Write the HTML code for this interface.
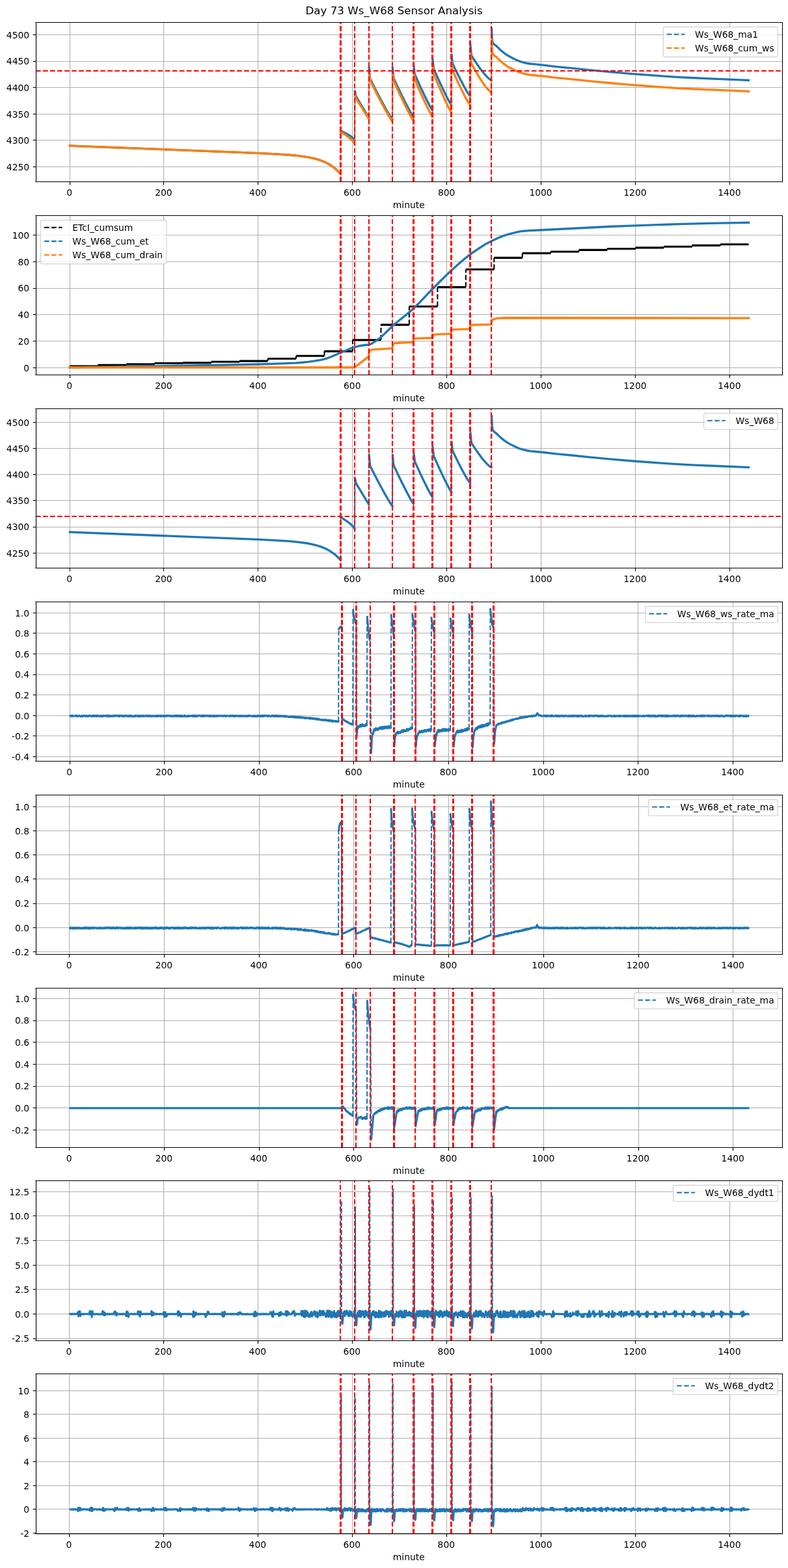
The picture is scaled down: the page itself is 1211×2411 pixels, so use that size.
<!DOCTYPE html><html><head><meta charset="utf-8"><title>Day 73 Ws_W68 Sensor Analysis</title><style>html,body{margin:0;padding:0;background:#fff;width:1211px;height:2411px;overflow:hidden}svg{display:block}</style></head><body><svg width="1211" height="2411" viewBox="0 0 871.92 1735.92" version="1.1"><defs><style type="text/css">*{stroke-linejoin: round; stroke-linecap: butt}</style></defs><g id="figure_1"><g id="patch_1"><path d="M 0 1735.92 L 871.92 1735.92 L 871.92 0 L 0 0 z" style="fill: #ffffff"/></g><g id="axes_1"><g id="patch_2"><path d="M 39.492 201.24 L 865.202 201.24 L 865.202 24.84 L 39.492 24.84 z" style="fill: #ffffff"/></g><g id="matplotlib.axis_1"><g id="xtick_1"><g id="line2d_1"><path d="M 77.4 201.24 L 77.4 24.84" clip-path="url(#p0566f9b55a)" style="fill: none; stroke: #b0b0b0; stroke-width: 0.8; stroke-linecap: square"/></g><g id="line2d_2"><defs><path id="m1504cfccaf" d="M 0 0 L 0 3.5" style="stroke: #000000; stroke-width: 0.8"/></defs><g><use href="#m1504cfccaf" x="77.4" y="201.24" style="stroke: #000000; stroke-width: 0.8"/></g></g><g id="text_1"><text style="font-size: 10px; font-family: 'DejaVu Sans', 'Liberation Sans', sans-serif; text-anchor: middle" x="76.711" y="216.558" transform="rotate(-0 76.711 216.558)">0</text></g></g><g id="xtick_2"><g id="line2d_3"><path d="M 181.08 201.24 L 181.08 24.84" clip-path="url(#p0566f9b55a)" style="fill: none; stroke: #b0b0b0; stroke-width: 0.8; stroke-linecap: square"/></g><g id="line2d_4"><g><use href="#m1504cfccaf" x="181.08" y="201.24" style="stroke: #000000; stroke-width: 0.8"/></g></g><g id="text_2"><text style="font-size: 10px; font-family: 'DejaVu Sans', 'Liberation Sans', sans-serif; text-anchor: middle" x="181.04" y="216.558" transform="rotate(-0 181.04 216.558)">200</text></g></g><g id="xtick_3"><g id="line2d_5"><path d="M 285.48 201.24 L 285.48 24.84" clip-path="url(#p0566f9b55a)" style="fill: none; stroke: #b0b0b0; stroke-width: 0.8; stroke-linecap: square"/></g><g id="line2d_6"><g><use href="#m1504cfccaf" x="285.48" y="201.24" style="stroke: #000000; stroke-width: 0.8"/></g></g><g id="text_3"><text style="font-size: 10px; font-family: 'DejaVu Sans', 'Liberation Sans', sans-serif; text-anchor: middle" x="285.369" y="216.558" transform="rotate(-0 285.369 216.558)">400</text></g></g><g id="xtick_4"><g id="line2d_7"><path d="M 389.88 201.24 L 389.88 24.84" clip-path="url(#p0566f9b55a)" style="fill: none; stroke: #b0b0b0; stroke-width: 0.8; stroke-linecap: square"/></g><g id="line2d_8"><g><use href="#m1504cfccaf" x="389.88" y="201.24" style="stroke: #000000; stroke-width: 0.8"/></g></g><g id="text_4"><text style="font-size: 10px; font-family: 'DejaVu Sans', 'Liberation Sans', sans-serif; text-anchor: middle" x="389.698" y="216.558" transform="rotate(-0 389.698 216.558)">600</text></g></g><g id="xtick_5"><g id="line2d_9"><path d="M 494.28 201.24 L 494.28 24.84" clip-path="url(#p0566f9b55a)" style="fill: none; stroke: #b0b0b0; stroke-width: 0.8; stroke-linecap: square"/></g><g id="line2d_10"><g><use href="#m1504cfccaf" x="494.28" y="201.24" style="stroke: #000000; stroke-width: 0.8"/></g></g><g id="text_5"><text style="font-size: 10px; font-family: 'DejaVu Sans', 'Liberation Sans', sans-serif; text-anchor: middle" x="494.027" y="216.558" transform="rotate(-0 494.027 216.558)">800</text></g></g><g id="xtick_6"><g id="line2d_11"><path d="M 598.68 201.24 L 598.68 24.84" clip-path="url(#p0566f9b55a)" style="fill: none; stroke: #b0b0b0; stroke-width: 0.8; stroke-linecap: square"/></g><g id="line2d_12"><g><use href="#m1504cfccaf" x="598.68" y="201.24" style="stroke: #000000; stroke-width: 0.8"/></g></g><g id="text_6"><text style="font-size: 10px; font-family: 'DejaVu Sans', 'Liberation Sans', sans-serif; text-anchor: middle" x="598.355" y="216.558" transform="rotate(-0 598.355 216.558)">1000</text></g></g><g id="xtick_7"><g id="line2d_13"><path d="M 703.08 201.24 L 703.08 24.84" clip-path="url(#p0566f9b55a)" style="fill: none; stroke: #b0b0b0; stroke-width: 0.8; stroke-linecap: square"/></g><g id="line2d_14"><g><use href="#m1504cfccaf" x="703.08" y="201.24" style="stroke: #000000; stroke-width: 0.8"/></g></g><g id="text_7"><text style="font-size: 10px; font-family: 'DejaVu Sans', 'Liberation Sans', sans-serif; text-anchor: middle" x="702.684" y="216.558" transform="rotate(-0 702.684 216.558)">1200</text></g></g><g id="xtick_8"><g id="line2d_15"><path d="M 807.48 201.24 L 807.48 24.84" clip-path="url(#p0566f9b55a)" style="fill: none; stroke: #b0b0b0; stroke-width: 0.8; stroke-linecap: square"/></g><g id="line2d_16"><g><use href="#m1504cfccaf" x="807.48" y="201.24" style="stroke: #000000; stroke-width: 0.8"/></g></g><g id="text_8"><text style="font-size: 10px; font-family: 'DejaVu Sans', 'Liberation Sans', sans-serif; text-anchor: middle" x="807.013" y="216.558" transform="rotate(-0 807.013 216.558)">1400</text></g></g><g id="text_9"><text style="font-size: 10px; font-family: 'DejaVu Sans', 'Liberation Sans', sans-serif; text-anchor: middle" x="452.347" y="230.237" transform="rotate(-0 452.347 230.237)">minute</text></g></g><g id="matplotlib.axis_2"><g id="ytick_1"><g id="line2d_17"><path d="M 39.492 184.68 L 865.202 184.68" clip-path="url(#p0566f9b55a)" style="fill: none; stroke: #b0b0b0; stroke-width: 0.8; stroke-linecap: square"/></g><g id="line2d_18"><defs><path id="m5d545ce8f8" d="M 0 0 L -3.5 0" style="stroke: #000000; stroke-width: 0.8"/></defs><g><use href="#m5d545ce8f8" x="39.96" y="184.68" style="stroke: #000000; stroke-width: 0.8"/></g></g><g id="text_10"><text style="font-size: 10px; font-family: 'DejaVu Sans', 'Liberation Sans', sans-serif; text-anchor: end" x="32.492" y="188.493" transform="rotate(-0 32.492 188.493)">4250</text></g></g><g id="ytick_2"><g id="line2d_19"><path d="M 39.492 155.16 L 865.202 155.16" clip-path="url(#p0566f9b55a)" style="fill: none; stroke: #b0b0b0; stroke-width: 0.8; stroke-linecap: square"/></g><g id="line2d_20"><g><use href="#m5d545ce8f8" x="39.96" y="155.16" style="stroke: #000000; stroke-width: 0.8"/></g></g><g id="text_11"><text style="font-size: 10px; font-family: 'DejaVu Sans', 'Liberation Sans', sans-serif; text-anchor: end" x="32.492" y="159.258" transform="rotate(-0 32.492 159.258)">4300</text></g></g><g id="ytick_3"><g id="line2d_21"><path d="M 39.492 126.36 L 865.202 126.36" clip-path="url(#p0566f9b55a)" style="fill: none; stroke: #b0b0b0; stroke-width: 0.8; stroke-linecap: square"/></g><g id="line2d_22"><g><use href="#m5d545ce8f8" x="39.96" y="126.36" style="stroke: #000000; stroke-width: 0.8"/></g></g><g id="text_12"><text style="font-size: 10px; font-family: 'DejaVu Sans', 'Liberation Sans', sans-serif; text-anchor: end" x="32.492" y="130.024" transform="rotate(-0 32.492 130.024)">4350</text></g></g><g id="ytick_4"><g id="line2d_23"><path d="M 39.492 96.84 L 865.202 96.84" clip-path="url(#p0566f9b55a)" style="fill: none; stroke: #b0b0b0; stroke-width: 0.8; stroke-linecap: square"/></g><g id="line2d_24"><g><use href="#m5d545ce8f8" x="39.96" y="96.84" style="stroke: #000000; stroke-width: 0.8"/></g></g><g id="text_13"><text style="font-size: 10px; font-family: 'DejaVu Sans', 'Liberation Sans', sans-serif; text-anchor: end" x="32.492" y="100.79" transform="rotate(-0 32.492 100.79)">4400</text></g></g><g id="ytick_5"><g id="line2d_25"><path d="M 39.492 68.04 L 865.202 68.04" clip-path="url(#p0566f9b55a)" style="fill: none; stroke: #b0b0b0; stroke-width: 0.8; stroke-linecap: square"/></g><g id="line2d_26"><g><use href="#m5d545ce8f8" x="39.96" y="68.04" style="stroke: #000000; stroke-width: 0.8"/></g></g><g id="text_14"><text style="font-size: 10px; font-family: 'DejaVu Sans', 'Liberation Sans', sans-serif; text-anchor: end" x="32.492" y="71.555" transform="rotate(-0 32.492 71.555)">4450</text></g></g><g id="ytick_6"><g id="line2d_27"><path d="M 39.492 38.52 L 865.202 38.52" clip-path="url(#p0566f9b55a)" style="fill: none; stroke: #b0b0b0; stroke-width: 0.8; stroke-linecap: square"/></g><g id="line2d_28"><g><use href="#m5d545ce8f8" x="39.96" y="38.52" style="stroke: #000000; stroke-width: 0.8"/></g></g><g id="text_15"><text style="font-size: 10px; font-family: 'DejaVu Sans', 'Liberation Sans', sans-serif; text-anchor: end" x="32.492" y="42.321" transform="rotate(-0 32.492 42.321)">4500</text></g></g></g><g id="line2d_29"><path d="M 77.34 161.31 L 288.08 169.68 L 307.9 170.7 L 319.9 171.53 L 328.77 172.35 L 335.55 173.19 L 341.29 174.12 L 345.98 175.08 L 350.16 176.13 L 353.81 177.26 L 357.46 178.62 L 360.59 180.01 L 363.72 181.65 L 366.33 183.26 L 368.94 185.11 L 371.54 187.24 L 374.15 189.72 L 376.24 191.97 L 376.76 192.58 L 376.76 192.58" clip-path="url(#p0566f9b55a)" style="fill: none; stroke: #1f77b4; stroke-width: 2.4; stroke-linecap: square"/></g><g id="line2d_30"><path d="M 377.07 145.17 L 377.6 145.26 L 378.13 145.35 L 378.66 145.61 L 379.19 145.87 L 379.72 146.13 L 380.25 146.39 L 380.78 146.66 L 381.3 146.93 L 381.83 147.21 L 382.36 147.49 L 382.89 147.78 L 383.42 148.07 L 383.95 148.36 L 384.48 148.66 L 385.01 148.97 L 385.54 149.28 L 386.06 149.6 L 386.59 149.93 L 387.12 150.27 L 387.65 150.62 L 388.18 150.98 L 388.71 151.35 L 389.24 151.74 L 389.77 152.15 L 390.29 152.59 L 390.82 153.06 L 391.35 153.58 L 391.88 154.19 L 392.41 155.17" clip-path="url(#p0566f9b55a)" style="fill: none; stroke: #1f77b4; stroke-width: 2.4; stroke-linecap: square"/></g><g id="line2d_31"><path d="M 392.72 101.08 L 393.25 103.75 L 393.78 106.37 L 394.31 107.26 L 394.84 108.14 L 395.37 109.03 L 395.9 109.92 L 396.43 110.8 L 396.95 111.69 L 397.48 112.58 L 398.01 113.47 L 398.54 114.35 L 399.07 115.24 L 399.6 116.13 L 400.13 117.01 L 400.66 117.9 L 401.18 118.79 L 401.71 119.67 L 402.24 120.56 L 402.77 121.45 L 403.3 122.33 L 403.83 123.22 L 404.36 124.11 L 404.89 125 L 405.42 125.88 L 405.94 126.77 L 406.47 127.66 L 407 128.54 L 407.53 129.43 L 408.06 130.32" clip-path="url(#p0566f9b55a)" style="fill: none; stroke: #1f77b4; stroke-width: 2.4; stroke-linecap: square"/></g><g id="line2d_32"><path d="M 408.37 74.77 L 408.9 80.96 L 409.42 87.07 L 409.95 88.12 L 410.48 89.17 L 411 90.22 L 411.53 91.26 L 412.05 92.31 L 412.58 93.35 L 413.11 94.38 L 413.63 95.42 L 414.16 96.45 L 414.68 97.48 L 415.21 98.51 L 415.74 99.53 L 416.26 100.55 L 416.79 101.57 L 417.31 102.59 L 417.84 103.6 L 418.36 104.61 L 418.89 105.61 L 419.42 106.61 L 419.94 107.61 L 420.47 108.61 L 420.99 109.6 L 421.52 110.58 L 422.05 111.57 L 422.57 112.55 L 423.1 113.52 L 423.62 114.49 L 424.15 115.45 L 424.68 116.41 L 425.2 117.37 L 425.73 118.32 L 426.25 119.26 L 426.78 120.2 L 427.31 121.12 L 427.83 122.05 L 428.36 122.96 L 428.88 123.87 L 429.41 124.77 L 429.93 125.65 L 430.46 126.53 L 430.99 127.4 L 431.51 128.24 L 432.04 129.08 L 432.56 129.89 L 433.09 130.67 L 433.62 131.42 L 434.14 132.07" clip-path="url(#p0566f9b55a)" style="fill: none; stroke: #1f77b4; stroke-width: 2.4; stroke-linecap: square"/></g><g id="line2d_33"><path d="M 434.45 75.06 L 434.98 80.82 L 435.51 86.49 L 436.03 87.62 L 436.56 88.75 L 437.09 89.87 L 437.61 90.99 L 438.14 92.11 L 438.67 93.23 L 439.19 94.35 L 439.72 95.46 L 440.25 96.56 L 440.77 97.67 L 441.3 98.77 L 441.82 99.86 L 442.35 100.96 L 442.88 102.05 L 443.4 103.13 L 443.93 104.21 L 444.46 105.29 L 444.98 106.37 L 445.51 107.43 L 446.04 108.5 L 446.56 109.56 L 447.09 110.61 L 447.61 111.66 L 448.14 112.7 L 448.67 113.74 L 449.19 114.77 L 449.72 115.8 L 450.25 116.82 L 450.77 117.83 L 451.3 118.83 L 451.83 119.83 L 452.35 120.81 L 452.88 121.79 L 453.4 122.75 L 453.93 123.71 L 454.46 124.65 L 454.98 125.57 L 455.51 126.48 L 456.04 127.36 L 456.56 128.21 L 457.09 129.02 L 457.62 129.73" clip-path="url(#p0566f9b55a)" style="fill: none; stroke: #1f77b4; stroke-width: 2.4; stroke-linecap: square"/></g><g id="line2d_34"><path d="M 457.93 73.6 L 458.46 78.03 L 458.98 82.4 L 459.51 83.58 L 460.04 84.75 L 460.56 85.93 L 461.09 87.1 L 461.62 88.26 L 462.14 89.42 L 462.67 90.58 L 463.2 91.74 L 463.73 92.89 L 464.25 94.04 L 464.78 95.18 L 465.31 96.32 L 465.83 97.45 L 466.36 98.58 L 466.89 99.7 L 467.41 100.82 L 467.94 101.94 L 468.47 103.04 L 469 104.15 L 469.52 105.24 L 470.05 106.33 L 470.58 107.41 L 471.1 108.49 L 471.63 109.56 L 472.16 110.62 L 472.68 111.67 L 473.21 112.71 L 473.74 113.74 L 474.27 114.76 L 474.79 115.77 L 475.32 116.76 L 475.85 117.74 L 476.37 118.69 L 476.9 119.63 L 477.43 120.53 L 477.95 121.38 L 478.48 122.13" clip-path="url(#p0566f9b55a)" style="fill: none; stroke: #1f77b4; stroke-width: 2.4; stroke-linecap: square"/></g><g id="line2d_35"><path d="M 478.79 66.24 L 479.32 71.14 L 479.85 75.97 L 480.38 77.16 L 480.9 78.36 L 481.43 79.55 L 481.96 80.73 L 482.48 81.92 L 483.01 83.1 L 483.54 84.27 L 484.06 85.44 L 484.59 86.61 L 485.12 87.78 L 485.65 88.93 L 486.17 90.09 L 486.7 91.24 L 487.23 92.39 L 487.75 93.53 L 488.28 94.66 L 488.81 95.79 L 489.33 96.92 L 489.86 98.03 L 490.39 99.15 L 490.92 100.25 L 491.44 101.35 L 491.97 102.44 L 492.5 103.53 L 493.02 104.6 L 493.55 105.67 L 494.08 106.72 L 494.6 107.77 L 495.13 108.81 L 495.66 109.83 L 496.19 110.83 L 496.71 111.82 L 497.24 112.8 L 497.77 113.74 L 498.29 114.66 L 498.82 115.53 L 499.35 116.29" clip-path="url(#p0566f9b55a)" style="fill: none; stroke: #1f77b4; stroke-width: 2.4; stroke-linecap: square"/></g><g id="line2d_36"><path d="M 499.66 60.45 L 500.19 65.32 L 500.71 70.12 L 501.24 71.24 L 501.77 72.36 L 502.3 73.47 L 502.82 74.58 L 503.35 75.69 L 503.88 76.79 L 504.4 77.88 L 504.93 78.97 L 505.46 80.05 L 505.98 81.13 L 506.51 82.2 L 507.04 83.27 L 507.57 84.32 L 508.09 85.38 L 508.62 86.42 L 509.15 87.46 L 509.67 88.49 L 510.2 89.51 L 510.73 90.53 L 511.25 91.53 L 511.78 92.53 L 512.31 93.52 L 512.84 94.5 L 513.36 95.46 L 513.89 96.42 L 514.42 97.37 L 514.94 98.3 L 515.47 99.22 L 516 100.12 L 516.52 101.01 L 517.05 101.87 L 517.58 102.72 L 518.11 103.54 L 518.63 104.33 L 519.16 105.08 L 519.69 105.78 L 520.21 106.35" clip-path="url(#p0566f9b55a)" style="fill: none; stroke: #1f77b4; stroke-width: 2.4; stroke-linecap: square"/></g><g id="line2d_37"><path d="M 520.53 50.51 L 521.05 55.97 L 521.58 61.34 L 522.11 62.19 L 522.63 63.03 L 523.16 63.86 L 523.68 64.69 L 524.21 65.51 L 524.74 66.33 L 525.26 67.14 L 525.79 67.94 L 526.32 68.73 L 526.84 69.52 L 527.37 70.3 L 527.9 71.07 L 528.42 71.84 L 528.95 72.59 L 529.47 73.34 L 530 74.08 L 530.53 74.81 L 531.05 75.54 L 531.58 76.25 L 532.11 76.96 L 532.63 77.65 L 533.16 78.34 L 533.69 79.01 L 534.21 79.68 L 534.74 80.33 L 535.26 80.97 L 535.79 81.6 L 536.32 82.22 L 536.84 82.83 L 537.37 83.42 L 537.9 83.99 L 538.42 84.55 L 538.95 85.1 L 539.48 85.62 L 540 86.13 L 540.53 86.62 L 541.06 87.08 L 541.58 87.51 L 542.11 87.92 L 542.63 88.28 L 543.16 88.59 L 543.69 88.8" clip-path="url(#p0566f9b55a)" style="fill: none; stroke: #1f77b4; stroke-width: 2.4; stroke-linecap: square"/></g><g id="line2d_38"><path d="M 544 31.51 L 544.52 43.38 L 545.04 46.36 L 545.56 47.48 L 546.09 48.31 L 547.13 49.4 L 549.22 50.88 L 552.87 54.49 L 556 57.21 L 558.61 59.27 L 561.21 61.03 L 564.34 62.85 L 569.56 65.54 L 572.69 67 L 575.3 67.98 L 579.47 69.19 L 583.12 70.03 L 586.25 70.55 L 590.95 71.06 L 601.38 72.08 L 614.42 73.66 L 638.42 76 L 651.98 77.45 L 677.54 79.86 L 699.97 81.76 L 729.71 84.01 L 750.05 85.35 L 766.74 86.23 L 789.17 87.16 L 819.43 88.44 L 828.3 88.85 L 828.3 88.85" clip-path="url(#p0566f9b55a)" style="fill: none; stroke: #1f77b4; stroke-width: 2.4; stroke-linecap: square"/></g><g id="line2d_39"><path d="M 376.761 192.581 L 377.074 145.169" clip-path="url(#p0566f9b55a)" style="fill: none; stroke-dasharray: 5.55,2.4; stroke-dashoffset: 0; stroke: #1f77b4; stroke-width: 1.5"/></g><g id="line2d_40"><path d="M 392.41 155.167 L 392.723 101.083" clip-path="url(#p0566f9b55a)" style="fill: none; stroke-dasharray: 5.55,2.4; stroke-dashoffset: 0; stroke: #1f77b4; stroke-width: 1.5"/></g><g id="line2d_41"><path d="M 408.06 130.317 L 408.373 74.772" clip-path="url(#p0566f9b55a)" style="fill: none; stroke-dasharray: 5.55,2.4; stroke-dashoffset: 0; stroke: #1f77b4; stroke-width: 1.5"/></g><g id="line2d_42"><path d="M 434.142 132.072 L 434.455 75.065" clip-path="url(#p0566f9b55a)" style="fill: none; stroke-dasharray: 5.55,2.4; stroke-dashoffset: 0; stroke: #1f77b4; stroke-width: 1.5"/></g><g id="line2d_43"><path d="M 457.616 129.733 L 457.929 73.603" clip-path="url(#p0566f9b55a)" style="fill: none; stroke-dasharray: 5.55,2.4; stroke-dashoffset: 0; stroke: #1f77b4; stroke-width: 1.5"/></g><g id="line2d_44"><path d="M 478.482 122.132 L 478.795 66.236" clip-path="url(#p0566f9b55a)" style="fill: none; stroke-dasharray: 5.55,2.4; stroke-dashoffset: 0; stroke: #1f77b4; stroke-width: 1.5"/></g><g id="line2d_45"><path d="M 499.347 116.285 L 499.66 60.447" clip-path="url(#p0566f9b55a)" style="fill: none; stroke-dasharray: 5.55,2.4; stroke-dashoffset: 0; stroke: #1f77b4; stroke-width: 1.5"/></g><g id="line2d_46"><path d="M 520.213 106.345 L 520.526 50.508" clip-path="url(#p0566f9b55a)" style="fill: none; stroke-dasharray: 5.55,2.4; stroke-dashoffset: 0; stroke: #1f77b4; stroke-width: 1.5"/></g><g id="line2d_47"><path d="M 543.687 88.805 L 544 31.505" clip-path="url(#p0566f9b55a)" style="fill: none; stroke-dasharray: 5.55,2.4; stroke-dashoffset: 0; stroke: #1f77b4; stroke-width: 1.5"/></g><g id="line2d_48"><path d="M 77.34 161.31 L 288.08 169.68 L 307.9 170.7 L 319.9 171.53 L 328.77 172.35 L 335.55 173.19 L 341.29 174.12 L 345.98 175.08 L 350.16 176.13 L 353.81 177.26 L 357.46 178.62 L 360.59 180.01 L 363.72 181.65 L 366.33 183.26 L 368.94 185.11 L 371.54 187.24 L 374.15 189.72 L 376.24 191.97 L 376.76 192.58 L 376.76 192.58" clip-path="url(#p0566f9b55a)" style="fill: none; stroke: #ff7f0e; stroke-width: 2.4; stroke-linecap: square"/></g><g id="line2d_49"><path d="M 377.07 146.4 L 377.6 146.54 L 378.13 146.7 L 378.66 147.03 L 379.19 147.37 L 379.72 147.72 L 380.25 148.06 L 380.78 148.41 L 381.3 148.77 L 381.83 149.13 L 382.36 149.5 L 382.89 149.87 L 383.42 150.25 L 383.95 150.64 L 384.48 151.03 L 385.01 151.44 L 385.54 151.85 L 386.06 152.27 L 386.59 152.7 L 387.12 153.14 L 387.65 153.59 L 388.18 154.07 L 388.71 154.56 L 389.24 155.07 L 389.77 155.6 L 390.29 156.17 L 390.82 156.79 L 391.35 157.47 L 391.88 158.27 L 392.41 159.55" clip-path="url(#p0566f9b55a)" style="fill: none; stroke: #ff7f0e; stroke-width: 2.4; stroke-linecap: square"/></g><g id="line2d_50"><path d="M 392.72 105.18 L 393.25 106.95 L 393.78 108.71 L 394.31 109.55 L 394.84 110.39 L 395.37 111.24 L 395.9 112.08 L 396.43 112.93 L 396.95 113.77 L 397.48 114.61 L 398.01 115.46 L 398.54 116.3 L 399.07 117.14 L 399.6 117.99 L 400.13 118.83 L 400.66 119.68 L 401.18 120.52 L 401.71 121.36 L 402.24 122.21 L 402.77 123.05 L 403.3 123.89 L 403.83 124.74 L 404.36 125.58 L 404.89 126.42 L 405.42 127.27 L 405.94 128.11 L 406.47 128.96 L 407 129.8 L 407.53 130.64 L 408.06 131.49" clip-path="url(#p0566f9b55a)" style="fill: none; stroke: #ff7f0e; stroke-width: 2.4; stroke-linecap: square"/></g><g id="line2d_51"><path d="M 408.37 80.62 L 408.9 84.75 L 409.42 88.82 L 409.95 89.89 L 410.48 90.95 L 411 92.01 L 411.53 93.07 L 412.05 94.13 L 412.58 95.18 L 413.11 96.23 L 413.63 97.28 L 414.16 98.33 L 414.68 99.37 L 415.21 100.41 L 415.74 101.45 L 416.26 102.48 L 416.79 103.51 L 417.31 104.54 L 417.84 105.57 L 418.36 106.59 L 418.89 107.61 L 419.42 108.62 L 419.94 109.63 L 420.47 110.64 L 420.99 111.64 L 421.52 112.64 L 422.05 113.64 L 422.57 114.63 L 423.1 115.62 L 423.62 116.6 L 424.15 117.58 L 424.68 118.55 L 425.2 119.52 L 425.73 120.48 L 426.25 121.43 L 426.78 122.38 L 427.31 123.32 L 427.83 124.26 L 428.36 125.18 L 428.88 126.1 L 429.41 127.01 L 429.93 127.91 L 430.46 128.8 L 430.99 129.67 L 431.51 130.53 L 432.04 131.38 L 432.56 132.2 L 433.09 133 L 433.62 133.75 L 434.14 134.41" clip-path="url(#p0566f9b55a)" style="fill: none; stroke: #ff7f0e; stroke-width: 2.4; stroke-linecap: square"/></g><g id="line2d_52"><path d="M 434.45 82.02 L 434.98 85.74 L 435.51 89.41 L 436.03 90.57 L 436.56 91.73 L 437.09 92.89 L 437.61 94.04 L 438.14 95.19 L 438.67 96.34 L 439.19 97.48 L 439.72 98.62 L 440.25 99.76 L 440.77 100.89 L 441.3 102.02 L 441.82 103.15 L 442.35 104.27 L 442.88 105.39 L 443.4 106.51 L 443.93 107.62 L 444.46 108.72 L 444.98 109.83 L 445.51 110.92 L 446.04 112.02 L 446.56 113.11 L 447.09 114.19 L 447.61 115.27 L 448.14 116.34 L 448.67 117.4 L 449.19 118.46 L 449.72 119.52 L 450.25 120.56 L 450.77 121.6 L 451.3 122.63 L 451.83 123.65 L 452.35 124.66 L 452.88 125.67 L 453.4 126.66 L 453.93 127.64 L 454.46 128.6 L 454.98 129.55 L 455.51 130.48 L 456.04 131.39 L 456.56 132.27 L 457.09 133.1 L 457.62 133.83" clip-path="url(#p0566f9b55a)" style="fill: none; stroke: #ff7f0e; stroke-width: 2.4; stroke-linecap: square"/></g><g id="line2d_53"><path d="M 457.93 80.62 L 458.46 84.46 L 458.98 88.24 L 459.51 89.46 L 460.04 90.67 L 460.56 91.88 L 461.09 93.08 L 461.62 94.28 L 462.14 95.48 L 462.67 96.67 L 463.2 97.86 L 463.73 99.05 L 464.25 100.23 L 464.78 101.4 L 465.31 102.57 L 465.83 103.74 L 466.36 104.9 L 466.89 106.06 L 467.41 107.21 L 467.94 108.36 L 468.47 109.5 L 469 110.63 L 469.52 111.76 L 470.05 112.88 L 470.58 114 L 471.1 115.1 L 471.63 116.2 L 472.16 117.29 L 472.68 118.38 L 473.21 119.45 L 473.74 120.51 L 474.27 121.56 L 474.79 122.6 L 475.32 123.62 L 475.85 124.62 L 476.37 125.61 L 476.9 126.57 L 477.43 127.5 L 477.95 128.38 L 478.48 129.15" clip-path="url(#p0566f9b55a)" style="fill: none; stroke: #ff7f0e; stroke-width: 2.4; stroke-linecap: square"/></g><g id="line2d_54"><path d="M 478.79 73.6 L 479.32 77.74 L 479.85 81.81 L 480.38 83.08 L 480.9 84.34 L 481.43 85.6 L 481.96 86.86 L 482.48 88.11 L 483.01 89.36 L 483.54 90.6 L 484.06 91.84 L 484.59 93.08 L 485.12 94.31 L 485.65 95.54 L 486.17 96.76 L 486.7 97.97 L 487.23 99.19 L 487.75 100.39 L 488.28 101.59 L 488.81 102.79 L 489.33 103.98 L 489.86 105.16 L 490.39 106.34 L 490.92 107.51 L 491.44 108.67 L 491.97 109.83 L 492.5 110.97 L 493.02 112.11 L 493.55 113.24 L 494.08 114.36 L 494.6 115.46 L 495.13 116.56 L 495.66 117.64 L 496.19 118.7 L 496.71 119.75 L 497.24 120.78 L 497.77 121.78 L 498.29 122.75 L 498.82 123.67 L 499.35 124.47" clip-path="url(#p0566f9b55a)" style="fill: none; stroke: #ff7f0e; stroke-width: 2.4; stroke-linecap: square"/></g><g id="line2d_55"><path d="M 499.66 68.93 L 500.19 73.36 L 500.71 77.72 L 501.24 78.92 L 501.77 80.11 L 502.3 81.29 L 502.82 82.47 L 503.35 83.65 L 503.88 84.82 L 504.4 85.98 L 504.93 87.14 L 505.46 88.3 L 505.98 89.44 L 506.51 90.58 L 507.04 91.72 L 507.57 92.84 L 508.09 93.96 L 508.62 95.07 L 509.15 96.18 L 509.67 97.28 L 510.2 98.37 L 510.73 99.45 L 511.25 100.52 L 511.78 101.58 L 512.31 102.63 L 512.84 103.67 L 513.36 104.7 L 513.89 105.72 L 514.42 106.73 L 514.94 107.72 L 515.47 108.7 L 516 109.66 L 516.52 110.6 L 517.05 111.52 L 517.58 112.43 L 518.11 113.3 L 518.63 114.14 L 519.16 114.94 L 519.69 115.68 L 520.21 116.29" clip-path="url(#p0566f9b55a)" style="fill: none; stroke: #ff7f0e; stroke-width: 2.4; stroke-linecap: square"/></g><g id="line2d_56"><path d="M 520.53 58.99 L 521.05 64.59 L 521.58 70.11 L 522.11 71.1 L 522.63 72.09 L 523.16 73.06 L 523.68 74.03 L 524.21 75 L 524.74 75.95 L 525.26 76.89 L 525.79 77.83 L 526.32 78.76 L 526.84 79.68 L 527.37 80.6 L 527.9 81.5 L 528.42 82.39 L 528.95 83.28 L 529.47 84.16 L 530 85.02 L 530.53 85.88 L 531.05 86.73 L 531.58 87.56 L 532.11 88.39 L 532.63 89.2 L 533.16 90 L 533.69 90.79 L 534.21 91.57 L 534.74 92.34 L 535.26 93.09 L 535.79 93.82 L 536.32 94.55 L 536.84 95.25 L 537.37 95.95 L 537.9 96.62 L 538.42 97.28 L 538.95 97.91 L 539.48 98.53 L 540 99.12 L 540.53 99.69 L 541.06 100.23 L 541.58 100.74 L 542.11 101.21 L 542.63 101.64 L 543.16 102 L 543.69 102.25" clip-path="url(#p0566f9b55a)" style="fill: none; stroke: #ff7f0e; stroke-width: 2.4; stroke-linecap: square"/></g><g id="line2d_57"><path d="M 544 43.43 L 544.52 55.61 L 545.04 58.64 L 545.56 59.76 L 546.09 60.6 L 547.13 61.68 L 549.22 63.16 L 552.87 66.76 L 556 69.49 L 558.61 71.55 L 561.21 73.31 L 564.34 75.12 L 569.56 77.82 L 572.69 79.28 L 575.3 80.26 L 579.47 81.47 L 583.12 82.3 L 586.25 82.83 L 590.95 83.34 L 601.38 84.36 L 614.42 85.94 L 638.42 88.28 L 651.98 89.73 L 677.54 92.14 L 699.97 94.04 L 729.71 96.29 L 750.05 97.62 L 766.74 98.51 L 789.17 99.43 L 819.43 100.72 L 828.3 101.13 L 828.3 101.13" clip-path="url(#p0566f9b55a)" style="fill: none; stroke: #ff7f0e; stroke-width: 2.4; stroke-linecap: square"/></g><g id="line2d_58"><path d="M 376.761 192.581 L 377.074 146.396" clip-path="url(#p0566f9b55a)" style="fill: none; stroke-dasharray: 5.55,2.4; stroke-dashoffset: 0; stroke: #ff7f0e; stroke-width: 1.5"/></g><g id="line2d_59"><path d="M 392.41 159.552 L 392.723 105.176" clip-path="url(#p0566f9b55a)" style="fill: none; stroke-dasharray: 5.55,2.4; stroke-dashoffset: 0; stroke: #ff7f0e; stroke-width: 1.5"/></g><g id="line2d_60"><path d="M 408.06 131.487 L 408.373 80.619" clip-path="url(#p0566f9b55a)" style="fill: none; stroke-dasharray: 5.55,2.4; stroke-dashoffset: 0; stroke: #ff7f0e; stroke-width: 1.5"/></g><g id="line2d_61"><path d="M 434.142 134.41 L 434.455 82.022" clip-path="url(#p0566f9b55a)" style="fill: none; stroke-dasharray: 5.55,2.4; stroke-dashoffset: 0; stroke: #ff7f0e; stroke-width: 1.5"/></g><g id="line2d_62"><path d="M 457.616 133.826 L 457.929 80.619" clip-path="url(#p0566f9b55a)" style="fill: none; stroke-dasharray: 5.55,2.4; stroke-dashoffset: 0; stroke: #ff7f0e; stroke-width: 1.5"/></g><g id="line2d_63"><path d="M 478.482 129.148 L 478.795 73.603" clip-path="url(#p0566f9b55a)" style="fill: none; stroke-dasharray: 5.55,2.4; stroke-dashoffset: 0; stroke: #ff7f0e; stroke-width: 1.5"/></g><g id="line2d_64"><path d="M 499.347 124.471 L 499.66 68.925" clip-path="url(#p0566f9b55a)" style="fill: none; stroke-dasharray: 5.55,2.4; stroke-dashoffset: 0; stroke: #ff7f0e; stroke-width: 1.5"/></g><g id="line2d_65"><path d="M 520.213 116.285 L 520.526 58.986" clip-path="url(#p0566f9b55a)" style="fill: none; stroke-dasharray: 5.55,2.4; stroke-dashoffset: 0; stroke: #ff7f0e; stroke-width: 1.5"/></g><g id="line2d_66"><path d="M 543.687 102.253 L 544 43.433" clip-path="url(#p0566f9b55a)" style="fill: none; stroke-dasharray: 5.55,2.4; stroke-dashoffset: 0; stroke: #ff7f0e; stroke-width: 1.5"/></g><g id="line2d_67"><path d="M 39.492 78.48 L 865.202 78.48" clip-path="url(#p0566f9b55a)" style="fill: none; stroke-dasharray: 5.55,2.4; stroke-dashoffset: 0; stroke: #ff0000; stroke-width: 1.5"/></g><g id="line2d_68"><path d="M 376.56 201.24 L 376.56 24.84" clip-path="url(#p0566f9b55a)" style="fill: none; stroke-dasharray: 5.55,2.4; stroke-dashoffset: 0; stroke: #ff0000; stroke-width: 1.5"/></g><g id="line2d_69"><path d="M 377.28 201.24 L 377.28 24.84" clip-path="url(#p0566f9b55a)" style="fill: none; stroke-dasharray: 5.55,2.4; stroke-dashoffset: 0; stroke: #ff0000; stroke-width: 1.5"/></g><g id="line2d_70"><path d="M 392.4 201.24 L 392.4 24.84" clip-path="url(#p0566f9b55a)" style="fill: none; stroke-dasharray: 5.55,2.4; stroke-dashoffset: 0; stroke: #ff0000; stroke-width: 1.5"/></g><g id="line2d_71"><path d="M 408.24 201.24 L 408.24 24.84" clip-path="url(#p0566f9b55a)" style="fill: none; stroke-dasharray: 5.55,2.4; stroke-dashoffset: 0; stroke: #ff0000; stroke-width: 1.5"/></g><g id="line2d_72"><path d="M 434.16 201.24 L 434.16 24.84" clip-path="url(#p0566f9b55a)" style="fill: none; stroke-dasharray: 5.55,2.4; stroke-dashoffset: 0; stroke: #ff0000; stroke-width: 1.5"/></g><g id="line2d_73"><path d="M 457.2 201.24 L 457.2 24.84" clip-path="url(#p0566f9b55a)" style="fill: none; stroke-dasharray: 5.55,2.4; stroke-dashoffset: 0; stroke: #ff0000; stroke-width: 1.5"/></g><g id="line2d_74"><path d="M 457.92 201.24 L 457.92 24.84" clip-path="url(#p0566f9b55a)" style="fill: none; stroke-dasharray: 5.55,2.4; stroke-dashoffset: 0; stroke: #ff0000; stroke-width: 1.5"/></g><g id="line2d_75"><path d="M 478.08 201.24 L 478.08 24.84" clip-path="url(#p0566f9b55a)" style="fill: none; stroke-dasharray: 5.55,2.4; stroke-dashoffset: 0; stroke: #ff0000; stroke-width: 1.5"/></g><g id="line2d_76"><path d="M 478.8 201.24 L 478.8 24.84" clip-path="url(#p0566f9b55a)" style="fill: none; stroke-dasharray: 5.55,2.4; stroke-dashoffset: 0; stroke: #ff0000; stroke-width: 1.5"/></g><g id="line2d_77"><path d="M 498.96 201.24 L 498.96 24.84" clip-path="url(#p0566f9b55a)" style="fill: none; stroke-dasharray: 5.55,2.4; stroke-dashoffset: 0; stroke: #ff0000; stroke-width: 1.5"/></g><g id="line2d_78"><path d="M 499.68 201.24 L 499.68 24.84" clip-path="url(#p0566f9b55a)" style="fill: none; stroke-dasharray: 5.55,2.4; stroke-dashoffset: 0; stroke: #ff0000; stroke-width: 1.5"/></g><g id="line2d_79"><path d="M 519.84 201.24 L 519.84 24.84" clip-path="url(#p0566f9b55a)" style="fill: none; stroke-dasharray: 5.55,2.4; stroke-dashoffset: 0; stroke: #ff0000; stroke-width: 1.5"/></g><g id="line2d_80"><path d="M 520.56 201.24 L 520.56 24.84" clip-path="url(#p0566f9b55a)" style="fill: none; stroke-dasharray: 5.55,2.4; stroke-dashoffset: 0; stroke: #ff0000; stroke-width: 1.5"/></g><g id="line2d_81"><path d="M 543.6 201.24 L 543.6 24.84" clip-path="url(#p0566f9b55a)" style="fill: none; stroke-dasharray: 5.55,2.4; stroke-dashoffset: 0; stroke: #ff0000; stroke-width: 1.5"/></g><g id="patch_3"><path d="M 39.96 201.24 L 39.96 24.84" style="fill: none; stroke: #000000; stroke-width: 0.8; stroke-linejoin: miter; stroke-linecap: square"/></g><g id="patch_4"><path d="M 865.8 201.24 L 865.8 24.84" style="fill: none; stroke: #000000; stroke-width: 0.8; stroke-linejoin: miter; stroke-linecap: square"/></g><g id="patch_5"><path d="M 39.492 201.24 L 865.202 201.24" style="fill: none; stroke: #000000; stroke-width: 0.8; stroke-linejoin: miter; stroke-linecap: square"/></g><g id="patch_6"><path d="M 39.492 24.84 L 865.202 24.84" style="fill: none; stroke: #000000; stroke-width: 0.8; stroke-linejoin: miter; stroke-linecap: square"/></g><g id="legend_1"><g id="patch_7"><path d="M 735.8 63.05 L 858.67 63.05 Q 860.67 63.05 860.67 61.05 L 860.67 31.84 Q 860.67 29.84 858.67 29.84 L 735.8 29.84 Q 733.8 29.84 733.8 31.84 L 733.8 61.05 Q 733.8 63.05 735.8 63.05 z" style="fill: #ffffff; opacity: 0.8; stroke: #cccccc; stroke-linejoin: miter"/></g><g id="line2d_82"><path d="M 737.797 37.938 L 747.797 37.938 L 757.797 37.938" style="fill: none; stroke-dasharray: 5.55,2.4; stroke-dashoffset: 0; stroke: #1f77b4; stroke-width: 1.5"/><defs><path id="meb56f628bb" d="M -0.5 0.5 L 0.5 0.5 L 0.5 -0.5 L -0.5 -0.5 z"/></defs><g><use href="#meb56f628bb" x="747.797" y="38.738" style="fill: #1f77b4"/></g></g><g id="text_16"><text style="font-size: 10px; font-family: 'DejaVu Sans', 'Liberation Sans', sans-serif; text-anchor: start" x="768.997" y="41.438" transform="rotate(-0 768.997 41.438)">Ws_W68_ma1</text></g><g id="line2d_83"><path d="M 737.797 53.195 L 747.797 53.195 L 757.797 53.195" style="fill: none; stroke-dasharray: 5.55,2.4; stroke-dashoffset: 0; stroke: #ff7f0e; stroke-width: 1.5"/><defs><path id="m45059900d2" d="M -0.5 0.5 L 0.5 0.5 L 0.5 -0.5 L -0.5 -0.5 z"/></defs><g><use href="#m45059900d2" x="747.797" y="53.995" style="fill: #ff7f0e"/></g></g><g id="text_17"><text style="font-size: 10px; font-family: 'DejaVu Sans', 'Liberation Sans', sans-serif; text-anchor: start" x="768.997" y="56.695" transform="rotate(-0 768.997 56.695)">Ws_W68_cum_ws</text></g></g></g><g id="axes_2"><g id="patch_8"><path d="M 39.492 415.08 L 865.202 415.08 L 865.202 238.68 L 39.492 238.68 z" style="fill: #ffffff"/></g><g id="matplotlib.axis_3"><g id="xtick_9"><g id="line2d_84"><path d="M 77.4 415.08 L 77.4 238.68" clip-path="url(#p34ffaf416b)" style="fill: none; stroke: #b0b0b0; stroke-width: 0.8; stroke-linecap: square"/></g><g id="line2d_85"><g><use href="#m1504cfccaf" x="77.4" y="415.08" style="stroke: #000000; stroke-width: 0.8"/></g></g><g id="text_18"><text style="font-size: 10px; font-family: 'DejaVu Sans', 'Liberation Sans', sans-serif; text-anchor: middle" x="76.711" y="430.398" transform="rotate(-0 76.711 430.398)">0</text></g></g><g id="xtick_10"><g id="line2d_86"><path d="M 181.08 415.08 L 181.08 238.68" clip-path="url(#p34ffaf416b)" style="fill: none; stroke: #b0b0b0; stroke-width: 0.8; stroke-linecap: square"/></g><g id="line2d_87"><g><use href="#m1504cfccaf" x="181.08" y="415.08" style="stroke: #000000; stroke-width: 0.8"/></g></g><g id="text_19"><text style="font-size: 10px; font-family: 'DejaVu Sans', 'Liberation Sans', sans-serif; text-anchor: middle" x="181.04" y="430.398" transform="rotate(-0 181.04 430.398)">200</text></g></g><g id="xtick_11"><g id="line2d_88"><path d="M 285.48 415.08 L 285.48 238.68" clip-path="url(#p34ffaf416b)" style="fill: none; stroke: #b0b0b0; stroke-width: 0.8; stroke-linecap: square"/></g><g id="line2d_89"><g><use href="#m1504cfccaf" x="285.48" y="415.08" style="stroke: #000000; stroke-width: 0.8"/></g></g><g id="text_20"><text style="font-size: 10px; font-family: 'DejaVu Sans', 'Liberation Sans', sans-serif; text-anchor: middle" x="285.369" y="430.398" transform="rotate(-0 285.369 430.398)">400</text></g></g><g id="xtick_12"><g id="line2d_90"><path d="M 389.88 415.08 L 389.88 238.68" clip-path="url(#p34ffaf416b)" style="fill: none; stroke: #b0b0b0; stroke-width: 0.8; stroke-linecap: square"/></g><g id="line2d_91"><g><use href="#m1504cfccaf" x="389.88" y="415.08" style="stroke: #000000; stroke-width: 0.8"/></g></g><g id="text_21"><text style="font-size: 10px; font-family: 'DejaVu Sans', 'Liberation Sans', sans-serif; text-anchor: middle" x="389.698" y="430.398" transform="rotate(-0 389.698 430.398)">600</text></g></g><g id="xtick_13"><g id="line2d_92"><path d="M 494.28 415.08 L 494.28 238.68" clip-path="url(#p34ffaf416b)" style="fill: none; stroke: #b0b0b0; stroke-width: 0.8; stroke-linecap: square"/></g><g id="line2d_93"><g><use href="#m1504cfccaf" x="494.28" y="415.08" style="stroke: #000000; stroke-width: 0.8"/></g></g><g id="text_22"><text style="font-size: 10px; font-family: 'DejaVu Sans', 'Liberation Sans', sans-serif; text-anchor: middle" x="494.027" y="430.398" transform="rotate(-0 494.027 430.398)">800</text></g></g><g id="xtick_14"><g id="line2d_94"><path d="M 598.68 415.08 L 598.68 238.68" clip-path="url(#p34ffaf416b)" style="fill: none; stroke: #b0b0b0; stroke-width: 0.8; stroke-linecap: square"/></g><g id="line2d_95"><g><use href="#m1504cfccaf" x="598.68" y="415.08" style="stroke: #000000; stroke-width: 0.8"/></g></g><g id="text_23"><text style="font-size: 10px; font-family: 'DejaVu Sans', 'Liberation Sans', sans-serif; text-anchor: middle" x="598.355" y="430.398" transform="rotate(-0 598.355 430.398)">1000</text></g></g><g id="xtick_15"><g id="line2d_96"><path d="M 703.08 415.08 L 703.08 238.68" clip-path="url(#p34ffaf416b)" style="fill: none; stroke: #b0b0b0; stroke-width: 0.8; stroke-linecap: square"/></g><g id="line2d_97"><g><use href="#m1504cfccaf" x="703.08" y="415.08" style="stroke: #000000; stroke-width: 0.8"/></g></g><g id="text_24"><text style="font-size: 10px; font-family: 'DejaVu Sans', 'Liberation Sans', sans-serif; text-anchor: middle" x="702.684" y="430.398" transform="rotate(-0 702.684 430.398)">1200</text></g></g><g id="xtick_16"><g id="line2d_98"><path d="M 807.48 415.08 L 807.48 238.68" clip-path="url(#p34ffaf416b)" style="fill: none; stroke: #b0b0b0; stroke-width: 0.8; stroke-linecap: square"/></g><g id="line2d_99"><g><use href="#m1504cfccaf" x="807.48" y="415.08" style="stroke: #000000; stroke-width: 0.8"/></g></g><g id="text_25"><text style="font-size: 10px; font-family: 'DejaVu Sans', 'Liberation Sans', sans-serif; text-anchor: middle" x="807.013" y="430.398" transform="rotate(-0 807.013 430.398)">1400</text></g></g><g id="text_26"><text style="font-size: 10px; font-family: 'DejaVu Sans', 'Liberation Sans', sans-serif; text-anchor: middle" x="452.347" y="444.077" transform="rotate(-0 452.347 444.077)">minute</text></g></g><g id="matplotlib.axis_4"><g id="ytick_7"><g id="line2d_100"><path d="M 39.492 407.16 L 865.202 407.16" clip-path="url(#p34ffaf416b)" style="fill: none; stroke: #b0b0b0; stroke-width: 0.8; stroke-linecap: square"/></g><g id="line2d_101"><g><use href="#m5d545ce8f8" x="39.96" y="407.16" style="stroke: #000000; stroke-width: 0.8"/></g></g><g id="text_27"><text style="font-size: 10px; font-family: 'DejaVu Sans', 'Liberation Sans', sans-serif; text-anchor: end" x="32.492" y="410.892" transform="rotate(-0 32.492 410.892)">0</text></g></g><g id="ytick_8"><g id="line2d_102"><path d="M 39.492 377.64 L 865.202 377.64" clip-path="url(#p34ffaf416b)" style="fill: none; stroke: #b0b0b0; stroke-width: 0.8; stroke-linecap: square"/></g><g id="line2d_103"><g><use href="#m5d545ce8f8" x="39.96" y="377.64" style="stroke: #000000; stroke-width: 0.8"/></g></g><g id="text_28"><text style="font-size: 10px; font-family: 'DejaVu Sans', 'Liberation Sans', sans-serif; text-anchor: end" x="32.492" y="381.526" transform="rotate(-0 32.492 381.526)">20</text></g></g><g id="ytick_9"><g id="line2d_104"><path d="M 39.492 348.12 L 865.202 348.12" clip-path="url(#p34ffaf416b)" style="fill: none; stroke: #b0b0b0; stroke-width: 0.8; stroke-linecap: square"/></g><g id="line2d_105"><g><use href="#m5d545ce8f8" x="39.96" y="348.12" style="stroke: #000000; stroke-width: 0.8"/></g></g><g id="text_29"><text style="font-size: 10px; font-family: 'DejaVu Sans', 'Liberation Sans', sans-serif; text-anchor: end" x="32.492" y="352.16" transform="rotate(-0 32.492 352.16)">40</text></g></g><g id="ytick_10"><g id="line2d_106"><path d="M 39.492 319.32 L 865.202 319.32" clip-path="url(#p34ffaf416b)" style="fill: none; stroke: #b0b0b0; stroke-width: 0.8; stroke-linecap: square"/></g><g id="line2d_107"><g><use href="#m5d545ce8f8" x="39.96" y="319.32" style="stroke: #000000; stroke-width: 0.8"/></g></g><g id="text_30"><text style="font-size: 10px; font-family: 'DejaVu Sans', 'Liberation Sans', sans-serif; text-anchor: end" x="32.492" y="322.795" transform="rotate(-0 32.492 322.795)">60</text></g></g><g id="ytick_11"><g id="line2d_108"><path d="M 39.492 289.8 L 865.202 289.8" clip-path="url(#p34ffaf416b)" style="fill: none; stroke: #b0b0b0; stroke-width: 0.8; stroke-linecap: square"/></g><g id="line2d_109"><g><use href="#m5d545ce8f8" x="39.96" y="289.8" style="stroke: #000000; stroke-width: 0.8"/></g></g><g id="text_31"><text style="font-size: 10px; font-family: 'DejaVu Sans', 'Liberation Sans', sans-serif; text-anchor: end" x="32.492" y="293.429" transform="rotate(-0 32.492 293.429)">80</text></g></g><g id="ytick_12"><g id="line2d_110"><path d="M 39.492 260.28 L 865.202 260.28" clip-path="url(#p34ffaf416b)" style="fill: none; stroke: #b0b0b0; stroke-width: 0.8; stroke-linecap: square"/></g><g id="line2d_111"><g><use href="#m5d545ce8f8" x="39.96" y="260.28" style="stroke: #000000; stroke-width: 0.8"/></g></g><g id="text_32"><text style="font-size: 10px; font-family: 'DejaVu Sans', 'Liberation Sans', sans-serif; text-anchor: end" x="32.492" y="264.063" transform="rotate(-0 32.492 264.063)">100</text></g></g></g><g id="line2d_112"><path d="M 77.233 405.477 L 108.532 405.477" clip-path="url(#p34ffaf416b)" style="fill: none; stroke: #000000; stroke-width: 2.25"/></g><g id="line2d_113"><path d="M 108.532 404.156 L 139.83 404.156" clip-path="url(#p34ffaf416b)" style="fill: none; stroke: #000000; stroke-width: 2.25"/></g><g id="line2d_114"><path d="M 108.532 405.477 L 108.532 404.156" clip-path="url(#p34ffaf416b)" style="fill: none; stroke-dasharray: 5.55,2.4; stroke-dashoffset: 0; stroke: #000000; stroke-width: 1.5"/></g><g id="line2d_115"><path d="M 139.83 403.202 L 171.129 403.202" clip-path="url(#p34ffaf416b)" style="fill: none; stroke: #000000; stroke-width: 2.25"/></g><g id="line2d_116"><path d="M 139.83 404.156 L 139.83 403.202" clip-path="url(#p34ffaf416b)" style="fill: none; stroke-dasharray: 5.55,2.4; stroke-dashoffset: 0; stroke: #000000; stroke-width: 1.5"/></g><g id="line2d_117"><path d="M 171.129 402.1 L 202.428 402.1" clip-path="url(#p34ffaf416b)" style="fill: none; stroke: #000000; stroke-width: 2.25"/></g><g id="line2d_118"><path d="M 171.129 403.202 L 171.129 402.1" clip-path="url(#p34ffaf416b)" style="fill: none; stroke-dasharray: 5.55,2.4; stroke-dashoffset: 0; stroke: #000000; stroke-width: 1.5"/></g><g id="line2d_119"><path d="M 202.428 401.66 L 233.726 401.66" clip-path="url(#p34ffaf416b)" style="fill: none; stroke: #000000; stroke-width: 2.25"/></g><g id="line2d_120"><path d="M 202.428 402.1 L 202.428 401.66" clip-path="url(#p34ffaf416b)" style="fill: none; stroke-dasharray: 5.55,2.4; stroke-dashoffset: 0; stroke: #000000; stroke-width: 1.5"/></g><g id="line2d_121"><path d="M 233.726 400.485 L 265.025 400.485" clip-path="url(#p34ffaf416b)" style="fill: none; stroke: #000000; stroke-width: 2.25"/></g><g id="line2d_122"><path d="M 233.726 401.66 L 233.726 400.485" clip-path="url(#p34ffaf416b)" style="fill: none; stroke-dasharray: 5.55,2.4; stroke-dashoffset: 0; stroke: #000000; stroke-width: 1.5"/></g><g id="line2d_123"><path d="M 265.025 399.678 L 296.323 399.678" clip-path="url(#p34ffaf416b)" style="fill: none; stroke: #000000; stroke-width: 2.25"/></g><g id="line2d_124"><path d="M 265.025 400.485 L 265.025 399.678" clip-path="url(#p34ffaf416b)" style="fill: none; stroke-dasharray: 5.55,2.4; stroke-dashoffset: 0; stroke: #000000; stroke-width: 1.5"/></g><g id="line2d_125"><path d="M 296.323 397.108 L 327.622 397.108" clip-path="url(#p34ffaf416b)" style="fill: none; stroke: #000000; stroke-width: 2.25"/></g><g id="line2d_126"><path d="M 296.323 399.678 L 296.323 397.108" clip-path="url(#p34ffaf416b)" style="fill: none; stroke-dasharray: 5.55,2.4; stroke-dashoffset: 0; stroke: #000000; stroke-width: 1.5"/></g><g id="line2d_127"><path d="M 327.622 394.025 L 358.921 394.025" clip-path="url(#p34ffaf416b)" style="fill: none; stroke: #000000; stroke-width: 2.25"/></g><g id="line2d_128"><path d="M 327.622 397.108 L 327.622 394.025" clip-path="url(#p34ffaf416b)" style="fill: none; stroke-dasharray: 5.55,2.4; stroke-dashoffset: 0; stroke: #000000; stroke-width: 1.5"/></g><g id="line2d_129"><path d="M 358.921 388.886 L 390.219 388.886" clip-path="url(#p34ffaf416b)" style="fill: none; stroke: #000000; stroke-width: 2.25"/></g><g id="line2d_130"><path d="M 358.921 394.025 L 358.921 388.886" clip-path="url(#p34ffaf416b)" style="fill: none; stroke-dasharray: 5.55,2.4; stroke-dashoffset: 0; stroke: #000000; stroke-width: 1.5"/></g><g id="line2d_131"><path d="M 390.219 376.405 L 421.518 376.405" clip-path="url(#p34ffaf416b)" style="fill: none; stroke: #000000; stroke-width: 2.25"/></g><g id="line2d_132"><path d="M 390.219 388.886 L 390.219 376.405" clip-path="url(#p34ffaf416b)" style="fill: none; stroke-dasharray: 5.55,2.4; stroke-dashoffset: 0; stroke: #000000; stroke-width: 1.5"/></g><g id="line2d_133"><path d="M 421.518 359.52 L 452.817 359.52" clip-path="url(#p34ffaf416b)" style="fill: none; stroke: #000000; stroke-width: 2.25"/></g><g id="line2d_134"><path d="M 421.518 376.405 L 421.518 359.52" clip-path="url(#p34ffaf416b)" style="fill: none; stroke-dasharray: 5.55,2.4; stroke-dashoffset: 0; stroke: #000000; stroke-width: 1.5"/></g><g id="line2d_135"><path d="M 452.817 339.258 L 484.115 339.258" clip-path="url(#p34ffaf416b)" style="fill: none; stroke: #000000; stroke-width: 2.25"/></g><g id="line2d_136"><path d="M 452.817 359.52 L 452.817 339.258" clip-path="url(#p34ffaf416b)" style="fill: none; stroke-dasharray: 5.55,2.4; stroke-dashoffset: 0; stroke: #000000; stroke-width: 1.5"/></g><g id="line2d_137"><path d="M 484.115 317.894 L 515.414 317.894" clip-path="url(#p34ffaf416b)" style="fill: none; stroke: #000000; stroke-width: 2.25"/></g><g id="line2d_138"><path d="M 484.115 339.258 L 484.115 317.894" clip-path="url(#p34ffaf416b)" style="fill: none; stroke-dasharray: 5.55,2.4; stroke-dashoffset: 0; stroke: #000000; stroke-width: 1.5"/></g><g id="line2d_139"><path d="M 515.414 298.292 L 546.713 298.292" clip-path="url(#p34ffaf416b)" style="fill: none; stroke: #000000; stroke-width: 2.25"/></g><g id="line2d_140"><path d="M 515.414 317.894 L 515.414 298.292" clip-path="url(#p34ffaf416b)" style="fill: none; stroke-dasharray: 5.55,2.4; stroke-dashoffset: 0; stroke: #000000; stroke-width: 1.5"/></g><g id="line2d_141"><path d="M 546.713 285.372 L 578.011 285.372" clip-path="url(#p34ffaf416b)" style="fill: none; stroke: #000000; stroke-width: 2.25"/></g><g id="line2d_142"><path d="M 546.713 298.292 L 546.713 285.372" clip-path="url(#p34ffaf416b)" style="fill: none; stroke-dasharray: 5.55,2.4; stroke-dashoffset: 0; stroke: #000000; stroke-width: 1.5"/></g><g id="line2d_143"><path d="M 578.011 280.379 L 609.31 280.379" clip-path="url(#p34ffaf416b)" style="fill: none; stroke: #000000; stroke-width: 2.25"/></g><g id="line2d_144"><path d="M 578.011 285.372 L 578.011 280.379" clip-path="url(#p34ffaf416b)" style="fill: none; stroke-dasharray: 5.55,2.4; stroke-dashoffset: 0; stroke: #000000; stroke-width: 1.5"/></g><g id="line2d_145"><path d="M 609.31 278.617 L 640.609 278.617" clip-path="url(#p34ffaf416b)" style="fill: none; stroke: #000000; stroke-width: 2.25"/></g><g id="line2d_146"><path d="M 609.31 280.379 L 609.31 278.617" clip-path="url(#p34ffaf416b)" style="fill: none; stroke-dasharray: 5.55,2.4; stroke-dashoffset: 0; stroke: #000000; stroke-width: 1.5"/></g><g id="line2d_147"><path d="M 640.609 276.709 L 671.907 276.709" clip-path="url(#p34ffaf416b)" style="fill: none; stroke: #000000; stroke-width: 2.25"/></g><g id="line2d_148"><path d="M 640.609 278.617 L 640.609 276.709" clip-path="url(#p34ffaf416b)" style="fill: none; stroke-dasharray: 5.55,2.4; stroke-dashoffset: 0; stroke: #000000; stroke-width: 1.5"/></g><g id="line2d_149"><path d="M 671.907 275.387 L 703.206 275.387" clip-path="url(#p34ffaf416b)" style="fill: none; stroke: #000000; stroke-width: 2.25"/></g><g id="line2d_150"><path d="M 671.907 276.709 L 671.907 275.387" clip-path="url(#p34ffaf416b)" style="fill: none; stroke-dasharray: 5.55,2.4; stroke-dashoffset: 0; stroke: #000000; stroke-width: 1.5"/></g><g id="line2d_151"><path d="M 703.206 274.213 L 734.504 274.213" clip-path="url(#p34ffaf416b)" style="fill: none; stroke: #000000; stroke-width: 2.25"/></g><g id="line2d_152"><path d="M 703.206 275.387 L 703.206 274.213" clip-path="url(#p34ffaf416b)" style="fill: none; stroke-dasharray: 5.55,2.4; stroke-dashoffset: 0; stroke: #000000; stroke-width: 1.5"/></g><g id="line2d_153"><path d="M 734.504 273.038 L 765.803 273.038" clip-path="url(#p34ffaf416b)" style="fill: none; stroke: #000000; stroke-width: 2.25"/></g><g id="line2d_154"><path d="M 734.504 274.213 L 734.504 273.038" clip-path="url(#p34ffaf416b)" style="fill: none; stroke-dasharray: 5.55,2.4; stroke-dashoffset: 0; stroke: #000000; stroke-width: 1.5"/></g><g id="line2d_155"><path d="M 765.803 271.716 L 797.102 271.716" clip-path="url(#p34ffaf416b)" style="fill: none; stroke: #000000; stroke-width: 2.25"/></g><g id="line2d_156"><path d="M 765.803 273.038 L 765.803 271.716" clip-path="url(#p34ffaf416b)" style="fill: none; stroke-dasharray: 5.55,2.4; stroke-dashoffset: 0; stroke: #000000; stroke-width: 1.5"/></g><g id="line2d_157"><path d="M 797.102 270.542 L 828.4 270.542" clip-path="url(#p34ffaf416b)" style="fill: none; stroke: #000000; stroke-width: 2.25"/></g><g id="line2d_158"><path d="M 797.102 271.716 L 797.102 270.542" clip-path="url(#p34ffaf416b)" style="fill: none; stroke-dasharray: 5.55,2.4; stroke-dashoffset: 0; stroke: #000000; stroke-width: 1.5"/></g><g id="line2d_159"><path d="M 77.23 406.8 L 148.7 405.63 L 235.81 404.26 L 288.5 403.19 L 314.06 402.43 L 327.1 401.84 L 333.36 401.39 L 341.18 400.58 L 347.44 399.76 L 354.23 398.58 L 358.4 397.68 L 361.53 396.78 L 365.18 395.46 L 370.4 393.3 L 387.61 385.97 L 390.74 384.91 L 395.96 383.39 L 399.09 382.68 L 401.7 382.3 L 408.48 381.58 L 410.04 380.99 L 412.13 379.83 L 416.3 377.23 L 419.43 374.89 L 422.56 372.28 L 425.69 369.34 L 435.08 360.23 L 439.78 356.26 L 449.17 348.74 L 454.38 344.38 L 458.55 340.58 L 462.73 336.45 L 468.99 329.87 L 477.86 320.55 L 492.46 305.97 L 498.72 300.05 L 508.11 291.6 L 513.85 286.7 L 519.07 282.54 L 523.76 279.1 L 529.5 275.23 L 537.32 270.25 L 540.45 268.51 L 545.67 266.02 L 552.45 262.87 L 556.1 261.44 L 560.8 259.85 L 565.49 258.53 L 572.79 256.77 L 576.45 256.05 L 579.05 255.76 L 585.31 255.32 L 598.36 254.71 L 676.6 250.76 L 703.21 249.69 L 749.63 248.16 L 784.58 247.22 L 814.32 246.65 L 828.4 246.46 L 828.4 246.46" clip-path="url(#p34ffaf416b)" style="fill: none; stroke: #1f77b4; stroke-width: 2.4; stroke-linecap: square"/></g><g id="line2d_160"><path d="M 77.23 406.8 L 392.31 406.8 L 407.96 394.61 L 408.48 389.03 L 411.09 387.12 L 434.04 385.66 L 434.56 382.33 L 435.08 380.57 L 437.17 379.78 L 456.99 379.05 L 457.51 376.6 L 458.03 375.31 L 460.64 374.64 L 478.38 374.06 L 478.9 371.9 L 479.42 370.77 L 482.55 370.22 L 498.72 369.65 L 499.24 366.81 L 499.76 365.34 L 502.89 364.79 L 519.59 364.22 L 520.11 361.48 L 520.63 360.07 L 523.76 359.66 L 543.58 359.23 L 544.1 355.9 L 544.63 354.14 L 549.32 352.47 L 558.19 351.89 L 828.4 352.18 L 828.4 352.18" clip-path="url(#p34ffaf416b)" style="fill: none; stroke: #ff7f0e; stroke-width: 2.4; stroke-linecap: square"/></g><g id="line2d_161"><path d="M 376.56 415.08 L 376.56 238.68" clip-path="url(#p34ffaf416b)" style="fill: none; stroke-dasharray: 5.55,2.4; stroke-dashoffset: 0; stroke: #ff0000; stroke-width: 1.5"/></g><g id="line2d_162"><path d="M 377.28 415.08 L 377.28 238.68" clip-path="url(#p34ffaf416b)" style="fill: none; stroke-dasharray: 5.55,2.4; stroke-dashoffset: 0; stroke: #ff0000; stroke-width: 1.5"/></g><g id="line2d_163"><path d="M 392.4 415.08 L 392.4 238.68" clip-path="url(#p34ffaf416b)" style="fill: none; stroke-dasharray: 5.55,2.4; stroke-dashoffset: 0; stroke: #ff0000; stroke-width: 1.5"/></g><g id="line2d_164"><path d="M 408.24 415.08 L 408.24 238.68" clip-path="url(#p34ffaf416b)" style="fill: none; stroke-dasharray: 5.55,2.4; stroke-dashoffset: 0; stroke: #ff0000; stroke-width: 1.5"/></g><g id="line2d_165"><path d="M 434.16 415.08 L 434.16 238.68" clip-path="url(#p34ffaf416b)" style="fill: none; stroke-dasharray: 5.55,2.4; stroke-dashoffset: 0; stroke: #ff0000; stroke-width: 1.5"/></g><g id="line2d_166"><path d="M 457.2 415.08 L 457.2 238.68" clip-path="url(#p34ffaf416b)" style="fill: none; stroke-dasharray: 5.55,2.4; stroke-dashoffset: 0; stroke: #ff0000; stroke-width: 1.5"/></g><g id="line2d_167"><path d="M 457.92 415.08 L 457.92 238.68" clip-path="url(#p34ffaf416b)" style="fill: none; stroke-dasharray: 5.55,2.4; stroke-dashoffset: 0; stroke: #ff0000; stroke-width: 1.5"/></g><g id="line2d_168"><path d="M 478.08 415.08 L 478.08 238.68" clip-path="url(#p34ffaf416b)" style="fill: none; stroke-dasharray: 5.55,2.4; stroke-dashoffset: 0; stroke: #ff0000; stroke-width: 1.5"/></g><g id="line2d_169"><path d="M 478.8 415.08 L 478.8 238.68" clip-path="url(#p34ffaf416b)" style="fill: none; stroke-dasharray: 5.55,2.4; stroke-dashoffset: 0; stroke: #ff0000; stroke-width: 1.5"/></g><g id="line2d_170"><path d="M 498.96 415.08 L 498.96 238.68" clip-path="url(#p34ffaf416b)" style="fill: none; stroke-dasharray: 5.55,2.4; stroke-dashoffset: 0; stroke: #ff0000; stroke-width: 1.5"/></g><g id="line2d_171"><path d="M 499.68 415.08 L 499.68 238.68" clip-path="url(#p34ffaf416b)" style="fill: none; stroke-dasharray: 5.55,2.4; stroke-dashoffset: 0; stroke: #ff0000; stroke-width: 1.5"/></g><g id="line2d_172"><path d="M 519.84 415.08 L 519.84 238.68" clip-path="url(#p34ffaf416b)" style="fill: none; stroke-dasharray: 5.55,2.4; stroke-dashoffset: 0; stroke: #ff0000; stroke-width: 1.5"/></g><g id="line2d_173"><path d="M 520.56 415.08 L 520.56 238.68" clip-path="url(#p34ffaf416b)" style="fill: none; stroke-dasharray: 5.55,2.4; stroke-dashoffset: 0; stroke: #ff0000; stroke-width: 1.5"/></g><g id="line2d_174"><path d="M 543.6 415.08 L 543.6 238.68" clip-path="url(#p34ffaf416b)" style="fill: none; stroke-dasharray: 5.55,2.4; stroke-dashoffset: 0; stroke: #ff0000; stroke-width: 1.5"/></g><g id="patch_9"><path d="M 39.96 415.08 L 39.96 238.68" style="fill: none; stroke: #000000; stroke-width: 0.8; stroke-linejoin: miter; stroke-linecap: square"/></g><g id="patch_10"><path d="M 865.8 415.08 L 865.8 238.68" style="fill: none; stroke: #000000; stroke-width: 0.8; stroke-linejoin: miter; stroke-linecap: square"/></g><g id="patch_11"><path d="M 39.492 415.08 L 865.202 415.08" style="fill: none; stroke: #000000; stroke-width: 0.8; stroke-linejoin: miter; stroke-linecap: square"/></g><g id="patch_12"><path d="M 39.492 238.68 L 865.202 238.68" style="fill: none; stroke: #000000; stroke-width: 0.8; stroke-linejoin: miter; stroke-linecap: square"/></g><g id="legend_2"><g id="patch_13"><path d="M 46.96 292.15 L 182.15 292.15 Q 184.15 292.15 184.15 290.15 L 184.15 245.68 Q 184.15 243.68 182.15 243.68 L 46.96 243.68 Q 44.96 243.68 44.96 245.68 L 44.96 290.15 Q 44.96 292.15 46.96 292.15 z" style="fill: #ffffff; opacity: 0.8; stroke: #cccccc; stroke-linejoin: miter"/></g><g id="line2d_175"><path d="M 48.96 251.778 L 58.96 251.778 L 68.96 251.778" style="fill: none; stroke-dasharray: 5.55,2.4; stroke-dashoffset: 0; stroke: #000000; stroke-width: 1.5"/><defs><path id="mce52c45697" d="M -0.5 0.5 L 0.5 0.5 L 0.5 -0.5 L -0.5 -0.5 z"/></defs><g><use href="#mce52c45697" x="58.96" y="252.578"/></g></g><g id="text_33"><text style="font-size: 10px; font-family: 'DejaVu Sans', 'Liberation Sans', sans-serif; text-anchor: start" x="80.16" y="255.278" transform="rotate(-0 80.16 255.278)">ETcI_cumsum</text></g><g id="line2d_176"><path d="M 48.96 267.035 L 58.96 267.035 L 68.96 267.035" style="fill: none; stroke-dasharray: 5.55,2.4; stroke-dashoffset: 0; stroke: #1f77b4; stroke-width: 1.5"/><g><use href="#meb56f628bb" x="58.96" y="267.835" style="fill: #1f77b4"/></g></g><g id="text_34"><text style="font-size: 10px; font-family: 'DejaVu Sans', 'Liberation Sans', sans-serif; text-anchor: start" x="80.16" y="270.535" transform="rotate(-0 80.16 270.535)">Ws_W68_cum_et</text></g><g id="line2d_177"><path d="M 48.96 282.291 L 58.96 282.291 L 68.96 282.291" style="fill: none; stroke-dasharray: 5.55,2.4; stroke-dashoffset: 0; stroke: #ff7f0e; stroke-width: 1.5"/><g><use href="#m45059900d2" x="58.96" y="283.091" style="fill: #ff7f0e"/></g></g><g id="text_35"><text style="font-size: 10px; font-family: 'DejaVu Sans', 'Liberation Sans', sans-serif; text-anchor: start" x="80.16" y="285.791" transform="rotate(-0 80.16 285.791)">Ws_W68_cum_drain</text></g></g></g><g id="axes_3"><g id="patch_14"><path d="M 39.492 628.92 L 865.202 628.92 L 865.202 452.52 L 39.492 452.52 z" style="fill: #ffffff"/></g><g id="matplotlib.axis_5"><g id="xtick_17"><g id="line2d_178"><path d="M 77.4 628.92 L 77.4 452.52" clip-path="url(#p0531d0f12c)" style="fill: none; stroke: #b0b0b0; stroke-width: 0.8; stroke-linecap: square"/></g><g id="line2d_179"><g><use href="#m1504cfccaf" x="77.4" y="628.92" style="stroke: #000000; stroke-width: 0.8"/></g></g><g id="text_36"><text style="font-size: 10px; font-family: 'DejaVu Sans', 'Liberation Sans', sans-serif; text-anchor: middle" x="76.711" y="644.238" transform="rotate(-0 76.711 644.238)">0</text></g></g><g id="xtick_18"><g id="line2d_180"><path d="M 181.08 628.92 L 181.08 452.52" clip-path="url(#p0531d0f12c)" style="fill: none; stroke: #b0b0b0; stroke-width: 0.8; stroke-linecap: square"/></g><g id="line2d_181"><g><use href="#m1504cfccaf" x="181.08" y="628.92" style="stroke: #000000; stroke-width: 0.8"/></g></g><g id="text_37"><text style="font-size: 10px; font-family: 'DejaVu Sans', 'Liberation Sans', sans-serif; text-anchor: middle" x="181.04" y="644.238" transform="rotate(-0 181.04 644.238)">200</text></g></g><g id="xtick_19"><g id="line2d_182"><path d="M 285.48 628.92 L 285.48 452.52" clip-path="url(#p0531d0f12c)" style="fill: none; stroke: #b0b0b0; stroke-width: 0.8; stroke-linecap: square"/></g><g id="line2d_183"><g><use href="#m1504cfccaf" x="285.48" y="628.92" style="stroke: #000000; stroke-width: 0.8"/></g></g><g id="text_38"><text style="font-size: 10px; font-family: 'DejaVu Sans', 'Liberation Sans', sans-serif; text-anchor: middle" x="285.369" y="644.238" transform="rotate(-0 285.369 644.238)">400</text></g></g><g id="xtick_20"><g id="line2d_184"><path d="M 389.88 628.92 L 389.88 452.52" clip-path="url(#p0531d0f12c)" style="fill: none; stroke: #b0b0b0; stroke-width: 0.8; stroke-linecap: square"/></g><g id="line2d_185"><g><use href="#m1504cfccaf" x="389.88" y="628.92" style="stroke: #000000; stroke-width: 0.8"/></g></g><g id="text_39"><text style="font-size: 10px; font-family: 'DejaVu Sans', 'Liberation Sans', sans-serif; text-anchor: middle" x="389.698" y="644.238" transform="rotate(-0 389.698 644.238)">600</text></g></g><g id="xtick_21"><g id="line2d_186"><path d="M 494.28 628.92 L 494.28 452.52" clip-path="url(#p0531d0f12c)" style="fill: none; stroke: #b0b0b0; stroke-width: 0.8; stroke-linecap: square"/></g><g id="line2d_187"><g><use href="#m1504cfccaf" x="494.28" y="628.92" style="stroke: #000000; stroke-width: 0.8"/></g></g><g id="text_40"><text style="font-size: 10px; font-family: 'DejaVu Sans', 'Liberation Sans', sans-serif; text-anchor: middle" x="494.027" y="644.238" transform="rotate(-0 494.027 644.238)">800</text></g></g><g id="xtick_22"><g id="line2d_188"><path d="M 598.68 628.92 L 598.68 452.52" clip-path="url(#p0531d0f12c)" style="fill: none; stroke: #b0b0b0; stroke-width: 0.8; stroke-linecap: square"/></g><g id="line2d_189"><g><use href="#m1504cfccaf" x="598.68" y="628.92" style="stroke: #000000; stroke-width: 0.8"/></g></g><g id="text_41"><text style="font-size: 10px; font-family: 'DejaVu Sans', 'Liberation Sans', sans-serif; text-anchor: middle" x="598.355" y="644.238" transform="rotate(-0 598.355 644.238)">1000</text></g></g><g id="xtick_23"><g id="line2d_190"><path d="M 703.08 628.92 L 703.08 452.52" clip-path="url(#p0531d0f12c)" style="fill: none; stroke: #b0b0b0; stroke-width: 0.8; stroke-linecap: square"/></g><g id="line2d_191"><g><use href="#m1504cfccaf" x="703.08" y="628.92" style="stroke: #000000; stroke-width: 0.8"/></g></g><g id="text_42"><text style="font-size: 10px; font-family: 'DejaVu Sans', 'Liberation Sans', sans-serif; text-anchor: middle" x="702.684" y="644.238" transform="rotate(-0 702.684 644.238)">1200</text></g></g><g id="xtick_24"><g id="line2d_192"><path d="M 807.48 628.92 L 807.48 452.52" clip-path="url(#p0531d0f12c)" style="fill: none; stroke: #b0b0b0; stroke-width: 0.8; stroke-linecap: square"/></g><g id="line2d_193"><g><use href="#m1504cfccaf" x="807.48" y="628.92" style="stroke: #000000; stroke-width: 0.8"/></g></g><g id="text_43"><text style="font-size: 10px; font-family: 'DejaVu Sans', 'Liberation Sans', sans-serif; text-anchor: middle" x="807.013" y="644.238" transform="rotate(-0 807.013 644.238)">1400</text></g></g><g id="text_44"><text style="font-size: 10px; font-family: 'DejaVu Sans', 'Liberation Sans', sans-serif; text-anchor: middle" x="452.347" y="657.917" transform="rotate(-0 452.347 657.917)">minute</text></g></g><g id="matplotlib.axis_6"><g id="ytick_13"><g id="line2d_194"><path d="M 39.492 612.36 L 865.202 612.36" clip-path="url(#p0531d0f12c)" style="fill: none; stroke: #b0b0b0; stroke-width: 0.8; stroke-linecap: square"/></g><g id="line2d_195"><g><use href="#m5d545ce8f8" x="39.96" y="612.36" style="stroke: #000000; stroke-width: 0.8"/></g></g><g id="text_45"><text style="font-size: 10px; font-family: 'DejaVu Sans', 'Liberation Sans', sans-serif; text-anchor: end" x="32.492" y="616.005" transform="rotate(-0 32.492 616.005)">4250</text></g></g><g id="ytick_14"><g id="line2d_196"><path d="M 39.492 583.56 L 865.202 583.56" clip-path="url(#p0531d0f12c)" style="fill: none; stroke: #b0b0b0; stroke-width: 0.8; stroke-linecap: square"/></g><g id="line2d_197"><g><use href="#m5d545ce8f8" x="39.96" y="583.56" style="stroke: #000000; stroke-width: 0.8"/></g></g><g id="text_46"><text style="font-size: 10px; font-family: 'DejaVu Sans', 'Liberation Sans', sans-serif; text-anchor: end" x="32.492" y="587.087" transform="rotate(-0 32.492 587.087)">4300</text></g></g><g id="ytick_15"><g id="line2d_198"><path d="M 39.492 554.04 L 865.202 554.04" clip-path="url(#p0531d0f12c)" style="fill: none; stroke: #b0b0b0; stroke-width: 0.8; stroke-linecap: square"/></g><g id="line2d_199"><g><use href="#m5d545ce8f8" x="39.96" y="554.04" style="stroke: #000000; stroke-width: 0.8"/></g></g><g id="text_47"><text style="font-size: 10px; font-family: 'DejaVu Sans', 'Liberation Sans', sans-serif; text-anchor: end" x="32.492" y="558.169" transform="rotate(-0 32.492 558.169)">4350</text></g></g><g id="ytick_16"><g id="line2d_200"><path d="M 39.492 525.24 L 865.202 525.24" clip-path="url(#p0531d0f12c)" style="fill: none; stroke: #b0b0b0; stroke-width: 0.8; stroke-linecap: square"/></g><g id="line2d_201"><g><use href="#m5d545ce8f8" x="39.96" y="525.24" style="stroke: #000000; stroke-width: 0.8"/></g></g><g id="text_48"><text style="font-size: 10px; font-family: 'DejaVu Sans', 'Liberation Sans', sans-serif; text-anchor: end" x="32.492" y="529.25" transform="rotate(-0 32.492 529.25)">4400</text></g></g><g id="ytick_17"><g id="line2d_202"><path d="M 39.492 496.44 L 865.202 496.44" clip-path="url(#p0531d0f12c)" style="fill: none; stroke: #b0b0b0; stroke-width: 0.8; stroke-linecap: square"/></g><g id="line2d_203"><g><use href="#m5d545ce8f8" x="39.96" y="496.44" style="stroke: #000000; stroke-width: 0.8"/></g></g><g id="text_49"><text style="font-size: 10px; font-family: 'DejaVu Sans', 'Liberation Sans', sans-serif; text-anchor: end" x="32.492" y="500.332" transform="rotate(-0 32.492 500.332)">4450</text></g></g><g id="ytick_18"><g id="line2d_204"><path d="M 39.492 467.64 L 865.202 467.64" clip-path="url(#p0531d0f12c)" style="fill: none; stroke: #b0b0b0; stroke-width: 0.8; stroke-linecap: square"/></g><g id="line2d_205"><g><use href="#m5d545ce8f8" x="39.96" y="467.64" style="stroke: #000000; stroke-width: 0.8"/></g></g><g id="text_50"><text style="font-size: 10px; font-family: 'DejaVu Sans', 'Liberation Sans', sans-serif; text-anchor: end" x="32.492" y="471.414" transform="rotate(-0 32.492 471.414)">4500</text></g></g></g><g id="line2d_206"><path d="M 77.34 589.07 L 288.08 597.36 L 307.9 598.36 L 319.9 599.18 L 328.77 600 L 335.55 600.83 L 341.29 601.74 L 345.98 602.69 L 350.16 603.74 L 353.81 604.85 L 357.46 606.19 L 360.59 607.57 L 363.72 609.2 L 366.33 610.78 L 368.94 612.61 L 371.54 614.73 L 374.15 617.18 L 376.24 619.41 L 376.76 620.01 L 376.76 620.01" clip-path="url(#p0531d0f12c)" style="fill: none; stroke: #1f77b4; stroke-width: 2.4; stroke-linecap: square"/></g><g id="line2d_207"><path d="M 377.07 573.11 L 377.6 573.2 L 378.13 573.29 L 378.66 573.62 L 379.19 573.95 L 379.72 574.28 L 380.25 574.62 L 380.78 574.97 L 381.3 575.31 L 381.83 575.67 L 382.36 576.03 L 382.89 576.39 L 383.42 576.76 L 383.95 577.14 L 384.48 577.52 L 385.01 577.91 L 385.54 578.31 L 386.06 578.72 L 386.59 579.14 L 387.12 579.57 L 387.65 580.02 L 388.18 580.48 L 388.71 580.96 L 389.24 581.46 L 389.77 581.98 L 390.29 582.54 L 390.82 583.14 L 391.35 583.8 L 391.88 584.58 L 392.41 585.83" clip-path="url(#p0531d0f12c)" style="fill: none; stroke: #1f77b4; stroke-width: 2.4; stroke-linecap: square"/></g><g id="line2d_208"><path d="M 392.72 529.5 L 393.25 532.14 L 393.78 534.73 L 394.31 535.61 L 394.84 536.48 L 395.37 537.36 L 395.9 538.24 L 396.43 539.12 L 396.95 539.99 L 397.48 540.87 L 398.01 541.75 L 398.54 542.63 L 399.07 543.5 L 399.6 544.38 L 400.13 545.26 L 400.66 546.13 L 401.18 547.01 L 401.71 547.89 L 402.24 548.77 L 402.77 549.64 L 403.3 550.52 L 403.83 551.4 L 404.36 552.28 L 404.89 553.15 L 405.42 554.03 L 405.94 554.91 L 406.47 555.79 L 407 556.66 L 407.53 557.54 L 408.06 558.42" clip-path="url(#p0531d0f12c)" style="fill: none; stroke: #1f77b4; stroke-width: 2.4; stroke-linecap: square"/></g><g id="line2d_209"><path d="M 408.37 503.47 L 408.9 509.6 L 409.42 515.64 L 409.95 516.68 L 410.48 517.72 L 411 518.75 L 411.53 519.79 L 412.05 520.82 L 412.58 521.85 L 413.11 522.87 L 413.63 523.9 L 414.16 524.92 L 414.68 525.94 L 415.21 526.95 L 415.74 527.97 L 416.26 528.98 L 416.79 529.98 L 417.31 530.99 L 417.84 531.99 L 418.36 532.99 L 418.89 533.98 L 419.42 534.97 L 419.94 535.96 L 420.47 536.94 L 420.99 537.92 L 421.52 538.9 L 422.05 539.87 L 422.57 540.84 L 423.1 541.8 L 423.62 542.76 L 424.15 543.72 L 424.68 544.66 L 425.2 545.61 L 425.73 546.55 L 426.25 547.48 L 426.78 548.41 L 427.31 549.32 L 427.83 550.24 L 428.36 551.14 L 428.88 552.04 L 429.41 552.93 L 429.93 553.81 L 430.46 554.67 L 430.99 555.53 L 431.51 556.37 L 432.04 557.19 L 432.56 557.99 L 433.09 558.77 L 433.62 559.51 L 434.14 560.15" clip-path="url(#p0531d0f12c)" style="fill: none; stroke: #1f77b4; stroke-width: 2.4; stroke-linecap: square"/></g><g id="line2d_210"><path d="M 434.45 503.76 L 434.98 509.45 L 435.51 515.06 L 436.03 516.18 L 436.56 517.3 L 437.09 518.41 L 437.61 519.52 L 438.14 520.63 L 438.67 521.73 L 439.19 522.83 L 439.72 523.93 L 440.25 525.03 L 440.77 526.12 L 441.3 527.21 L 441.82 528.29 L 442.35 529.38 L 442.88 530.45 L 443.4 531.53 L 443.93 532.6 L 444.46 533.66 L 444.98 534.73 L 445.51 535.78 L 446.04 536.83 L 446.56 537.88 L 447.09 538.93 L 447.61 539.96 L 448.14 541 L 448.67 542.02 L 449.19 543.04 L 449.72 544.06 L 450.25 545.06 L 450.77 546.06 L 451.3 547.06 L 451.83 548.04 L 452.35 549.02 L 452.88 549.98 L 453.4 550.94 L 453.93 551.88 L 454.46 552.81 L 454.98 553.72 L 455.51 554.62 L 456.04 555.49 L 456.56 556.34 L 457.09 557.14 L 457.62 557.84" clip-path="url(#p0531d0f12c)" style="fill: none; stroke: #1f77b4; stroke-width: 2.4; stroke-linecap: square"/></g><g id="line2d_211"><path d="M 457.93 502.32 L 458.46 506.7 L 458.98 511.02 L 459.51 512.18 L 460.04 513.35 L 460.56 514.51 L 461.09 515.66 L 461.62 516.82 L 462.14 517.97 L 462.67 519.11 L 463.2 520.26 L 463.73 521.39 L 464.25 522.53 L 464.78 523.66 L 465.31 524.78 L 465.83 525.91 L 466.36 527.02 L 466.89 528.13 L 467.41 529.24 L 467.94 530.34 L 468.47 531.44 L 469 532.53 L 469.52 533.61 L 470.05 534.69 L 470.58 535.76 L 471.1 536.83 L 471.63 537.88 L 472.16 538.93 L 472.68 539.97 L 473.21 541 L 473.74 542.02 L 474.27 543.03 L 474.79 544.03 L 475.32 545.01 L 475.85 545.97 L 476.37 546.92 L 476.9 547.84 L 477.43 548.73 L 477.95 549.58 L 478.48 550.32" clip-path="url(#p0531d0f12c)" style="fill: none; stroke: #1f77b4; stroke-width: 2.4; stroke-linecap: square"/></g><g id="line2d_212"><path d="M 478.79 495.03 L 479.32 499.88 L 479.85 504.65 L 480.38 505.84 L 480.9 507.02 L 481.43 508.2 L 481.96 509.37 L 482.48 510.54 L 483.01 511.71 L 483.54 512.87 L 484.06 514.03 L 484.59 515.19 L 485.12 516.34 L 485.65 517.48 L 486.17 518.63 L 486.7 519.76 L 487.23 520.9 L 487.75 522.02 L 488.28 523.15 L 488.81 524.27 L 489.33 525.38 L 489.86 526.48 L 490.39 527.58 L 490.92 528.68 L 491.44 529.76 L 491.97 530.84 L 492.5 531.92 L 493.02 532.98 L 493.55 534.03 L 494.08 535.08 L 494.6 536.11 L 495.13 537.14 L 495.66 538.15 L 496.19 539.15 L 496.71 540.13 L 497.24 541.09 L 497.77 542.02 L 498.29 542.93 L 498.82 543.79 L 499.35 544.54" clip-path="url(#p0531d0f12c)" style="fill: none; stroke: #1f77b4; stroke-width: 2.4; stroke-linecap: square"/></g><g id="line2d_213"><path d="M 499.66 489.3 L 500.19 494.12 L 500.71 498.87 L 501.24 499.98 L 501.77 501.09 L 502.3 502.19 L 502.82 503.29 L 503.35 504.38 L 503.88 505.47 L 504.4 506.55 L 504.93 507.63 L 505.46 508.7 L 505.98 509.76 L 506.51 510.82 L 507.04 511.87 L 507.57 512.92 L 508.09 513.96 L 508.62 515 L 509.15 516.02 L 509.67 517.04 L 510.2 518.05 L 510.73 519.06 L 511.25 520.05 L 511.78 521.04 L 512.31 522.02 L 512.84 522.98 L 513.36 523.94 L 513.89 524.89 L 514.42 525.82 L 514.94 526.75 L 515.47 527.65 L 516 528.55 L 516.52 529.42 L 517.05 530.28 L 517.58 531.12 L 518.11 531.93 L 518.63 532.71 L 519.16 533.45 L 519.69 534.14 L 520.21 534.71" clip-path="url(#p0531d0f12c)" style="fill: none; stroke: #1f77b4; stroke-width: 2.4; stroke-linecap: square"/></g><g id="line2d_214"><path d="M 520.53 479.47 L 521.05 484.87 L 521.58 490.19 L 522.11 491.02 L 522.63 491.86 L 523.16 492.68 L 523.68 493.5 L 524.21 494.31 L 524.74 495.12 L 525.26 495.92 L 525.79 496.71 L 526.32 497.5 L 526.84 498.28 L 527.37 499.05 L 527.9 499.81 L 528.42 500.57 L 528.95 501.32 L 529.47 502.06 L 530 502.79 L 530.53 503.51 L 531.05 504.23 L 531.58 504.94 L 532.11 505.63 L 532.63 506.32 L 533.16 507 L 533.69 507.67 L 534.21 508.32 L 534.74 508.97 L 535.26 509.61 L 535.79 510.23 L 536.32 510.84 L 536.84 511.44 L 537.37 512.02 L 537.9 512.59 L 538.42 513.15 L 538.95 513.69 L 539.48 514.21 L 540 514.71 L 540.53 515.19 L 541.06 515.65 L 541.58 516.08 L 542.11 516.48 L 542.63 516.84 L 543.16 517.14 L 543.69 517.35" clip-path="url(#p0531d0f12c)" style="fill: none; stroke: #1f77b4; stroke-width: 2.4; stroke-linecap: square"/></g><g id="line2d_215"><path d="M 544 460.67 L 544.52 472.42 L 545.04 475.37 L 545.56 476.47 L 546.09 477.3 L 547.13 478.38 L 549.22 479.84 L 552.87 483.41 L 556 486.1 L 558.61 488.14 L 561.21 489.88 L 564.34 491.68 L 569.56 494.34 L 572.69 495.79 L 575.3 496.76 L 579.47 497.95 L 583.12 498.78 L 586.77 499.36 L 591.47 499.84 L 600.86 500.75 L 615.47 502.47 L 635.29 504.34 L 653.55 506.27 L 678.58 508.6 L 701.01 510.47 L 731.79 512.76 L 751.61 514.02 L 768.31 514.88 L 792.82 515.86 L 820.47 517.04 L 828.3 517.4 L 828.3 517.4" clip-path="url(#p0531d0f12c)" style="fill: none; stroke: #1f77b4; stroke-width: 2.4; stroke-linecap: square"/></g><g id="line2d_216"><path d="M 376.761 620.007 L 377.074 573.108" clip-path="url(#p0531d0f12c)" style="fill: none; stroke-dasharray: 5.55,2.4; stroke-dashoffset: 0; stroke: #1f77b4; stroke-width: 1.5"/></g><g id="line2d_217"><path d="M 392.41 585.832 L 392.723 529.5" clip-path="url(#p0531d0f12c)" style="fill: none; stroke-dasharray: 5.55,2.4; stroke-dashoffset: 0; stroke: #1f77b4; stroke-width: 1.5"/></g><g id="line2d_218"><path d="M 408.06 558.418 L 408.373 503.474" clip-path="url(#p0531d0f12c)" style="fill: none; stroke-dasharray: 5.55,2.4; stroke-dashoffset: 0; stroke: #1f77b4; stroke-width: 1.5"/></g><g id="line2d_219"><path d="M 434.142 560.153 L 434.455 503.763" clip-path="url(#p0531d0f12c)" style="fill: none; stroke-dasharray: 5.55,2.4; stroke-dashoffset: 0; stroke: #1f77b4; stroke-width: 1.5"/></g><g id="line2d_220"><path d="M 457.616 557.839 L 457.929 502.317" clip-path="url(#p0531d0f12c)" style="fill: none; stroke-dasharray: 5.55,2.4; stroke-dashoffset: 0; stroke: #1f77b4; stroke-width: 1.5"/></g><g id="line2d_221"><path d="M 478.482 550.321 L 478.795 495.03" clip-path="url(#p0531d0f12c)" style="fill: none; stroke-dasharray: 5.55,2.4; stroke-dashoffset: 0; stroke: #1f77b4; stroke-width: 1.5"/></g><g id="line2d_222"><path d="M 499.347 544.537 L 499.66 489.304" clip-path="url(#p0531d0f12c)" style="fill: none; stroke-dasharray: 5.55,2.4; stroke-dashoffset: 0; stroke: #1f77b4; stroke-width: 1.5"/></g><g id="line2d_223"><path d="M 520.213 534.705 L 520.526 479.472" clip-path="url(#p0531d0f12c)" style="fill: none; stroke-dasharray: 5.55,2.4; stroke-dashoffset: 0; stroke: #1f77b4; stroke-width: 1.5"/></g><g id="line2d_224"><path d="M 543.687 517.354 L 544 460.675" clip-path="url(#p0531d0f12c)" style="fill: none; stroke-dasharray: 5.55,2.4; stroke-dashoffset: 0; stroke: #1f77b4; stroke-width: 1.5"/></g><g id="line2d_225"><path d="M 39.492 571.68 L 865.202 571.68" clip-path="url(#p0531d0f12c)" style="fill: none; stroke-dasharray: 5.55,2.4; stroke-dashoffset: 0; stroke: #ff0000; stroke-width: 1.5"/></g><g id="line2d_226"><path d="M 376.56 628.92 L 376.56 452.52" clip-path="url(#p0531d0f12c)" style="fill: none; stroke-dasharray: 5.55,2.4; stroke-dashoffset: 0; stroke: #ff0000; stroke-width: 1.5"/></g><g id="line2d_227"><path d="M 377.28 628.92 L 377.28 452.52" clip-path="url(#p0531d0f12c)" style="fill: none; stroke-dasharray: 5.55,2.4; stroke-dashoffset: 0; stroke: #ff0000; stroke-width: 1.5"/></g><g id="line2d_228"><path d="M 392.4 628.92 L 392.4 452.52" clip-path="url(#p0531d0f12c)" style="fill: none; stroke-dasharray: 5.55,2.4; stroke-dashoffset: 0; stroke: #ff0000; stroke-width: 1.5"/></g><g id="line2d_229"><path d="M 408.24 628.92 L 408.24 452.52" clip-path="url(#p0531d0f12c)" style="fill: none; stroke-dasharray: 5.55,2.4; stroke-dashoffset: 0; stroke: #ff0000; stroke-width: 1.5"/></g><g id="line2d_230"><path d="M 434.16 628.92 L 434.16 452.52" clip-path="url(#p0531d0f12c)" style="fill: none; stroke-dasharray: 5.55,2.4; stroke-dashoffset: 0; stroke: #ff0000; stroke-width: 1.5"/></g><g id="line2d_231"><path d="M 457.2 628.92 L 457.2 452.52" clip-path="url(#p0531d0f12c)" style="fill: none; stroke-dasharray: 5.55,2.4; stroke-dashoffset: 0; stroke: #ff0000; stroke-width: 1.5"/></g><g id="line2d_232"><path d="M 457.92 628.92 L 457.92 452.52" clip-path="url(#p0531d0f12c)" style="fill: none; stroke-dasharray: 5.55,2.4; stroke-dashoffset: 0; stroke: #ff0000; stroke-width: 1.5"/></g><g id="line2d_233"><path d="M 478.08 628.92 L 478.08 452.52" clip-path="url(#p0531d0f12c)" style="fill: none; stroke-dasharray: 5.55,2.4; stroke-dashoffset: 0; stroke: #ff0000; stroke-width: 1.5"/></g><g id="line2d_234"><path d="M 478.8 628.92 L 478.8 452.52" clip-path="url(#p0531d0f12c)" style="fill: none; stroke-dasharray: 5.55,2.4; stroke-dashoffset: 0; stroke: #ff0000; stroke-width: 1.5"/></g><g id="line2d_235"><path d="M 498.96 628.92 L 498.96 452.52" clip-path="url(#p0531d0f12c)" style="fill: none; stroke-dasharray: 5.55,2.4; stroke-dashoffset: 0; stroke: #ff0000; stroke-width: 1.5"/></g><g id="line2d_236"><path d="M 499.68 628.92 L 499.68 452.52" clip-path="url(#p0531d0f12c)" style="fill: none; stroke-dasharray: 5.55,2.4; stroke-dashoffset: 0; stroke: #ff0000; stroke-width: 1.5"/></g><g id="line2d_237"><path d="M 519.84 628.92 L 519.84 452.52" clip-path="url(#p0531d0f12c)" style="fill: none; stroke-dasharray: 5.55,2.4; stroke-dashoffset: 0; stroke: #ff0000; stroke-width: 1.5"/></g><g id="line2d_238"><path d="M 520.56 628.92 L 520.56 452.52" clip-path="url(#p0531d0f12c)" style="fill: none; stroke-dasharray: 5.55,2.4; stroke-dashoffset: 0; stroke: #ff0000; stroke-width: 1.5"/></g><g id="line2d_239"><path d="M 543.6 628.92 L 543.6 452.52" clip-path="url(#p0531d0f12c)" style="fill: none; stroke-dasharray: 5.55,2.4; stroke-dashoffset: 0; stroke: #ff0000; stroke-width: 1.5"/></g><g id="patch_15"><path d="M 39.96 628.92 L 39.96 452.52" style="fill: none; stroke: #000000; stroke-width: 0.8; stroke-linejoin: miter; stroke-linecap: square"/></g><g id="patch_16"><path d="M 865.8 628.92 L 865.8 452.52" style="fill: none; stroke: #000000; stroke-width: 0.8; stroke-linejoin: miter; stroke-linecap: square"/></g><g id="patch_17"><path d="M 39.492 628.92 L 865.202 628.92" style="fill: none; stroke: #000000; stroke-width: 0.8; stroke-linejoin: miter; stroke-linecap: square"/></g><g id="patch_18"><path d="M 39.492 452.52 L 865.202 452.52" style="fill: none; stroke: #000000; stroke-width: 0.8; stroke-linejoin: miter; stroke-linecap: square"/></g><g id="legend_3"><g id="patch_19"><path d="M 780.76 475.48 L 858.67 475.48 Q 860.67 475.48 860.67 473.48 L 860.67 459.52 Q 860.67 457.52 858.67 457.52 L 780.76 457.52 Q 778.76 457.52 778.76 459.52 L 778.76 473.48 Q 778.76 475.48 780.76 475.48 z" style="fill: #ffffff; opacity: 0.8; stroke: #cccccc; stroke-linejoin: miter"/></g><g id="line2d_240"><path d="M 782.761 465.618 L 792.761 465.618 L 802.761 465.618" style="fill: none; stroke-dasharray: 5.55,2.4; stroke-dashoffset: 0; stroke: #1f77b4; stroke-width: 1.5"/><g><use href="#meb56f628bb" x="792.761" y="466.418" style="fill: #1f77b4"/></g></g><g id="text_51"><text style="font-size: 10px; font-family: 'DejaVu Sans', 'Liberation Sans', sans-serif; text-anchor: start" x="813.961" y="469.118" transform="rotate(-0 813.961 469.118)">Ws_W68</text></g></g></g><g id="axes_4"><g id="patch_20"><path d="M 39.492 842.76 L 865.202 842.76 L 865.202 666.36 L 39.492 666.36 z" style="fill: #ffffff"/></g><g id="matplotlib.axis_7"><g id="xtick_25"><g id="line2d_241"><path d="M 77.4 842.76 L 77.4 666.36" clip-path="url(#pa009b8046e)" style="fill: none; stroke: #b0b0b0; stroke-width: 0.8; stroke-linecap: square"/></g><g id="line2d_242"><g><use href="#m1504cfccaf" x="77.4" y="842.76" style="stroke: #000000; stroke-width: 0.8"/></g></g><g id="text_52"><text style="font-size: 10px; font-family: 'DejaVu Sans', 'Liberation Sans', sans-serif; text-anchor: middle" x="76.71" y="858.078" transform="rotate(-0 76.71 858.078)">0</text></g></g><g id="xtick_26"><g id="line2d_243"><path d="M 181.8 842.76 L 181.8 666.36" clip-path="url(#pa009b8046e)" style="fill: none; stroke: #b0b0b0; stroke-width: 0.8; stroke-linecap: square"/></g><g id="line2d_244"><g><use href="#m1504cfccaf" x="181.8" y="842.76" style="stroke: #000000; stroke-width: 0.8"/></g></g><g id="text_53"><text style="font-size: 10px; font-family: 'DejaVu Sans', 'Liberation Sans', sans-serif; text-anchor: middle" x="181.549" y="858.078" transform="rotate(-0 181.549 858.078)">200</text></g></g><g id="xtick_27"><g id="line2d_245"><path d="M 286.92 842.76 L 286.92 666.36" clip-path="url(#pa009b8046e)" style="fill: none; stroke: #b0b0b0; stroke-width: 0.8; stroke-linecap: square"/></g><g id="line2d_246"><g><use href="#m1504cfccaf" x="286.92" y="842.76" style="stroke: #000000; stroke-width: 0.8"/></g></g><g id="text_54"><text style="font-size: 10px; font-family: 'DejaVu Sans', 'Liberation Sans', sans-serif; text-anchor: middle" x="286.387" y="858.078" transform="rotate(-0 286.387 858.078)">400</text></g></g><g id="xtick_28"><g id="line2d_247"><path d="M 391.32 842.76 L 391.32 666.36" clip-path="url(#pa009b8046e)" style="fill: none; stroke: #b0b0b0; stroke-width: 0.8; stroke-linecap: square"/></g><g id="line2d_248"><g><use href="#m1504cfccaf" x="391.32" y="842.76" style="stroke: #000000; stroke-width: 0.8"/></g></g><g id="text_55"><text style="font-size: 10px; font-family: 'DejaVu Sans', 'Liberation Sans', sans-serif; text-anchor: middle" x="391.226" y="858.078" transform="rotate(-0 391.226 858.078)">600</text></g></g><g id="xtick_29"><g id="line2d_249"><path d="M 496.44 842.76 L 496.44 666.36" clip-path="url(#pa009b8046e)" style="fill: none; stroke: #b0b0b0; stroke-width: 0.8; stroke-linecap: square"/></g><g id="line2d_250"><g><use href="#m1504cfccaf" x="496.44" y="842.76" style="stroke: #000000; stroke-width: 0.8"/></g></g><g id="text_56"><text style="font-size: 10px; font-family: 'DejaVu Sans', 'Liberation Sans', sans-serif; text-anchor: middle" x="496.065" y="858.078" transform="rotate(-0 496.065 858.078)">800</text></g></g><g id="xtick_30"><g id="line2d_251"><path d="M 601.56 842.76 L 601.56 666.36" clip-path="url(#pa009b8046e)" style="fill: none; stroke: #b0b0b0; stroke-width: 0.8; stroke-linecap: square"/></g><g id="line2d_252"><g><use href="#m1504cfccaf" x="601.56" y="842.76" style="stroke: #000000; stroke-width: 0.8"/></g></g><g id="text_57"><text style="font-size: 10px; font-family: 'DejaVu Sans', 'Liberation Sans', sans-serif; text-anchor: middle" x="600.904" y="858.078" transform="rotate(-0 600.904 858.078)">1000</text></g></g><g id="xtick_31"><g id="line2d_253"><path d="M 705.96 842.76 L 705.96 666.36" clip-path="url(#pa009b8046e)" style="fill: none; stroke: #b0b0b0; stroke-width: 0.8; stroke-linecap: square"/></g><g id="line2d_254"><g><use href="#m1504cfccaf" x="705.96" y="842.76" style="stroke: #000000; stroke-width: 0.8"/></g></g><g id="text_58"><text style="font-size: 10px; font-family: 'DejaVu Sans', 'Liberation Sans', sans-serif; text-anchor: middle" x="705.743" y="858.078" transform="rotate(-0 705.743 858.078)">1200</text></g></g><g id="xtick_32"><g id="line2d_255"><path d="M 811.08 842.76 L 811.08 666.36" clip-path="url(#pa009b8046e)" style="fill: none; stroke: #b0b0b0; stroke-width: 0.8; stroke-linecap: square"/></g><g id="line2d_256"><g><use href="#m1504cfccaf" x="811.08" y="842.76" style="stroke: #000000; stroke-width: 0.8"/></g></g><g id="text_59"><text style="font-size: 10px; font-family: 'DejaVu Sans', 'Liberation Sans', sans-serif; text-anchor: middle" x="810.581" y="858.078" transform="rotate(-0 810.581 858.078)">1400</text></g></g><g id="text_60"><text style="font-size: 10px; font-family: 'DejaVu Sans', 'Liberation Sans', sans-serif; text-anchor: middle" x="452.347" y="871.757" transform="rotate(-0 452.347 871.757)">minute</text></g></g><g id="matplotlib.axis_8"><g id="ytick_19"><g id="line2d_257"><path d="M 39.492 837.72 L 865.202 837.72" clip-path="url(#pa009b8046e)" style="fill: none; stroke: #b0b0b0; stroke-width: 0.8; stroke-linecap: square"/></g><g id="line2d_258"><g><use href="#m5d545ce8f8" x="39.96" y="837.72" style="stroke: #000000; stroke-width: 0.8"/></g></g><g id="text_61"><text style="font-size: 10px; font-family: 'DejaVu Sans', 'Liberation Sans', sans-serif; text-anchor: end" x="32.492" y="841.445" transform="rotate(-0 32.492 841.445)">-0.4</text></g></g><g id="ytick_20"><g id="line2d_259"><path d="M 39.492 814.68 L 865.202 814.68" clip-path="url(#pa009b8046e)" style="fill: none; stroke: #b0b0b0; stroke-width: 0.8; stroke-linecap: square"/></g><g id="line2d_260"><g><use href="#m5d545ce8f8" x="39.96" y="814.68" style="stroke: #000000; stroke-width: 0.8"/></g></g><g id="text_62"><text style="font-size: 10px; font-family: 'DejaVu Sans', 'Liberation Sans', sans-serif; text-anchor: end" x="32.492" y="818.713" transform="rotate(-0 32.492 818.713)">-0.2</text></g></g><g id="ytick_21"><g id="line2d_261"><path d="M 39.492 792.36 L 865.202 792.36" clip-path="url(#pa009b8046e)" style="fill: none; stroke: #b0b0b0; stroke-width: 0.8; stroke-linecap: square"/></g><g id="line2d_262"><g><use href="#m5d545ce8f8" x="39.96" y="792.36" style="stroke: #000000; stroke-width: 0.8"/></g></g><g id="text_63"><text style="font-size: 10px; font-family: 'DejaVu Sans', 'Liberation Sans', sans-serif; text-anchor: end" x="32.492" y="795.981" transform="rotate(-0 32.492 795.981)">0.0</text></g></g><g id="ytick_22"><g id="line2d_263"><path d="M 39.492 769.32 L 865.202 769.32" clip-path="url(#pa009b8046e)" style="fill: none; stroke: #b0b0b0; stroke-width: 0.8; stroke-linecap: square"/></g><g id="line2d_264"><g><use href="#m5d545ce8f8" x="39.96" y="769.32" style="stroke: #000000; stroke-width: 0.8"/></g></g><g id="text_64"><text style="font-size: 10px; font-family: 'DejaVu Sans', 'Liberation Sans', sans-serif; text-anchor: end" x="32.492" y="773.249" transform="rotate(-0 32.492 773.249)">0.2</text></g></g><g id="ytick_23"><g id="line2d_265"><path d="M 39.492 747 L 865.202 747" clip-path="url(#pa009b8046e)" style="fill: none; stroke: #b0b0b0; stroke-width: 0.8; stroke-linecap: square"/></g><g id="line2d_266"><g><use href="#m5d545ce8f8" x="39.96" y="747" style="stroke: #000000; stroke-width: 0.8"/></g></g><g id="text_65"><text style="font-size: 10px; font-family: 'DejaVu Sans', 'Liberation Sans', sans-serif; text-anchor: end" x="32.492" y="750.517" transform="rotate(-0 32.492 750.517)">0.4</text></g></g><g id="ytick_24"><g id="line2d_267"><path d="M 39.492 723.96 L 865.202 723.96" clip-path="url(#pa009b8046e)" style="fill: none; stroke: #b0b0b0; stroke-width: 0.8; stroke-linecap: square"/></g><g id="line2d_268"><g><use href="#m5d545ce8f8" x="39.96" y="723.96" style="stroke: #000000; stroke-width: 0.8"/></g></g><g id="text_66"><text style="font-size: 10px; font-family: 'DejaVu Sans', 'Liberation Sans', sans-serif; text-anchor: end" x="32.492" y="727.785" transform="rotate(-0 32.492 727.785)">0.6</text></g></g><g id="ytick_25"><g id="line2d_269"><path d="M 39.492 700.92 L 865.202 700.92" clip-path="url(#pa009b8046e)" style="fill: none; stroke: #b0b0b0; stroke-width: 0.8; stroke-linecap: square"/></g><g id="line2d_270"><g><use href="#m5d545ce8f8" x="39.96" y="700.92" style="stroke: #000000; stroke-width: 0.8"/></g></g><g id="text_67"><text style="font-size: 10px; font-family: 'DejaVu Sans', 'Liberation Sans', sans-serif; text-anchor: end" x="32.492" y="705.053" transform="rotate(-0 32.492 705.053)">0.8</text></g></g><g id="ytick_26"><g id="line2d_271"><path d="M 39.492 678.6 L 865.202 678.6" clip-path="url(#pa009b8046e)" style="fill: none; stroke: #b0b0b0; stroke-width: 0.8; stroke-linecap: square"/></g><g id="line2d_272"><g><use href="#m5d545ce8f8" x="39.96" y="678.6" style="stroke: #000000; stroke-width: 0.8"/></g></g><g id="text_68"><text style="font-size: 10px; font-family: 'DejaVu Sans', 'Liberation Sans', sans-serif; text-anchor: end" x="32.492" y="682.321" transform="rotate(-0 32.492 682.321)">1.0</text></g></g></g><g id="line2d_273"><path d="M 77.6 792.49 L 77.97 792.18 L 78.33 792.32 L 78.7 792.95 L 79.07 792.86 L 79.44 792.21 L 79.8 793.2 L 80.17 792.27 L 80.54 792.3 L 80.9 792.67 L 81.27 792.86 L 82 792.91 L 82.37 792.7 L 83.1 792.58 L 83.47 792.07 L 84.21 792.5 L 84.57 792.08 L 84.94 792.96 L 85.31 793.02 L 85.67 792.51 L 86.04 793.15 L 86.41 793.16 L 86.77 792.62 L 87.14 792.67 L 87.51 792.16 L 87.88 792.49 L 88.98 792.92 L 89.34 793.19 L 89.71 792.99 L 90.08 792.42 L 90.44 792.98 L 90.81 792.78 L 91.18 793.2 L 91.54 792.26 L 91.91 793.03 L 92.28 792.9 L 92.65 792.2 L 93.01 792.62 L 93.38 792.24 L 93.75 792.48 L 94.11 792.36 L 94.48 793.1 L 94.85 792.59 L 95.21 792.63 L 95.58 792.21 L 95.95 792.79 L 96.31 792.52 L 96.68 793.14 L 97.05 792.76 L 97.42 792.84 L 97.78 793.03 L 98.15 792.28 L 98.52 792.77 L 98.88 792.09 L 99.25 792.53 L 100.35 792.44 L 100.72 793.03 L 101.08 792.7 L 101.45 792.93 L 101.82 792.75 L 102.19 793.09 L 102.55 792.1 L 102.92 792.96 L 103.29 792.44 L 103.65 792.86 L 104.02 792.21 L 104.39 792.45 L 104.75 793.05 L 105.12 792.24 L 105.49 792.13 L 105.85 792.18 L 106.59 793.04 L 106.96 792.99 L 107.32 792.15 L 108.06 793 L 108.42 792.2 L 108.79 792.48 L 109.16 792.56 L 109.52 792.78 L 109.89 792.74 L 110.63 793.16 L 110.99 792.21 L 111.36 792.67 L 111.73 792.58 L 112.09 792.84 L 112.46 792.35 L 112.83 793.18 L 113.19 792.78 L 113.56 793.17 L 113.93 793.06 L 114.29 792.11 L 115.03 792.72 L 115.4 792.61 L 115.76 792.21 L 116.13 792.81 L 116.5 792.53 L 116.86 792.43 L 117.23 792.8 L 118.33 792.17 L 118.7 793.03 L 119.06 792.14 L 119.43 793.2 L 119.8 792.35 L 120.17 792.28 L 120.53 793.05 L 121.27 792.28 L 121.63 793.19 L 122 792.49 L 122.37 792.3 L 122.73 792.62 L 123.1 792.38 L 123.47 792.95 L 123.83 792.98 L 124.2 792.79 L 124.57 793 L 124.94 792.81 L 125.3 792.13 L 126.04 792.82 L 126.4 792.9 L 126.77 792.12 L 127.14 792.7 L 127.5 792.09 L 127.87 792.62 L 128.24 792.61 L 128.6 792.19 L 129.71 792.72 L 130.07 792.21 L 130.44 792.74 L 130.81 792.16 L 131.17 793.13 L 131.54 792.72 L 131.91 792.61 L 132.27 792.12 L 132.64 792.92 L 133.01 792.29 L 133.38 792.44 L 133.74 792.39 L 134.11 792.49 L 134.48 792.1 L 134.84 792.83 L 135.21 792.75 L 135.94 793.15 L 136.31 792.96 L 136.68 792.16 L 137.04 792.25 L 137.41 793.08 L 137.78 792.52 L 138.15 792.66 L 138.88 792.45 L 139.25 792.86 L 139.61 792.11 L 139.98 792.67 L 140.35 792.49 L 140.71 792.48 L 141.08 793 L 141.45 793.13 L 142.18 792.34 L 142.55 792.28 L 142.92 792.37 L 143.28 793.08 L 143.65 792.17 L 144.02 792.29 L 144.38 792.21 L 144.75 792.61 L 145.12 792.16 L 145.48 793.15 L 146.22 793.18 L 146.58 792.92 L 147.32 792.99 L 147.69 792.56 L 148.05 793.16 L 148.42 792.53 L 148.79 793.02 L 149.15 792.43 L 149.52 793.18 L 149.89 792.85 L 150.25 792.14 L 150.62 792.59 L 150.99 792.28 L 151.72 792.51 L 152.09 792.99 L 152.46 792.55 L 152.82 793.16 L 153.19 792.29 L 153.56 792.11 L 153.92 792.23 L 154.29 793.15 L 154.66 792.82 L 155.02 792.84 L 155.39 793.08 L 155.76 792.49 L 156.13 792.3 L 156.49 792.85 L 156.86 792.22 L 157.23 792.3 L 157.59 793.06 L 157.96 792.33 L 158.33 792.2 L 158.69 792.98 L 159.06 792.55 L 159.79 792.51 L 160.16 793.09 L 160.53 792.45 L 160.9 792.49 L 161.26 792.27 L 161.63 792.29 L 162 792.83 L 162.36 792.38 L 162.73 792.22 L 163.1 792.19 L 163.46 793.02 L 163.83 793.17 L 164.2 792.46 L 164.56 792.96 L 165.3 792.13 L 165.67 792.77 L 166.03 792.92 L 166.77 792.46 L 167.13 793.09 L 167.5 792.77 L 167.87 793.05 L 168.23 792.45 L 168.6 792.26 L 168.97 792.78 L 169.33 792.78 L 169.7 792.59 L 170.07 792.96 L 170.8 792.83 L 171.17 792.68 L 171.54 793.11 L 171.9 792.35 L 172.64 792.86 L 173 793.12 L 173.37 792.34 L 173.74 793.06 L 174.84 793.11 L 175.21 792.17 L 175.57 792.9 L 175.94 792.86 L 176.31 792.26 L 176.67 792.5 L 177.04 792.99 L 177.41 792.71 L 177.77 792.2 L 178.14 792.78 L 178.51 792.4 L 178.88 793.09 L 179.24 792.38 L 179.98 792.27 L 180.34 792.44 L 181.08 793.13 L 181.44 792.61 L 181.81 792.34 L 182.18 792.99 L 182.54 792.9 L 183.28 792.35 L 183.65 792.19 L 184.01 793.06 L 184.38 792.99 L 184.75 792.3 L 185.11 792.47 L 185.48 792.38 L 185.85 792.07 L 186.95 792.32 L 187.31 792.76 L 187.68 792.48 L 188.05 792.99 L 188.42 792.34 L 189.15 792.38 L 189.52 792.7 L 189.88 792.77 L 190.25 792.73 L 190.62 793.17 L 190.98 792.24 L 191.35 792.59 L 191.72 792.76 L 192.45 792.38 L 192.82 792.77 L 193.19 792.26 L 193.55 792.16 L 193.92 792.76 L 194.29 793.05 L 194.65 792.34 L 195.02 792.08 L 195.39 793.04 L 195.75 792.39 L 196.49 792.16 L 196.86 793.06 L 197.22 793.1 L 197.59 792.08 L 197.96 793.07 L 198.32 793 L 198.69 792.55 L 199.06 792.7 L 199.42 792.35 L 199.79 792.99 L 200.16 792.16 L 200.52 792.96 L 200.89 792.33 L 201.26 793.13 L 201.63 792.67 L 201.99 793.17 L 202.36 792.85 L 202.73 792.85 L 203.09 792.39 L 203.46 792.69 L 203.83 793.14 L 204.19 792.07 L 204.56 792.19 L 204.93 792.16 L 205.29 792.92 L 205.66 792.76 L 206.4 793.06 L 206.76 793.17 L 207.13 792.63 L 207.5 793.06 L 207.86 793 L 208.23 792.23 L 208.96 793 L 209.33 792.44 L 209.7 792.9 L 210.06 792.61 L 210.43 792.88 L 210.8 792.62 L 211.17 792.49 L 211.9 792.75 L 212.27 792.31 L 212.63 792.21 L 213 793 L 213.73 793.08 L 214.1 792.09 L 214.47 792.13 L 214.83 792.94 L 215.2 792.1 L 215.57 792.97 L 215.94 792.63 L 216.3 792.64 L 216.67 792.16 L 217.04 793.16 L 217.77 792.52 L 218.14 793.13 L 218.87 792.68 L 219.24 792.2 L 219.61 792.34 L 219.97 792.26 L 220.71 792.4 L 221.07 792.24 L 221.44 792.43 L 221.81 792.37 L 222.17 792.86 L 222.54 793.01 L 222.91 792.34 L 223.27 793.02 L 223.64 792.16 L 224.38 792.83 L 224.74 792.14 L 225.11 793.03 L 225.48 792.62 L 225.84 793.1 L 226.21 792.11 L 226.58 792.55 L 226.94 792.29 L 227.31 792.88 L 227.68 792.29 L 228.41 792.47 L 228.78 792.12 L 229.15 792.71 L 229.51 792.73 L 229.88 792.42 L 230.25 792.26 L 230.61 792.82 L 230.98 792.44 L 231.35 792.97 L 232.08 792.33 L 232.45 793.13 L 232.81 792.38 L 233.18 793.19 L 233.55 792.12 L 233.92 792.67 L 234.28 792.74 L 234.65 792.39 L 235.02 792.61 L 235.38 792.37 L 235.75 793.11 L 236.12 792.56 L 236.48 792.57 L 236.85 792.14 L 237.22 793.16 L 237.58 792.69 L 237.95 792.49 L 238.32 792.58 L 238.69 793.12 L 239.05 792.53 L 239.42 792.95 L 239.79 792.98 L 240.15 792.21 L 240.52 792.98 L 241.25 792.35 L 241.62 792.4 L 241.99 792.58 L 242.36 792.29 L 242.72 792.67 L 243.46 792.27 L 244.56 792.74 L 244.92 792.57 L 245.29 792.75 L 245.66 792.36 L 246.02 792.77 L 246.39 792.67 L 246.76 792.35 L 247.49 792.82 L 247.86 792.26 L 248.23 792.77 L 248.59 792.24 L 248.96 792.31 L 249.33 792.7 L 249.69 792.39 L 250.06 793.17 L 250.79 792.23 L 251.16 792.55 L 251.53 792.57 L 252.26 792.43 L 253 792.73 L 253.36 793 L 253.73 792.87 L 254.1 792.87 L 254.46 792.71 L 254.83 792.07 L 255.2 792.8 L 255.56 792.7 L 255.93 792.78 L 256.3 792.54 L 256.67 792.13 L 257.03 792.19 L 257.4 792.78 L 257.77 792.9 L 258.13 792.2 L 258.5 792.64 L 258.87 792.43 L 259.23 793.12 L 259.6 792.22 L 259.97 792.85 L 260.33 792.64 L 260.7 792.98 L 261.07 792.73 L 261.44 792.26 L 261.8 792.26 L 262.17 792.67 L 262.54 792.33 L 262.9 792.68 L 263.27 792.78 L 263.64 792.58 L 264 792.98 L 264.37 792.84 L 264.74 792.4 L 265.11 792.33 L 265.47 793.14 L 265.84 792.37 L 266.21 792.28 L 266.94 793.13 L 267.31 792.43 L 267.67 792.92 L 268.04 792.47 L 268.41 792.78 L 268.77 792.48 L 269.14 792.91 L 269.51 792.66 L 270.24 792.49 L 270.61 792.97 L 270.98 792.11 L 271.34 792.88 L 272.08 792.91 L 272.44 793.13 L 273.18 792.33 L 273.54 792.4 L 273.91 792.98 L 274.28 793.05 L 274.65 792.84 L 275.01 792.33 L 275.38 792.65 L 275.75 792.16 L 276.11 792.46 L 276.48 792.5 L 276.85 792.33 L 277.21 792.35 L 277.58 792.81 L 277.95 792.91 L 278.31 792.71 L 278.68 792.65 L 279.05 793.04 L 279.78 792.48 L 280.15 793.05 L 280.88 793.01 L 281.25 792.88 L 281.62 792.11 L 281.98 793.18 L 282.35 793 L 282.72 793.02 L 283.08 792.67 L 283.45 793.19 L 283.82 792.68 L 284.19 793.02 L 284.55 792.9 L 284.92 792.3 L 285.29 793 L 285.65 792.5 L 286.02 792.74 L 286.39 792.73 L 286.75 792.28 L 287.12 793.02 L 287.49 792.15 L 287.86 792.19 L 288.22 792.44 L 288.59 793.15 L 288.96 792.45 L 289.32 792.52 L 289.69 792.33 L 290.06 792.96 L 290.42 792.12 L 290.79 792.2 L 291.16 793.07 L 291.52 792.85 L 291.89 793.17 L 292.26 792.26 L 292.99 792.08 L 293.36 792.51 L 294.09 792.43 L 294.46 792.56 L 294.83 792.12 L 295.56 792.82 L 295.93 792.62 L 296.29 793.18 L 296.66 792.38 L 297.03 792.42 L 297.4 792.73 L 297.76 792.24 L 298.13 792.35 L 298.86 793.12 L 299.96 792.86 L 300.33 792.7 L 300.7 792.15 L 301.06 792.89 L 301.43 792.18 L 301.8 792.43 L 302.17 792.23 L 302.9 793.2 L 303.27 792.31 L 303.63 792.93 L 304 793.04 L 304.37 792.3 L 304.73 792.42 L 305.1 792.96 L 305.47 792.9 L 305.83 792.14 L 306.2 792.9 L 306.57 792.41 L 306.94 793.06 L 307.3 792.28 L 307.67 793.07 L 308.04 792.62 L 308.4 793.17 L 308.77 792.61 L 309.14 792.29 L 309.5 793.18 L 309.87 792.99 L 310.24 792.45 L 310.61 792.65 L 310.97 793.01 L 311.34 792.67 L 311.71 792.89 L 312.07 792.45 L 312.44 793.11 L 312.81 792.61 L 313.17 792.77 L 313.54 792.67 L 313.91 793.1 L 314.27 792.73 L 314.64 792.78 L 315.38 793.59 L 315.74 792.54 L 316.11 792.85 L 316.48 793.45 L 316.84 792.87 L 317.21 793.41 L 317.58 793.21 L 317.94 792.79 L 318.31 793.28 L 318.68 793.48 L 319.04 793.48 L 319.41 793.76 L 320.15 793.58 L 320.88 793.86 L 321.25 793.43 L 321.61 793.73 L 321.98 793.16 L 322.35 792.97 L 322.71 793.73 L 323.08 793.41 L 323.45 793.51 L 323.81 794.02 L 324.18 793.99 L 324.55 793.16 L 324.92 793.65 L 325.28 793.31 L 325.65 794.18 L 326.02 793.61 L 326.38 793.33 L 326.75 793.36 L 327.12 794.37 L 327.48 793.82 L 327.85 794.02 L 328.22 793.61 L 328.58 794.42 L 328.95 794.23 L 329.32 793.64 L 329.69 794.06 L 330.05 794.11 L 330.42 793.56 L 330.79 794.33 L 331.15 794.67 L 331.52 794.31 L 331.89 794.61 L 332.25 794.72 L 332.99 793.79 L 333.36 794.25 L 333.72 794.2 L 334.09 794.6 L 334.82 794.18 L 335.19 794.39 L 335.56 794.18 L 336.29 794.93 L 336.66 794.52 L 337.02 794.66 L 337.39 795.06 L 337.76 794.58 L 338.13 794.38 L 338.49 795.19 L 338.86 794.75 L 339.23 794.57 L 339.59 794.98 L 339.96 795.16 L 340.69 794.91 L 341.06 794.78 L 341.43 794.96 L 341.79 795.5 L 342.16 794.72 L 342.53 794.63 L 342.9 795.6 L 343.26 795.46 L 343.63 795.58 L 344 794.84 L 344.36 794.8 L 344.73 795.82 L 345.1 795.52 L 345.46 795.71 L 345.83 795.45 L 346.2 794.98 L 346.56 795.99 L 346.93 795.92 L 347.3 795.61 L 347.67 795.62 L 348.03 795.41 L 348.77 796.19 L 349.13 796 L 349.5 795.33 L 349.87 795.64 L 350.23 796.41 L 350.6 795.67 L 350.97 796.28 L 351.34 795.79 L 351.7 796.71 L 352.07 795.78 L 352.44 796.63 L 353.17 796.16 L 353.54 796.38 L 353.9 796.82 L 354.27 796.89 L 354.64 796.77 L 355 797.09 L 355.37 796.95 L 355.74 797.09 L 356.11 796.76 L 356.47 796.93 L 356.84 796.71 L 357.57 797.43 L 357.94 797.14 L 358.31 796.71 L 358.67 797.32 L 359.04 797.2 L 359.41 796.85 L 359.77 797.29 L 360.14 796.79 L 360.51 796.8 L 360.88 797.54 L 361.24 797.1 L 361.61 797.69 L 361.98 797.87 L 362.34 797.57 L 362.71 797.43 L 363.08 797.1 L 363.44 798.04 L 363.81 797.44 L 364.54 798.19 L 364.91 797.28 L 365.28 797.64 L 365.65 798.33 L 366.01 797.49 L 366.38 798.45 L 366.75 798.51 L 367.11 798.28 L 367.48 797.63 L 367.85 798.71 L 368.21 797.75 L 368.58 798.14 L 368.95 798.8 L 369.31 798.28 L 369.68 798.45 L 370.78 798.33 L 371.15 798.02 L 371.52 799.02 L 371.88 798.32 L 372.25 798.82 L 372.62 798.44 L 373.35 798.29 L 373.72 799.16 L 374.09 799 L 374.45 798.48 L 374.45 798.48" clip-path="url(#pa009b8046e)" style="fill: none; stroke: #1f77b4; stroke-width: 2.25; stroke-linecap: round"/></g><g id="line2d_274"><path d="M 374.557 799.001 L 374.819 696.707" clip-path="url(#pa009b8046e)" style="fill: none; stroke-dasharray: 5.55,2.4; stroke-dashoffset: 0; stroke: #1f77b4; stroke-width: 1.5"/></g><g id="line2d_275"><path d="M 374.82 696.3 L 375.19 696.29 L 375.55 695.25 L 375.92 695.2 L 376.29 694.7 L 376.65 694.01 L 377.02 694.01 L 377.39 693.76 L 377.75 693.55" clip-path="url(#pa009b8046e)" style="fill: none; stroke: #1f77b4; stroke-width: 2.25; stroke-linecap: round"/></g><g id="line2d_276"><path d="M 377.964 693.297 L 378.383 795.591" clip-path="url(#pa009b8046e)" style="fill: none; stroke-dasharray: 5.55,2.4; stroke-dashoffset: 0; stroke: #1f77b4; stroke-width: 1.5"/></g><g id="line2d_277"><path d="M 378.38 795.65 L 378.75 796.18 L 379.12 796.5 L 379.48 796.13 L 379.85 796.56 L 380.22 796.72 L 380.59 796.86 L 380.95 797.63 L 381.32 797.89 L 381.69 798.09 L 382.05 798.27 L 382.42 798.05 L 382.79 798.6 L 383.15 798.85 L 383.52 798.76 L 383.89 799.37 L 384.25 799.64 L 384.62 799.3 L 384.99 799.45 L 385.36 800.07 L 385.72 799.96 L 386.09 800.7 L 386.46 800.57 L 386.82 800.61 L 387.19 801.05 L 387.56 801.11 L 387.92 801.02 L 388.29 801.18 L 388.66 801.72 L 389.02 801.37 L 389.39 802.08 L 389.76 801.42 L 390.13 802.26" clip-path="url(#pa009b8046e)" style="fill: none; stroke: #1f77b4; stroke-width: 2.25; stroke-linecap: round"/></g><g id="line2d_278"><path d="M 390.335 802.07 L 390.702 674.544" clip-path="url(#pa009b8046e)" style="fill: none; stroke-dasharray: 5.55,2.4; stroke-dashoffset: 0; stroke: #1f77b4; stroke-width: 1.5"/></g><g id="line2d_279"><path d="M 390.7 675.16 L 391.07 679.27 L 391.44 681.27 L 391.8 685.19 L 392.17 685.19 L 392.54 685.02 L 392.9 686.11 L 393.27 689.44 L 393.64 689.3 L 394 690.16" clip-path="url(#pa009b8046e)" style="fill: none; stroke: #1f77b4; stroke-width: 2.25; stroke-linecap: round"/></g><g id="line2d_280"><path d="M 394.214 691.024 L 394.529 816.05" clip-path="url(#pa009b8046e)" style="fill: none; stroke-dasharray: 5.55,2.4; stroke-dashoffset: 0; stroke: #1f77b4; stroke-width: 1.5"/></g><g id="line2d_281"><path d="M 394.53 815.54 L 394.9 811.91 L 395.26 807.39 L 395.63 807.2 L 396 806.13 L 396.36 803.97 L 396.73 805.05 L 397.1 804.62 L 397.46 804.18 L 397.83 804.72 L 398.2 804.7 L 398.56 802.35 L 398.93 803.47 L 399.3 803.93 L 399.67 802.56 L 400.03 804.2 L 400.4 803.58 L 400.77 801.75 L 401.13 801.88 L 401.5 802.5 L 401.87 803.82 L 402.23 803.22 L 402.6 803.91 L 402.97 803.4 L 403.34 803.85 L 403.7 803.56 L 404.07 802.26 L 404.44 803.56 L 404.8 803.39 L 405.17 801.48 L 405.54 802.87 L 405.9 802.84" clip-path="url(#pa009b8046e)" style="fill: none; stroke: #1f77b4; stroke-width: 2.25; stroke-linecap: round"/></g><g id="line2d_282"><path d="M 406.008 802.411 L 406.218 681.931" clip-path="url(#pa009b8046e)" style="fill: none; stroke-dasharray: 5.55,2.4; stroke-dashoffset: 0; stroke: #1f77b4; stroke-width: 1.5"/></g><g id="line2d_283"><path d="M 406.22 682.97 L 406.59 685.74 L 406.95 690.58 L 407.32 695.45 L 407.69 698.06 L 408.05 702.14 L 408.42 704.54 L 408.79 706.67 L 409.15 708.68" clip-path="url(#pa009b8046e)" style="fill: none; stroke: #1f77b4; stroke-width: 2.25; stroke-linecap: round"/></g><g id="line2d_284"><path d="M 409.363 711.483 L 410.726 834.236" clip-path="url(#pa009b8046e)" style="fill: none; stroke-dasharray: 5.55,2.4; stroke-dashoffset: 0; stroke: #1f77b4; stroke-width: 1.5"/></g><g id="line2d_285"><path d="M 410.73 833.44 L 411.09 824.87 L 411.46 816.15 L 411.83 815.27 L 412.19 812.07 L 412.56 813.13 L 412.93 811.97 L 413.29 809.56 L 413.66 808.26 L 414.03 807.32 L 414.4 807.82 L 414.76 808.43 L 415.13 808.71 L 415.5 806.6 L 415.86 806.2 L 416.23 807.96 L 416.6 806.33 L 416.96 807.42 L 417.33 807.57 L 417.7 807.01 L 418.06 808.18 L 418.43 807.02 L 418.8 807.55 L 419.17 806.19 L 419.53 806.64 L 419.9 805.65 L 420.27 805.51 L 420.63 806.88 L 421 806.9 L 421.37 805.17 L 421.73 806.19 L 422.1 807.13 L 422.47 807.18 L 422.84 804.74 L 423.2 805.7 L 423.57 806.93 L 423.94 805.75 L 424.3 805.72 L 424.67 805.84 L 425.04 804.51 L 425.4 804.47 L 425.77 806.48 L 426.14 806.37 L 426.5 805.68 L 426.87 804.57 L 427.24 805.05 L 427.61 804.74 L 427.97 805.08 L 428.34 805.94 L 428.71 804.38 L 429.07 806.34 L 429.44 804.58 L 429.81 805.8 L 430.17 805.06 L 430.54 803.75 L 430.91 804.8 L 431.27 805.96 L 431.64 804.98 L 432.01 804.36 L 432.38 805.82" clip-path="url(#pa009b8046e)" style="fill: none; stroke: #1f77b4; stroke-width: 2.25; stroke-linecap: round"/></g><g id="line2d_286"><path d="M 432.585 804.684 L 432.795 680.226" clip-path="url(#pa009b8046e)" style="fill: none; stroke-dasharray: 5.55,2.4; stroke-dashoffset: 0; stroke: #1f77b4; stroke-width: 1.5"/></g><g id="line2d_287"><path d="M 432.79 680.84 L 433.16 684.91 L 433.53 687.09 L 433.9 690.97 L 434.26 693.55 L 434.63 696.52 L 435 698.06 L 435.36 701.72" clip-path="url(#pa009b8046e)" style="fill: none; stroke: #1f77b4; stroke-width: 2.25; stroke-linecap: round"/></g><g id="line2d_288"><path d="M 435.416 701.254 L 436.202 827.416" clip-path="url(#pa009b8046e)" style="fill: none; stroke-dasharray: 5.55,2.4; stroke-dashoffset: 0; stroke: #1f77b4; stroke-width: 1.5"/></g><g id="line2d_289"><path d="M 436.2 826.4 L 436.57 821.66 L 436.94 818.22 L 437.3 814.79 L 437.67 813.06 L 438.04 813.73 L 438.4 811.7 L 438.77 812.25 L 439.14 810.88 L 439.5 811.75 L 439.87 810.97 L 440.24 810.06 L 440.61 812.14 L 440.97 810.16 L 441.34 810.72 L 441.71 811.03 L 442.07 811 L 442.44 811.6 L 442.81 811.03 L 443.17 810.02 L 443.54 811.23 L 443.91 809.7 L 444.27 808.87 L 444.64 808.72 L 445.01 808.85 L 445.38 808.95 L 445.74 810.42 L 446.11 808.34 L 446.48 810.16 L 446.84 808.39 L 447.21 808.27 L 447.58 808.77 L 447.94 808.88 L 448.31 809.54 L 448.68 808.6 L 449.04 809.03 L 449.41 809.3 L 449.78 809.16 L 450.15 807.33 L 450.51 806.89 L 450.88 808.7 L 451.25 808.88 L 451.61 808.12 L 451.98 808.3 L 452.35 808.02 L 452.71 806.9 L 453.08 807.16 L 453.45 807 L 453.81 807.42 L 454.18 806.13 L 454.55 806.93 L 454.92 806.51 L 455.28 806.21 L 455.65 804.97 L 456.02 806.47" clip-path="url(#pa009b8046e)" style="fill: none; stroke: #1f77b4; stroke-width: 2.25; stroke-linecap: round"/></g><g id="line2d_290"><path d="M 456.069 805.821 L 456.331 680.226" clip-path="url(#pa009b8046e)" style="fill: none; stroke-dasharray: 5.55,2.4; stroke-dashoffset: 0; stroke: #1f77b4; stroke-width: 1.5"/></g><g id="line2d_291"><path d="M 456.33 679.68 L 456.7 683.09 L 457.06 684.01 L 457.43 687.65 L 457.8 689.76 L 458.17 691.22 L 458.53 693.32 L 458.9 696.36 L 459.27 697.84 L 459.63 697.3" clip-path="url(#pa009b8046e)" style="fill: none; stroke: #1f77b4; stroke-width: 2.25; stroke-linecap: round"/></g><g id="line2d_292"><path d="M 459.738 698.98 L 460 826.279" clip-path="url(#pa009b8046e)" style="fill: none; stroke-dasharray: 5.55,2.4; stroke-dashoffset: 0; stroke: #1f77b4; stroke-width: 1.5"/></g><g id="line2d_293"><path d="M 460 827.46 L 460.37 823.59 L 460.73 818.77 L 461.1 817.94 L 461.47 815.45 L 461.84 814.6 L 462.2 814.19 L 462.57 812.5 L 462.94 811.48 L 463.3 811.44 L 463.67 811.34 L 464.04 809.52 L 464.4 809.48 L 464.77 810.03 L 465.14 811.03 L 465.5 809.96 L 465.87 809.68 L 466.24 810.13 L 466.61 808.98 L 466.97 810.11 L 467.34 809.75 L 467.71 810.68 L 468.07 809.5 L 468.44 808.93 L 468.81 808.96 L 469.17 810.09 L 469.54 808.19 L 469.91 808.81 L 470.27 809.5 L 470.64 809.46 L 471.01 808.49 L 471.38 809.93 L 471.74 808.7 L 472.11 808.44 L 472.48 808.88 L 472.84 807.92 L 473.21 808.87 L 473.58 808.82 L 473.94 809.2 L 474.31 807.55 L 474.68 808.99 L 475.04 807.98 L 475.41 808.63 L 475.78 807.25 L 476.15 807.15 L 476.51 809.38 L 476.88 806.9" clip-path="url(#pa009b8046e)" style="fill: none; stroke: #1f77b4; stroke-width: 2.25; stroke-linecap: round"/></g><g id="line2d_294"><path d="M 477.142 808.094 L 477.351 684.205" clip-path="url(#pa009b8046e)" style="fill: none; stroke-dasharray: 5.55,2.4; stroke-dashoffset: 0; stroke: #1f77b4; stroke-width: 1.5"/></g><g id="line2d_295"><path d="M 477.35 683.94 L 477.72 687.38 L 478.09 688.42 L 478.45 691.65 L 478.82 692.51 L 479.19 695.44 L 479.55 696.52 L 479.92 698.22 L 480.29 699.02 L 480.65 700.01" clip-path="url(#pa009b8046e)" style="fill: none; stroke: #1f77b4; stroke-width: 2.25; stroke-linecap: round"/></g><g id="line2d_296"><path d="M 480.759 701.254 L 480.968 827.416" clip-path="url(#pa009b8046e)" style="fill: none; stroke-dasharray: 5.55,2.4; stroke-dashoffset: 0; stroke: #1f77b4; stroke-width: 1.5"/></g><g id="line2d_297"><path d="M 480.97 826.32 L 481.34 824.34 L 481.7 820.24 L 482.07 818.15 L 482.44 814.84 L 482.8 812.44 L 483.17 813.62 L 483.54 810.82 L 483.9 810.43 L 484.27 810.41 L 484.64 808.52 L 485 809.68 L 485.37 808.11 L 485.74 810.08 L 486.11 809.93 L 486.47 808.3 L 486.84 808.99 L 487.21 809.69 L 487.57 808.72 L 487.94 809.2 L 488.31 808.51 L 488.67 807.97 L 489.04 807.62 L 489.41 809.56 L 489.77 808.17 L 490.14 807.13 L 490.51 808.39 L 490.88 807.55 L 491.24 809.18 L 491.61 807.18 L 491.98 807.89 L 492.34 807.12 L 492.71 807.38 L 493.08 807.17 L 493.44 809.2 L 493.81 807.55 L 494.18 808.85 L 494.54 808.68 L 494.91 808.53 L 495.28 807.87 L 495.65 807.77 L 496.01 807.01 L 496.38 809.31 L 496.75 808.86 L 497.11 808.44 L 497.48 807.3 L 497.85 807.97 L 498.21 808.06" clip-path="url(#pa009b8046e)" style="fill: none; stroke: #1f77b4; stroke-width: 2.25; stroke-linecap: round"/></g><g id="line2d_298"><path d="M 498.214 808.094 L 498.424 685.341" clip-path="url(#pa009b8046e)" style="fill: none; stroke-dasharray: 5.55,2.4; stroke-dashoffset: 0; stroke: #1f77b4; stroke-width: 1.5"/></g><g id="line2d_299"><path d="M 498.42 684.69 L 498.79 686.94 L 499.16 689.84 L 499.52 692.34 L 499.89 693.39 L 500.26 694.17 L 500.63 696.46 L 500.99 699.42 L 501.36 700.04" clip-path="url(#pa009b8046e)" style="fill: none; stroke: #1f77b4; stroke-width: 2.25; stroke-linecap: round"/></g><g id="line2d_300"><path d="M 501.674 701.254 L 501.936 826.279" clip-path="url(#pa009b8046e)" style="fill: none; stroke-dasharray: 5.55,2.4; stroke-dashoffset: 0; stroke: #1f77b4; stroke-width: 1.5"/></g><g id="line2d_301"><path d="M 501.94 826.57 L 502.3 822.89 L 502.67 819.7 L 503.04 815.6 L 503.4 814.99 L 503.77 814.06 L 504.14 812.79 L 504.5 811.35 L 504.87 811.04 L 505.24 810.87 L 505.61 809.54 L 505.97 810.28 L 506.34 809 L 506.71 810.61 L 507.07 810.92 L 507.44 809.07 L 507.81 810.32 L 508.17 808.86 L 508.54 809.36 L 508.91 809.53 L 509.27 810.5 L 509.64 808.66 L 510.01 810.38 L 510.38 808.04 L 510.74 808.18 L 511.11 809.53 L 511.48 809.88 L 511.84 807.9 L 512.21 808.82 L 512.58 809.62 L 512.94 808.59 L 513.31 809.12 L 513.68 808.62 L 514.04 807.94 L 514.41 807.15 L 514.78 807.34 L 515.15 808.84 L 515.51 807.95 L 515.88 807.82 L 516.25 806.47 L 516.61 808.63 L 516.98 807.47 L 517.35 806.36 L 517.71 807.55 L 518.08 807.79 L 518.45 806.96 L 518.82 807.45" clip-path="url(#pa009b8046e)" style="fill: none; stroke: #1f77b4; stroke-width: 2.25; stroke-linecap: round"/></g><g id="line2d_302"><path d="M 518.972 806.957 L 519.182 681.363" clip-path="url(#pa009b8046e)" style="fill: none; stroke-dasharray: 5.55,2.4; stroke-dashoffset: 0; stroke: #1f77b4; stroke-width: 1.5"/></g><g id="line2d_303"><path d="M 519.18 680.3 L 519.55 684.94 L 519.92 687.18 L 520.28 690.03 L 520.65 691 L 521.02 694.59 L 521.38 694.84 L 521.75 696.51 L 522.12 698.05 L 522.48 701.39" clip-path="url(#pa009b8046e)" style="fill: none; stroke: #1f77b4; stroke-width: 2.25; stroke-linecap: round"/></g><g id="line2d_304"><path d="M 522.589 701.254 L 522.904 826.279" clip-path="url(#pa009b8046e)" style="fill: none; stroke-dasharray: 5.55,2.4; stroke-dashoffset: 0; stroke: #1f77b4; stroke-width: 1.5"/></g><g id="line2d_305"><path d="M 522.9 827.53 L 523.27 822.74 L 523.64 817.48 L 524 814.16 L 524.37 813.34 L 524.74 810.78 L 525.11 809.3 L 525.47 808.22 L 525.84 807.91 L 526.21 806.59 L 526.57 806.03 L 526.94 807.06 L 527.31 807.54 L 527.67 805.8 L 528.04 807.1 L 528.41 806.31 L 528.77 804.61 L 529.14 805.52 L 529.51 805.44 L 529.88 804.21 L 530.24 805.69 L 530.61 803.73 L 530.98 803.78 L 531.34 804.97 L 531.71 804.89 L 532.08 805.22 L 532.44 803.08 L 532.81 804.73 L 533.18 805 L 533.54 802.62 L 533.91 803.23 L 534.28 802.95 L 534.65 802.7 L 535.01 804.33 L 535.38 804.12 L 535.75 803 L 536.11 804.03 L 536.48 802.8 L 536.85 802.12 L 537.21 802.22 L 537.58 802.23 L 537.95 803.56 L 538.32 802.99 L 538.68 801.24 L 539.05 803.08 L 539.42 801.96 L 539.78 803.07 L 540.15 800.75 L 540.52 802.57 L 540.88 801.88 L 541.25 801.44 L 541.62 800.92 L 541.98 800.28 L 542.35 800.68" clip-path="url(#pa009b8046e)" style="fill: none; stroke: #1f77b4; stroke-width: 2.25; stroke-linecap: round"/></g><g id="line2d_306"><path d="M 542.351 801.274 L 542.561 673.975" clip-path="url(#pa009b8046e)" style="fill: none; stroke-dasharray: 5.55,2.4; stroke-dashoffset: 0; stroke: #1f77b4; stroke-width: 1.5"/></g><g id="line2d_307"><path d="M 542.56 674.15 L 542.93 678.17 L 543.29 681.17 L 543.66 684.58 L 544.03 689.38 L 544.4 690.24 L 544.76 691.84 L 545.13 692.44 L 545.5 693.3 L 545.86 694.12 L 546.23 694.62" clip-path="url(#pa009b8046e)" style="fill: none; stroke: #1f77b4; stroke-width: 2.25; stroke-linecap: round"/></g><g id="line2d_308"><path d="M 546.388 695.571 L 546.755 824.006" clip-path="url(#pa009b8046e)" style="fill: none; stroke-dasharray: 5.55,2.4; stroke-dashoffset: 0; stroke: #1f77b4; stroke-width: 1.5"/></g><g id="line2d_309"><path d="M 546.75 823.79 L 547.86 809.02 L 549.32 802.63 L 550.06 802.54 L 550.42 802.09 L 550.79 802.14 L 551.16 801.41 L 551.52 801.28 L 551.89 801.73 L 552.63 800.86 L 552.99 801.36 L 553.36 801.02 L 553.73 801.03 L 554.46 800.21 L 554.83 801.02 L 555.19 799.97 L 555.56 800.19 L 555.93 799.92 L 556.29 799.99 L 556.66 799.6 L 557.03 800.11 L 557.4 799.55 L 557.76 799.94 L 558.5 799.23 L 558.86 799.66 L 559.23 799.7 L 559.6 798.75 L 559.96 798.62 L 560.33 798.68 L 560.7 798.97 L 561.07 798.48 L 561.43 799.03 L 561.8 798.27 L 562.17 798.26 L 562.53 798.11 L 563.27 798.35 L 563.63 797.68 L 564 797.88 L 564.37 797.45 L 565.1 797.99 L 565.47 797.37 L 565.84 797.18 L 566.2 796.74 L 566.57 796.67 L 566.94 797.51 L 567.3 796.6 L 567.67 797.07 L 568.04 796.47 L 568.4 796.73 L 568.77 796.69 L 569.5 796.25 L 569.87 795.96 L 570.61 795.77 L 570.97 796 L 571.34 795.57 L 571.71 795.84 L 572.07 795.44 L 572.44 795.5 L 572.81 795.28 L 573.17 795.8 L 573.54 795.15 L 573.91 795.36 L 574.27 795.07 L 574.64 795.32 L 575.01 794.56 L 575.38 794.18 L 575.74 794.69 L 576.11 794.89 L 576.48 794.25 L 576.84 794.77 L 577.21 793.85 L 577.58 794.67 L 578.31 794.15 L 578.68 794.53 L 579.04 794.25 L 579.41 794.25 L 580.15 793.35 L 580.51 794 L 580.88 793.47 L 581.25 794.16 L 581.61 793.61 L 582.35 793.84 L 582.71 793.19 L 583.08 793.22 L 583.45 793.87 L 583.82 793.64 L 584.18 792.99 L 584.55 792.75 L 584.92 793.13 L 585.28 792.79 L 585.65 792.61 L 586.02 792.84 L 586.38 792.9 L 586.75 793.33 L 587.48 792.77 L 587.85 792.38 L 588.22 793.04 L 588.59 792.88 L 588.95 793.26 L 589.32 792.44 L 589.69 792.68 L 590.05 792.23 L 590.42 792.82 L 590.79 792.28 L 591.15 792.22 L 591.89 792.67 L 592.25 792.38 L 592.62 791.94 L 592.99 792.38 L 593.36 791.97 L 593.72 791.01 L 594.09 790.74 L 594.46 789.57 L 595.56 790.72 L 595.92 791.33 L 596.29 792.25 L 596.66 791.82 L 597.02 791.96 L 598.13 791.94 L 598.49 792.58 L 598.86 792.19 L 599.59 792.63 L 599.96 792.67 L 600.33 792.9 L 600.69 792.55 L 601.06 792.72 L 601.43 792.69 L 601.79 792.24 L 602.16 792.43 L 602.53 792.43 L 602.9 792.09 L 603.26 792.96 L 603.63 792.63 L 604 793.1 L 604.36 792.76 L 604.73 792.12 L 605.1 793.11 L 605.46 792.34 L 605.83 792.22 L 606.2 792.63 L 606.57 792.3 L 606.93 792.7 L 607.3 792.8 L 607.67 792.63 L 608.03 792.98 L 608.4 792.85 L 608.77 792.86 L 609.13 792.08 L 609.5 792.82 L 609.87 792.94 L 610.23 792.14 L 610.6 793.05 L 610.97 792.11 L 611.7 792.47 L 612.8 793.08 L 613.17 793.09 L 613.54 792.81 L 613.9 792.74 L 614.27 792.15 L 614.64 792.59 L 615 792.08 L 615.37 792.38 L 615.74 793.04 L 616.11 792.58 L 616.47 793.02 L 616.84 793.16 L 617.21 792.13 L 617.57 792.82 L 618.31 793.09 L 618.67 792.46 L 619.04 792.68 L 619.41 793.19 L 619.77 792.39 L 620.14 792.91 L 620.51 792.32 L 620.88 792.65 L 621.24 792.6 L 621.61 792.68 L 622.34 792.08 L 622.71 792.3 L 623.08 793.13 L 623.44 792.64 L 623.81 792.94 L 624.18 793.09 L 624.91 792.92 L 625.28 792.11 L 625.65 792.36 L 626.01 792.23 L 626.38 792.41 L 626.75 792.85 L 627.48 792.7 L 627.85 792.87 L 628.21 792.73 L 628.58 792.33 L 628.95 793.12 L 630.05 792.44 L 630.42 792.47 L 630.78 792.38 L 631.15 793.08 L 632.25 792.88 L 632.62 792.35 L 632.98 792.08 L 633.35 792.43 L 633.72 793.17 L 634.09 792.87 L 634.45 792.29 L 634.82 792.15 L 635.55 792.81 L 635.92 792.8 L 636.65 792.22 L 637.02 792.82 L 637.75 793.2 L 638.12 793.05 L 638.49 792.24 L 638.86 792.49 L 639.22 792.08 L 639.59 793.13 L 639.96 792.79 L 640.32 792.3 L 640.69 792.45 L 641.06 793.13 L 641.79 792.48 L 642.16 792.42 L 642.89 792.99 L 643.26 792.11 L 643.63 792.67 L 643.99 792.39 L 644.36 792.6 L 644.73 793.11 L 645.09 792.94 L 645.46 793.13 L 645.83 792.99 L 646.19 792.98 L 646.56 792.73 L 646.93 792.84 L 647.29 792.79 L 647.66 792.28 L 648.03 793.18 L 648.4 793.09 L 648.76 792.29 L 649.13 792.6 L 649.86 792.9 L 650.23 792.59 L 650.6 792.95 L 650.96 792.23 L 651.33 792.27 L 651.7 792.84 L 652.07 793.18 L 652.43 792.2 L 652.8 792.86 L 653.17 792.46 L 653.53 792.23 L 653.9 792.3 L 654.27 792.22 L 654.63 792.65 L 655 792.25 L 655.37 792.68 L 655.73 792.9 L 656.1 792.66 L 656.47 792.82 L 656.84 792.33 L 657.2 792.26 L 657.57 793.04 L 657.94 793.02 L 658.3 792.77 L 658.67 792.68 L 659.04 792.12 L 659.77 792.11 L 660.14 792.37 L 660.5 792.43 L 660.87 792.9 L 661.24 792.78 L 661.61 793.2 L 661.97 792.26 L 662.34 792.89 L 662.71 793.11 L 663.07 792.85 L 663.44 792.84 L 663.81 792.38 L 664.17 793.2 L 664.54 792.94 L 664.91 792.19 L 665.27 792.23 L 665.64 792.49 L 666.01 792.57 L 666.38 792.95 L 666.74 792.21 L 667.11 792.34 L 667.84 793.02 L 668.21 792.96 L 668.58 792.77 L 668.94 792.83 L 669.31 793.13 L 669.68 792.74 L 670.04 792.69 L 670.41 792.88 L 670.78 792.77 L 671.51 792.78 L 671.88 792.5 L 672.25 792.64 L 672.61 792.98 L 672.98 792.3 L 673.35 792.62 L 673.71 792.68 L 674.08 792.39 L 675.18 792.28 L 675.55 792.44 L 675.92 792.38 L 676.28 793.03 L 676.65 792.41 L 677.02 792.92 L 677.38 792.91 L 677.75 793.07 L 678.12 792.75 L 678.48 793.18 L 678.85 792.46 L 679.59 792.32 L 679.95 793.06 L 680.32 792.48 L 680.69 792.25 L 681.05 793.16 L 682.15 792.68 L 682.52 793.01 L 682.89 792.59 L 683.25 792.81 L 683.62 792.46 L 683.99 792.6 L 684.36 792.42 L 684.72 792.92 L 685.09 792.4 L 685.82 792.38 L 686.19 793.13 L 686.56 792.13 L 687.29 792.89 L 688.02 792.62 L 688.39 792.62 L 688.76 792.92 L 689.49 792.79 L 689.86 792.32 L 690.59 793.16 L 690.96 792.69 L 691.69 793.19 L 692.06 792.09 L 692.43 792.87 L 692.79 792.59 L 693.16 792.8 L 693.53 793.14 L 693.9 792.18 L 694.26 792.14 L 694.63 792.99 L 695 792.73 L 695.36 792.78 L 695.73 793.01 L 696.1 792.45 L 696.46 792.32 L 697.2 792.44 L 697.57 793.18 L 698.67 792.41 L 699.03 792.77 L 699.4 792.69 L 699.77 792.25 L 700.13 793.18 L 700.5 792.9 L 700.87 792.87 L 701.23 792.08 L 701.6 792.95 L 701.97 793.15 L 702.7 792.47 L 703.07 793.03 L 703.44 792.25 L 703.8 792.98 L 704.17 792.4 L 704.54 793.02 L 704.9 792.2 L 705.27 792.98 L 705.64 792.37 L 706 792.25 L 706.37 792.91 L 706.74 793.1 L 707.11 792.54 L 707.84 792.66 L 708.21 792.32 L 708.57 792.68 L 709.31 792.65 L 710.04 792.74 L 710.41 793.02 L 710.77 792.87 L 711.51 792.92 L 711.88 792.31 L 712.24 793.07 L 712.61 792.97 L 712.98 792.61 L 713.34 792.85 L 713.71 792.93 L 714.81 792.44 L 715.18 792.1 L 715.55 792.24 L 715.91 792.72 L 716.65 792.73 L 717.01 792.93 L 717.38 792.12 L 717.75 793.13 L 718.11 792.97 L 718.48 792.45 L 718.85 792.53 L 719.21 792.89 L 719.58 792.14 L 719.95 792.74 L 720.32 792.53 L 720.68 793.1 L 721.05 792.19 L 721.42 793.09 L 721.78 792.76 L 722.15 792.2 L 722.52 792.13 L 723.25 792.26 L 723.62 792.94 L 723.98 793.17 L 724.35 792.69 L 724.72 793.13 L 725.09 792.11 L 725.45 793.2 L 725.82 792.83 L 726.55 793.19 L 726.92 792.64 L 727.29 793.12 L 727.65 792.18 L 728.39 792.78 L 728.75 792.25 L 729.12 792.3 L 729.49 792.83 L 729.86 792.24 L 730.22 792.15 L 730.96 792.8 L 731.32 792.18 L 731.69 792.13 L 732.06 792.81 L 732.42 793.11 L 732.79 792.22 L 733.16 792.45 L 733.52 792.94 L 733.89 792.56 L 734.26 792.85 L 734.63 792.16 L 734.99 792.82 L 735.73 793.16 L 736.09 792.82 L 736.46 792.08 L 736.83 792.96 L 737.19 792.68 L 737.56 792.1 L 737.93 793.2 L 738.3 792.87 L 738.66 792.27 L 739.03 793.1 L 739.4 792.15 L 739.76 792.26 L 740.13 793.04 L 740.5 792.53 L 740.86 792.57 L 741.23 792.42 L 741.6 792.86 L 741.96 792.77 L 742.33 792.93 L 742.7 792.87 L 743.07 793 L 743.43 792.18 L 743.8 792.2 L 744.17 792.8 L 744.53 792.42 L 745.27 792.89 L 745.63 792.81 L 746 792.11 L 746.37 792.82 L 746.73 792.55 L 747.1 792.13 L 747.47 792.87 L 747.84 792.28 L 748.2 793.07 L 748.57 792.37 L 749.67 792.1 L 750.04 792.4 L 750.4 792.09 L 750.77 792.89 L 751.14 792.61 L 751.5 792.96 L 751.87 793.11 L 752.61 792.39 L 752.97 792.32 L 753.34 793.19 L 753.71 792.13 L 754.07 792.92 L 754.44 792.87 L 754.81 792.26 L 755.17 792.19 L 755.54 792.37 L 755.91 792.83 L 756.27 792.68 L 756.64 792.26 L 757.01 792.8 L 757.38 792.29 L 757.74 792.32 L 758.11 792.67 L 758.48 792.19 L 758.84 792.77 L 759.21 792.35 L 759.58 792.48 L 759.94 792.83 L 760.31 792.6 L 760.68 792.52 L 761.05 792.59 L 761.41 793.08 L 761.78 792.08 L 762.15 792.11 L 762.51 793.16 L 762.88 792.13 L 763.61 793.06 L 763.98 792.27 L 764.35 792.71 L 764.71 792.39 L 765.08 792.26 L 765.45 792.59 L 765.82 793.15 L 766.18 792.27 L 766.55 792.42 L 766.92 792.17 L 767.28 792.9 L 767.65 792.31 L 768.02 792.21 L 768.38 792.8 L 768.75 792.74 L 769.12 792.82 L 769.48 793.2 L 769.85 792.94 L 770.22 792.83 L 770.59 793.08 L 770.95 792.33 L 771.32 792.72 L 771.69 792.56 L 772.05 792.88 L 772.42 792.79 L 772.79 792.35 L 773.15 792.67 L 773.52 792.53 L 773.89 792.72 L 774.25 792.57 L 774.62 792.18 L 774.99 792.9 L 775.72 792.42 L 776.09 793.11 L 776.46 792.11 L 776.82 792.64 L 777.19 792.93 L 777.56 792.34 L 777.92 792.28 L 778.29 792.49 L 778.66 792.16 L 779.02 793.1 L 779.39 792.6 L 780.13 792.16 L 780.49 792.48 L 780.86 792.52 L 781.23 792.76 L 781.59 792.55 L 781.96 792.57 L 782.33 792.18 L 783.06 792.37 L 783.43 792.15 L 783.8 793.13 L 784.16 792.33 L 784.53 792.68 L 784.9 792.35 L 785.26 792.87 L 785.63 792.67 L 786 792.27 L 786.36 793.16 L 787.46 792.24 L 787.83 792.9 L 788.2 792.27 L 788.57 792.93 L 788.93 792.86 L 789.3 792.57 L 789.67 792.46 L 790.03 792.2 L 790.4 792.2 L 790.77 792.92 L 791.13 792.36 L 791.5 792.48 L 791.87 792.77 L 792.23 792.32 L 792.6 792.18 L 792.97 792.66 L 793.34 792.16 L 793.7 793.06 L 794.07 793.02 L 794.44 792.34 L 794.8 792.86 L 795.17 792.54 L 795.54 792.64 L 795.9 793.04 L 796.27 792.35 L 796.64 792.36 L 797 793.04 L 797.37 792.91 L 797.74 792.29 L 798.11 792.17 L 798.47 792.22 L 798.84 792.63 L 799.21 792.79 L 799.57 792.7 L 799.94 793 L 800.31 792.64 L 800.67 792.94 L 801.04 793.02 L 801.41 792.77 L 801.77 793.13 L 802.14 792.67 L 802.51 792.41 L 802.88 792.46 L 803.24 792.1 L 803.61 792.2 L 803.98 792.48 L 804.34 792.18 L 804.71 792.7 L 805.08 792.3 L 805.44 792.88 L 805.81 792.61 L 806.18 792.09 L 806.55 792.52 L 806.91 792.63 L 807.28 792.31 L 807.65 792.85 L 808.01 792.26 L 808.38 793.18 L 808.75 792.93 L 809.11 793 L 809.48 792.91 L 809.85 792.13 L 810.21 793.18 L 810.95 792.55 L 811.68 792.32 L 812.05 792.77 L 812.42 792.95 L 812.78 792.24 L 813.15 793.07 L 813.52 793.13 L 814.25 792.64 L 814.62 792.13 L 815.35 792.56 L 815.72 792.61 L 816.09 792.42 L 816.45 792.49 L 817.19 793.1 L 817.55 792.98 L 817.92 792.31 L 818.29 792.48 L 818.65 792.3 L 819.02 793.15 L 819.39 792.18 L 819.75 792.77 L 820.12 792.15 L 820.49 792.53 L 820.86 792.58 L 821.22 792.27 L 821.59 792.49 L 821.96 792.44 L 822.32 793.03 L 822.69 792.52 L 823.42 793.12 L 823.79 793.05 L 824.16 792.66 L 824.52 792.91 L 824.89 792.33 L 825.26 793.07 L 825.63 793.19 L 825.99 792.07 L 826.36 792.85 L 826.73 792.62 L 827.09 792.97 L 827.46 792.97 L 827.83 792.75 L 828.19 792.31 L 828.19 792.31" clip-path="url(#pa009b8046e)" style="fill: none; stroke: #1f77b4; stroke-width: 2.25; stroke-linecap: round"/></g><g id="line2d_310"><path d="M 378 842.76 L 378 666.36" clip-path="url(#pa009b8046e)" style="fill: none; stroke-dasharray: 5.55,2.4; stroke-dashoffset: 0; stroke: #ff0000; stroke-width: 1.5"/></g><g id="line2d_311"><path d="M 378.72 842.76 L 378.72 666.36" clip-path="url(#pa009b8046e)" style="fill: none; stroke-dasharray: 5.55,2.4; stroke-dashoffset: 0; stroke: #ff0000; stroke-width: 1.5"/></g><g id="line2d_312"><path d="M 393.84 842.76 L 393.84 666.36" clip-path="url(#pa009b8046e)" style="fill: none; stroke-dasharray: 5.55,2.4; stroke-dashoffset: 0; stroke: #ff0000; stroke-width: 1.5"/></g><g id="line2d_313"><path d="M 394.56 842.76 L 394.56 666.36" clip-path="url(#pa009b8046e)" style="fill: none; stroke-dasharray: 5.55,2.4; stroke-dashoffset: 0; stroke: #ff0000; stroke-width: 1.5"/></g><g id="line2d_314"><path d="M 409.68 842.76 L 409.68 666.36" clip-path="url(#pa009b8046e)" style="fill: none; stroke-dasharray: 5.55,2.4; stroke-dashoffset: 0; stroke: #ff0000; stroke-width: 1.5"/></g><g id="line2d_315"><path d="M 435.6 842.76 L 435.6 666.36" clip-path="url(#pa009b8046e)" style="fill: none; stroke-dasharray: 5.55,2.4; stroke-dashoffset: 0; stroke: #ff0000; stroke-width: 1.5"/></g><g id="line2d_316"><path d="M 436.32 842.76 L 436.32 666.36" clip-path="url(#pa009b8046e)" style="fill: none; stroke-dasharray: 5.55,2.4; stroke-dashoffset: 0; stroke: #ff0000; stroke-width: 1.5"/></g><g id="line2d_317"><path d="M 459.36 842.76 L 459.36 666.36" clip-path="url(#pa009b8046e)" style="fill: none; stroke-dasharray: 5.55,2.4; stroke-dashoffset: 0; stroke: #ff0000; stroke-width: 1.5"/></g><g id="line2d_318"><path d="M 460.08 842.76 L 460.08 666.36" clip-path="url(#pa009b8046e)" style="fill: none; stroke-dasharray: 5.55,2.4; stroke-dashoffset: 0; stroke: #ff0000; stroke-width: 1.5"/></g><g id="line2d_319"><path d="M 480.24 842.76 L 480.24 666.36" clip-path="url(#pa009b8046e)" style="fill: none; stroke-dasharray: 5.55,2.4; stroke-dashoffset: 0; stroke: #ff0000; stroke-width: 1.5"/></g><g id="line2d_320"><path d="M 480.96 842.76 L 480.96 666.36" clip-path="url(#pa009b8046e)" style="fill: none; stroke-dasharray: 5.55,2.4; stroke-dashoffset: 0; stroke: #ff0000; stroke-width: 1.5"/></g><g id="line2d_321"><path d="M 501.12 842.76 L 501.12 666.36" clip-path="url(#pa009b8046e)" style="fill: none; stroke-dasharray: 5.55,2.4; stroke-dashoffset: 0; stroke: #ff0000; stroke-width: 1.5"/></g><g id="line2d_322"><path d="M 501.84 842.76 L 501.84 666.36" clip-path="url(#pa009b8046e)" style="fill: none; stroke-dasharray: 5.55,2.4; stroke-dashoffset: 0; stroke: #ff0000; stroke-width: 1.5"/></g><g id="line2d_323"><path d="M 522 842.76 L 522 666.36" clip-path="url(#pa009b8046e)" style="fill: none; stroke-dasharray: 5.55,2.4; stroke-dashoffset: 0; stroke: #ff0000; stroke-width: 1.5"/></g><g id="line2d_324"><path d="M 522.72 842.76 L 522.72 666.36" clip-path="url(#pa009b8046e)" style="fill: none; stroke-dasharray: 5.55,2.4; stroke-dashoffset: 0; stroke: #ff0000; stroke-width: 1.5"/></g><g id="line2d_325"><path d="M 545.76 842.76 L 545.76 666.36" clip-path="url(#pa009b8046e)" style="fill: none; stroke-dasharray: 5.55,2.4; stroke-dashoffset: 0; stroke: #ff0000; stroke-width: 1.5"/></g><g id="line2d_326"><path d="M 546.48 842.76 L 546.48 666.36" clip-path="url(#pa009b8046e)" style="fill: none; stroke-dasharray: 5.55,2.4; stroke-dashoffset: 0; stroke: #ff0000; stroke-width: 1.5"/></g><g id="patch_21"><path d="M 39.96 842.76 L 39.96 666.36" style="fill: none; stroke: #000000; stroke-width: 0.8; stroke-linejoin: miter; stroke-linecap: square"/></g><g id="patch_22"><path d="M 865.8 842.76 L 865.8 666.36" style="fill: none; stroke: #000000; stroke-width: 0.8; stroke-linejoin: miter; stroke-linecap: square"/></g><g id="patch_23"><path d="M 39.492 842.76 L 865.202 842.76" style="fill: none; stroke: #000000; stroke-width: 0.8; stroke-linejoin: miter; stroke-linecap: square"/></g><g id="patch_24"><path d="M 39.492 666.36 L 865.202 666.36" style="fill: none; stroke: #000000; stroke-width: 0.8; stroke-linejoin: miter; stroke-linecap: square"/></g><g id="legend_4"><g id="patch_25"><path d="M 716.19 689.32 L 858.67 689.32 Q 860.67 689.32 860.67 687.32 L 860.67 673.36 Q 860.67 671.36 858.67 671.36 L 716.19 671.36 Q 714.19 671.36 714.19 673.36 L 714.19 687.32 Q 714.19 689.32 716.19 689.32 z" style="fill: #ffffff; opacity: 0.8; stroke: #cccccc; stroke-linejoin: miter"/></g><g id="line2d_327"><path d="M 718.192 679.458 L 728.192 679.458 L 738.192 679.458" style="fill: none; stroke-dasharray: 5.55,2.4; stroke-dashoffset: 0; stroke: #1f77b4; stroke-width: 1.5"/><g><use href="#meb56f628bb" x="728.192" y="680.258" style="fill: #1f77b4"/></g></g><g id="text_69"><text style="font-size: 10px; font-family: 'DejaVu Sans', 'Liberation Sans', sans-serif; text-anchor: start" x="749.392" y="682.958" transform="rotate(-0 749.392 682.958)">Ws_W68_ws_rate_ma</text></g></g></g><g id="axes_5"><g id="patch_26"><path d="M 39.492 1056.6 L 865.202 1056.6 L 865.202 880.2 L 39.492 880.2 z" style="fill: #ffffff"/></g><g id="matplotlib.axis_9"><g id="xtick_33"><g id="line2d_328"><path d="M 76.68 1056.6 L 76.68 880.2" clip-path="url(#p33d261107c)" style="fill: none; stroke: #b0b0b0; stroke-width: 0.8; stroke-linecap: square"/></g><g id="line2d_329"><g><use href="#m1504cfccaf" x="76.68" y="1056.6" style="stroke: #000000; stroke-width: 0.8"/></g></g><g id="text_70"><text style="font-size: 10px; font-family: 'DejaVu Sans', 'Liberation Sans', sans-serif; text-anchor: middle" x="76.5" y="1071.918" transform="rotate(-0 76.5 1071.918)">0</text></g></g><g id="xtick_34"><g id="line2d_330"><path d="M 181.8 1056.6 L 181.8 880.2" clip-path="url(#p33d261107c)" style="fill: none; stroke: #b0b0b0; stroke-width: 0.8; stroke-linecap: square"/></g><g id="line2d_331"><g><use href="#m1504cfccaf" x="181.8" y="1056.6" style="stroke: #000000; stroke-width: 0.8"/></g></g><g id="text_71"><text style="font-size: 10px; font-family: 'DejaVu Sans', 'Liberation Sans', sans-serif; text-anchor: middle" x="181.412" y="1071.918" transform="rotate(-0 181.412 1071.918)">200</text></g></g><g id="xtick_35"><g id="line2d_332"><path d="M 286.92 1056.6 L 286.92 880.2" clip-path="url(#p33d261107c)" style="fill: none; stroke: #b0b0b0; stroke-width: 0.8; stroke-linecap: square"/></g><g id="line2d_333"><g><use href="#m1504cfccaf" x="286.92" y="1056.6" style="stroke: #000000; stroke-width: 0.8"/></g></g><g id="text_72"><text style="font-size: 10px; font-family: 'DejaVu Sans', 'Liberation Sans', sans-serif; text-anchor: middle" x="286.324" y="1071.918" transform="rotate(-0 286.324 1071.918)">400</text></g></g><g id="xtick_36"><g id="line2d_334"><path d="M 391.32 1056.6 L 391.32 880.2" clip-path="url(#p33d261107c)" style="fill: none; stroke: #b0b0b0; stroke-width: 0.8; stroke-linecap: square"/></g><g id="line2d_335"><g><use href="#m1504cfccaf" x="391.32" y="1056.6" style="stroke: #000000; stroke-width: 0.8"/></g></g><g id="text_73"><text style="font-size: 10px; font-family: 'DejaVu Sans', 'Liberation Sans', sans-serif; text-anchor: middle" x="391.236" y="1071.918" transform="rotate(-0 391.236 1071.918)">600</text></g></g><g id="xtick_37"><g id="line2d_336"><path d="M 496.44 1056.6 L 496.44 880.2" clip-path="url(#p33d261107c)" style="fill: none; stroke: #b0b0b0; stroke-width: 0.8; stroke-linecap: square"/></g><g id="line2d_337"><g><use href="#m1504cfccaf" x="496.44" y="1056.6" style="stroke: #000000; stroke-width: 0.8"/></g></g><g id="text_74"><text style="font-size: 10px; font-family: 'DejaVu Sans', 'Liberation Sans', sans-serif; text-anchor: middle" x="496.148" y="1071.918" transform="rotate(-0 496.148 1071.918)">800</text></g></g><g id="xtick_38"><g id="line2d_338"><path d="M 601.56 1056.6 L 601.56 880.2" clip-path="url(#p33d261107c)" style="fill: none; stroke: #b0b0b0; stroke-width: 0.8; stroke-linecap: square"/></g><g id="line2d_339"><g><use href="#m1504cfccaf" x="601.56" y="1056.6" style="stroke: #000000; stroke-width: 0.8"/></g></g><g id="text_75"><text style="font-size: 10px; font-family: 'DejaVu Sans', 'Liberation Sans', sans-serif; text-anchor: middle" x="601.06" y="1071.918" transform="rotate(-0 601.06 1071.918)">1000</text></g></g><g id="xtick_39"><g id="line2d_340"><path d="M 706.68 1056.6 L 706.68 880.2" clip-path="url(#p33d261107c)" style="fill: none; stroke: #b0b0b0; stroke-width: 0.8; stroke-linecap: square"/></g><g id="line2d_341"><g><use href="#m1504cfccaf" x="706.68" y="1056.6" style="stroke: #000000; stroke-width: 0.8"/></g></g><g id="text_76"><text style="font-size: 10px; font-family: 'DejaVu Sans', 'Liberation Sans', sans-serif; text-anchor: middle" x="705.972" y="1071.918" transform="rotate(-0 705.972 1071.918)">1200</text></g></g><g id="xtick_40"><g id="line2d_342"><path d="M 811.08 1056.6 L 811.08 880.2" clip-path="url(#p33d261107c)" style="fill: none; stroke: #b0b0b0; stroke-width: 0.8; stroke-linecap: square"/></g><g id="line2d_343"><g><use href="#m1504cfccaf" x="811.08" y="1056.6" style="stroke: #000000; stroke-width: 0.8"/></g></g><g id="text_77"><text style="font-size: 10px; font-family: 'DejaVu Sans', 'Liberation Sans', sans-serif; text-anchor: middle" x="810.884" y="1071.918" transform="rotate(-0 810.884 1071.918)">1400</text></g></g><g id="text_78"><text style="font-size: 10px; font-family: 'DejaVu Sans', 'Liberation Sans', sans-serif; text-anchor: middle" x="452.347" y="1085.597" transform="rotate(-0 452.347 1085.597)">minute</text></g></g><g id="matplotlib.axis_10"><g id="ytick_27"><g id="line2d_344"><path d="M 39.492 1053.72 L 865.202 1053.72" clip-path="url(#p33d261107c)" style="fill: none; stroke: #b0b0b0; stroke-width: 0.8; stroke-linecap: square"/></g><g id="line2d_345"><g><use href="#m5d545ce8f8" x="39.96" y="1053.72" style="stroke: #000000; stroke-width: 0.8"/></g></g><g id="text_79"><text style="font-size: 10px; font-family: 'DejaVu Sans', 'Liberation Sans', sans-serif; text-anchor: end" x="32.492" y="1057.454" transform="rotate(-0 32.492 1057.454)">-0.2</text></g></g><g id="ytick_28"><g id="line2d_346"><path d="M 39.492 1027.08 L 865.202 1027.08" clip-path="url(#p33d261107c)" style="fill: none; stroke: #b0b0b0; stroke-width: 0.8; stroke-linecap: square"/></g><g id="line2d_347"><g><use href="#m5d545ce8f8" x="39.96" y="1027.08" style="stroke: #000000; stroke-width: 0.8"/></g></g><g id="text_80"><text style="font-size: 10px; font-family: 'DejaVu Sans', 'Liberation Sans', sans-serif; text-anchor: end" x="32.492" y="1030.68" transform="rotate(-0 32.492 1030.68)">0.0</text></g></g><g id="ytick_29"><g id="line2d_348"><path d="M 39.492 1000.44 L 865.202 1000.44" clip-path="url(#p33d261107c)" style="fill: none; stroke: #b0b0b0; stroke-width: 0.8; stroke-linecap: square"/></g><g id="line2d_349"><g><use href="#m5d545ce8f8" x="39.96" y="1000.44" style="stroke: #000000; stroke-width: 0.8"/></g></g><g id="text_81"><text style="font-size: 10px; font-family: 'DejaVu Sans', 'Liberation Sans', sans-serif; text-anchor: end" x="32.492" y="1003.906" transform="rotate(-0 32.492 1003.906)">0.2</text></g></g><g id="ytick_30"><g id="line2d_350"><path d="M 39.492 973.08 L 865.202 973.08" clip-path="url(#p33d261107c)" style="fill: none; stroke: #b0b0b0; stroke-width: 0.8; stroke-linecap: square"/></g><g id="line2d_351"><g><use href="#m5d545ce8f8" x="39.96" y="973.08" style="stroke: #000000; stroke-width: 0.8"/></g></g><g id="text_82"><text style="font-size: 10px; font-family: 'DejaVu Sans', 'Liberation Sans', sans-serif; text-anchor: end" x="32.492" y="977.132" transform="rotate(-0 32.492 977.132)">0.4</text></g></g><g id="ytick_31"><g id="line2d_352"><path d="M 39.492 946.44 L 865.202 946.44" clip-path="url(#p33d261107c)" style="fill: none; stroke: #b0b0b0; stroke-width: 0.8; stroke-linecap: square"/></g><g id="line2d_353"><g><use href="#m5d545ce8f8" x="39.96" y="946.44" style="stroke: #000000; stroke-width: 0.8"/></g></g><g id="text_83"><text style="font-size: 10px; font-family: 'DejaVu Sans', 'Liberation Sans', sans-serif; text-anchor: end" x="32.492" y="950.358" transform="rotate(-0 32.492 950.358)">0.6</text></g></g><g id="ytick_32"><g id="line2d_354"><path d="M 39.492 919.8 L 865.202 919.8" clip-path="url(#p33d261107c)" style="fill: none; stroke: #b0b0b0; stroke-width: 0.8; stroke-linecap: square"/></g><g id="line2d_355"><g><use href="#m5d545ce8f8" x="39.96" y="919.8" style="stroke: #000000; stroke-width: 0.8"/></g></g><g id="text_84"><text style="font-size: 10px; font-family: 'DejaVu Sans', 'Liberation Sans', sans-serif; text-anchor: end" x="32.492" y="923.584" transform="rotate(-0 32.492 923.584)">0.8</text></g></g><g id="ytick_33"><g id="line2d_356"><path d="M 39.492 893.16 L 865.202 893.16" clip-path="url(#p33d261107c)" style="fill: none; stroke: #b0b0b0; stroke-width: 0.8; stroke-linecap: square"/></g><g id="line2d_357"><g><use href="#m5d545ce8f8" x="39.96" y="893.16" style="stroke: #000000; stroke-width: 0.8"/></g></g><g id="text_85"><text style="font-size: 10px; font-family: 'DejaVu Sans', 'Liberation Sans', sans-serif; text-anchor: end" x="32.492" y="896.811" transform="rotate(-0 32.492 896.811)">1.0</text></g></g></g><g id="line2d_358"><path d="M 77.55 1028.03 L 77.92 1026.96 L 78.28 1026.76 L 78.65 1027.34 L 79.38 1027.77 L 79.75 1027.84 L 80.12 1027.65 L 80.49 1026.95 L 80.85 1028.08 L 81.22 1027.03 L 81.59 1027.19 L 81.96 1028.06 L 82.32 1027.99 L 82.69 1027.1 L 83.06 1027.18 L 83.42 1027.67 L 83.79 1026.93 L 84.16 1027.8 L 84.53 1027.51 L 84.89 1027.93 L 85.26 1027.22 L 85.63 1027.97 L 85.99 1027.85 L 86.36 1027.06 L 86.73 1027.42 L 87.46 1027.1 L 87.83 1027.27 L 88.2 1027.82 L 88.56 1027.15 L 88.93 1027.93 L 89.67 1027.49 L 90.03 1027.93 L 90.4 1027.94 L 90.77 1027.21 L 91.13 1027.09 L 91.5 1027.59 L 91.87 1027.56 L 92.24 1027.81 L 92.6 1027.39 L 92.97 1027.31 L 93.34 1026.84 L 93.71 1028.03 L 94.07 1026.87 L 94.44 1026.76 L 94.81 1027.62 L 95.17 1027.11 L 95.54 1026.98 L 95.91 1027.21 L 96.28 1027.7 L 97.01 1026.91 L 97.38 1027.94 L 97.74 1027.44 L 98.11 1028.06 L 98.48 1026.95 L 98.85 1027.04 L 99.21 1028.02 L 99.58 1027.09 L 99.95 1027.16 L 100.31 1027.92 L 100.68 1027.38 L 101.05 1027.16 L 101.42 1027.64 L 101.78 1027.41 L 102.15 1026.78 L 102.52 1027.23 L 102.89 1027.41 L 103.25 1028 L 103.62 1027.92 L 103.99 1026.95 L 104.35 1027.09 L 104.72 1026.97 L 105.09 1027.31 L 105.82 1027.38 L 106.19 1027.1 L 106.56 1027.64 L 106.92 1027.42 L 107.29 1027.46 L 107.66 1027.2 L 108.03 1027.8 L 108.39 1028.05 L 109.13 1027.85 L 109.49 1026.94 L 109.86 1027.13 L 110.23 1027.08 L 110.96 1027.95 L 111.7 1026.93 L 112.06 1027.4 L 112.43 1027.24 L 113.17 1027.88 L 113.53 1027.25 L 114.64 1027.74 L 115 1027.15 L 115.37 1027.66 L 115.74 1027.31 L 116.1 1027.74 L 116.47 1027.08 L 116.84 1027.58 L 117.21 1027.45 L 117.57 1026.84 L 117.94 1027.12 L 118.31 1027.1 L 118.67 1027.63 L 119.04 1026.96 L 119.41 1027.57 L 119.78 1026.76 L 120.14 1026.89 L 120.51 1027.2 L 120.88 1026.97 L 121.24 1027.36 L 121.61 1027.1 L 121.98 1027.92 L 122.35 1026.76 L 122.71 1027.01 L 123.08 1027.9 L 123.45 1027.76 L 123.82 1027.32 L 124.18 1027.06 L 124.55 1027.89 L 124.92 1026.8 L 125.28 1027.62 L 125.65 1026.75 L 127.12 1027.96 L 127.49 1027.97 L 127.85 1027.24 L 128.59 1026.87 L 128.96 1027.6 L 129.32 1026.83 L 129.69 1027.69 L 130.06 1026.83 L 130.42 1026.86 L 130.79 1027.88 L 131.16 1026.93 L 131.53 1027.14 L 131.89 1027.15 L 132.26 1026.96 L 132.63 1027.37 L 132.99 1027.41 L 133.36 1027.59 L 133.73 1026.93 L 134.1 1026.88 L 134.46 1027.87 L 134.83 1027.05 L 135.2 1027.72 L 135.57 1027.84 L 135.93 1027.82 L 136.3 1027.32 L 136.67 1027.71 L 137.03 1027.76 L 137.4 1027.95 L 137.77 1027.65 L 138.14 1027.05 L 138.5 1028.06 L 138.87 1027.44 L 139.24 1027.28 L 139.6 1028.02 L 139.97 1027.69 L 140.34 1026.87 L 140.71 1026.75 L 141.07 1026.95 L 141.44 1027.86 L 141.81 1027.06 L 142.54 1027.86 L 142.91 1027.44 L 143.28 1026.85 L 143.64 1026.91 L 144.38 1028 L 144.75 1026.88 L 145.11 1026.77 L 145.48 1027.4 L 145.85 1027.78 L 146.21 1027.36 L 146.58 1027.15 L 147.32 1027.61 L 147.68 1027.75 L 148.05 1027.69 L 148.42 1028.02 L 148.78 1027.74 L 149.15 1026.81 L 149.52 1028.07 L 149.89 1027.11 L 150.25 1027.03 L 150.62 1027.54 L 150.99 1027.29 L 151.35 1027.79 L 151.72 1027.19 L 152.46 1027.1 L 152.82 1027.43 L 153.19 1026.79 L 153.56 1026.93 L 153.92 1027.32 L 154.29 1027.17 L 154.66 1027.72 L 155.03 1026.82 L 155.39 1027.22 L 155.76 1026.89 L 156.13 1027.7 L 156.5 1026.77 L 156.86 1027.94 L 157.23 1027.38 L 157.6 1027.94 L 157.96 1027.83 L 158.33 1027.06 L 158.7 1028 L 159.07 1027.57 L 159.43 1027.83 L 159.8 1026.95 L 160.17 1027.98 L 160.53 1027.64 L 160.9 1026.94 L 161.27 1027.17 L 161.64 1027.14 L 162 1026.76 L 162.37 1028.05 L 162.74 1027.2 L 163.47 1027.08 L 163.84 1027.13 L 164.21 1027.99 L 164.57 1027.97 L 164.94 1027.05 L 165.31 1027.27 L 166.04 1028.07 L 166.41 1027.37 L 166.78 1027.96 L 167.14 1027.08 L 167.51 1027.63 L 167.88 1027 L 168.25 1027.96 L 168.61 1027.42 L 168.98 1027.95 L 169.35 1027.04 L 170.08 1027.77 L 170.45 1026.8 L 171.18 1027.64 L 171.55 1026.94 L 171.92 1027.58 L 172.28 1026.82 L 172.65 1027.69 L 173.02 1026.77 L 173.39 1028 L 173.75 1027.1 L 174.12 1027.7 L 174.85 1027.23 L 175.22 1028.02 L 175.59 1027.79 L 175.96 1027.95 L 176.32 1027.1 L 176.69 1027.79 L 177.06 1027.42 L 177.79 1027.77 L 178.16 1026.83 L 178.53 1027.41 L 179.26 1027.14 L 179.63 1026.99 L 180 1027.73 L 180.36 1027.98 L 180.73 1027.46 L 181.1 1027.86 L 181.46 1028.06 L 181.83 1026.85 L 182.93 1027.9 L 183.3 1027.07 L 183.67 1027.37 L 184.03 1027.85 L 184.4 1026.77 L 185.5 1026.98 L 186.24 1027.68 L 186.6 1027.21 L 186.97 1027.88 L 187.34 1027.26 L 187.71 1028 L 188.07 1028.07 L 188.44 1027.13 L 188.81 1027.63 L 189.18 1027.15 L 189.91 1026.97 L 190.28 1027.26 L 190.64 1026.95 L 191.01 1027.2 L 191.38 1026.84 L 191.75 1026.89 L 192.11 1028.03 L 192.85 1027.57 L 193.58 1027.85 L 193.95 1026.92 L 194.32 1028.05 L 194.68 1027.84 L 195.05 1027.07 L 195.42 1027.79 L 195.78 1027.74 L 196.15 1026.79 L 196.52 1027.06 L 197.25 1027.9 L 197.62 1027.73 L 197.99 1026.77 L 198.36 1027.03 L 198.72 1027.99 L 199.09 1027.14 L 199.46 1027.58 L 199.82 1027.12 L 200.19 1027.69 L 200.93 1028.06 L 201.29 1027.69 L 201.66 1026.93 L 202.03 1026.89 L 202.39 1027.17 L 202.76 1027.08 L 203.13 1027.83 L 203.5 1027.61 L 203.86 1026.88 L 204.23 1026.77 L 204.6 1027.49 L 204.96 1027.05 L 205.7 1026.75 L 206.07 1027.69 L 206.43 1027.21 L 206.8 1027.56 L 207.53 1027.47 L 208.27 1028.06 L 208.64 1027.06 L 209 1027.15 L 209.37 1026.96 L 209.74 1027.88 L 210.11 1027.77 L 210.84 1026.83 L 211.21 1027.45 L 211.57 1027.82 L 212.31 1026.8 L 212.68 1026.92 L 213.04 1026.88 L 213.41 1027.54 L 213.78 1027.73 L 214.14 1026.92 L 214.51 1027.03 L 214.88 1026.95 L 215.25 1027.56 L 215.98 1027.76 L 216.35 1026.92 L 216.71 1026.85 L 217.08 1027.59 L 217.45 1026.92 L 217.82 1027.58 L 218.55 1027.33 L 218.92 1027.79 L 219.65 1027.73 L 220.02 1027.74 L 220.39 1027.4 L 220.75 1027.95 L 221.12 1027.04 L 221.49 1027.85 L 222.22 1027.23 L 222.59 1027.9 L 222.96 1027.54 L 223.32 1027.33 L 223.69 1027.35 L 224.06 1026.89 L 224.43 1027.03 L 224.79 1027.92 L 225.16 1026.97 L 225.53 1027.35 L 225.89 1027.18 L 226.26 1027.87 L 227 1027.15 L 227.36 1027.02 L 227.73 1027.01 L 228.1 1027.8 L 228.46 1026.97 L 228.83 1027.32 L 229.57 1026.95 L 229.93 1027.54 L 230.3 1026.85 L 231.04 1027 L 231.4 1027.58 L 231.77 1027.38 L 232.14 1027.85 L 232.5 1027.07 L 232.87 1026.89 L 233.24 1027.87 L 233.61 1027.09 L 233.97 1027.16 L 234.34 1028.04 L 234.71 1026.86 L 235.07 1027.44 L 235.81 1028.05 L 236.18 1027.04 L 236.54 1027.63 L 236.91 1027.4 L 237.28 1027.83 L 237.64 1027.27 L 238.01 1027.55 L 238.38 1027.01 L 238.75 1027.19 L 239.11 1027.12 L 239.48 1027.75 L 239.85 1028 L 240.22 1026.91 L 240.58 1026.83 L 240.95 1027.22 L 241.32 1026.85 L 241.68 1027.14 L 242.79 1027.61 L 243.15 1027.43 L 243.52 1027.79 L 243.89 1027.51 L 244.25 1027.41 L 244.62 1028.04 L 244.99 1027.56 L 245.36 1027.7 L 245.72 1027.24 L 246.09 1027 L 246.46 1027.26 L 246.82 1027.2 L 247.19 1027.26 L 247.56 1027.74 L 247.93 1027.58 L 248.29 1026.96 L 248.66 1026.82 L 249.03 1027.84 L 249.39 1028.07 L 249.76 1026.8 L 250.13 1026.94 L 250.5 1027.27 L 250.86 1026.99 L 251.23 1027.29 L 251.6 1026.87 L 251.97 1027.76 L 252.7 1027.19 L 253.07 1027.8 L 253.43 1027.13 L 253.8 1027.73 L 254.17 1027.14 L 254.54 1027.01 L 254.9 1027.52 L 255.27 1026.76 L 255.64 1027.24 L 256 1027.07 L 256.37 1028.06 L 256.74 1027.93 L 257.11 1027.13 L 257.47 1026.82 L 257.84 1027.24 L 258.21 1026.86 L 258.57 1028.01 L 258.94 1026.89 L 259.31 1026.91 L 260.04 1027.51 L 260.41 1027.14 L 260.78 1027.76 L 261.14 1027.19 L 261.51 1027.16 L 261.88 1027.36 L 262.61 1028.08 L 262.98 1027.82 L 263.35 1026.97 L 263.72 1027.8 L 264.08 1027.99 L 264.45 1027.76 L 264.82 1027.39 L 265.18 1027.3 L 265.55 1026.91 L 265.92 1026.94 L 266.29 1026.79 L 266.65 1026.9 L 267.39 1027.9 L 267.75 1026.81 L 268.12 1027.78 L 268.49 1027.25 L 268.86 1027.73 L 269.22 1026.99 L 269.59 1027.82 L 269.96 1027.52 L 270.32 1027.79 L 270.69 1026.93 L 271.06 1027.26 L 271.43 1027.24 L 271.79 1027.66 L 272.16 1027.85 L 272.53 1026.94 L 273.26 1027.1 L 273.63 1026.75 L 274.36 1027.85 L 274.73 1027.27 L 275.1 1027.7 L 275.47 1027.4 L 275.83 1027.47 L 276.2 1027.33 L 276.57 1026.85 L 276.93 1027 L 277.3 1027.53 L 277.67 1026.99 L 278.04 1026.93 L 278.4 1027.05 L 278.77 1027.35 L 279.14 1026.88 L 279.87 1027.94 L 280.24 1027.72 L 280.61 1027.21 L 280.97 1027.58 L 281.71 1027.55 L 282.07 1027.83 L 282.81 1028.02 L 283.18 1027.19 L 283.54 1027.65 L 283.91 1027.47 L 284.28 1026.83 L 284.65 1027.25 L 285.01 1027 L 285.38 1027.07 L 285.75 1026.81 L 286.11 1028 L 286.48 1027.57 L 286.85 1026.81 L 287.22 1027.46 L 287.58 1026.82 L 287.95 1027.84 L 288.32 1028.01 L 288.68 1026.89 L 289.05 1027.54 L 289.42 1027.41 L 289.79 1026.83 L 290.15 1027.79 L 290.52 1026.79 L 290.89 1027.55 L 291.25 1027.75 L 291.62 1027.77 L 291.99 1027.39 L 292.36 1027.46 L 292.72 1026.9 L 293.09 1028.02 L 293.46 1028.03 L 293.83 1027.88 L 294.19 1027.27 L 294.56 1027.04 L 294.93 1027.44 L 295.29 1027.26 L 295.66 1027.23 L 296.03 1028.06 L 296.4 1027.76 L 296.76 1026.75 L 297.13 1027.64 L 297.5 1026.82 L 297.86 1027.43 L 298.6 1028.08 L 298.97 1027.79 L 300.43 1027.35 L 300.8 1027.45 L 301.17 1028.04 L 301.54 1027.73 L 301.9 1026.8 L 302.27 1028.05 L 302.64 1027.1 L 303 1027.45 L 303.37 1027.14 L 303.74 1027.64 L 304.11 1027.59 L 304.47 1027.39 L 304.84 1026.87 L 305.21 1027.65 L 305.58 1027.97 L 305.94 1028.03 L 306.31 1026.91 L 306.68 1027.67 L 307.04 1027.93 L 307.41 1027.29 L 307.78 1026.95 L 308.15 1027.3 L 308.51 1027.93 L 308.88 1027.61 L 309.25 1027.83 L 309.61 1028.18 L 309.98 1026.94 L 310.35 1027.64 L 310.72 1028.1 L 311.08 1027.12 L 311.45 1027.01 L 311.82 1027.26 L 312.18 1028.04 L 312.55 1028.15 L 312.92 1027.73 L 313.29 1027.68 L 313.65 1027.31 L 314.02 1027.21 L 314.39 1027.31 L 314.76 1028.1 L 315.12 1027.8 L 315.49 1028.44 L 315.86 1027.94 L 316.22 1028.56 L 316.96 1028.54 L 317.33 1028.33 L 317.69 1028.34 L 318.06 1027.84 L 318.43 1028.71 L 318.79 1028.68 L 319.16 1027.98 L 320.63 1028.07 L 321 1028.24 L 321.36 1028.01 L 321.73 1028.92 L 322.1 1028.77 L 322.47 1028.09 L 322.83 1028.85 L 323.2 1028.42 L 323.57 1028.81 L 323.93 1028.61 L 324.3 1028.1 L 325.4 1028.95 L 325.77 1028.27 L 326.51 1028.82 L 326.87 1028.27 L 327.24 1028.54 L 327.61 1028.19 L 327.97 1028.64 L 328.34 1028.36 L 328.71 1028.86 L 329.44 1028.53 L 329.81 1029.57 L 330.18 1029.08 L 330.54 1028.94 L 330.91 1029.7 L 331.28 1028.76 L 331.65 1028.89 L 332.01 1028.62 L 332.38 1029.41 L 332.75 1029.31 L 333.11 1028.75 L 333.48 1029.45 L 333.85 1028.91 L 334.22 1029.5 L 335.32 1029.87 L 335.68 1029.61 L 336.05 1030 L 336.42 1029.14 L 336.79 1028.98 L 337.15 1030.18 L 337.89 1030.37 L 338.26 1029.16 L 338.62 1030.34 L 338.99 1029.56 L 339.36 1030.09 L 339.72 1030.27 L 340.09 1030.23 L 340.46 1029.67 L 340.83 1030.6 L 341.19 1029.5 L 341.93 1030.4 L 342.29 1030.47 L 342.66 1029.9 L 343.03 1029.97 L 343.4 1030.42 L 343.76 1030.43 L 344.13 1030.29 L 344.5 1029.72 L 344.86 1030.25 L 345.23 1029.88 L 345.97 1030.34 L 346.33 1030.5 L 346.7 1030.31 L 347.07 1030.63 L 347.44 1030.38 L 347.8 1031.17 L 348.17 1031.04 L 348.54 1030.37 L 348.9 1031.07 L 349.27 1030.54 L 349.64 1030.47 L 350.37 1031.72 L 350.74 1030.91 L 351.11 1031.09 L 351.47 1031.66 L 351.84 1030.96 L 352.58 1032.16 L 352.94 1032.21 L 353.31 1032.06 L 353.68 1031.61 L 354.04 1031.4 L 354.41 1032.42 L 354.78 1032.59 L 355.15 1031.85 L 355.51 1032.2 L 355.88 1032.22 L 356.25 1031.78 L 356.98 1031.71 L 357.35 1032.02 L 357.72 1033.12 L 358.08 1032.99 L 358.82 1032.04 L 359.19 1033.27 L 359.55 1032.76 L 359.92 1032.98 L 360.29 1033.03 L 360.65 1033.27 L 361.39 1033.42 L 361.76 1033.66 L 362.12 1033.11 L 362.49 1033.31 L 362.86 1033.01 L 363.22 1033.16 L 363.59 1032.8 L 363.96 1033.67 L 364.33 1033 L 364.69 1033.72 L 365.06 1033.41 L 365.43 1033.27 L 365.79 1033.87 L 366.16 1033.86 L 366.53 1033.67 L 366.9 1034.42 L 367.26 1033.91 L 367.63 1034.55 L 368 1034.44 L 368.73 1033.55 L 369.1 1033.56 L 369.47 1034.61 L 369.83 1034.82 L 370.2 1034.37 L 370.94 1034.67 L 371.3 1034.21 L 371.67 1034.34 L 372.04 1034.59 L 372.4 1034.57 L 372.77 1034.68 L 373.14 1034.6 L 373.51 1034.32 L 374.24 1034.37 L 374.24 1034.37" clip-path="url(#p33d261107c)" style="fill: none; stroke: #1f77b4; stroke-width: 2.25; stroke-linecap: round"/></g><g id="line2d_359"><path d="M 374.502 1035.047 L 374.712 919.785" clip-path="url(#p33d261107c)" style="fill: none; stroke-dasharray: 5.55,2.4; stroke-dashoffset: 0; stroke: #1f77b4; stroke-width: 1.5"/></g><g id="line2d_360"><path d="M 374.71 919.59 L 375.08 917.5 L 375.45 914.81 L 375.81 913.36 L 376.18 912.55 L 376.55 911.31 L 376.92 910.54 L 377.28 910.39 L 377.65 910.38" clip-path="url(#p33d261107c)" style="fill: none; stroke: #1f77b4; stroke-width: 2.25; stroke-linecap: round"/></g><g id="line2d_361"><path d="M 377.965 910.414 L 378.332 1034.11" clip-path="url(#p33d261107c)" style="fill: none; stroke-dasharray: 5.55,2.4; stroke-dashoffset: 0; stroke: #1f77b4; stroke-width: 1.5"/></g><g id="line2d_362"><path d="M 378.33 1034.34 L 378.7 1033.98 L 379.07 1033.91 L 379.43 1033.39 L 379.8 1033.51 L 380.17 1033.3 L 380.53 1032.9 L 380.9 1032.86 L 381.27 1032.95 L 382 1032.31 L 382.37 1032.35 L 382.74 1032.15 L 383.11 1031.78 L 383.84 1031.62 L 384.57 1031.07 L 384.94 1031.22 L 386.04 1030.24 L 386.41 1030.51 L 386.78 1030.18 L 387.14 1030.09 L 387.51 1029.64 L 387.88 1029.41 L 388.25 1029.64 L 388.61 1029.03 L 388.98 1028.94 L 389.35 1029.03 L 389.71 1028.48 L 390.08 1028.64 L 390.45 1028.2 L 390.82 1028.4 L 391.18 1028.03 L 391.55 1027.83 L 391.92 1027.44 L 392.29 1027.3 L 393.02 1027.37 L 393.39 1026.99 L 393.75 1034.18 L 394.12 1033.67 L 394.86 1033.65 L 395.22 1033.5 L 395.59 1033.11 L 395.96 1033.3 L 396.32 1032.75 L 397.06 1032.61 L 397.43 1032.29 L 398.16 1032.26 L 398.53 1031.94 L 398.89 1031.96 L 399.26 1031.78 L 400 1031.04 L 400.36 1031.2 L 401.46 1030.36 L 401.83 1030.15 L 402.57 1029.97 L 404.04 1029.41 L 404.77 1029.23 L 405.5 1028.51 L 406.24 1028.5 L 406.61 1027.98 L 406.97 1028.22 L 407.34 1027.58 L 408.07 1027.44 L 408.44 1027.34 L 408.81 1026.95 L 409.18 1027.22 L 409.91 1037.63 L 410.28 1037.84 L 411.01 1037.9 L 411.38 1038.25 L 411.75 1037.84 L 412.11 1038.09 L 412.48 1038.49 L 412.85 1038.24 L 413.21 1038.44 L 414.32 1038.47 L 414.68 1039.03 L 415.05 1038.65 L 415.79 1039.26 L 416.89 1039.16 L 417.62 1039.78 L 417.99 1039.53 L 418.36 1039.73 L 418.72 1039.65 L 419.09 1040.16 L 419.46 1039.81 L 419.82 1039.88 L 420.19 1040.45 L 420.56 1040.29 L 420.93 1040.57 L 421.29 1040.44 L 421.66 1040.77 L 422.03 1040.43 L 422.39 1040.9 L 422.76 1040.73 L 423.13 1040.83 L 423.86 1041.27 L 424.23 1041 L 424.6 1041.58 L 425.7 1041.6 L 426.43 1042.07 L 426.8 1041.93 L 427.54 1042.07 L 428.64 1042.76 L 429 1042.58 L 429.37 1042.64 L 429.74 1042.84 L 430.11 1042.67 L 430.47 1043.18 L 430.84 1042.96 L 431.21 1043.12 L 431.94 1043.22 L 432.31 1043.7 L 432.31 1043.7" clip-path="url(#p33d261107c)" style="fill: none; stroke: #1f77b4; stroke-width: 2.25; stroke-linecap: round"/></g><g id="line2d_363"><path d="M 432.519 1043.615 L 432.676 895.689" clip-path="url(#p33d261107c)" style="fill: none; stroke-dasharray: 5.55,2.4; stroke-dashoffset: 0; stroke: #1f77b4; stroke-width: 1.5"/></g><g id="line2d_364"><path d="M 432.68 895.46 L 433.04 901.36 L 433.41 906.84 L 433.78 911.75 L 434.14 913.62 L 434.51 915.31 L 434.88 917.27 L 435.25 918.67 L 435.61 920.54" clip-path="url(#p33d261107c)" style="fill: none; stroke: #1f77b4; stroke-width: 2.25; stroke-linecap: round"/></g><g id="line2d_365"><path d="M 435.771 921.124 L 436.348 1043.213" clip-path="url(#p33d261107c)" style="fill: none; stroke-dasharray: 5.55,2.4; stroke-dashoffset: 0; stroke: #1f77b4; stroke-width: 1.5"/></g><g id="line2d_366"><path d="M 436.35 1043.27 L 436.72 1043.36 L 437.08 1043.12 L 437.45 1043.38 L 437.82 1043.42 L 438.18 1043.79 L 438.55 1043.81 L 438.92 1043.58 L 439.29 1044.07 L 439.65 1043.7 L 440.02 1044.06 L 440.39 1044.17 L 440.75 1044.18 L 441.12 1044.3 L 441.49 1044.37 L 441.86 1044.47 L 442.22 1044.4 L 442.59 1044.71 L 442.96 1044.85 L 443.32 1044.79 L 443.69 1045.06 L 444.06 1044.95 L 444.43 1045.03 L 444.79 1045.01 L 445.16 1045.5 L 445.53 1045.48 L 445.9 1045.41 L 446.26 1045.78 L 446.63 1045.64 L 447 1045.84 L 447.36 1046.33 L 447.73 1046.28 L 448.1 1046.21 L 448.47 1046.47 L 448.83 1046.52 L 449.2 1046.49 L 449.57 1046.79 L 449.93 1046.99 L 450.3 1046.96 L 450.67 1047.32 L 451.04 1047.67 L 451.4 1047.67 L 451.77 1047.63 L 452.14 1047.57 L 452.5 1047.88 L 452.87 1048.19 L 453.24 1047.94 L 453.61 1048.16 L 453.97 1047.58 L 454.34 1046.72 L 454.71 1046.59 L 455.07 1046.64 L 455.44 1046.24" clip-path="url(#p33d261107c)" style="fill: none; stroke: #1f77b4; stroke-width: 2.25; stroke-linecap: round"/></g><g id="line2d_367"><path d="M 455.757 1046.292 L 455.967 895.019" clip-path="url(#p33d261107c)" style="fill: none; stroke-dasharray: 5.55,2.4; stroke-dashoffset: 0; stroke: #1f77b4; stroke-width: 1.5"/></g><g id="line2d_368"><path d="M 455.97 894.92 L 456.33 898.91 L 456.7 903.5 L 457.07 907.23 L 457.44 910.6 L 457.8 912.08 L 458.17 913.16 L 458.54 914.28 L 458.9 915.64 L 459.27 916.95 L 459.64 917.75" clip-path="url(#p33d261107c)" style="fill: none; stroke: #1f77b4; stroke-width: 2.25; stroke-linecap: round"/></g><g id="line2d_369"><path d="M 459.796 918.447 L 460.163 1045.623" clip-path="url(#p33d261107c)" style="fill: none; stroke-dasharray: 5.55,2.4; stroke-dashoffset: 0; stroke: #1f77b4; stroke-width: 1.5"/></g><g id="line2d_370"><path d="M 460.16 1045.8 L 460.53 1045.66 L 460.9 1045.72 L 461.26 1045.5 L 461.63 1045.72 L 462 1045.82 L 462.37 1045.56 L 462.73 1045.92 L 463.1 1045.75 L 463.47 1046.05 L 463.84 1045.8 L 464.2 1045.84 L 464.57 1045.83 L 464.94 1046.04 L 465.3 1046.21 L 465.67 1046.03 L 466.04 1045.91 L 466.41 1046.26 L 466.77 1046.45 L 467.14 1046.39 L 467.51 1046.02 L 467.87 1046.55 L 468.24 1046.56 L 468.61 1046.57 L 468.98 1046.17 L 469.34 1046.48 L 469.71 1046.34 L 470.08 1046.37 L 470.44 1046.54 L 470.81 1046.42 L 471.18 1046.59 L 471.55 1046.58 L 471.91 1046.74 L 472.28 1046.93 L 472.65 1046.65 L 473.01 1046.85 L 473.38 1046.88 L 473.75 1046.59 L 474.12 1046.9 L 474.48 1047.07 L 474.85 1046.82 L 475.22 1046.9 L 475.59 1047.19 L 475.95 1047.06 L 476.32 1046.95 L 476.69 1047.16 L 477.05 1046.82" clip-path="url(#p33d261107c)" style="fill: none; stroke: #1f77b4; stroke-width: 2.25; stroke-linecap: round"/></g><g id="line2d_371"><path d="M 477.264 1047.095 L 477.421 898.768" clip-path="url(#p33d261107c)" style="fill: none; stroke-dasharray: 5.55,2.4; stroke-dashoffset: 0; stroke: #1f77b4; stroke-width: 1.5"/></g><g id="line2d_372"><path d="M 477.42 898.61 L 477.79 902.13 L 478.16 905.28 L 478.52 909.12 L 478.89 912.12 L 479.26 913.32 L 479.62 915.1 L 479.99 916.84 L 480.36 918.19 L 480.73 919.66" clip-path="url(#p33d261107c)" style="fill: none; stroke: #1f77b4; stroke-width: 2.25; stroke-linecap: round"/></g><g id="line2d_373"><path d="M 480.726 919.785 L 481.146 1046.56" clip-path="url(#p33d261107c)" style="fill: none; stroke-dasharray: 5.55,2.4; stroke-dashoffset: 0; stroke: #1f77b4; stroke-width: 1.5"/></g><g id="line2d_374"><path d="M 481.15 1046.5 L 481.51 1046.8 L 481.88 1046.81 L 482.25 1046.61 L 482.61 1046.82 L 482.98 1046.78 L 483.35 1046.48 L 483.72 1046.59 L 484.08 1046.78 L 484.45 1046.36 L 484.82 1046.63 L 485.18 1046.35 L 485.55 1046.5 L 485.92 1046.5 L 486.29 1046.6 L 486.65 1046.47 L 487.02 1046.7 L 487.39 1046.69 L 487.76 1046.36 L 488.12 1046.72 L 488.49 1046.62 L 488.86 1046.43 L 489.22 1046.65 L 489.59 1046.63 L 489.96 1046.34 L 490.33 1046.72 L 490.69 1046.7 L 491.06 1046.35 L 491.43 1046.68 L 491.79 1046.65 L 492.16 1046.36 L 492.53 1046.66 L 492.9 1046.29 L 493.26 1046.39 L 493.63 1046.37 L 494 1046.71 L 494.36 1046.71 L 494.73 1046.42 L 495.1 1046.38 L 495.47 1046.71 L 495.83 1046.72 L 496.2 1046.7 L 496.57 1046.75 L 496.93 1046.6 L 497.3 1046.56 L 497.67 1046.49 L 498.04 1046.8" clip-path="url(#p33d261107c)" style="fill: none; stroke: #1f77b4; stroke-width: 2.25; stroke-linecap: round"/></g><g id="line2d_375"><path d="M 498.246 1046.56 L 498.351 901.043" clip-path="url(#p33d261107c)" style="fill: none; stroke-dasharray: 5.55,2.4; stroke-dashoffset: 0; stroke: #1f77b4; stroke-width: 1.5"/></g><g id="line2d_376"><path d="M 498.35 901.21 L 498.72 903.93 L 499.09 906.52 L 499.45 909.24 L 499.82 911.52 L 500.19 913.38 L 500.55 915.07 L 500.92 916.35 L 501.29 917.75 L 501.66 919.4" clip-path="url(#p33d261107c)" style="fill: none; stroke: #1f77b4; stroke-width: 2.25; stroke-linecap: round"/></g><g id="line2d_377"><path d="M 501.708 919.785 L 502.076 1046.56" clip-path="url(#p33d261107c)" style="fill: none; stroke-dasharray: 5.55,2.4; stroke-dashoffset: 0; stroke: #1f77b4; stroke-width: 1.5"/></g><g id="line2d_378"><path d="M 502.08 1046.48 L 502.44 1046.54 L 502.81 1046.45 L 503.18 1046.42 L 503.54 1046.06 L 503.91 1045.98 L 504.28 1046.07 L 504.65 1045.78 L 505.01 1045.81 L 505.38 1045.71 L 505.75 1045.85 L 506.11 1045.78 L 506.48 1045.71 L 506.85 1045.26 L 507.22 1045.24 L 507.58 1045.1 L 507.95 1045.06 L 508.32 1044.98 L 508.68 1045.1 L 509.05 1044.84 L 509.42 1045.08 L 509.79 1044.73 L 510.15 1044.98 L 510.52 1044.4 L 510.89 1044.36 L 511.26 1044.66 L 511.62 1044.26 L 511.99 1044.14 L 512.36 1044.48 L 512.72 1044.11 L 513.09 1044.11 L 513.46 1043.92 L 513.83 1043.69 L 514.19 1043.7 L 514.56 1043.89 L 514.93 1043.62 L 515.29 1043.53 L 515.66 1043.75 L 516.03 1043.6 L 516.4 1043.39 L 516.76 1043.41 L 517.13 1043.29 L 517.5 1042.98 L 517.86 1042.74 L 518.23 1042.93 L 518.6 1042.74 L 518.97 1042.6" clip-path="url(#p33d261107c)" style="fill: none; stroke: #1f77b4; stroke-width: 2.25; stroke-linecap: round"/></g><g id="line2d_379"><path d="M 519.229 1042.678 L 519.334 895.689" clip-path="url(#p33d261107c)" style="fill: none; stroke-dasharray: 5.55,2.4; stroke-dashoffset: 0; stroke: #1f77b4; stroke-width: 1.5"/></g><g id="line2d_380"><path d="M 519.33 895.6 L 519.7 899.62 L 520.07 903.99 L 520.44 907.54 L 520.8 911.93 L 521.17 913.49 L 521.54 914.87 L 521.9 916.39 L 522.27 917.86 L 522.64 919.67" clip-path="url(#p33d261107c)" style="fill: none; stroke: #1f77b4; stroke-width: 2.25; stroke-linecap: round"/></g><g id="line2d_381"><path d="M 522.691 919.785 L 523.058 1042.945" clip-path="url(#p33d261107c)" style="fill: none; stroke-dasharray: 5.55,2.4; stroke-dashoffset: 0; stroke: #1f77b4; stroke-width: 1.5"/></g><g id="line2d_382"><path d="M 523.06 1042.71 L 523.43 1042.73 L 523.79 1042.47 L 524.16 1042.52 L 524.53 1042.59 L 524.89 1042.48 L 525.26 1042 L 525.63 1041.97 L 526 1041.82 L 526.36 1041.73 L 526.73 1041.67 L 527.1 1041.36 L 527.46 1041.34 L 527.83 1040.85 L 528.2 1041.09 L 528.57 1040.52 L 528.93 1040.43 L 529.3 1040.54 L 529.67 1040.19 L 530.03 1040.14 L 530.4 1040.06 L 530.77 1039.73 L 531.14 1039.58 L 531.5 1039.77 L 531.87 1039.25 L 532.24 1039.57 L 532.6 1039.44 L 532.97 1039.04 L 533.34 1038.99 L 533.71 1038.78 L 534.07 1038.6 L 534.44 1038.46 L 534.81 1038.08 L 535.18 1037.93 L 535.54 1038.09 L 535.91 1037.98 L 536.28 1037.64 L 536.64 1037.74 L 537.01 1037.48 L 537.38 1037.17 L 537.75 1037.41 L 538.11 1036.85 L 538.48 1036.73 L 538.85 1036.77 L 539.21 1036.7 L 539.58 1036.39 L 539.95 1036.38 L 540.32 1035.95 L 540.68 1035.93 L 541.05 1035.94 L 541.42 1035.52 L 541.78 1035.49 L 542.15 1035.6 L 542.52 1035.3 L 542.89 1035.11" clip-path="url(#p33d261107c)" style="fill: none; stroke: #1f77b4; stroke-width: 2.25; stroke-linecap: round"/></g><g id="line2d_383"><path d="M 543.044 1035.047 L 543.149 887.657" clip-path="url(#p33d261107c)" style="fill: none; stroke-dasharray: 5.55,2.4; stroke-dashoffset: 0; stroke: #1f77b4; stroke-width: 1.5"/></g><g id="line2d_384"><path d="M 543.15 887.18 L 543.52 894.88 L 543.88 901.77 L 544.25 908.23 L 544.62 912.77 L 544.98 913.98 L 545.35 916.4 L 545.72 917.72 L 546.09 919.59 L 546.45 920.48" clip-path="url(#p33d261107c)" style="fill: none; stroke: #1f77b4; stroke-width: 2.25; stroke-linecap: round"/></g><g id="line2d_385"><path d="M 546.506 921.124 L 546.873 1036.921" clip-path="url(#p33d261107c)" style="fill: none; stroke-dasharray: 5.55,2.4; stroke-dashoffset: 0; stroke: #1f77b4; stroke-width: 1.5"/></g><g id="line2d_386"><path d="M 546.87 1036.86 L 547.24 1037.14 L 547.61 1037.2 L 547.97 1036.76 L 548.34 1037.03 L 549.08 1036.19 L 549.44 1036.56 L 549.81 1036.63 L 550.18 1036.34 L 550.54 1036.47 L 550.91 1035.66 L 551.28 1036.38 L 551.65 1035.61 L 552.01 1035.96 L 552.38 1035.46 L 552.75 1035.33 L 553.12 1035.93 L 553.48 1035.19 L 553.85 1034.9 L 554.22 1035.23 L 554.58 1035.06 L 554.95 1035.33 L 555.32 1035.4 L 555.69 1034.71 L 556.05 1034.55 L 556.42 1035.13 L 556.79 1035.14 L 557.52 1034.43 L 557.89 1034.63 L 558.26 1033.91 L 558.62 1034.01 L 558.99 1033.8 L 559.36 1034.06 L 560.09 1033.52 L 560.46 1034.42 L 560.83 1033.76 L 561.19 1034.09 L 561.56 1033.36 L 561.93 1033.88 L 562.3 1033.26 L 562.66 1033.61 L 563.03 1033.19 L 563.4 1033.08 L 563.76 1032.75 L 564.13 1032.71 L 564.5 1033.09 L 564.87 1032.74 L 565.23 1033.21 L 565.6 1033.21 L 565.97 1032.47 L 566.33 1032.19 L 567.07 1032.44 L 567.8 1032.05 L 568.54 1032.28 L 568.9 1031.68 L 569.27 1032.11 L 569.64 1031.46 L 570.37 1031.42 L 570.74 1031.29 L 571.11 1031.05 L 571.47 1030.96 L 571.84 1031.4 L 572.21 1031.45 L 572.94 1030.66 L 573.31 1030.94 L 573.68 1031.51 L 574.05 1031.41 L 574.78 1030.45 L 575.15 1030.26 L 575.51 1030.73 L 575.88 1030.49 L 576.25 1030.42 L 576.62 1030.78 L 576.98 1030.8 L 577.35 1030.15 L 577.72 1030.08 L 578.08 1029.61 L 578.45 1030.25 L 578.82 1029.45 L 579.19 1029.98 L 579.92 1029.34 L 580.29 1029.85 L 580.65 1028.91 L 581.39 1028.71 L 581.76 1029.66 L 582.12 1028.88 L 582.49 1028.77 L 582.86 1028.45 L 583.23 1029.09 L 583.59 1029.09 L 583.96 1028.27 L 584.33 1028.77 L 584.69 1028.89 L 585.06 1028.77 L 585.43 1028.09 L 585.8 1028.12 L 586.16 1027.81 L 586.53 1027.66 L 586.9 1028.43 L 587.26 1027.35 L 587.63 1027.32 L 588 1027.17 L 588.37 1027.26 L 588.73 1027.59 L 589.1 1027.64 L 589.47 1026.84 L 589.83 1027.28 L 590.2 1027.15 L 590.57 1026.89 L 591.67 1026.88 L 592.04 1026.97 L 592.4 1026.66 L 592.77 1027.03 L 593.14 1027.14 L 593.51 1025.64 L 594.24 1023.97 L 594.61 1025.18 L 594.98 1025.94 L 595.34 1025.63 L 595.71 1026.23 L 596.08 1027.15 L 596.44 1026.8 L 596.81 1027.49 L 597.55 1026.82 L 597.91 1027.22 L 598.28 1026.78 L 598.65 1026.7 L 599.01 1027.57 L 599.38 1027.01 L 600.12 1027.63 L 600.85 1027.37 L 601.22 1026.96 L 601.58 1027.13 L 601.95 1027.95 L 602.32 1027.89 L 602.69 1026.89 L 603.05 1027.36 L 603.42 1027.3 L 603.79 1027.57 L 604.15 1027.06 L 604.52 1027.36 L 604.89 1027.32 L 605.26 1027.68 L 605.62 1027.12 L 605.99 1027.72 L 606.36 1027.8 L 606.73 1027.31 L 607.09 1027.06 L 607.46 1027.64 L 607.83 1027.63 L 608.19 1027.79 L 608.56 1027.31 L 608.93 1027.13 L 609.3 1027.82 L 609.66 1027.38 L 610.03 1027.37 L 610.4 1027.84 L 610.76 1027.38 L 611.13 1027.66 L 611.5 1027.74 L 611.87 1026.9 L 612.23 1027.86 L 612.97 1027.29 L 613.33 1027.52 L 613.7 1027.93 L 614.07 1027.02 L 614.44 1027.7 L 614.8 1027.51 L 615.17 1026.98 L 615.54 1026.91 L 615.91 1026.97 L 616.27 1027.51 L 616.64 1027.15 L 617.01 1027.04 L 617.37 1027.74 L 617.74 1026.91 L 618.11 1027.84 L 618.48 1027.25 L 618.84 1027.7 L 619.58 1027.8 L 619.94 1026.94 L 620.31 1027.81 L 620.68 1026.97 L 621.05 1027.77 L 621.41 1027.6 L 621.78 1027.73 L 622.15 1026.89 L 622.51 1027.85 L 622.88 1027.03 L 623.25 1027.63 L 623.62 1026.93 L 623.98 1027.15 L 624.35 1027.67 L 624.72 1027.41 L 625.08 1027.78 L 625.45 1027.52 L 625.82 1027.92 L 626.19 1027.22 L 626.55 1027.32 L 627.29 1027.94 L 627.66 1026.95 L 628.02 1027.82 L 628.39 1027.6 L 628.76 1027.92 L 629.12 1027.54 L 629.49 1027.52 L 629.86 1027.38 L 630.23 1027.61 L 630.59 1027.68 L 630.96 1027.11 L 631.33 1027.65 L 631.69 1027.6 L 632.06 1027.43 L 632.43 1027.66 L 632.8 1027.17 L 633.16 1027.86 L 633.53 1027.61 L 633.9 1027.5 L 634.26 1027.68 L 634.63 1027.05 L 635 1027.57 L 635.73 1027.45 L 636.1 1027.06 L 636.47 1027.72 L 636.84 1027.06 L 637.2 1026.94 L 637.57 1027.67 L 637.94 1027.77 L 638.3 1027.11 L 638.67 1027.62 L 639.41 1027.87 L 639.77 1027.29 L 640.14 1026.95 L 640.51 1027.01 L 640.87 1027.32 L 641.24 1027.48 L 641.61 1026.91 L 641.98 1027.24 L 642.34 1026.93 L 642.71 1027.21 L 643.44 1027.2 L 643.81 1027.82 L 644.18 1027.68 L 644.55 1027.88 L 644.91 1026.95 L 645.28 1026.89 L 646.01 1027.78 L 646.38 1027.82 L 646.75 1027.47 L 647.12 1027.53 L 647.85 1027.86 L 648.22 1027.26 L 648.59 1027.1 L 648.95 1027.88 L 649.32 1027.62 L 649.69 1027.63 L 650.05 1027.37 L 650.42 1027.3 L 650.79 1027.51 L 651.16 1027.02 L 651.52 1027.53 L 651.89 1027.63 L 652.26 1027.13 L 652.99 1027.01 L 653.36 1027.77 L 653.73 1027.74 L 654.09 1027.46 L 654.46 1026.92 L 654.83 1027.29 L 655.19 1027.28 L 655.56 1027.6 L 655.93 1026.89 L 656.3 1027.76 L 656.66 1027.35 L 657.77 1027.08 L 658.13 1027.54 L 658.5 1027.66 L 658.87 1026.9 L 659.6 1027.65 L 659.97 1027.8 L 660.34 1027.09 L 660.7 1027.04 L 661.44 1027.54 L 662.17 1026.9 L 662.54 1027.33 L 663.27 1027.01 L 663.64 1027.14 L 664.37 1027.76 L 664.74 1027.21 L 665.48 1026.92 L 665.84 1027.79 L 666.21 1027.83 L 666.58 1027.27 L 666.94 1027.07 L 667.31 1027.87 L 667.68 1027.29 L 668.05 1027.67 L 668.41 1026.88 L 668.78 1027.56 L 669.15 1027.86 L 669.52 1027.11 L 669.88 1027.63 L 670.25 1027.5 L 670.62 1027.81 L 670.98 1027.6 L 671.35 1027.81 L 671.72 1027.68 L 672.09 1027.33 L 672.45 1027.63 L 673.19 1026.99 L 673.55 1027.33 L 673.92 1027.92 L 674.29 1026.92 L 674.66 1027.74 L 675.76 1027.29 L 676.12 1027.59 L 676.86 1027.28 L 677.59 1027.65 L 677.96 1027.51 L 678.69 1027.64 L 679.06 1027.31 L 679.8 1027.51 L 680.16 1027.19 L 680.53 1027.08 L 680.9 1027.26 L 681.27 1027.59 L 681.63 1026.95 L 682 1027.84 L 682.37 1027.09 L 682.73 1027.5 L 683.1 1027.53 L 683.47 1027.05 L 683.84 1027.25 L 684.2 1026.91 L 684.57 1027.01 L 684.94 1027.83 L 685.67 1027.13 L 686.04 1027.86 L 686.77 1026.89 L 687.14 1027.7 L 687.51 1027.83 L 687.87 1027.64 L 688.24 1027.58 L 688.61 1027.65 L 688.98 1027.49 L 689.34 1027.06 L 689.71 1027.4 L 690.08 1027.32 L 690.45 1027.84 L 690.81 1027.88 L 691.18 1026.93 L 691.55 1027.58 L 691.91 1026.94 L 692.28 1027.59 L 692.65 1027.27 L 693.02 1027.24 L 693.38 1027.86 L 693.75 1027.88 L 694.12 1027.48 L 694.48 1027.82 L 694.85 1027.64 L 695.22 1027.74 L 695.95 1027.46 L 696.32 1027.62 L 696.69 1027.59 L 697.42 1027.22 L 697.79 1027.91 L 698.16 1026.88 L 698.52 1027.49 L 698.89 1026.96 L 699.26 1027.94 L 699.99 1027.85 L 700.36 1026.97 L 700.73 1027.51 L 701.09 1027.05 L 701.46 1027.21 L 701.83 1027.86 L 702.2 1027.56 L 702.56 1027.6 L 702.93 1027.47 L 703.3 1027.14 L 703.66 1027.86 L 704.03 1026.96 L 704.4 1027.44 L 704.77 1027.56 L 705.13 1027.2 L 705.5 1027.66 L 705.87 1027.19 L 706.23 1027.51 L 706.6 1027.44 L 706.97 1027.75 L 707.34 1027.73 L 707.7 1027.03 L 708.44 1027.5 L 708.8 1027.12 L 709.17 1026.98 L 709.54 1027.78 L 709.91 1026.88 L 710.27 1027.94 L 710.64 1027.29 L 711.01 1027.67 L 711.38 1027.68 L 711.74 1027.42 L 712.11 1027.3 L 712.48 1027.48 L 713.21 1026.93 L 713.58 1027.77 L 713.95 1027.7 L 714.31 1027.3 L 715.05 1027.61 L 716.15 1026.98 L 716.52 1026.94 L 716.88 1027.07 L 717.25 1027.58 L 717.62 1027.01 L 717.98 1027.19 L 718.35 1027.77 L 718.72 1026.93 L 719.09 1027.69 L 719.45 1027.22 L 719.82 1027.21 L 720.19 1026.98 L 720.55 1027.24 L 720.92 1026.9 L 721.29 1027.89 L 721.66 1027.91 L 722.02 1027.74 L 722.39 1027.34 L 722.76 1027.5 L 723.13 1027.86 L 723.49 1027.74 L 723.86 1027.33 L 724.23 1027.52 L 724.59 1027.13 L 724.96 1027.45 L 725.33 1027.01 L 725.7 1027.14 L 726.43 1027.57 L 726.8 1027.72 L 727.9 1027.57 L 728.27 1027.76 L 728.63 1027.45 L 729 1027.83 L 729.37 1027.02 L 730.1 1027.85 L 730.47 1027.6 L 731.2 1027.78 L 731.57 1027.44 L 731.94 1027.76 L 732.31 1027.79 L 732.67 1027.2 L 733.04 1027.49 L 733.41 1027.23 L 733.77 1027.45 L 734.14 1027.41 L 734.51 1027.62 L 735.24 1027.44 L 735.61 1027.59 L 735.98 1027.07 L 736.34 1027.69 L 736.71 1027.72 L 737.08 1027.58 L 737.45 1027.11 L 737.81 1027.04 L 738.55 1027.57 L 739.28 1027.07 L 739.65 1027.69 L 740.02 1027.24 L 740.38 1027.19 L 741.12 1027.8 L 741.48 1027.3 L 741.85 1027.73 L 742.59 1027.37 L 742.95 1026.92 L 743.32 1027.79 L 743.69 1027.87 L 744.42 1026.94 L 744.79 1027.9 L 745.16 1027.26 L 745.52 1027.92 L 745.89 1027.36 L 746.26 1027.82 L 746.63 1027.25 L 746.99 1027.57 L 747.36 1027.25 L 747.73 1027.68 L 748.09 1027.87 L 748.83 1027.66 L 749.2 1027.78 L 749.56 1027.74 L 749.93 1027.37 L 750.3 1027.48 L 750.66 1027.07 L 751.03 1027.42 L 751.4 1027.37 L 752.13 1027.04 L 752.5 1027.33 L 752.87 1027.91 L 753.24 1027.46 L 753.6 1027.92 L 753.97 1027.3 L 754.34 1027.88 L 754.7 1027.37 L 755.07 1027.79 L 755.44 1027.04 L 755.81 1027.85 L 756.17 1027.25 L 756.54 1027.2 L 756.91 1027.66 L 757.27 1027.32 L 757.64 1027.6 L 758.74 1027.93 L 759.11 1027.23 L 759.48 1027.87 L 759.84 1027.74 L 760.21 1027.86 L 760.58 1027.09 L 760.95 1027.38 L 761.31 1027.45 L 762.05 1027.09 L 763.15 1027.62 L 763.52 1027.4 L 763.88 1026.89 L 764.25 1027.34 L 764.62 1027.44 L 764.99 1027 L 765.35 1027.89 L 765.72 1027.88 L 766.09 1027.11 L 766.45 1026.94 L 766.82 1027.9 L 767.56 1027.94 L 767.92 1027.33 L 768.29 1027.8 L 768.66 1027.35 L 769.02 1027.24 L 769.39 1027.94 L 769.76 1027.02 L 770.13 1027.68 L 770.49 1027.36 L 770.86 1027.57 L 771.59 1027.52 L 771.96 1027.95 L 772.33 1027.49 L 772.7 1027.67 L 773.06 1027.57 L 773.43 1027.78 L 773.8 1027.59 L 774.53 1026.9 L 774.9 1027.74 L 775.27 1027.02 L 775.63 1027.29 L 776 1027.84 L 776.37 1027.94 L 776.74 1027.01 L 777.1 1027.7 L 777.47 1027.84 L 777.84 1027.25 L 778.2 1027.2 L 778.57 1026.99 L 778.94 1027.42 L 779.31 1027.62 L 779.67 1027.61 L 780.04 1027.73 L 780.77 1026.94 L 781.14 1027.86 L 781.51 1027.54 L 781.88 1027.58 L 782.24 1027.87 L 782.98 1026.9 L 783.34 1027.66 L 783.71 1027.17 L 784.08 1026.99 L 784.45 1027.66 L 784.81 1026.97 L 785.55 1027.26 L 785.92 1027.74 L 786.28 1027.65 L 786.65 1027.84 L 787.02 1026.99 L 787.38 1027.09 L 787.75 1027.86 L 788.12 1027.38 L 788.49 1027.72 L 788.85 1027.13 L 789.22 1027.34 L 789.59 1026.94 L 789.95 1027.17 L 790.32 1027.84 L 791.42 1026.98 L 791.79 1027.55 L 792.16 1027.75 L 792.52 1027.65 L 793.26 1027.79 L 793.63 1027.58 L 793.99 1027.69 L 795.09 1026.93 L 795.46 1027.78 L 795.83 1027.34 L 796.2 1027.23 L 796.56 1027.79 L 796.93 1027.38 L 797.3 1027.74 L 797.67 1027.56 L 798.03 1027.6 L 798.4 1027.08 L 798.77 1027.7 L 799.13 1027.37 L 799.5 1027.32 L 799.87 1027.6 L 800.24 1026.96 L 800.6 1027.6 L 800.97 1027.6 L 801.34 1027.21 L 801.7 1027.43 L 802.07 1027.18 L 802.44 1027.79 L 802.81 1027.79 L 803.17 1027.16 L 803.54 1027.54 L 803.91 1027.03 L 804.27 1027.7 L 804.64 1027.69 L 805.01 1027.03 L 805.38 1027.56 L 805.74 1027.83 L 806.11 1027.72 L 806.48 1027.13 L 806.85 1027.67 L 807.58 1027.06 L 807.95 1027.3 L 808.68 1026.91 L 809.05 1027.63 L 809.42 1027.01 L 810.15 1027.74 L 810.52 1027.81 L 810.88 1027.6 L 811.25 1027.8 L 811.62 1027.13 L 811.99 1027.35 L 812.35 1027.9 L 812.72 1027.01 L 813.82 1027.8 L 814.56 1026.97 L 814.92 1027.33 L 815.29 1027.46 L 815.66 1027.3 L 816.02 1027.36 L 816.39 1027.28 L 816.76 1027.74 L 817.49 1027.94 L 817.86 1027.06 L 818.23 1027.95 L 818.96 1027.33 L 819.33 1027.42 L 819.7 1026.99 L 820.06 1027.72 L 820.43 1027.83 L 820.8 1027.78 L 821.17 1027.42 L 821.53 1027.64 L 822.27 1027.22 L 822.63 1027.61 L 823 1027.24 L 823.37 1027.93 L 824.1 1026.98 L 824.47 1026.95 L 824.84 1027.34 L 825.2 1026.9 L 825.57 1027.7 L 826.67 1027.41 L 827.04 1027.07 L 827.78 1027.9 L 828.14 1027.2 L 828.14 1027.2" clip-path="url(#p33d261107c)" style="fill: none; stroke: #1f77b4; stroke-width: 2.25; stroke-linecap: round"/></g><g id="line2d_387"><path d="M 378 1056.6 L 378 880.2" clip-path="url(#p33d261107c)" style="fill: none; stroke-dasharray: 5.55,2.4; stroke-dashoffset: 0; stroke: #ff0000; stroke-width: 1.5"/></g><g id="line2d_388"><path d="M 378.72 1056.6 L 378.72 880.2" clip-path="url(#p33d261107c)" style="fill: none; stroke-dasharray: 5.55,2.4; stroke-dashoffset: 0; stroke: #ff0000; stroke-width: 1.5"/></g><g id="line2d_389"><path d="M 393.84 1056.6 L 393.84 880.2" clip-path="url(#p33d261107c)" style="fill: none; stroke-dasharray: 5.55,2.4; stroke-dashoffset: 0; stroke: #ff0000; stroke-width: 1.5"/></g><g id="line2d_390"><path d="M 409.68 1056.6 L 409.68 880.2" clip-path="url(#p33d261107c)" style="fill: none; stroke-dasharray: 5.55,2.4; stroke-dashoffset: 0; stroke: #ff0000; stroke-width: 1.5"/></g><g id="line2d_391"><path d="M 435.6 1056.6 L 435.6 880.2" clip-path="url(#p33d261107c)" style="fill: none; stroke-dasharray: 5.55,2.4; stroke-dashoffset: 0; stroke: #ff0000; stroke-width: 1.5"/></g><g id="line2d_392"><path d="M 436.32 1056.6 L 436.32 880.2" clip-path="url(#p33d261107c)" style="fill: none; stroke-dasharray: 5.55,2.4; stroke-dashoffset: 0; stroke: #ff0000; stroke-width: 1.5"/></g><g id="line2d_393"><path d="M 459.36 1056.6 L 459.36 880.2" clip-path="url(#p33d261107c)" style="fill: none; stroke-dasharray: 5.55,2.4; stroke-dashoffset: 0; stroke: #ff0000; stroke-width: 1.5"/></g><g id="line2d_394"><path d="M 480.24 1056.6 L 480.24 880.2" clip-path="url(#p33d261107c)" style="fill: none; stroke-dasharray: 5.55,2.4; stroke-dashoffset: 0; stroke: #ff0000; stroke-width: 1.5"/></g><g id="line2d_395"><path d="M 480.96 1056.6 L 480.96 880.2" clip-path="url(#p33d261107c)" style="fill: none; stroke-dasharray: 5.55,2.4; stroke-dashoffset: 0; stroke: #ff0000; stroke-width: 1.5"/></g><g id="line2d_396"><path d="M 501.12 1056.6 L 501.12 880.2" clip-path="url(#p33d261107c)" style="fill: none; stroke-dasharray: 5.55,2.4; stroke-dashoffset: 0; stroke: #ff0000; stroke-width: 1.5"/></g><g id="line2d_397"><path d="M 501.84 1056.6 L 501.84 880.2" clip-path="url(#p33d261107c)" style="fill: none; stroke-dasharray: 5.55,2.4; stroke-dashoffset: 0; stroke: #ff0000; stroke-width: 1.5"/></g><g id="line2d_398"><path d="M 522 1056.6 L 522 880.2" clip-path="url(#p33d261107c)" style="fill: none; stroke-dasharray: 5.55,2.4; stroke-dashoffset: 0; stroke: #ff0000; stroke-width: 1.5"/></g><g id="line2d_399"><path d="M 522.72 1056.6 L 522.72 880.2" clip-path="url(#p33d261107c)" style="fill: none; stroke-dasharray: 5.55,2.4; stroke-dashoffset: 0; stroke: #ff0000; stroke-width: 1.5"/></g><g id="line2d_400"><path d="M 545.76 1056.6 L 545.76 880.2" clip-path="url(#p33d261107c)" style="fill: none; stroke-dasharray: 5.55,2.4; stroke-dashoffset: 0; stroke: #ff0000; stroke-width: 1.5"/></g><g id="line2d_401"><path d="M 546.48 1056.6 L 546.48 880.2" clip-path="url(#p33d261107c)" style="fill: none; stroke-dasharray: 5.55,2.4; stroke-dashoffset: 0; stroke: #ff0000; stroke-width: 1.5"/></g><g id="patch_27"><path d="M 39.96 1056.6 L 39.96 880.2" style="fill: none; stroke: #000000; stroke-width: 0.8; stroke-linejoin: miter; stroke-linecap: square"/></g><g id="patch_28"><path d="M 865.8 1056.6 L 865.8 880.2" style="fill: none; stroke: #000000; stroke-width: 0.8; stroke-linejoin: miter; stroke-linecap: square"/></g><g id="patch_29"><path d="M 39.492 1056.6 L 865.202 1056.6" style="fill: none; stroke: #000000; stroke-width: 0.8; stroke-linejoin: miter; stroke-linecap: square"/></g><g id="patch_30"><path d="M 39.492 880.2 L 865.202 880.2" style="fill: none; stroke: #000000; stroke-width: 0.8; stroke-linejoin: miter; stroke-linecap: square"/></g><g id="legend_5"><g id="patch_31"><path d="M 719.51 903.16 L 858.67 903.16 Q 860.67 903.16 860.67 901.16 L 860.67 887.2 Q 860.67 885.2 858.67 885.2 L 719.51 885.2 Q 717.51 885.2 717.51 887.2 L 717.51 901.16 Q 717.51 903.16 719.51 903.16 z" style="fill: #ffffff; opacity: 0.8; stroke: #cccccc; stroke-linejoin: miter"/></g><g id="line2d_402"><path d="M 721.506 893.298 L 731.506 893.298 L 741.506 893.298" style="fill: none; stroke-dasharray: 5.55,2.4; stroke-dashoffset: 0; stroke: #1f77b4; stroke-width: 1.5"/><g><use href="#meb56f628bb" x="731.506" y="894.098" style="fill: #1f77b4"/></g></g><g id="text_86"><text style="font-size: 10px; font-family: 'DejaVu Sans', 'Liberation Sans', sans-serif; text-anchor: start" x="752.706" y="896.798" transform="rotate(-0 752.706 896.798)">Ws_W68_et_rate_ma</text></g></g></g><g id="axes_6"><g id="patch_32"><path d="M 39.492 1270.44 L 865.202 1270.44 L 865.202 1094.04 L 39.492 1094.04 z" style="fill: #ffffff"/></g><g id="matplotlib.axis_11"><g id="xtick_41"><g id="line2d_403"><path d="M 76.68 1270.44 L 76.68 1094.04" clip-path="url(#pb57f27a89d)" style="fill: none; stroke: #b0b0b0; stroke-width: 0.8; stroke-linecap: square"/></g><g id="line2d_404"><g><use href="#m1504cfccaf" x="76.68" y="1270.44" style="stroke: #000000; stroke-width: 0.8"/></g></g><g id="text_87"><text style="font-size: 10px; font-family: 'DejaVu Sans', 'Liberation Sans', sans-serif; text-anchor: middle" x="76.5" y="1285.758" transform="rotate(-0 76.5 1285.758)">0</text></g></g><g id="xtick_42"><g id="line2d_405"><path d="M 181.8 1270.44 L 181.8 1094.04" clip-path="url(#pb57f27a89d)" style="fill: none; stroke: #b0b0b0; stroke-width: 0.8; stroke-linecap: square"/></g><g id="line2d_406"><g><use href="#m1504cfccaf" x="181.8" y="1270.44" style="stroke: #000000; stroke-width: 0.8"/></g></g><g id="text_88"><text style="font-size: 10px; font-family: 'DejaVu Sans', 'Liberation Sans', sans-serif; text-anchor: middle" x="181.412" y="1285.758" transform="rotate(-0 181.412 1285.758)">200</text></g></g><g id="xtick_43"><g id="line2d_407"><path d="M 286.92 1270.44 L 286.92 1094.04" clip-path="url(#pb57f27a89d)" style="fill: none; stroke: #b0b0b0; stroke-width: 0.8; stroke-linecap: square"/></g><g id="line2d_408"><g><use href="#m1504cfccaf" x="286.92" y="1270.44" style="stroke: #000000; stroke-width: 0.8"/></g></g><g id="text_89"><text style="font-size: 10px; font-family: 'DejaVu Sans', 'Liberation Sans', sans-serif; text-anchor: middle" x="286.324" y="1285.758" transform="rotate(-0 286.324 1285.758)">400</text></g></g><g id="xtick_44"><g id="line2d_409"><path d="M 391.32 1270.44 L 391.32 1094.04" clip-path="url(#pb57f27a89d)" style="fill: none; stroke: #b0b0b0; stroke-width: 0.8; stroke-linecap: square"/></g><g id="line2d_410"><g><use href="#m1504cfccaf" x="391.32" y="1270.44" style="stroke: #000000; stroke-width: 0.8"/></g></g><g id="text_90"><text style="font-size: 10px; font-family: 'DejaVu Sans', 'Liberation Sans', sans-serif; text-anchor: middle" x="391.236" y="1285.758" transform="rotate(-0 391.236 1285.758)">600</text></g></g><g id="xtick_45"><g id="line2d_411"><path d="M 496.44 1270.44 L 496.44 1094.04" clip-path="url(#pb57f27a89d)" style="fill: none; stroke: #b0b0b0; stroke-width: 0.8; stroke-linecap: square"/></g><g id="line2d_412"><g><use href="#m1504cfccaf" x="496.44" y="1270.44" style="stroke: #000000; stroke-width: 0.8"/></g></g><g id="text_91"><text style="font-size: 10px; font-family: 'DejaVu Sans', 'Liberation Sans', sans-serif; text-anchor: middle" x="496.148" y="1285.758" transform="rotate(-0 496.148 1285.758)">800</text></g></g><g id="xtick_46"><g id="line2d_413"><path d="M 601.56 1270.44 L 601.56 1094.04" clip-path="url(#pb57f27a89d)" style="fill: none; stroke: #b0b0b0; stroke-width: 0.8; stroke-linecap: square"/></g><g id="line2d_414"><g><use href="#m1504cfccaf" x="601.56" y="1270.44" style="stroke: #000000; stroke-width: 0.8"/></g></g><g id="text_92"><text style="font-size: 10px; font-family: 'DejaVu Sans', 'Liberation Sans', sans-serif; text-anchor: middle" x="601.06" y="1285.758" transform="rotate(-0 601.06 1285.758)">1000</text></g></g><g id="xtick_47"><g id="line2d_415"><path d="M 706.68 1270.44 L 706.68 1094.04" clip-path="url(#pb57f27a89d)" style="fill: none; stroke: #b0b0b0; stroke-width: 0.8; stroke-linecap: square"/></g><g id="line2d_416"><g><use href="#m1504cfccaf" x="706.68" y="1270.44" style="stroke: #000000; stroke-width: 0.8"/></g></g><g id="text_93"><text style="font-size: 10px; font-family: 'DejaVu Sans', 'Liberation Sans', sans-serif; text-anchor: middle" x="705.972" y="1285.758" transform="rotate(-0 705.972 1285.758)">1200</text></g></g><g id="xtick_48"><g id="line2d_417"><path d="M 811.08 1270.44 L 811.08 1094.04" clip-path="url(#pb57f27a89d)" style="fill: none; stroke: #b0b0b0; stroke-width: 0.8; stroke-linecap: square"/></g><g id="line2d_418"><g><use href="#m1504cfccaf" x="811.08" y="1270.44" style="stroke: #000000; stroke-width: 0.8"/></g></g><g id="text_94"><text style="font-size: 10px; font-family: 'DejaVu Sans', 'Liberation Sans', sans-serif; text-anchor: middle" x="810.884" y="1285.758" transform="rotate(-0 810.884 1285.758)">1400</text></g></g><g id="text_95"><text style="font-size: 10px; font-family: 'DejaVu Sans', 'Liberation Sans', sans-serif; text-anchor: middle" x="452.347" y="1299.437" transform="rotate(-0 452.347 1299.437)">minute</text></g></g><g id="matplotlib.axis_12"><g id="ytick_34"><g id="line2d_419"><path d="M 39.492 1251 L 865.202 1251" clip-path="url(#pb57f27a89d)" style="fill: none; stroke: #b0b0b0; stroke-width: 0.8; stroke-linecap: square"/></g><g id="line2d_420"><g><use href="#m5d545ce8f8" x="39.96" y="1251" style="stroke: #000000; stroke-width: 0.8"/></g></g><g id="text_96"><text style="font-size: 10px; font-family: 'DejaVu Sans', 'Liberation Sans', sans-serif; text-anchor: end" x="32.492" y="1254.798" transform="rotate(-0 32.492 1254.798)">-0.2</text></g></g><g id="ytick_35"><g id="line2d_421"><path d="M 39.492 1226.52 L 865.202 1226.52" clip-path="url(#pb57f27a89d)" style="fill: none; stroke: #b0b0b0; stroke-width: 0.8; stroke-linecap: square"/></g><g id="line2d_422"><g><use href="#m5d545ce8f8" x="39.96" y="1226.52" style="stroke: #000000; stroke-width: 0.8"/></g></g><g id="text_97"><text style="font-size: 10px; font-family: 'DejaVu Sans', 'Liberation Sans', sans-serif; text-anchor: end" x="32.492" y="1230.557" transform="rotate(-0 32.492 1230.557)">0.0</text></g></g><g id="ytick_36"><g id="line2d_423"><path d="M 39.492 1202.76 L 865.202 1202.76" clip-path="url(#pb57f27a89d)" style="fill: none; stroke: #b0b0b0; stroke-width: 0.8; stroke-linecap: square"/></g><g id="line2d_424"><g><use href="#m5d545ce8f8" x="39.96" y="1202.76" style="stroke: #000000; stroke-width: 0.8"/></g></g><g id="text_98"><text style="font-size: 10px; font-family: 'DejaVu Sans', 'Liberation Sans', sans-serif; text-anchor: end" x="32.492" y="1206.317" transform="rotate(-0 32.492 1206.317)">0.2</text></g></g><g id="ytick_37"><g id="line2d_425"><path d="M 39.492 1178.28 L 865.202 1178.28" clip-path="url(#pb57f27a89d)" style="fill: none; stroke: #b0b0b0; stroke-width: 0.8; stroke-linecap: square"/></g><g id="line2d_426"><g><use href="#m5d545ce8f8" x="39.96" y="1178.28" style="stroke: #000000; stroke-width: 0.8"/></g></g><g id="text_99"><text style="font-size: 10px; font-family: 'DejaVu Sans', 'Liberation Sans', sans-serif; text-anchor: end" x="32.492" y="1182.076" transform="rotate(-0 32.492 1182.076)">0.4</text></g></g><g id="ytick_38"><g id="line2d_427"><path d="M 39.492 1153.8 L 865.202 1153.8" clip-path="url(#pb57f27a89d)" style="fill: none; stroke: #b0b0b0; stroke-width: 0.8; stroke-linecap: square"/></g><g id="line2d_428"><g><use href="#m5d545ce8f8" x="39.96" y="1153.8" style="stroke: #000000; stroke-width: 0.8"/></g></g><g id="text_100"><text style="font-size: 10px; font-family: 'DejaVu Sans', 'Liberation Sans', sans-serif; text-anchor: end" x="32.492" y="1157.835" transform="rotate(-0 32.492 1157.835)">0.6</text></g></g><g id="ytick_39"><g id="line2d_429"><path d="M 39.492 1130.04 L 865.202 1130.04" clip-path="url(#pb57f27a89d)" style="fill: none; stroke: #b0b0b0; stroke-width: 0.8; stroke-linecap: square"/></g><g id="line2d_430"><g><use href="#m5d545ce8f8" x="39.96" y="1130.04" style="stroke: #000000; stroke-width: 0.8"/></g></g><g id="text_101"><text style="font-size: 10px; font-family: 'DejaVu Sans', 'Liberation Sans', sans-serif; text-anchor: end" x="32.492" y="1133.594" transform="rotate(-0 32.492 1133.594)">0.8</text></g></g><g id="ytick_40"><g id="line2d_431"><path d="M 39.492 1105.56 L 865.202 1105.56" clip-path="url(#pb57f27a89d)" style="fill: none; stroke: #b0b0b0; stroke-width: 0.8; stroke-linecap: square"/></g><g id="line2d_432"><g><use href="#m5d545ce8f8" x="39.96" y="1105.56" style="stroke: #000000; stroke-width: 0.8"/></g></g><g id="text_102"><text style="font-size: 10px; font-family: 'DejaVu Sans', 'Liberation Sans', sans-serif; text-anchor: end" x="32.492" y="1109.354" transform="rotate(-0 32.492 1109.354)">1.0</text></g></g></g><g id="line2d_433"><path d="M 77.549 1226.758 L 377.965 1226.758" clip-path="url(#pb57f27a89d)" style="fill: none; stroke: #1f77b4; stroke-width: 2.25; stroke-linecap: round"/></g><g id="line2d_434"><path d="M 377.96 1227.03 L 378.33 1225.44 L 378.7 1225.15 L 379.07 1224.72 L 379.43 1225.32 L 379.8 1225.61 L 380.17 1225.77 L 380.53 1226.54 L 380.9 1227.2 L 381.27 1227.12 L 381.64 1227.42 L 382 1228.48 L 382.37 1228.62 L 382.74 1229.41 L 383.11 1229.91 L 383.47 1230.01 L 383.84 1230.54 L 384.21 1230.27 L 384.57 1231.38 L 384.94 1231.04 L 385.31 1231.23 L 385.68 1231.81 L 386.04 1232.01 L 386.41 1232.53 L 386.78 1232.8 L 387.14 1233.27 L 387.51 1232.72 L 387.88 1233.85 L 388.25 1234.02 L 388.61 1233.72 L 388.98 1234.26 L 389.35 1234.48 L 389.71 1234.97 L 390.08 1235.37" clip-path="url(#pb57f27a89d)" style="fill: none; stroke: #1f77b4; stroke-width: 2.25; stroke-linecap: round"/></g><g id="line2d_435"><path d="M 390.344 1235.242 L 390.711 1101.918" clip-path="url(#pb57f27a89d)" style="fill: none; stroke-dasharray: 5.55,2.4; stroke-dashoffset: 0; stroke: #1f77b4; stroke-width: 1.5"/></g><g id="line2d_436"><path d="M 390.71 1101.19 L 391.08 1106.22 L 391.45 1109.2 L 391.81 1111.18 L 392.18 1113.47 L 392.55 1113.09 L 392.91 1116.17 L 393.28 1116.51 L 393.65 1117.69 L 394.02 1118.98" clip-path="url(#pb57f27a89d)" style="fill: none; stroke: #1f77b4; stroke-width: 2.25; stroke-linecap: round"/></g><g id="line2d_437"><path d="M 394.173 1119.493 L 394.75 1245.787" clip-path="url(#pb57f27a89d)" style="fill: none; stroke-dasharray: 5.55,2.4; stroke-dashoffset: 0; stroke: #1f77b4; stroke-width: 1.5"/></g><g id="line2d_438"><path d="M 394.75 1245.12 L 395.12 1244.48 L 395.48 1240.86 L 395.85 1237.86 L 396.22 1238.29 L 396.59 1237.14 L 396.95 1237.45 L 397.32 1237.58 L 397.69 1237.31 L 398.06 1237.15 L 398.42 1237.01 L 398.79 1236.59 L 399.16 1237.22 L 399.52 1236.44 L 399.89 1237.27 L 400.26 1238.23 L 400.63 1238.52 L 400.99 1238.71 L 401.36 1238.23 L 401.73 1238.59 L 402.09 1237.22 L 402.46 1237.21 L 402.83 1237.39 L 403.2 1237.95 L 403.56 1237.75 L 403.93 1238.25 L 404.3 1236.65 L 404.66 1238.84 L 405.03 1238.1 L 405.4 1237.49 L 405.77 1238.44" clip-path="url(#pb57f27a89d)" style="fill: none; stroke: #1f77b4; stroke-width: 2.25; stroke-linecap: round"/></g><g id="line2d_439"><path d="M 406.081 1237.666 L 406.291 1108.584" clip-path="url(#pb57f27a89d)" style="fill: none; stroke-dasharray: 5.55,2.4; stroke-dashoffset: 0; stroke: #1f77b4; stroke-width: 1.5"/></g><g id="line2d_440"><path d="M 406.29 1107.9 L 406.66 1113.23 L 407.03 1118.06 L 407.39 1123.27 L 407.76 1125.93 L 408.13 1127.8 L 408.49 1130.87 L 408.86 1133.8 L 409.23 1135.24 L 409.6 1138.25 L 409.96 1139.67" clip-path="url(#pb57f27a89d)" style="fill: none; stroke: #1f77b4; stroke-width: 2.25; stroke-linecap: round"/></g><g id="line2d_441"><path d="M 409.963 1140.34 L 410.75 1261.907" clip-path="url(#pb57f27a89d)" style="fill: none; stroke-dasharray: 5.55,2.4; stroke-dashoffset: 0; stroke: #1f77b4; stroke-width: 1.5"/></g><g id="line2d_442"><path d="M 410.75 1261.54 L 412.95 1236.92 L 413.32 1233.94 L 413.69 1233.7 L 414.05 1233.65 L 414.42 1233.16 L 414.79 1232.96 L 415.16 1231.86 L 415.52 1232.44 L 415.89 1232.61 L 416.26 1231.65 L 416.62 1231.84 L 416.99 1230.66 L 417.36 1231.33 L 417.73 1230.45 L 418.09 1230.97 L 418.83 1229.28 L 419.19 1230.2 L 419.56 1229.59 L 419.93 1229.59 L 420.3 1230.12 L 420.66 1230.04 L 421.03 1228.28 L 421.4 1229.07 L 421.77 1228.23 L 422.13 1228.58 L 422.5 1227.58 L 422.87 1228.65 L 423.23 1227.92 L 423.6 1227.62 L 423.97 1226.97 L 424.34 1228.27 L 424.7 1227.45 L 425.44 1226.66 L 425.8 1227.45 L 426.17 1226.67 L 426.54 1226.38 L 426.91 1226.31 L 427.27 1227.29 L 427.64 1226.87 L 428.01 1227.15 L 428.37 1226.98 L 428.74 1227.02 L 429.11 1225.89 L 429.48 1227.7 L 429.84 1225.89 L 430.21 1227.66 L 430.58 1227.58 L 431.31 1227.17 L 431.68 1226.06 L 432.05 1226.1 L 432.41 1225.92 L 433.15 1227.7 L 433.52 1226.51 L 433.88 1225.98 L 434.25 1227.52 L 434.62 1226.12 L 434.98 1227.72 L 435.35 1226.31 L 435.72 1226.77 L 436.09 1249 L 436.45 1246.55 L 436.82 1245.64 L 437.19 1242.25 L 437.55 1240.23 L 437.92 1237.34 L 438.29 1235.54 L 438.66 1232.46 L 439.02 1230.53 L 439.39 1231.16 L 440.12 1229.13 L 440.49 1230.6 L 440.86 1228.73 L 441.23 1229.46 L 441.59 1229.85 L 441.96 1228.23 L 442.33 1229.04 L 443.06 1228.93 L 443.43 1227.8 L 443.8 1229.1 L 444.53 1228.54 L 444.9 1228.87 L 445.27 1227.25 L 445.63 1227.84 L 446 1227.52 L 446.37 1226.86 L 446.73 1227.52 L 447.1 1227.84 L 447.47 1227.24 L 447.84 1227.2 L 448.2 1227.49 L 448.57 1227.51 L 448.94 1227.17 L 449.3 1226.33 L 449.67 1227.41 L 450.04 1225.8 L 450.41 1227.27 L 450.77 1227.2 L 451.14 1227.49 L 451.51 1226.97 L 451.88 1227.01 L 452.61 1225.99 L 452.98 1227.25 L 453.34 1226.16 L 453.71 1227.13 L 454.08 1226.94 L 454.45 1227.48 L 454.81 1226 L 455.18 1227 L 455.55 1226.37 L 455.91 1227.68 L 456.28 1226.38 L 456.65 1227.29 L 457.38 1226.42 L 457.75 1227.4 L 458.48 1226.11 L 458.85 1227.41 L 459.22 1226.82 L 459.59 1227.37 L 459.95 1246.85 L 460.69 1242.08 L 461.79 1235.35 L 462.16 1233.98 L 462.52 1231.61 L 462.89 1229.98 L 463.26 1229.49 L 463.99 1229.79 L 464.36 1230.33 L 464.73 1228.73 L 465.09 1229.69 L 465.46 1229.28 L 465.83 1228.17 L 466.2 1229.31 L 466.56 1227.77 L 466.93 1228.92 L 467.3 1229.02 L 467.66 1228.02 L 468.03 1227.36 L 468.4 1228.06 L 468.77 1227.15 L 469.13 1227.95 L 469.5 1227.08 L 469.87 1228.38 L 470.23 1227.99 L 470.6 1228.24 L 470.97 1226.98 L 471.34 1227.44 L 471.7 1227.02 L 472.07 1227.77 L 472.44 1226.74 L 472.81 1226.18 L 473.17 1227.89 L 473.54 1227.36 L 473.91 1226.23 L 474.64 1226.11 L 475.01 1227.3 L 475.38 1226.64 L 475.74 1227.56 L 476.11 1226.89 L 476.48 1226.61 L 476.84 1227.23 L 477.21 1226.91 L 477.58 1227.02 L 477.95 1227.56 L 478.31 1227.59 L 478.68 1226.21 L 479.05 1227.72 L 479.41 1225.82 L 479.78 1225.99 L 480.15 1225.81 L 480.52 1226.2 L 480.88 1246.13 L 481.98 1239.2 L 482.35 1237.24 L 482.72 1233.39 L 483.45 1229.29 L 483.82 1229.59 L 484.19 1228.32 L 484.56 1228.28 L 484.92 1229.14 L 485.29 1229.42 L 485.66 1229.3 L 486.02 1228.67 L 486.39 1227.74 L 486.76 1229.11 L 487.13 1228.32 L 487.49 1228.36 L 487.86 1227.22 L 488.23 1228.55 L 488.59 1227.47 L 488.96 1228.01 L 489.33 1227.28 L 489.7 1226.84 L 490.43 1226.59 L 490.8 1227.56 L 491.16 1227.49 L 491.53 1227.68 L 491.9 1227.32 L 492.27 1227.5 L 492.63 1226.21 L 493 1227.64 L 493.37 1227.36 L 493.74 1226.2 L 494.1 1226.24 L 494.47 1225.84 L 494.84 1226.98 L 495.2 1227.64 L 495.57 1226.16 L 495.94 1227.17 L 496.31 1226.23 L 496.67 1227.69 L 497.04 1227.66 L 497.41 1226.57 L 497.77 1226.4 L 498.14 1226.64 L 498.51 1226.7 L 498.88 1226.57 L 499.24 1227.47 L 499.61 1227.6 L 500.34 1226.67 L 500.71 1227.25 L 501.08 1227.38 L 501.45 1226.86 L 501.81 1245.39 L 502.18 1243.67 L 502.55 1240.4 L 502.91 1238.37 L 503.28 1238.11 L 503.65 1235.28 L 504.02 1233.75 L 504.38 1231.57 L 505.12 1230.77 L 505.49 1230.58 L 505.85 1230.12 L 506.22 1228.83 L 506.59 1229.65 L 506.95 1227.81 L 507.32 1227.69 L 507.69 1228.44 L 508.42 1226.56 L 508.79 1227.9 L 509.16 1226.76 L 509.52 1226.82 L 509.89 1227.13 L 510.26 1227.17 L 510.63 1227.56 L 510.99 1226.47 L 511.36 1227.34 L 511.73 1226.91 L 512.09 1225.93 L 512.46 1227.05 L 512.83 1227.11 L 513.2 1225.92 L 513.56 1226.6 L 513.93 1226.62 L 514.3 1227.3 L 514.66 1226.48 L 515.03 1226.99 L 515.4 1226.67 L 515.77 1226.96 L 516.13 1227.57 L 516.5 1226.03 L 516.87 1226.39 L 517.24 1225.87 L 517.6 1227.13 L 517.97 1227.18 L 518.34 1227.46 L 518.7 1227.13 L 519.07 1227.1 L 519.44 1227.37 L 520.17 1227.16 L 520.54 1226.06 L 520.91 1226.86 L 521.27 1226.14 L 521.64 1227.63 L 522.01 1227.36 L 522.38 1225.88 L 522.74 1247.62 L 523.11 1245.42 L 523.48 1242.39 L 524.21 1238.7 L 524.95 1233.58 L 525.31 1232.23 L 525.68 1230.26 L 526.05 1230.3 L 526.42 1229.41 L 526.78 1230.79 L 527.15 1230.35 L 527.52 1229.57 L 527.88 1230.48 L 528.25 1228.77 L 528.62 1228.41 L 528.99 1229.52 L 529.35 1228.53 L 529.72 1229.42 L 530.09 1227.94 L 530.45 1229.24 L 530.82 1229.51 L 531.19 1229.26 L 531.56 1228.37 L 531.92 1229.06 L 532.29 1227.11 L 532.66 1227.65 L 533.02 1227.65 L 533.39 1227.41 L 533.76 1227.68 L 534.13 1226.65 L 534.49 1226.86 L 534.86 1227.28 L 535.59 1227.58 L 535.96 1227.12 L 536.33 1227.04 L 536.7 1227.57 L 537.06 1225.93 L 537.43 1227.23 L 537.8 1226.68 L 538.17 1227.6 L 538.53 1226.66 L 538.9 1226.47 L 539.27 1227.57 L 539.63 1225.84 L 540 1227.41 L 540.37 1227.22 L 540.74 1226.3 L 541.1 1227.07 L 541.47 1226.03 L 541.84 1227.27 L 542.2 1227.12 L 542.57 1226.39 L 542.94 1226.06 L 543.31 1226.01 L 543.67 1227.17 L 544.04 1226.7 L 544.41 1226.93 L 544.77 1226.42 L 545.14 1227.29 L 545.51 1226.1 L 545.88 1226.34 L 546.24 1227.39 L 546.61 1250.98 L 546.98 1248.17 L 547.35 1244.24 L 547.71 1242.38 L 548.45 1235.91 L 548.81 1234.16 L 549.18 1230.32 L 549.92 1231.04 L 550.28 1230.69 L 550.65 1229.37 L 551.02 1229.8 L 551.38 1228.75 L 551.75 1229.16 L 552.12 1228.68 L 552.49 1229.16 L 552.85 1228.53 L 553.22 1228.14 L 553.59 1228.58 L 553.95 1228.19 L 554.32 1227.33 L 554.69 1227.05 L 555.06 1228.07 L 555.42 1228.52 L 555.79 1226.92 L 556.16 1227.58 L 556.52 1226.47 L 556.89 1226.77 L 557.26 1227.43 L 557.63 1226.4 L 557.99 1226.88 L 558.73 1226.03 L 559.1 1226.4 L 559.46 1225.45 L 559.83 1226.28 L 560.2 1226.08 L 560.56 1225.34 L 560.93 1225.88 L 561.3 1225.51 L 561.67 1226.06 L 562.03 1225.86 L 562.4 1225.91 L 562.77 1226.63 L 562.77 1226.63" clip-path="url(#pb57f27a89d)" style="fill: none; stroke: #1f77b4; stroke-width: 2.25; stroke-linecap: round"/></g><g id="line2d_443"><path d="M 562.767 1226.758 L 828.195 1226.758" clip-path="url(#pb57f27a89d)" style="fill: none; stroke: #1f77b4; stroke-width: 2.25; stroke-linecap: round"/></g><g id="line2d_444"><path d="M 378 1270.44 L 378 1094.04" clip-path="url(#pb57f27a89d)" style="fill: none; stroke-dasharray: 5.55,2.4; stroke-dashoffset: 0; stroke: #ff0000; stroke-width: 1.5"/></g><g id="line2d_445"><path d="M 378.72 1270.44 L 378.72 1094.04" clip-path="url(#pb57f27a89d)" style="fill: none; stroke-dasharray: 5.55,2.4; stroke-dashoffset: 0; stroke: #ff0000; stroke-width: 1.5"/></g><g id="line2d_446"><path d="M 393.84 1270.44 L 393.84 1094.04" clip-path="url(#pb57f27a89d)" style="fill: none; stroke-dasharray: 5.55,2.4; stroke-dashoffset: 0; stroke: #ff0000; stroke-width: 1.5"/></g><g id="line2d_447"><path d="M 409.68 1270.44 L 409.68 1094.04" clip-path="url(#pb57f27a89d)" style="fill: none; stroke-dasharray: 5.55,2.4; stroke-dashoffset: 0; stroke: #ff0000; stroke-width: 1.5"/></g><g id="line2d_448"><path d="M 435.6 1270.44 L 435.6 1094.04" clip-path="url(#pb57f27a89d)" style="fill: none; stroke-dasharray: 5.55,2.4; stroke-dashoffset: 0; stroke: #ff0000; stroke-width: 1.5"/></g><g id="line2d_449"><path d="M 436.32 1270.44 L 436.32 1094.04" clip-path="url(#pb57f27a89d)" style="fill: none; stroke-dasharray: 5.55,2.4; stroke-dashoffset: 0; stroke: #ff0000; stroke-width: 1.5"/></g><g id="line2d_450"><path d="M 459.36 1270.44 L 459.36 1094.04" clip-path="url(#pb57f27a89d)" style="fill: none; stroke-dasharray: 5.55,2.4; stroke-dashoffset: 0; stroke: #ff0000; stroke-width: 1.5"/></g><g id="line2d_451"><path d="M 480.24 1270.44 L 480.24 1094.04" clip-path="url(#pb57f27a89d)" style="fill: none; stroke-dasharray: 5.55,2.4; stroke-dashoffset: 0; stroke: #ff0000; stroke-width: 1.5"/></g><g id="line2d_452"><path d="M 480.96 1270.44 L 480.96 1094.04" clip-path="url(#pb57f27a89d)" style="fill: none; stroke-dasharray: 5.55,2.4; stroke-dashoffset: 0; stroke: #ff0000; stroke-width: 1.5"/></g><g id="line2d_453"><path d="M 501.12 1270.44 L 501.12 1094.04" clip-path="url(#pb57f27a89d)" style="fill: none; stroke-dasharray: 5.55,2.4; stroke-dashoffset: 0; stroke: #ff0000; stroke-width: 1.5"/></g><g id="line2d_454"><path d="M 501.84 1270.44 L 501.84 1094.04" clip-path="url(#pb57f27a89d)" style="fill: none; stroke-dasharray: 5.55,2.4; stroke-dashoffset: 0; stroke: #ff0000; stroke-width: 1.5"/></g><g id="line2d_455"><path d="M 522 1270.44 L 522 1094.04" clip-path="url(#pb57f27a89d)" style="fill: none; stroke-dasharray: 5.55,2.4; stroke-dashoffset: 0; stroke: #ff0000; stroke-width: 1.5"/></g><g id="line2d_456"><path d="M 522.72 1270.44 L 522.72 1094.04" clip-path="url(#pb57f27a89d)" style="fill: none; stroke-dasharray: 5.55,2.4; stroke-dashoffset: 0; stroke: #ff0000; stroke-width: 1.5"/></g><g id="line2d_457"><path d="M 545.76 1270.44 L 545.76 1094.04" clip-path="url(#pb57f27a89d)" style="fill: none; stroke-dasharray: 5.55,2.4; stroke-dashoffset: 0; stroke: #ff0000; stroke-width: 1.5"/></g><g id="line2d_458"><path d="M 546.48 1270.44 L 546.48 1094.04" clip-path="url(#pb57f27a89d)" style="fill: none; stroke-dasharray: 5.55,2.4; stroke-dashoffset: 0; stroke: #ff0000; stroke-width: 1.5"/></g><g id="patch_33"><path d="M 39.96 1270.44 L 39.96 1094.04" style="fill: none; stroke: #000000; stroke-width: 0.8; stroke-linejoin: miter; stroke-linecap: square"/></g><g id="patch_34"><path d="M 865.8 1270.44 L 865.8 1094.04" style="fill: none; stroke: #000000; stroke-width: 0.8; stroke-linejoin: miter; stroke-linecap: square"/></g><g id="patch_35"><path d="M 39.492 1270.44 L 865.202 1270.44" style="fill: none; stroke: #000000; stroke-width: 0.8; stroke-linejoin: miter; stroke-linecap: square"/></g><g id="patch_36"><path d="M 39.492 1094.04 L 865.202 1094.04" style="fill: none; stroke: #000000; stroke-width: 0.8; stroke-linejoin: miter; stroke-linecap: square"/></g><g id="legend_6"><g id="patch_37"><path d="M 703.88 1117 L 858.67 1117 Q 860.67 1117 860.67 1115 L 860.67 1101.04 Q 860.67 1099.04 858.67 1099.04 L 703.88 1099.04 Q 701.88 1099.04 701.88 1101.04 L 701.88 1115 Q 701.88 1117 703.88 1117 z" style="fill: #ffffff; opacity: 0.8; stroke: #cccccc; stroke-linejoin: miter"/></g><g id="line2d_459"><path d="M 705.877 1107.138 L 715.877 1107.138 L 725.877 1107.138" style="fill: none; stroke-dasharray: 5.55,2.4; stroke-dashoffset: 0; stroke: #1f77b4; stroke-width: 1.5"/><g><use href="#meb56f628bb" x="715.877" y="1107.938" style="fill: #1f77b4"/></g></g><g id="text_103"><text style="font-size: 10px; font-family: 'DejaVu Sans', 'Liberation Sans', sans-serif; text-anchor: start" x="737.077" y="1110.638" transform="rotate(-0 737.077 1110.638)">Ws_W68_drain_rate_ma</text></g></g></g><g id="axes_7"><g id="patch_38"><path d="M 39.492 1484.28 L 865.202 1484.28 L 865.202 1307.16 L 39.492 1307.16 z" style="fill: #ffffff"/></g><g id="matplotlib.axis_13"><g id="xtick_49"><g id="line2d_460"><path d="M 76.68 1484.28 L 76.68 1307.16" clip-path="url(#pe1ecdfb261)" style="fill: none; stroke: #b0b0b0; stroke-width: 0.8; stroke-linecap: square"/></g><g id="line2d_461"><g><use href="#m1504cfccaf" x="76.68" y="1484.28" style="stroke: #000000; stroke-width: 0.8"/></g></g><g id="text_104"><text style="font-size: 10px; font-family: 'DejaVu Sans', 'Liberation Sans', sans-serif; text-anchor: middle" x="76.189" y="1499.598" transform="rotate(-0 76.189 1499.598)">0</text></g></g><g id="xtick_50"><g id="line2d_462"><path d="M 181.08 1484.28 L 181.08 1307.16" clip-path="url(#pe1ecdfb261)" style="fill: none; stroke: #b0b0b0; stroke-width: 0.8; stroke-linecap: square"/></g><g id="line2d_463"><g><use href="#m1504cfccaf" x="181.08" y="1484.28" style="stroke: #000000; stroke-width: 0.8"/></g></g><g id="text_105"><text style="font-size: 10px; font-family: 'DejaVu Sans', 'Liberation Sans', sans-serif; text-anchor: middle" x="180.59" y="1499.598" transform="rotate(-0 180.59 1499.598)">200</text></g></g><g id="xtick_51"><g id="line2d_464"><path d="M 285.48 1484.28 L 285.48 1307.16" clip-path="url(#pe1ecdfb261)" style="fill: none; stroke: #b0b0b0; stroke-width: 0.8; stroke-linecap: square"/></g><g id="line2d_465"><g><use href="#m1504cfccaf" x="285.48" y="1484.28" style="stroke: #000000; stroke-width: 0.8"/></g></g><g id="text_106"><text style="font-size: 10px; font-family: 'DejaVu Sans', 'Liberation Sans', sans-serif; text-anchor: middle" x="284.992" y="1499.598" transform="rotate(-0 284.992 1499.598)">400</text></g></g><g id="xtick_52"><g id="line2d_466"><path d="M 389.88 1484.28 L 389.88 1307.16" clip-path="url(#pe1ecdfb261)" style="fill: none; stroke: #b0b0b0; stroke-width: 0.8; stroke-linecap: square"/></g><g id="line2d_467"><g><use href="#m1504cfccaf" x="389.88" y="1484.28" style="stroke: #000000; stroke-width: 0.8"/></g></g><g id="text_107"><text style="font-size: 10px; font-family: 'DejaVu Sans', 'Liberation Sans', sans-serif; text-anchor: middle" x="389.393" y="1499.598" transform="rotate(-0 389.393 1499.598)">600</text></g></g><g id="xtick_53"><g id="line2d_468"><path d="M 494.28 1484.28 L 494.28 1307.16" clip-path="url(#pe1ecdfb261)" style="fill: none; stroke: #b0b0b0; stroke-width: 0.8; stroke-linecap: square"/></g><g id="line2d_469"><g><use href="#m1504cfccaf" x="494.28" y="1484.28" style="stroke: #000000; stroke-width: 0.8"/></g></g><g id="text_108"><text style="font-size: 10px; font-family: 'DejaVu Sans', 'Liberation Sans', sans-serif; text-anchor: middle" x="493.795" y="1499.598" transform="rotate(-0 493.795 1499.598)">800</text></g></g><g id="xtick_54"><g id="line2d_470"><path d="M 598.68 1484.28 L 598.68 1307.16" clip-path="url(#pe1ecdfb261)" style="fill: none; stroke: #b0b0b0; stroke-width: 0.8; stroke-linecap: square"/></g><g id="line2d_471"><g><use href="#m1504cfccaf" x="598.68" y="1484.28" style="stroke: #000000; stroke-width: 0.8"/></g></g><g id="text_109"><text style="font-size: 10px; font-family: 'DejaVu Sans', 'Liberation Sans', sans-serif; text-anchor: middle" x="598.196" y="1499.598" transform="rotate(-0 598.196 1499.598)">1000</text></g></g><g id="xtick_55"><g id="line2d_472"><path d="M 703.08 1484.28 L 703.08 1307.16" clip-path="url(#pe1ecdfb261)" style="fill: none; stroke: #b0b0b0; stroke-width: 0.8; stroke-linecap: square"/></g><g id="line2d_473"><g><use href="#m1504cfccaf" x="703.08" y="1484.28" style="stroke: #000000; stroke-width: 0.8"/></g></g><g id="text_110"><text style="font-size: 10px; font-family: 'DejaVu Sans', 'Liberation Sans', sans-serif; text-anchor: middle" x="702.597" y="1499.598" transform="rotate(-0 702.597 1499.598)">1200</text></g></g><g id="xtick_56"><g id="line2d_474"><path d="M 807.48 1484.28 L 807.48 1307.16" clip-path="url(#pe1ecdfb261)" style="fill: none; stroke: #b0b0b0; stroke-width: 0.8; stroke-linecap: square"/></g><g id="line2d_475"><g><use href="#m1504cfccaf" x="807.48" y="1484.28" style="stroke: #000000; stroke-width: 0.8"/></g></g><g id="text_111"><text style="font-size: 10px; font-family: 'DejaVu Sans', 'Liberation Sans', sans-serif; text-anchor: middle" x="806.999" y="1499.598" transform="rotate(-0 806.999 1499.598)">1400</text></g></g><g id="text_112"><text style="font-size: 10px; font-family: 'DejaVu Sans', 'Liberation Sans', sans-serif; text-anchor: middle" x="452.347" y="1513.277" transform="rotate(-0 452.347 1513.277)">minute</text></g></g><g id="matplotlib.axis_14"><g id="ytick_41"><g id="line2d_476"><path d="M 39.492 1482.12 L 865.202 1482.12" clip-path="url(#pe1ecdfb261)" style="fill: none; stroke: #b0b0b0; stroke-width: 0.8; stroke-linecap: square"/></g><g id="line2d_477"><g><use href="#m5d545ce8f8" x="39.96" y="1482.12" style="stroke: #000000; stroke-width: 0.8"/></g></g><g id="text_113"><text style="font-size: 10px; font-family: 'DejaVu Sans', 'Liberation Sans', sans-serif; text-anchor: end" x="32.492" y="1485.694" transform="rotate(-0 32.492 1485.694)">-2.5</text></g></g><g id="ytick_42"><g id="line2d_478"><path d="M 39.492 1454.76 L 865.202 1454.76" clip-path="url(#pe1ecdfb261)" style="fill: none; stroke: #b0b0b0; stroke-width: 0.8; stroke-linecap: square"/></g><g id="line2d_479"><g><use href="#m5d545ce8f8" x="39.96" y="1454.76" style="stroke: #000000; stroke-width: 0.8"/></g></g><g id="text_114"><text style="font-size: 10px; font-family: 'DejaVu Sans', 'Liberation Sans', sans-serif; text-anchor: end" x="32.492" y="1458.595" transform="rotate(-0 32.492 1458.595)">0.0</text></g></g><g id="ytick_43"><g id="line2d_480"><path d="M 39.492 1427.4 L 865.202 1427.4" clip-path="url(#pe1ecdfb261)" style="fill: none; stroke: #b0b0b0; stroke-width: 0.8; stroke-linecap: square"/></g><g id="line2d_481"><g><use href="#m5d545ce8f8" x="39.96" y="1427.4" style="stroke: #000000; stroke-width: 0.8"/></g></g><g id="text_115"><text style="font-size: 10px; font-family: 'DejaVu Sans', 'Liberation Sans', sans-serif; text-anchor: end" x="32.492" y="1431.496" transform="rotate(-0 32.492 1431.496)">2.5</text></g></g><g id="ytick_44"><g id="line2d_482"><path d="M 39.492 1400.76 L 865.202 1400.76" clip-path="url(#pe1ecdfb261)" style="fill: none; stroke: #b0b0b0; stroke-width: 0.8; stroke-linecap: square"/></g><g id="line2d_483"><g><use href="#m5d545ce8f8" x="39.96" y="1400.76" style="stroke: #000000; stroke-width: 0.8"/></g></g><g id="text_116"><text style="font-size: 10px; font-family: 'DejaVu Sans', 'Liberation Sans', sans-serif; text-anchor: end" x="32.492" y="1404.397" transform="rotate(-0 32.492 1404.397)">5.0</text></g></g><g id="ytick_45"><g id="line2d_484"><path d="M 39.492 1373.4 L 865.202 1373.4" clip-path="url(#pe1ecdfb261)" style="fill: none; stroke: #b0b0b0; stroke-width: 0.8; stroke-linecap: square"/></g><g id="line2d_485"><g><use href="#m5d545ce8f8" x="39.96" y="1373.4" style="stroke: #000000; stroke-width: 0.8"/></g></g><g id="text_117"><text style="font-size: 10px; font-family: 'DejaVu Sans', 'Liberation Sans', sans-serif; text-anchor: end" x="32.492" y="1377.298" transform="rotate(-0 32.492 1377.298)">7.5</text></g></g><g id="ytick_46"><g id="line2d_486"><path d="M 39.492 1346.04 L 865.202 1346.04" clip-path="url(#pe1ecdfb261)" style="fill: none; stroke: #b0b0b0; stroke-width: 0.8; stroke-linecap: square"/></g><g id="line2d_487"><g><use href="#m5d545ce8f8" x="39.96" y="1346.04" style="stroke: #000000; stroke-width: 0.8"/></g></g><g id="text_118"><text style="font-size: 10px; font-family: 'DejaVu Sans', 'Liberation Sans', sans-serif; text-anchor: end" x="32.492" y="1350.199" transform="rotate(-0 32.492 1350.199)">10.0</text></g></g><g id="ytick_47"><g id="line2d_488"><path d="M 39.492 1319.4 L 865.202 1319.4" clip-path="url(#pe1ecdfb261)" style="fill: none; stroke: #b0b0b0; stroke-width: 0.8; stroke-linecap: square"/></g><g id="line2d_489"><g><use href="#m5d545ce8f8" x="39.96" y="1319.4" style="stroke: #000000; stroke-width: 0.8"/></g></g><g id="text_119"><text style="font-size: 10px; font-family: 'DejaVu Sans', 'Liberation Sans', sans-serif; text-anchor: end" x="32.492" y="1323.1" transform="rotate(-0 32.492 1323.1)">12.5</text></g></g></g><g id="line2d_490"><path d="M 77.39 1454.53 L 77.76 1454.61 L 78.12 1454.56 L 78.49 1455.11 L 78.85 1455.11 L 79.22 1454.71 L 79.58 1454.9 L 79.95 1454.55 L 80.31 1454.87 L 80.68 1454.64 L 81.04 1454.96 L 81.77 1454.54 L 82.14 1454.56 L 82.51 1454.88 L 83.24 1454.77 L 83.6 1454.9 L 83.97 1454.81 L 84.33 1454.49 L 84.7 1454.55 L 85.06 1454.92 L 85.79 1454.5 L 86.16 1452.86 L 86.52 1452.32 L 86.89 1457.3 L 87.26 1452.13 L 87.62 1455.22 L 87.99 1456.13 L 88.35 1451.57 L 88.72 1455.6 L 89.08 1456.81 L 89.45 1455.98 L 89.81 1454.73 L 90.91 1454.56 L 91.28 1454.93 L 91.64 1455.05 L 92.01 1454.59 L 92.37 1455.1 L 92.74 1454.97 L 93.1 1454.97 L 93.47 1454.62 L 93.83 1454.83 L 94.2 1454.58 L 94.56 1454.69 L 94.93 1454.57 L 95.66 1454.55 L 96.03 1454.94 L 96.39 1454.89 L 96.76 1454.71 L 97.12 1454.74 L 97.85 1454.6 L 98.22 1454.92 L 98.58 1455.04 L 98.95 1454.64 L 99.31 1451.99 L 99.68 1451.44 L 100.04 1455.11 L 100.41 1454.84 L 100.78 1454.12 L 101.14 1452.44 L 101.51 1458.2 L 101.87 1452.75 L 102.24 1451.52 L 102.6 1455.45 L 102.97 1455.06 L 103.7 1454.84 L 104.06 1454.57 L 104.43 1454.55 L 105.16 1455.04 L 105.53 1454.95 L 105.89 1454.68 L 106.26 1454.86 L 106.99 1454.64 L 107.35 1454.69 L 107.72 1454.56 L 108.08 1455.07 L 108.45 1454.93 L 108.81 1455.1 L 109.18 1454.78 L 109.55 1454.72 L 110.28 1455.09 L 110.64 1454.82 L 111.01 1455.01 L 111.74 1454.87 L 112.1 1454.51 L 112.47 1454.89 L 112.83 1454.66 L 113.2 1455.23 L 113.56 1451.62 L 113.93 1455.44 L 114.3 1455.65 L 114.66 1452.3 L 115.03 1454.98 L 115.39 1453.78 L 115.76 1456.28 L 116.12 1453.55 L 116.49 1455.71 L 116.85 1454.84 L 117.22 1454.75 L 117.58 1455.01 L 117.95 1454.84 L 118.32 1454.94 L 118.68 1454.59 L 119.05 1455.06 L 119.41 1454.48 L 119.78 1454.97 L 120.14 1454.91 L 120.51 1455.07 L 120.87 1454.53 L 121.24 1454.58 L 121.6 1455.08 L 121.97 1454.78 L 122.33 1454.87 L 122.7 1454.73 L 123.07 1454.9 L 123.43 1454.5 L 123.8 1454.98 L 124.16 1454.59 L 124.53 1454.95 L 124.89 1454.7 L 125.26 1454.84 L 125.99 1454.78 L 126.35 1452.83 L 126.72 1454.85 L 127.08 1451.89 L 127.45 1454.47 L 127.82 1452.32 L 128.18 1455.21 L 128.55 1453.62 L 128.91 1456.41 L 129.28 1454.2 L 129.64 1453.67 L 130.01 1454.91 L 130.37 1454.89 L 130.74 1455.1 L 131.84 1454.91 L 132.2 1454.48 L 132.57 1455.03 L 132.93 1454.76 L 133.66 1455.1 L 134.03 1454.58 L 134.39 1455.04 L 134.76 1455.03 L 135.12 1454.59 L 135.49 1454.96 L 135.85 1454.99 L 136.22 1454.51 L 136.59 1454.99 L 136.95 1454.58 L 137.32 1454.92 L 137.68 1454.75 L 138.05 1454.92 L 138.41 1454.9 L 138.78 1454.51 L 139.14 1454.53 L 139.51 1456.94 L 140.24 1451.87 L 140.6 1456.87 L 141.34 1452.46 L 142.07 1458.06 L 142.43 1454.62 L 142.8 1455.06 L 143.16 1455.01 L 143.53 1455.12 L 144.26 1454.51 L 144.62 1454.83 L 145.72 1454.56 L 146.45 1454.74 L 146.82 1454.97 L 147.18 1454.63 L 147.55 1454.85 L 147.91 1454.66 L 148.28 1454.98 L 148.64 1454.51 L 149.01 1455.01 L 149.37 1454.61 L 149.74 1454.54 L 150.11 1455.02 L 150.47 1454.56 L 151.57 1454.96 L 152.3 1454.97 L 152.66 1451.83 L 153.03 1453.66 L 153.39 1452.88 L 153.76 1455.71 L 154.12 1452.05 L 154.49 1452.52 L 154.86 1457.63 L 155.22 1453.68 L 155.59 1451.99 L 155.95 1454.85 L 156.32 1454.94 L 156.68 1454.49 L 157.05 1455.11 L 157.41 1454.54 L 157.78 1454.62 L 158.14 1454.91 L 158.51 1454.68 L 158.87 1454.88 L 159.24 1454.71 L 159.61 1454.84 L 159.97 1454.53 L 160.34 1454.82 L 160.7 1454.59 L 161.43 1454.88 L 161.8 1454.49 L 162.16 1454.99 L 162.53 1454.53 L 162.89 1454.48 L 163.99 1454.72 L 164.36 1454.52 L 164.72 1454.84 L 165.09 1454.59 L 165.82 1454.56 L 166.18 1454.83 L 166.55 1454.7 L 166.91 1455.06 L 167.28 1453.75 L 167.64 1451.53 L 168.01 1456.45 L 168.38 1454.19 L 168.74 1454.56 L 169.11 1456.22 L 169.47 1452.84 L 169.84 1455.27 L 170.2 1453.76 L 170.57 1454.98 L 170.93 1454.61 L 171.3 1454.97 L 171.66 1454.49 L 172.03 1454.94 L 172.39 1454.56 L 172.76 1454.81 L 173.13 1454.51 L 173.49 1454.93 L 173.86 1454.52 L 174.22 1454.92 L 174.95 1454.71 L 175.32 1454.76 L 176.05 1454.67 L 176.78 1455.12 L 177.15 1454.65 L 178.24 1454.8 L 178.61 1454.52 L 178.97 1454.93 L 179.34 1454.53 L 179.7 1455.01 L 180.07 1454.67 L 180.43 1454.51 L 180.8 1455.02 L 181.16 1452.84 L 181.53 1453.22 L 181.9 1457.57 L 182.26 1457.88 L 182.63 1452.57 L 182.99 1453.75 L 183.36 1457.24 L 183.72 1457.36 L 184.09 1454.81 L 184.45 1457.03 L 184.82 1454.88 L 185.18 1454.93 L 185.55 1455.11 L 186.65 1454.68 L 187.01 1454.88 L 187.38 1454.65 L 188.11 1454.9 L 188.47 1455.02 L 188.84 1454.97 L 189.2 1454.54 L 189.57 1454.83 L 190.3 1454.98 L 190.67 1454.55 L 191.4 1454.67 L 191.76 1454.6 L 192.13 1454.96 L 192.49 1454.65 L 192.86 1455.07 L 193.22 1454.69 L 193.59 1454.91 L 193.95 1454.69 L 194.32 1454.97 L 194.68 1454.89 L 195.42 1454.51 L 195.78 1454.9 L 196.51 1455.04 L 196.88 1451.81 L 197.24 1456.71 L 197.61 1451.72 L 198.34 1454.41 L 198.7 1453.61 L 199.07 1453.46 L 199.43 1456.29 L 199.8 1454.88 L 200.17 1457.8 L 200.53 1454.62 L 200.9 1455.05 L 201.99 1454.54 L 202.36 1454.63 L 202.72 1455.08 L 203.45 1454.61 L 203.82 1454.77 L 204.19 1454.69 L 204.55 1454.49 L 205.28 1454.58 L 206.38 1455.02 L 206.74 1455.01 L 207.11 1454.7 L 208.2 1454.53 L 208.57 1454.93 L 208.94 1454.9 L 209.3 1454.99 L 210.03 1454.51 L 210.76 1454.84 L 211.13 1455.02 L 211.49 1454.57 L 211.86 1454.54 L 212.22 1454.62 L 212.59 1454.93 L 213.32 1454.74 L 213.69 1457.93 L 214.05 1451.72 L 214.78 1453.04 L 215.15 1457.54 L 215.51 1453.94 L 215.88 1453.3 L 216.24 1455.28 L 216.61 1455.64 L 216.97 1453.23 L 217.34 1454.95 L 217.71 1454.62 L 218.44 1455.08 L 219.17 1454.48 L 219.53 1455.07 L 219.9 1454.47 L 220.26 1455.06 L 220.63 1454.92 L 220.99 1454.49 L 221.36 1454.49 L 221.72 1455 L 222.09 1454.65 L 222.82 1454.86 L 223.19 1454.61 L 223.55 1454.71 L 223.92 1454.97 L 224.65 1454.66 L 225.38 1454.77 L 225.74 1454.64 L 226.11 1455.03 L 226.84 1455.1 L 227.21 1454.72 L 227.57 1458.19 L 227.94 1455 L 228.3 1456.49 L 228.67 1455.19 L 229.03 1454.43 L 229.4 1455.35 L 229.76 1452.18 L 230.13 1452.15 L 230.49 1453 L 230.86 1452.75 L 231.23 1454.69 L 231.59 1454.91 L 231.96 1454.76 L 232.32 1455.06 L 232.69 1454.75 L 233.05 1454.81 L 233.42 1454.7 L 234.15 1454.75 L 234.51 1454.64 L 234.88 1455.03 L 235.24 1454.63 L 235.61 1454.72 L 235.98 1454.67 L 236.71 1455.07 L 237.07 1454.52 L 237.44 1454.58 L 237.8 1454.49 L 238.17 1454.82 L 238.53 1454.55 L 238.9 1454.55 L 239.26 1454.76 L 239.63 1454.54 L 239.99 1454.59 L 240.36 1455.05 L 240.73 1455.03 L 241.46 1454.77 L 241.82 1454.7 L 242.19 1454.75 L 242.55 1454.55 L 242.92 1454.6 L 243.28 1455.05 L 243.65 1454.9 L 244.01 1454.54 L 244.38 1454.63 L 244.75 1455.11 L 245.11 1454.71 L 245.48 1454.79 L 245.84 1456.38 L 246.21 1452.61 L 246.57 1457.46 L 246.94 1454.14 L 247.3 1453.87 L 247.67 1457.51 L 248.03 1456.85 L 248.4 1453.6 L 248.76 1452.32 L 249.13 1454.56 L 249.5 1454.94 L 249.86 1454.66 L 250.23 1454.96 L 250.59 1454.99 L 251.32 1454.93 L 251.69 1454.5 L 252.05 1454.97 L 253.51 1454.49 L 253.88 1454.72 L 254.25 1454.56 L 254.61 1455.04 L 254.98 1454.69 L 255.34 1455.01 L 255.71 1454.55 L 256.44 1455.03 L 256.8 1454.57 L 257.17 1454.78 L 257.53 1454.81 L 257.9 1455.07 L 258.27 1454.53 L 258.63 1454.79 L 259 1454.56 L 259.36 1455.07 L 259.73 1454.68 L 260.09 1454.88 L 261.55 1454.52 L 261.92 1455.01 L 262.28 1454.56 L 263.02 1455.55 L 263.75 1453.35 L 264.48 1455.05 L 264.84 1453.84 L 265.57 1452.71 L 265.94 1454.37 L 266.3 1453.68 L 266.67 1454.56 L 267.03 1454.93 L 267.4 1454.47 L 267.77 1455.01 L 268.13 1455.09 L 268.5 1454.59 L 268.86 1455.01 L 269.59 1454.79 L 269.96 1455.05 L 270.32 1454.85 L 270.69 1454.89 L 271.05 1455.07 L 271.42 1454.73 L 272.15 1455.02 L 272.52 1454.61 L 273.25 1455.1 L 273.61 1454.55 L 274.34 1455.06 L 274.71 1454.93 L 275.07 1454.96 L 275.44 1455.09 L 275.8 1454.91 L 276.17 1455.01 L 276.54 1454.98 L 276.9 1454.68 L 277.27 1455.02 L 277.63 1455.11 L 278.36 1454.93 L 278.73 1455.01 L 279.46 1454.55 L 279.82 1454.58 L 280.19 1454.82 L 280.55 1454.61 L 280.92 1456.91 L 281.29 1457.14 L 281.65 1452.65 L 282.02 1456.71 L 282.38 1455.23 L 282.75 1452.13 L 283.11 1457.25 L 283.48 1453.56 L 283.84 1456.54 L 284.21 1453.92 L 284.57 1455.1 L 284.94 1454.84 L 285.67 1454.59 L 286.04 1455.08 L 286.4 1454.68 L 287.13 1455.09 L 287.86 1454.7 L 288.23 1455.07 L 288.59 1454.57 L 288.96 1455.09 L 289.69 1454.91 L 290.06 1455.08 L 290.42 1454.52 L 291.15 1454.53 L 291.52 1454.99 L 291.88 1454.58 L 292.25 1454.9 L 292.61 1454.93 L 292.98 1454.67 L 293.34 1455.07 L 293.71 1455.12 L 294.07 1454.52 L 294.44 1454.89 L 294.81 1454.6 L 295.54 1455.06 L 295.9 1454.81 L 296.27 1455.01 L 297 1455.11 L 297.36 1454.86 L 297.73 1454.95 L 298.09 1454.9 L 298.46 1454.5 L 298.82 1454.58 L 299.19 1452.6 L 299.56 1452.57 L 299.92 1452.87 L 300.29 1454.67 L 300.65 1454.49 L 301.02 1457.07 L 301.38 1457.46 L 301.75 1453.08 L 302.11 1457.9 L 302.48 1451.79 L 302.84 1454.82 L 303.58 1454.54 L 304.31 1455.02 L 304.67 1454.91 L 305.04 1454.52 L 305.4 1455.09 L 305.77 1454.98 L 306.5 1454.57 L 307.59 1454.66 L 308.33 1455.08 L 308.69 1456.98 L 309.06 1453.27 L 309.42 1455.16 L 310.15 1453.02 L 310.52 1456.21 L 310.88 1452.54 L 311.25 1453.02 L 311.61 1454.24 L 311.98 1454.28 L 312.34 1455.11 L 312.71 1454.67 L 313.08 1454.57 L 313.44 1454.93 L 313.81 1455.12 L 314.54 1455.08 L 314.9 1454.63 L 315.27 1454.78 L 315.63 1454.54 L 316 1455.6 L 316.36 1451.54 L 316.73 1455.58 L 317.1 1456.59 L 317.83 1451.88 L 318.19 1451.84 L 318.56 1454.25 L 318.92 1455.54 L 319.29 1453.08 L 319.65 1454.99 L 320.02 1454.63 L 320.38 1454.5 L 320.75 1454.48 L 321.11 1454.89 L 321.48 1455.08 L 321.85 1454.91 L 322.21 1455.08 L 322.58 1454.48 L 322.94 1454.92 L 323.31 1454.39 L 323.67 1452.56 L 324.04 1452.48 L 324.4 1453.39 L 324.77 1451.52 L 325.13 1453.76 L 325.5 1451.5 L 325.86 1453.74 L 326.23 1456.75 L 326.6 1453.91 L 326.96 1454.55 L 327.33 1454.53 L 328.06 1454.73 L 328.42 1455.09 L 328.79 1454.52 L 329.15 1454.69 L 329.52 1454.72 L 329.88 1454.57 L 330.25 1454.97 L 330.62 1454.72 L 331.35 1454.63 L 331.71 1455.06 L 332.08 1454.65 L 332.44 1454.53 L 332.81 1455.03 L 333.17 1454 L 333.54 1451.4 L 333.9 1456.5 L 334.27 1453.93 L 334.63 1454.76 L 335 1451.35 L 335.37 1456.93 L 335.73 1453.67 L 336.1 1457.9 L 336.83 1451.31 L 337.19 1453.13 L 337.56 1458.35 L 337.92 1451.12 L 338.29 1454.49 L 338.65 1454.19 L 339.02 1451.42 L 339.75 1456.92 L 340.12 1455.33 L 340.48 1452.91 L 340.85 1455.58 L 341.21 1457.31 L 341.58 1455.64 L 341.94 1457.81 L 342.31 1457.83 L 342.67 1457.67 L 343.04 1454.72 L 343.77 1457.23 L 344.14 1452.98 L 344.5 1453.95 L 344.87 1452.37 L 345.23 1457.37 L 345.6 1453.88 L 345.96 1456.59 L 346.33 1454.83 L 346.69 1455.2 L 347.06 1454.16 L 347.42 1454.26 L 347.79 1451.62 L 348.52 1455.92 L 348.89 1452.56 L 349.25 1457.37 L 349.62 1452.71 L 349.98 1454.21 L 350.35 1456.62 L 350.71 1452.88 L 351.08 1457.72 L 351.44 1458.32 L 352.17 1454.76 L 352.54 1453.8 L 352.9 1456.21 L 353.27 1454.2 L 353.64 1451.15 L 354 1451.01 L 354.37 1453.12 L 354.73 1456.3 L 355.1 1454.97 L 355.46 1452.46 L 356.19 1451.37 L 356.56 1455.65 L 356.92 1456.03 L 357.29 1456.04 L 357.66 1452.63 L 358.02 1451.33 L 358.39 1454.32 L 358.75 1455.23 L 359.12 1453.53 L 359.48 1455.39 L 359.85 1454.26 L 360.21 1457.16 L 360.58 1457.84 L 360.94 1455.51 L 361.67 1457.44 L 362.04 1451.27 L 362.77 1455.64 L 363.14 1451.07 L 363.5 1457.78 L 363.87 1455.94 L 364.23 1451.88 L 364.6 1451.24 L 364.96 1452.57 L 365.33 1457.18 L 365.69 1454.29 L 366.06 1458.05 L 366.42 1458.11 L 366.79 1452.04 L 367.16 1458.57 L 367.52 1457.85 L 367.89 1457.79 L 368.25 1453.19 L 368.62 1453.82 L 368.98 1456.95 L 369.35 1455.48 L 369.71 1451.37 L 370.08 1456.99 L 370.44 1458.08 L 370.81 1453.68 L 371.18 1457.77 L 371.54 1454.37 L 372.27 1458.34 L 372.64 1453.59 L 373 1452.89 L 373.37 1456.21 L 373.73 1457.39 L 374.1 1451.18 L 374.46 1456.73 L 374.83 1456.72 L 375.19 1455.81 L 375.56 1456.77 L 375.93 1456.72 L 376.29 1451.58 L 376.66 1457.97 L 377.02 1452.26 L 377.39 1454.53 L 377.39 1454.53" clip-path="url(#pe1ecdfb261)" style="fill: none; stroke: #1f77b4; stroke-width: 2.25; stroke-linecap: round"/></g><g id="line2d_491"><path d="M 377.387 1454.533 L 377.752 1330.14" clip-path="url(#pe1ecdfb261)" style="fill: none; stroke-dasharray: 5.55,2.4; stroke-dashoffset: 0; stroke: #1f77b4; stroke-width: 1.5"/></g><g id="line2d_492"><path d="M 377.752 1330.14 L 377.961 1458.322" clip-path="url(#pe1ecdfb261)" style="fill: none; stroke-dasharray: 5.55,2.4; stroke-dashoffset: 0; stroke: #1f77b4; stroke-width: 1.5"/></g><g id="line2d_493"><path d="M 377.75 1458.32 L 378.12 1457.44 L 378.48 1463.77 L 378.85 1465.64 L 379.21 1462.26 L 379.58 1457.51 L 379.94 1453.46 L 380.31 1453 L 380.68 1453.57 L 381.04 1451.58 L 381.41 1456.83 L 381.77 1456.09 L 382.14 1452.23 L 382.5 1455.25 L 382.87 1455.2 L 383.23 1452.45 L 383.6 1451.01 L 383.96 1451.86 L 384.33 1452.74 L 384.7 1455.2 L 385.06 1453.23 L 385.43 1456.88 L 385.79 1456.66 L 386.16 1457.04 L 386.52 1453.42 L 386.89 1451.4 L 387.25 1452.86 L 387.62 1456.57 L 387.98 1453.58 L 388.35 1455.93 L 388.71 1452.34 L 389.08 1454.91 L 389.45 1456.7 L 389.81 1456.38 L 390.18 1457.94 L 390.54 1455.85 L 390.91 1456.02 L 391.27 1455.11 L 391.64 1453.6 L 392 1451.54 L 392.37 1452.39 L 392.73 1454.24 L 393.1 1455.85" clip-path="url(#pe1ecdfb261)" style="fill: none; stroke: #1f77b4; stroke-width: 2.25; stroke-linecap: round"/></g><g id="line2d_494"><path d="M 393.099 1455.847 L 393.152 1335.56" clip-path="url(#pe1ecdfb261)" style="fill: none; stroke-dasharray: 5.55,2.4; stroke-dashoffset: 0; stroke: #1f77b4; stroke-width: 1.5"/></g><g id="line2d_495"><path d="M 393.152 1335.56 L 393.36 1457.296" clip-path="url(#pe1ecdfb261)" style="fill: none; stroke-dasharray: 5.55,2.4; stroke-dashoffset: 0; stroke: #1f77b4; stroke-width: 1.5"/></g><g id="line2d_496"><path d="M 393.46 1457.3 L 393.83 1462.89 L 394.2 1467.22 L 394.56 1463.44 L 394.93 1456.53 L 395.29 1457.34 L 395.66 1453.51 L 396.02 1453.51 L 396.39 1454.61 L 396.75 1451.49 L 397.12 1457.59 L 397.48 1456.24 L 397.85 1454.74 L 398.22 1451.27 L 398.58 1457.99 L 398.95 1454.02 L 399.31 1451.61 L 399.68 1457.49 L 400.04 1453.25 L 400.41 1453.35 L 400.77 1455.86 L 401.14 1454.53 L 401.5 1451.49 L 401.87 1455.04 L 402.23 1455.13 L 402.6 1454.31 L 402.97 1458.35 L 403.33 1452.45 L 403.7 1458.2 L 404.06 1451.16 L 404.43 1451.23 L 404.79 1452.38 L 405.16 1451.8 L 405.52 1453.92 L 405.89 1456.27 L 406.25 1454.01 L 406.62 1453.44 L 406.98 1457.52 L 407.35 1452.71 L 407.72 1456.28 L 408.08 1454.7 L 408.45 1456.57 L 408.81 1456.45" clip-path="url(#pe1ecdfb261)" style="fill: none; stroke: #1f77b4; stroke-width: 2.25; stroke-linecap: round"/></g><g id="line2d_497"><path d="M 408.812 1456.449 L 409.125 1314.965" clip-path="url(#pe1ecdfb261)" style="fill: none; stroke-dasharray: 5.55,2.4; stroke-dashoffset: 0; stroke: #1f77b4; stroke-width: 1.5"/></g><g id="line2d_498"><path d="M 409.125 1314.965 L 409.334 1451.939" clip-path="url(#pe1ecdfb261)" style="fill: none; stroke-dasharray: 5.55,2.4; stroke-dashoffset: 0; stroke: #1f77b4; stroke-width: 1.5"/></g><g id="line2d_499"><path d="M 409.18 1451.94 L 409.54 1452.75 L 409.91 1471.98 L 410.27 1470.06 L 410.64 1461.84 L 411 1456.35 L 411.37 1454.38 L 411.74 1456.59 L 412.1 1453.29 L 412.47 1455.71 L 412.83 1451.59 L 413.2 1453.24 L 413.56 1456.14 L 413.93 1451.89 L 414.29 1452.72 L 414.66 1457.06 L 415.02 1456.96 L 415.39 1458.49 L 415.75 1452.75 L 416.12 1457.94 L 416.49 1456.5 L 416.85 1453 L 417.22 1456.27 L 417.58 1456.42 L 417.95 1458.09 L 418.31 1458.21 L 418.68 1454.25 L 419.04 1457.54 L 419.41 1451.28 L 419.77 1458.39 L 420.14 1456.19 L 420.5 1457.19 L 420.87 1451.77 L 421.24 1452.89 L 421.6 1457.74 L 421.97 1458.17 L 422.33 1457.96 L 422.7 1452.98 L 423.06 1452.92 L 423.43 1453.79 L 423.79 1454.88 L 424.16 1455.08 L 424.52 1454.07 L 424.89 1457.77 L 425.26 1452.56 L 425.62 1452.69 L 425.99 1453.42 L 426.35 1456.8 L 426.72 1456.96 L 427.08 1451.15 L 427.45 1451.39 L 427.81 1452.91 L 428.18 1452.63 L 428.54 1455.11 L 428.91 1451.94 L 429.27 1453.35 L 429.64 1455.27 L 430.01 1453.42 L 430.37 1457.99 L 430.74 1455.6 L 431.1 1452.19 L 431.47 1454.95 L 431.83 1454.37 L 432.2 1454.34 L 432.56 1451.43 L 432.93 1457.07 L 433.29 1453.42 L 433.66 1455.18 L 434.02 1456.8 L 434.39 1458.22 L 434.76 1453.96" clip-path="url(#pe1ecdfb261)" style="fill: none; stroke: #1f77b4; stroke-width: 2.25; stroke-linecap: round"/></g><g id="line2d_500"><path d="M 434.756 1453.959 L 435.017 1316.049" clip-path="url(#pe1ecdfb261)" style="fill: none; stroke-dasharray: 5.55,2.4; stroke-dashoffset: 0; stroke: #1f77b4; stroke-width: 1.5"/></g><g id="line2d_501"><path d="M 435.017 1316.049 L 435.225 1457.197" clip-path="url(#pe1ecdfb261)" style="fill: none; stroke-dasharray: 5.55,2.4; stroke-dashoffset: 0; stroke: #1f77b4; stroke-width: 1.5"/></g><g id="line2d_502"><path d="M 435.12 1457.2 L 435.49 1460.98 L 435.85 1467.28 L 436.22 1466.79 L 436.58 1458.94 L 436.95 1457.91 L 437.31 1454.73 L 437.68 1455.45 L 438.04 1457.44 L 438.41 1455.59 L 438.78 1452.01 L 439.14 1457.09 L 439.51 1453.43 L 439.87 1456.55 L 440.24 1454.65 L 440.6 1454.41 L 440.97 1458.05 L 441.33 1452.46 L 441.7 1455.72 L 442.06 1457 L 442.43 1457.01 L 442.79 1451.11 L 443.16 1451.43 L 443.53 1455.03 L 443.89 1456.54 L 444.26 1453.22 L 444.62 1458.19 L 444.99 1452.07 L 445.35 1458.55 L 445.72 1458.22 L 446.08 1456.05 L 446.45 1455.13 L 446.81 1458.55 L 447.18 1456.42 L 447.54 1451.13 L 447.91 1452.72 L 448.28 1458.15 L 448.64 1451.94 L 449.01 1455.06 L 449.37 1451.08 L 449.74 1456.15 L 450.1 1456.24 L 450.47 1453.44 L 450.83 1454.89 L 451.2 1456.49 L 451.56 1454.61 L 451.93 1453.76 L 452.29 1456.22 L 452.66 1452.34 L 453.03 1452.91 L 453.39 1452.88 L 453.76 1453.58 L 454.12 1456.84 L 454.49 1453.23 L 454.85 1457.26 L 455.22 1457.51 L 455.58 1454.77 L 455.95 1457.28 L 456.31 1457.62 L 456.68 1454.1 L 457.05 1451.19 L 457.41 1458.17 L 457.78 1455.22 L 458.14 1457.9 L 458.51 1454.5" clip-path="url(#pe1ecdfb261)" style="fill: none; stroke: #1f77b4; stroke-width: 2.25; stroke-linecap: round"/></g><g id="line2d_503"><path d="M 458.507 1454.502 L 458.507 1333.392" clip-path="url(#pe1ecdfb261)" style="fill: none; stroke-dasharray: 5.55,2.4; stroke-dashoffset: 0; stroke: #1f77b4; stroke-width: 1.5"/></g><g id="line2d_504"><path d="M 458.507 1333.392 L 458.716 1454.23" clip-path="url(#pe1ecdfb261)" style="fill: none; stroke-dasharray: 5.55,2.4; stroke-dashoffset: 0; stroke: #1f77b4; stroke-width: 1.5"/></g><g id="line2d_505"><path d="M 458.87 1454.23 L 459.24 1466.68 L 459.6 1470.25 L 459.97 1462.06 L 460.33 1457.15 L 460.7 1454.88 L 461.06 1453.52 L 461.43 1451.72 L 461.8 1455.29 L 462.16 1451.66 L 462.53 1457.26 L 462.89 1455.15 L 463.26 1457.25 L 463.62 1455.76 L 463.99 1451.73 L 464.35 1451.19 L 464.72 1455.01 L 465.08 1456.49 L 465.45 1456.14 L 465.81 1451.75 L 466.18 1455.26 L 466.55 1457.08 L 466.91 1452.25 L 467.28 1454.72 L 467.64 1455.35 L 468.01 1451.74 L 468.37 1452.93 L 468.74 1458.48 L 469.1 1451.26 L 469.47 1455.14 L 469.83 1457.22 L 470.2 1451.68 L 470.57 1455.41 L 470.93 1453.4 L 471.3 1452.89 L 471.66 1457.11 L 472.03 1451.13 L 472.39 1454.32 L 472.76 1458.16 L 473.12 1454.52 L 473.49 1458.45 L 473.85 1451.16 L 474.22 1453.54 L 474.58 1455.71 L 474.95 1452.53 L 475.32 1452.56 L 475.68 1453.27 L 476.05 1456.81 L 476.41 1457.88 L 476.78 1452.09 L 477.14 1451.85 L 477.51 1455.97 L 477.87 1455.66 L 478.24 1455.53 L 478.6 1456.49 L 478.97 1451.47 L 479.33 1454.56" clip-path="url(#pe1ecdfb261)" style="fill: none; stroke: #1f77b4; stroke-width: 2.25; stroke-linecap: round"/></g><g id="line2d_506"><path d="M 479.335 1454.557 L 479.439 1329.056" clip-path="url(#pe1ecdfb261)" style="fill: none; stroke-dasharray: 5.55,2.4; stroke-dashoffset: 0; stroke: #1f77b4; stroke-width: 1.5"/></g><g id="line2d_507"><path d="M 479.439 1329.056 L 479.648 1453.207" clip-path="url(#pe1ecdfb261)" style="fill: none; stroke-dasharray: 5.55,2.4; stroke-dashoffset: 0; stroke: #1f77b4; stroke-width: 1.5"/></g><g id="line2d_508"><path d="M 479.7 1453.21 L 480.07 1463.65 L 480.43 1469.36 L 480.8 1465.68 L 481.16 1459.47 L 481.53 1455.42 L 481.89 1454.37 L 482.26 1451.03 L 482.62 1451.76 L 482.99 1452.98 L 483.35 1455.68 L 483.72 1455.97 L 484.09 1453.3 L 484.45 1455.97 L 484.82 1452.78 L 485.18 1453.06 L 485.55 1457.68 L 485.91 1452.49 L 486.28 1457.88 L 486.64 1456.18 L 487.01 1451.19 L 487.37 1453.65 L 487.74 1452.09 L 488.1 1451.56 L 488.47 1456.58 L 488.84 1452.55 L 489.2 1455.77 L 489.57 1458.1 L 489.93 1457.78 L 490.3 1457.63 L 490.66 1453.8 L 491.03 1453.72 L 491.39 1452.16 L 491.76 1456.35 L 492.12 1452.8 L 492.49 1456.57 L 492.85 1456.21 L 493.22 1453.61 L 493.59 1455.61 L 493.95 1451.02 L 494.32 1456.19 L 494.68 1456.79 L 495.05 1451.92 L 495.41 1451.97 L 495.78 1457.35 L 496.14 1456.03 L 496.51 1454.72 L 496.87 1458.09 L 497.24 1455.78 L 497.61 1452.75 L 497.97 1452.76 L 498.34 1457.46 L 498.7 1456.29 L 499.07 1456.55 L 499.43 1453.4 L 499.8 1457.59 L 500.16 1451.11" clip-path="url(#pe1ecdfb261)" style="fill: none; stroke: #1f77b4; stroke-width: 2.25; stroke-linecap: round"/></g><g id="line2d_509"><path d="M 500.163 1451.109 L 500.267 1325.804" clip-path="url(#pe1ecdfb261)" style="fill: none; stroke-dasharray: 5.55,2.4; stroke-dashoffset: 0; stroke: #1f77b4; stroke-width: 1.5"/></g><g id="line2d_510"><path d="M 500.267 1325.804 L 500.476 1457.71" clip-path="url(#pe1ecdfb261)" style="fill: none; stroke-dasharray: 5.55,2.4; stroke-dashoffset: 0; stroke: #1f77b4; stroke-width: 1.5"/></g><g id="line2d_511"><path d="M 500.53 1457.71 L 500.89 1464.71 L 501.26 1468.12 L 501.62 1463.12 L 501.99 1457.98 L 502.36 1454.11 L 502.72 1454.74 L 503.09 1456.91 L 503.45 1455.4 L 503.82 1453.98 L 504.18 1454.56 L 504.55 1452.65 L 504.91 1454.5 L 505.28 1455.68 L 505.64 1454.68 L 506.01 1454.65 L 506.37 1458.51 L 506.74 1456.1 L 507.11 1454.24 L 507.47 1453.18 L 507.84 1455.35 L 508.2 1452.93 L 508.57 1454.77 L 508.93 1455.79 L 509.3 1456.75 L 509.66 1452.54 L 510.03 1451.59 L 510.39 1453.06 L 510.76 1456.92 L 511.13 1453.23 L 511.49 1454.76 L 511.86 1451.57 L 512.22 1458.54 L 512.59 1452.72 L 512.95 1455.05 L 513.32 1452.1 L 513.68 1453.99 L 514.05 1458.53 L 514.41 1453.34 L 514.78 1454.54 L 515.14 1456.77 L 515.51 1457.67 L 515.88 1455.57 L 516.24 1454.33 L 516.61 1454.96 L 516.97 1458.46 L 517.34 1457.47 L 517.7 1453.42 L 518.07 1454.45 L 518.43 1452.95 L 518.8 1455.44 L 519.16 1456.64 L 519.53 1452.53 L 519.89 1456.93 L 520.26 1458.13 L 520.63 1455.79 L 520.99 1455.17" clip-path="url(#pe1ecdfb261)" style="fill: none; stroke: #1f77b4; stroke-width: 2.25; stroke-linecap: round"/></g><g id="line2d_512"><path d="M 520.991 1455.166 L 521.095 1325.804" clip-path="url(#pe1ecdfb261)" style="fill: none; stroke-dasharray: 5.55,2.4; stroke-dashoffset: 0; stroke: #1f77b4; stroke-width: 1.5"/></g><g id="line2d_513"><path d="M 521.095 1325.804 L 521.304 1457.003" clip-path="url(#pe1ecdfb261)" style="fill: none; stroke-dasharray: 5.55,2.4; stroke-dashoffset: 0; stroke: #1f77b4; stroke-width: 1.5"/></g><g id="line2d_514"><path d="M 521.36 1457 L 521.72 1463.87 L 522.09 1470.99 L 522.45 1467.03 L 522.82 1458.07 L 523.18 1457.5 L 523.55 1456.47 L 523.91 1455.45 L 524.28 1456.51 L 524.65 1453.63 L 525.01 1457.53 L 525.38 1453.7 L 525.74 1457.71 L 526.11 1454.19 L 526.47 1451.16 L 526.84 1452.62 L 527.2 1451.41 L 527.57 1454.45 L 527.93 1457.39 L 528.3 1455.78 L 528.66 1452.7 L 529.03 1457.59 L 529.4 1453.55 L 529.76 1456.14 L 530.13 1451.63 L 530.49 1455.93 L 530.86 1456.14 L 531.22 1456.52 L 531.59 1454.49 L 531.95 1451.36 L 532.32 1454.49 L 532.68 1452.96 L 533.05 1454.64 L 533.41 1457.96 L 533.78 1454.14 L 534.15 1454.08 L 534.51 1454.07 L 534.88 1456.33 L 535.24 1456.57 L 535.61 1456.09 L 535.97 1458.36 L 536.34 1457.37 L 536.7 1456.41 L 537.07 1454.7 L 537.43 1451.67 L 537.8 1453.27 L 538.17 1454.67 L 538.53 1453.15 L 538.9 1455.22 L 539.26 1458.23 L 539.63 1453.38 L 539.99 1453.24 L 540.36 1453.62 L 540.72 1452.12 L 541.09 1452.66 L 541.45 1452.3 L 541.82 1458.24 L 542.18 1451 L 542.55 1454.13 L 542.92 1454.09 L 543.28 1453.94 L 543.65 1456.54 L 544.01 1456.29 L 544.38 1451.94" clip-path="url(#pe1ecdfb261)" style="fill: none; stroke: #1f77b4; stroke-width: 2.25; stroke-linecap: round"/></g><g id="line2d_515"><path d="M 544.377 1451.936 L 544.638 1323.636" clip-path="url(#pe1ecdfb261)" style="fill: none; stroke-dasharray: 5.55,2.4; stroke-dashoffset: 0; stroke: #1f77b4; stroke-width: 1.5"/></g><g id="line2d_516"><path d="M 544.638 1323.636 L 544.847 1454.035" clip-path="url(#pe1ecdfb261)" style="fill: none; stroke-dasharray: 5.55,2.4; stroke-dashoffset: 0; stroke: #1f77b4; stroke-width: 1.5"/></g><g id="line2d_517"><path d="M 544.74 1454.03 L 545.47 1475.25 L 545.84 1472.9 L 546.2 1463.31 L 546.93 1454.59 L 547.3 1455.67 L 547.67 1455.33 L 548.03 1457.18 L 548.4 1454.08 L 548.76 1453.48 L 549.13 1451.82 L 549.49 1452.2 L 549.86 1451.15 L 550.22 1451.19 L 550.59 1453.27 L 550.95 1456.46 L 551.32 1454.49 L 551.69 1457.96 L 552.05 1454.29 L 552.42 1456.27 L 553.15 1452.9 L 553.51 1458.13 L 553.88 1451.94 L 554.24 1458.3 L 554.61 1454.87 L 554.97 1456.93 L 555.34 1458.29 L 555.7 1454.95 L 556.44 1457.98 L 556.8 1452.33 L 557.17 1456.73 L 557.53 1451.47 L 558.26 1455.89 L 558.63 1458.13 L 558.99 1452.1 L 559.36 1457.76 L 559.72 1452.7 L 560.09 1454.58 L 560.45 1455.13 L 560.82 1457.98 L 561.19 1455.4 L 561.55 1458.47 L 561.92 1452.8 L 562.28 1453.22 L 562.65 1457.56 L 563.01 1454.72 L 563.38 1457.24 L 563.74 1453.19 L 564.11 1457.16 L 564.47 1457.28 L 564.84 1456.43 L 565.21 1451.22 L 565.57 1452.38 L 565.94 1455.53 L 566.3 1452.56 L 566.67 1455.85 L 567.03 1457.17 L 567.4 1451.78 L 567.76 1458.31 L 568.13 1452.57 L 568.49 1451.31 L 568.86 1457.95 L 569.22 1452.07 L 569.59 1452.67 L 569.96 1458.27 L 570.32 1455.22 L 570.69 1456.62 L 571.05 1455.67 L 571.42 1455.69 L 571.78 1455.6 L 572.15 1458.52 L 572.51 1456.53 L 572.88 1456.39 L 573.24 1453.66 L 573.97 1452.9 L 574.34 1453.76 L 574.71 1451.81 L 575.44 1456.21 L 575.8 1458.29 L 576.17 1453.07 L 576.53 1454.32 L 576.9 1457.35 L 577.63 1451.42 L 578.36 1456.24 L 578.73 1452.47 L 579.46 1458.48 L 579.82 1457.98 L 580.19 1451.29 L 580.55 1457.88 L 580.92 1452.65 L 581.28 1458.36 L 581.65 1455.37 L 582.01 1456.45 L 582.38 1455.98 L 582.74 1457.9 L 583.48 1452.83 L 583.84 1454.61 L 584.21 1457.59 L 584.57 1452.48 L 584.94 1451.98 L 585.3 1455.13 L 585.67 1455.86 L 586.03 1458.46 L 586.4 1458.05 L 586.76 1455.74 L 587.13 1457.73 L 587.49 1451.23 L 588.23 1456.22 L 588.59 1454.15 L 588.96 1457.31 L 589.32 1451.63 L 589.69 1454.79 L 590.05 1453.28 L 590.42 1457.21 L 590.78 1455 L 591.15 1454.63 L 591.51 1454.79 L 592.25 1454.73 L 592.61 1455.03 L 593.34 1455.01 L 593.71 1452.94 L 594.44 1457.1 L 594.8 1455.82 L 595.17 1452.84 L 595.53 1456.82 L 595.9 1458.19 L 596.26 1452.17 L 596.63 1451.52 L 597 1452.24 L 597.36 1454.5 L 597.73 1454.81 L 598.09 1454.48 L 598.46 1454.91 L 598.82 1452.71 L 599.19 1453.2 L 599.55 1454.44 L 600.28 1453.09 L 600.65 1455.99 L 601.01 1456.84 L 601.38 1453.45 L 601.75 1454.08 L 602.11 1451.39 L 602.48 1455 L 602.84 1454.83 L 603.21 1454.83 L 603.57 1454.96 L 604.3 1454.63 L 604.67 1455.05 L 605.03 1454.81 L 605.4 1454.78 L 605.77 1454.99 L 606.13 1454.7 L 606.5 1454.96 L 606.86 1454.75 L 607.23 1454.75 L 608.32 1454.52 L 609.05 1454.95 L 609.42 1454.96 L 609.78 1455.39 L 610.15 1455.39 L 610.52 1457.42 L 610.88 1458.16 L 611.25 1457.3 L 611.98 1451.58 L 612.34 1457.48 L 612.71 1457.15 L 613.07 1453.53 L 613.44 1454.62 L 613.8 1454.52 L 614.17 1454.86 L 614.53 1454.63 L 614.9 1454.93 L 615.27 1454.8 L 615.63 1454.55 L 616.36 1454.51 L 616.73 1454.63 L 617.46 1454.55 L 618.55 1455.11 L 618.92 1454.63 L 619.65 1454.65 L 620.02 1454.74 L 620.75 1454.65 L 621.11 1454.78 L 621.48 1454.69 L 621.84 1454.98 L 622.21 1454.77 L 622.94 1454.75 L 623.67 1455.04 L 624.04 1454.7 L 624.4 1455.05 L 624.77 1456.17 L 625.13 1457.95 L 625.5 1452.11 L 625.86 1457.23 L 626.59 1453.03 L 626.96 1452.85 L 627.32 1451.63 L 628.05 1457.24 L 628.42 1454.81 L 628.79 1454.69 L 629.15 1454.93 L 629.88 1454.75 L 630.25 1454.92 L 630.61 1457.71 L 630.98 1453.8 L 631.34 1454.55 L 631.71 1456.54 L 632.07 1457.12 L 632.44 1455.83 L 632.8 1456.27 L 633.17 1455.81 L 633.54 1455.83 L 633.9 1453.04 L 634.27 1454.93 L 634.63 1454.54 L 635 1455.1 L 635.36 1454.56 L 635.73 1455.07 L 636.09 1454.68 L 636.82 1455.06 L 637.19 1452.38 L 637.56 1454.78 L 637.92 1456.25 L 638.29 1451.85 L 638.65 1453.75 L 639.02 1452.42 L 639.38 1456.65 L 639.75 1451.51 L 640.11 1453.86 L 640.84 1454.99 L 641.21 1454.98 L 641.57 1454.58 L 642.31 1454.96 L 643.04 1456.52 L 643.4 1457.58 L 643.77 1458.04 L 644.86 1454.58 L 645.23 1455.5 L 645.59 1457.95 L 645.96 1457.26 L 646.32 1454.89 L 646.69 1454.58 L 647.42 1454.97 L 647.79 1454.84 L 648.15 1454.52 L 648.52 1454.71 L 648.88 1455.05 L 649.25 1454.85 L 649.61 1454.82 L 649.98 1458.14 L 650.34 1457.98 L 650.71 1456.2 L 651.08 1453.84 L 651.44 1457.2 L 651.81 1452.14 L 652.17 1451.42 L 652.54 1454 L 652.9 1457.93 L 653.27 1457.01 L 653.63 1454.88 L 654 1454.67 L 654.36 1454.59 L 655.46 1455.03 L 655.83 1454.72 L 656.19 1451.78 L 656.56 1451.45 L 656.92 1453.15 L 657.29 1452.09 L 657.65 1457.59 L 658.02 1454.75 L 658.38 1454.95 L 658.75 1456.76 L 659.11 1454.35 L 659.48 1454.71 L 659.84 1454.76 L 660.21 1454.66 L 660.58 1455.06 L 660.94 1454.53 L 661.67 1454.48 L 662.04 1454.62 L 662.4 1454.92 L 662.77 1454.48 L 663.13 1454.36 L 663.5 1451.53 L 663.86 1457.8 L 664.23 1456.19 L 664.6 1457.08 L 664.96 1456.72 L 665.33 1456.06 L 665.69 1455.71 L 666.06 1451.62 L 666.42 1455.99 L 666.79 1454.48 L 667.15 1454.87 L 667.52 1454.86 L 667.88 1454.6 L 668.25 1455.07 L 668.61 1455.04 L 668.98 1454.64 L 669.35 1455.04 L 669.71 1454.72 L 670.08 1454.59 L 670.44 1454.91 L 670.81 1457.11 L 671.17 1456.73 L 671.54 1456.76 L 671.9 1454.32 L 672.27 1456.18 L 672.63 1456.34 L 673 1454.63 L 673.36 1458.15 L 673.73 1452.27 L 674.1 1455.12 L 674.83 1454.59 L 675.19 1454.99 L 675.56 1454.7 L 675.92 1454.65 L 676.29 1455.02 L 676.65 1454.56 L 677.02 1457.91 L 677.38 1455.41 L 677.75 1451.41 L 678.12 1457.1 L 678.48 1457.95 L 678.85 1454.89 L 679.21 1453.89 L 679.58 1455.61 L 679.94 1456.74 L 680.31 1453.47 L 680.67 1455.08 L 681.04 1454.87 L 681.4 1454.52 L 682.13 1455 L 682.5 1454.7 L 682.87 1454.83 L 683.23 1454.53 L 683.96 1455.1 L 684.33 1454.17 L 684.69 1455.86 L 685.42 1452.44 L 685.79 1454.69 L 686.15 1455.57 L 686.52 1453.99 L 686.88 1454.76 L 687.25 1457.58 L 687.62 1452 L 687.98 1455.02 L 688.35 1454.81 L 688.71 1454.96 L 689.08 1454.67 L 689.44 1454.96 L 689.81 1455.01 L 690.17 1457.4 L 690.54 1453.11 L 690.9 1455.26 L 691.27 1452.83 L 691.64 1454.64 L 692 1452.57 L 692.37 1455.01 L 692.73 1456.55 L 693.1 1452.92 L 693.46 1452.52 L 693.83 1455.01 L 694.19 1454.67 L 694.92 1455.06 L 695.29 1455.04 L 695.65 1454.54 L 696.02 1455.09 L 696.39 1454.94 L 696.75 1454.56 L 697.12 1455.07 L 697.48 1454.98 L 697.85 1454.78 L 698.21 1451.82 L 698.58 1453.36 L 698.94 1451.79 L 699.31 1456.91 L 699.67 1451.72 L 700.04 1452.94 L 700.4 1451.72 L 700.77 1455.84 L 701.14 1454.41 L 701.5 1454.96 L 701.87 1454.48 L 702.23 1454.86 L 702.6 1454.71 L 702.96 1454.74 L 703.33 1454.5 L 703.69 1454.96 L 704.06 1455.02 L 704.42 1454.54 L 704.79 1454.79 L 705.16 1452.06 L 705.52 1453.6 L 705.89 1456.26 L 706.25 1456.26 L 706.62 1451.7 L 706.98 1453.61 L 707.35 1457.9 L 707.71 1456.47 L 708.08 1454.4 L 708.44 1456.95 L 708.81 1454.62 L 709.17 1454.71 L 709.54 1455.1 L 709.91 1454.63 L 710.27 1454.74 L 710.64 1455.04 L 711 1454.55 L 711.73 1454.82 L 712.1 1454.51 L 712.46 1454.99 L 712.83 1455.01 L 713.19 1454.54 L 713.56 1455.02 L 713.92 1454.59 L 714.29 1455.03 L 714.66 1453.63 L 715.02 1457.68 L 715.39 1456.5 L 715.75 1452.15 L 716.12 1457.98 L 716.48 1457.49 L 716.85 1452.58 L 717.21 1453.57 L 717.58 1454.99 L 717.94 1454.59 L 718.31 1454.99 L 719.04 1454.86 L 719.41 1454.62 L 720.14 1454.92 L 720.5 1454.62 L 720.87 1454.99 L 721.23 1454.66 L 721.6 1454.63 L 721.96 1455.05 L 722.33 1454.75 L 722.69 1454.74 L 723.06 1454.49 L 723.43 1454.93 L 723.79 1454.82 L 724.16 1454.51 L 724.52 1452.31 L 724.89 1456.82 L 725.25 1458.23 L 725.62 1452.63 L 725.98 1453.84 L 726.35 1455.93 L 726.71 1454.25 L 727.08 1457.7 L 727.81 1454.32 L 728.18 1454.97 L 728.54 1454.8 L 728.91 1454.93 L 729.27 1454.58 L 729.64 1454.89 L 730.37 1454.53 L 730.73 1454.97 L 731.1 1454.5 L 731.46 1454.81 L 731.83 1454.7 L 732.2 1454.94 L 732.56 1454.67 L 733.66 1454.56 L 734.02 1452.41 L 734.39 1456.07 L 734.75 1457.84 L 735.12 1457.65 L 735.48 1456.14 L 735.85 1453.92 L 736.21 1453.37 L 736.58 1453.44 L 736.95 1452.2 L 737.68 1454.57 L 738.04 1454.69 L 738.41 1454.59 L 739.14 1455.1 L 739.5 1454.85 L 739.87 1455.01 L 740.23 1454.92 L 740.96 1455 L 741.33 1454.67 L 741.7 1454.73 L 742.43 1454.48 L 742.79 1454.97 L 743.16 1454.51 L 743.89 1454.76 L 744.25 1454.49 L 744.62 1454.79 L 744.98 1453.61 L 745.35 1454.14 L 746.08 1453.2 L 746.45 1451.49 L 746.81 1457.02 L 747.18 1453.8 L 747.54 1457.4 L 747.91 1456.84 L 748.27 1451.84 L 748.64 1454.84 L 749 1454.98 L 749.37 1454.92 L 749.73 1454.63 L 750.1 1454.65 L 750.47 1454.96 L 750.83 1454.5 L 751.2 1455.09 L 751.93 1454.84 L 752.29 1454.6 L 752.66 1454.75 L 753.39 1454.5 L 753.75 1454.88 L 754.12 1455 L 754.48 1455.46 L 754.85 1454.33 L 755.22 1456.8 L 755.58 1454.73 L 755.95 1458.1 L 756.31 1454.24 L 756.68 1451.65 L 757.04 1453.5 L 757.41 1453.65 L 757.77 1454.42 L 758.14 1454.48 L 758.5 1454.89 L 758.87 1454.5 L 759.24 1454.67 L 759.6 1455.03 L 759.97 1454.83 L 760.33 1455.12 L 760.7 1454.86 L 761.43 1454.6 L 761.79 1454.91 L 762.16 1454.7 L 763.25 1454.72 L 763.62 1454.82 L 763.99 1454.72 L 764.35 1454.82 L 764.72 1454.53 L 765.08 1455.05 L 765.45 1456.04 L 765.81 1452.9 L 766.18 1455.57 L 766.54 1455.93 L 766.91 1454.47 L 767.27 1451.5 L 767.64 1453.17 L 768 1453.58 L 768.37 1457.38 L 768.74 1452.66 L 769.1 1454.98 L 769.47 1455.08 L 769.83 1454.69 L 770.2 1454.48 L 770.56 1455.07 L 770.93 1454.53 L 771.29 1454.87 L 771.66 1454.7 L 772.02 1454.95 L 772.39 1454.67 L 772.75 1454.84 L 773.12 1454.6 L 773.49 1454.94 L 773.85 1454.9 L 774.22 1454.71 L 774.58 1455.05 L 774.95 1454.49 L 775.31 1454.73 L 775.68 1455.33 L 776.04 1453.9 L 776.41 1454.37 L 776.77 1452.82 L 777.14 1458.04 L 777.51 1457.59 L 777.87 1456.31 L 778.24 1456.86 L 778.6 1453.54 L 778.97 1457.45 L 779.33 1454.68 L 779.7 1454.95 L 780.06 1454.93 L 780.43 1454.61 L 781.16 1454.65 L 781.52 1454.52 L 781.89 1454.57 L 782.26 1454.98 L 782.62 1454.49 L 782.99 1454.78 L 783.35 1454.76 L 783.72 1454.94 L 784.45 1454.76 L 784.81 1455.1 L 785.18 1454.65 L 785.54 1454.89 L 785.91 1454.67 L 786.27 1454.65 L 786.64 1457.62 L 787.01 1454.59 L 787.37 1457.8 L 787.74 1452.76 L 788.1 1455.98 L 788.47 1456.17 L 789.2 1451.49 L 789.56 1456.3 L 789.93 1456.7 L 790.29 1454.49 L 791.03 1454.59 L 791.39 1454.86 L 791.76 1454.51 L 792.49 1454.98 L 793.22 1454.57 L 793.58 1454.68 L 793.95 1454.58 L 794.31 1455.1 L 794.68 1454.49 L 795.04 1454.52 L 795.41 1454.79 L 795.78 1454.52 L 796.14 1455 L 796.51 1454.88 L 796.87 1455.01 L 797.24 1455.71 L 797.6 1452.86 L 797.97 1451.79 L 798.33 1457.2 L 798.7 1458.06 L 799.06 1456.14 L 799.43 1456.04 L 799.79 1453.08 L 800.16 1453.54 L 800.53 1453.08 L 800.89 1454.88 L 801.62 1454.57 L 801.99 1454.99 L 802.35 1454.74 L 802.72 1455.06 L 803.08 1454.53 L 803.45 1455.12 L 803.81 1454.49 L 804.18 1454.75 L 804.55 1454.63 L 805.64 1454.84 L 806.01 1454.99 L 806.37 1454.93 L 806.74 1455.06 L 807.1 1454.95 L 807.47 1455.54 L 807.83 1455.29 L 808.2 1451.73 L 808.56 1457.93 L 808.93 1458.12 L 809.3 1458.15 L 809.66 1452.6 L 810.03 1454.67 L 810.39 1453.44 L 810.76 1453.73 L 811.12 1454.67 L 812.22 1454.76 L 812.58 1454.64 L 812.95 1454.88 L 813.31 1454.51 L 814.05 1454.9 L 814.41 1454.71 L 814.78 1454.68 L 815.14 1454.52 L 815.87 1454.78 L 816.24 1454.89 L 816.6 1454.84 L 816.97 1454.93 L 817.7 1454.56 L 818.8 1455.1 L 819.16 1454.55 L 819.53 1454.93 L 819.89 1454.67 L 820.26 1452.62 L 820.99 1455.99 L 821.35 1457.49 L 821.72 1455.41 L 822.08 1456.91 L 822.45 1451.84 L 822.82 1452.97 L 823.18 1456.29 L 823.55 1454.72 L 823.91 1454.47 L 824.28 1455.09 L 824.64 1454.63 L 825.01 1455.02 L 825.37 1454.77 L 825.74 1454.88 L 826.1 1454.55 L 826.47 1454.94 L 826.83 1454.65 L 827.2 1454.51 L 827.57 1455.08 L 827.93 1454.66 L 828.3 1455.07 L 828.3 1455.07" clip-path="url(#pe1ecdfb261)" style="fill: none; stroke: #1f77b4; stroke-width: 2.25; stroke-linecap: round"/></g><g id="line2d_518"><path d="M 376.56 1484.28 L 376.56 1307.16" clip-path="url(#pe1ecdfb261)" style="fill: none; stroke-dasharray: 5.55,2.4; stroke-dashoffset: 0; stroke: #ff0000; stroke-width: 1.5"/></g><g id="line2d_519"><path d="M 392.4 1484.28 L 392.4 1307.16" clip-path="url(#pe1ecdfb261)" style="fill: none; stroke-dasharray: 5.55,2.4; stroke-dashoffset: 0; stroke: #ff0000; stroke-width: 1.5"/></g><g id="line2d_520"><path d="M 408.24 1484.28 L 408.24 1307.16" clip-path="url(#pe1ecdfb261)" style="fill: none; stroke-dasharray: 5.55,2.4; stroke-dashoffset: 0; stroke: #ff0000; stroke-width: 1.5"/></g><g id="line2d_521"><path d="M 434.16 1484.28 L 434.16 1307.16" clip-path="url(#pe1ecdfb261)" style="fill: none; stroke-dasharray: 5.55,2.4; stroke-dashoffset: 0; stroke: #ff0000; stroke-width: 1.5"/></g><g id="line2d_522"><path d="M 457.2 1484.28 L 457.2 1307.16" clip-path="url(#pe1ecdfb261)" style="fill: none; stroke-dasharray: 5.55,2.4; stroke-dashoffset: 0; stroke: #ff0000; stroke-width: 1.5"/></g><g id="line2d_523"><path d="M 457.92 1484.28 L 457.92 1307.16" clip-path="url(#pe1ecdfb261)" style="fill: none; stroke-dasharray: 5.55,2.4; stroke-dashoffset: 0; stroke: #ff0000; stroke-width: 1.5"/></g><g id="line2d_524"><path d="M 478.08 1484.28 L 478.08 1307.16" clip-path="url(#pe1ecdfb261)" style="fill: none; stroke-dasharray: 5.55,2.4; stroke-dashoffset: 0; stroke: #ff0000; stroke-width: 1.5"/></g><g id="line2d_525"><path d="M 478.8 1484.28 L 478.8 1307.16" clip-path="url(#pe1ecdfb261)" style="fill: none; stroke-dasharray: 5.55,2.4; stroke-dashoffset: 0; stroke: #ff0000; stroke-width: 1.5"/></g><g id="line2d_526"><path d="M 498.96 1484.28 L 498.96 1307.16" clip-path="url(#pe1ecdfb261)" style="fill: none; stroke-dasharray: 5.55,2.4; stroke-dashoffset: 0; stroke: #ff0000; stroke-width: 1.5"/></g><g id="line2d_527"><path d="M 499.68 1484.28 L 499.68 1307.16" clip-path="url(#pe1ecdfb261)" style="fill: none; stroke-dasharray: 5.55,2.4; stroke-dashoffset: 0; stroke: #ff0000; stroke-width: 1.5"/></g><g id="line2d_528"><path d="M 519.84 1484.28 L 519.84 1307.16" clip-path="url(#pe1ecdfb261)" style="fill: none; stroke-dasharray: 5.55,2.4; stroke-dashoffset: 0; stroke: #ff0000; stroke-width: 1.5"/></g><g id="line2d_529"><path d="M 520.56 1484.28 L 520.56 1307.16" clip-path="url(#pe1ecdfb261)" style="fill: none; stroke-dasharray: 5.55,2.4; stroke-dashoffset: 0; stroke: #ff0000; stroke-width: 1.5"/></g><g id="line2d_530"><path d="M 543.6 1484.28 L 543.6 1307.16" clip-path="url(#pe1ecdfb261)" style="fill: none; stroke-dasharray: 5.55,2.4; stroke-dashoffset: 0; stroke: #ff0000; stroke-width: 1.5"/></g><g id="patch_39"><path d="M 39.96 1484.28 L 39.96 1307.16" style="fill: none; stroke: #000000; stroke-width: 0.8; stroke-linejoin: miter; stroke-linecap: square"/></g><g id="patch_40"><path d="M 865.8 1484.28 L 865.8 1307.16" style="fill: none; stroke: #000000; stroke-width: 0.8; stroke-linejoin: miter; stroke-linecap: square"/></g><g id="patch_41"><path d="M 39.492 1484.28 L 865.202 1484.28" style="fill: none; stroke: #000000; stroke-width: 0.8; stroke-linejoin: miter; stroke-linecap: square"/></g><g id="patch_42"><path d="M 39.492 1307.16 L 865.202 1307.16" style="fill: none; stroke: #000000; stroke-width: 0.8; stroke-linejoin: miter; stroke-linecap: square"/></g><g id="legend_7"><g id="patch_43"><path d="M 746.86 1330.12 L 858.67 1330.12 Q 860.67 1330.12 860.67 1328.12 L 860.67 1314.16 Q 860.67 1312.16 858.67 1312.16 L 746.86 1312.16 Q 744.86 1312.16 744.86 1314.16 L 744.86 1328.12 Q 744.86 1330.12 746.86 1330.12 z" style="fill: #ffffff; opacity: 0.8; stroke: #cccccc; stroke-linejoin: miter"/></g><g id="line2d_531"><path d="M 748.863 1320.258 L 758.863 1320.258 L 768.863 1320.258" style="fill: none; stroke-dasharray: 5.55,2.4; stroke-dashoffset: 0; stroke: #1f77b4; stroke-width: 1.5"/><g><use href="#meb56f628bb" x="758.863" y="1321.058" style="fill: #1f77b4"/></g></g><g id="text_120"><text style="font-size: 10px; font-family: 'DejaVu Sans', 'Liberation Sans', sans-serif; text-anchor: start" x="780.063" y="1323.758" transform="rotate(-0 780.063 1323.758)">Ws_W68_dydt1</text></g></g></g><g id="axes_8"><g id="patch_44"><path d="M 39.492 1698.12 L 865.202 1698.12 L 865.202 1521 L 39.492 1521 z" style="fill: #ffffff"/></g><g id="matplotlib.axis_15"><g id="xtick_57"><g id="line2d_532"><path d="M 76.68 1698.12 L 76.68 1521" clip-path="url(#pb8f7d3a309)" style="fill: none; stroke: #b0b0b0; stroke-width: 0.8; stroke-linecap: square"/></g><g id="line2d_533"><g><use href="#m1504cfccaf" x="76.68" y="1698.12" style="stroke: #000000; stroke-width: 0.8"/></g></g><g id="text_121"><text style="font-size: 10px; font-family: 'DejaVu Sans', 'Liberation Sans', sans-serif; text-anchor: middle" x="76.189" y="1713.438" transform="rotate(-0 76.189 1713.438)">0</text></g></g><g id="xtick_58"><g id="line2d_534"><path d="M 181.08 1698.12 L 181.08 1521" clip-path="url(#pb8f7d3a309)" style="fill: none; stroke: #b0b0b0; stroke-width: 0.8; stroke-linecap: square"/></g><g id="line2d_535"><g><use href="#m1504cfccaf" x="181.08" y="1698.12" style="stroke: #000000; stroke-width: 0.8"/></g></g><g id="text_122"><text style="font-size: 10px; font-family: 'DejaVu Sans', 'Liberation Sans', sans-serif; text-anchor: middle" x="180.59" y="1713.438" transform="rotate(-0 180.59 1713.438)">200</text></g></g><g id="xtick_59"><g id="line2d_536"><path d="M 285.48 1698.12 L 285.48 1521" clip-path="url(#pb8f7d3a309)" style="fill: none; stroke: #b0b0b0; stroke-width: 0.8; stroke-linecap: square"/></g><g id="line2d_537"><g><use href="#m1504cfccaf" x="285.48" y="1698.12" style="stroke: #000000; stroke-width: 0.8"/></g></g><g id="text_123"><text style="font-size: 10px; font-family: 'DejaVu Sans', 'Liberation Sans', sans-serif; text-anchor: middle" x="284.992" y="1713.438" transform="rotate(-0 284.992 1713.438)">400</text></g></g><g id="xtick_60"><g id="line2d_538"><path d="M 389.88 1698.12 L 389.88 1521" clip-path="url(#pb8f7d3a309)" style="fill: none; stroke: #b0b0b0; stroke-width: 0.8; stroke-linecap: square"/></g><g id="line2d_539"><g><use href="#m1504cfccaf" x="389.88" y="1698.12" style="stroke: #000000; stroke-width: 0.8"/></g></g><g id="text_124"><text style="font-size: 10px; font-family: 'DejaVu Sans', 'Liberation Sans', sans-serif; text-anchor: middle" x="389.393" y="1713.438" transform="rotate(-0 389.393 1713.438)">600</text></g></g><g id="xtick_61"><g id="line2d_540"><path d="M 494.28 1698.12 L 494.28 1521" clip-path="url(#pb8f7d3a309)" style="fill: none; stroke: #b0b0b0; stroke-width: 0.8; stroke-linecap: square"/></g><g id="line2d_541"><g><use href="#m1504cfccaf" x="494.28" y="1698.12" style="stroke: #000000; stroke-width: 0.8"/></g></g><g id="text_125"><text style="font-size: 10px; font-family: 'DejaVu Sans', 'Liberation Sans', sans-serif; text-anchor: middle" x="493.795" y="1713.438" transform="rotate(-0 493.795 1713.438)">800</text></g></g><g id="xtick_62"><g id="line2d_542"><path d="M 598.68 1698.12 L 598.68 1521" clip-path="url(#pb8f7d3a309)" style="fill: none; stroke: #b0b0b0; stroke-width: 0.8; stroke-linecap: square"/></g><g id="line2d_543"><g><use href="#m1504cfccaf" x="598.68" y="1698.12" style="stroke: #000000; stroke-width: 0.8"/></g></g><g id="text_126"><text style="font-size: 10px; font-family: 'DejaVu Sans', 'Liberation Sans', sans-serif; text-anchor: middle" x="598.196" y="1713.438" transform="rotate(-0 598.196 1713.438)">1000</text></g></g><g id="xtick_63"><g id="line2d_544"><path d="M 703.08 1698.12 L 703.08 1521" clip-path="url(#pb8f7d3a309)" style="fill: none; stroke: #b0b0b0; stroke-width: 0.8; stroke-linecap: square"/></g><g id="line2d_545"><g><use href="#m1504cfccaf" x="703.08" y="1698.12" style="stroke: #000000; stroke-width: 0.8"/></g></g><g id="text_127"><text style="font-size: 10px; font-family: 'DejaVu Sans', 'Liberation Sans', sans-serif; text-anchor: middle" x="702.597" y="1713.438" transform="rotate(-0 702.597 1713.438)">1200</text></g></g><g id="xtick_64"><g id="line2d_546"><path d="M 807.48 1698.12 L 807.48 1521" clip-path="url(#pb8f7d3a309)" style="fill: none; stroke: #b0b0b0; stroke-width: 0.8; stroke-linecap: square"/></g><g id="line2d_547"><g><use href="#m1504cfccaf" x="807.48" y="1698.12" style="stroke: #000000; stroke-width: 0.8"/></g></g><g id="text_128"><text style="font-size: 10px; font-family: 'DejaVu Sans', 'Liberation Sans', sans-serif; text-anchor: middle" x="806.999" y="1713.438" transform="rotate(-0 806.999 1713.438)">1400</text></g></g><g id="text_129"><text style="font-size: 10px; font-family: 'DejaVu Sans', 'Liberation Sans', sans-serif; text-anchor: middle" x="452.347" y="1727.117" transform="rotate(-0 452.347 1727.117)">minute</text></g></g><g id="matplotlib.axis_16"><g id="ytick_48"><g id="line2d_548"><path d="M 39.492 1697.4 L 865.202 1697.4" clip-path="url(#pb8f7d3a309)" style="fill: none; stroke: #b0b0b0; stroke-width: 0.8; stroke-linecap: square"/></g><g id="line2d_549"><g><use href="#m5d545ce8f8" x="39.96" y="1697.4" style="stroke: #000000; stroke-width: 0.8"/></g></g><g id="text_130"><text style="font-size: 10px; font-family: 'DejaVu Sans', 'Liberation Sans', sans-serif; text-anchor: end" x="32.492" y="1701.131" transform="rotate(-0 32.492 1701.131)">-2</text></g></g><g id="ytick_49"><g id="line2d_550"><path d="M 39.492 1670.76 L 865.202 1670.76" clip-path="url(#pb8f7d3a309)" style="fill: none; stroke: #b0b0b0; stroke-width: 0.8; stroke-linecap: square"/></g><g id="line2d_551"><g><use href="#m5d545ce8f8" x="39.96" y="1670.76" style="stroke: #000000; stroke-width: 0.8"/></g></g><g id="text_131"><text style="font-size: 10px; font-family: 'DejaVu Sans', 'Liberation Sans', sans-serif; text-anchor: end" x="32.492" y="1674.862" transform="rotate(-0 32.492 1674.862)">0</text></g></g><g id="ytick_50"><g id="line2d_552"><path d="M 39.492 1644.84 L 865.202 1644.84" clip-path="url(#pb8f7d3a309)" style="fill: none; stroke: #b0b0b0; stroke-width: 0.8; stroke-linecap: square"/></g><g id="line2d_553"><g><use href="#m5d545ce8f8" x="39.96" y="1644.84" style="stroke: #000000; stroke-width: 0.8"/></g></g><g id="text_132"><text style="font-size: 10px; font-family: 'DejaVu Sans', 'Liberation Sans', sans-serif; text-anchor: end" x="32.492" y="1648.593" transform="rotate(-0 32.492 1648.593)">2</text></g></g><g id="ytick_51"><g id="line2d_554"><path d="M 39.492 1618.2 L 865.202 1618.2" clip-path="url(#pb8f7d3a309)" style="fill: none; stroke: #b0b0b0; stroke-width: 0.8; stroke-linecap: square"/></g><g id="line2d_555"><g><use href="#m5d545ce8f8" x="39.96" y="1618.2" style="stroke: #000000; stroke-width: 0.8"/></g></g><g id="text_133"><text style="font-size: 10px; font-family: 'DejaVu Sans', 'Liberation Sans', sans-serif; text-anchor: end" x="32.492" y="1622.324" transform="rotate(-0 32.492 1622.324)">4</text></g></g><g id="ytick_52"><g id="line2d_556"><path d="M 39.492 1592.28 L 865.202 1592.28" clip-path="url(#pb8f7d3a309)" style="fill: none; stroke: #b0b0b0; stroke-width: 0.8; stroke-linecap: square"/></g><g id="line2d_557"><g><use href="#m5d545ce8f8" x="39.96" y="1592.28" style="stroke: #000000; stroke-width: 0.8"/></g></g><g id="text_134"><text style="font-size: 10px; font-family: 'DejaVu Sans', 'Liberation Sans', sans-serif; text-anchor: end" x="32.492" y="1596.054" transform="rotate(-0 32.492 1596.054)">6</text></g></g><g id="ytick_53"><g id="line2d_558"><path d="M 39.492 1565.64 L 865.202 1565.64" clip-path="url(#pb8f7d3a309)" style="fill: none; stroke: #b0b0b0; stroke-width: 0.8; stroke-linecap: square"/></g><g id="line2d_559"><g><use href="#m5d545ce8f8" x="39.96" y="1565.64" style="stroke: #000000; stroke-width: 0.8"/></g></g><g id="text_135"><text style="font-size: 10px; font-family: 'DejaVu Sans', 'Liberation Sans', sans-serif; text-anchor: end" x="32.492" y="1569.785" transform="rotate(-0 32.492 1569.785)">8</text></g></g><g id="ytick_54"><g id="line2d_560"><path d="M 39.492 1539.72 L 865.202 1539.72" clip-path="url(#pb8f7d3a309)" style="fill: none; stroke: #b0b0b0; stroke-width: 0.8; stroke-linecap: square"/></g><g id="line2d_561"><g><use href="#m5d545ce8f8" x="39.96" y="1539.72" style="stroke: #000000; stroke-width: 0.8"/></g></g><g id="text_136"><text style="font-size: 10px; font-family: 'DejaVu Sans', 'Liberation Sans', sans-serif; text-anchor: end" x="32.492" y="1543.516" transform="rotate(-0 32.492 1543.516)">10</text></g></g></g><g id="line2d_562"><path d="M 77.91 1670.95 L 78.64 1671.29 L 79.37 1670.89 L 79.74 1671.08 L 80.1 1670.81 L 80.47 1671.03 L 80.83 1670.86 L 81.2 1671.31 L 81.57 1670.99 L 82.3 1671.14 L 82.66 1670.85 L 83.03 1671.28 L 83.39 1671.07 L 83.76 1671.16 L 84.12 1670.82 L 84.49 1670.91 L 84.85 1671.22 L 85.95 1671.23 L 86.32 1672.93 L 86.68 1669.11 L 87.05 1671.65 L 87.41 1670.19 L 87.78 1669.37 L 88.14 1669.19 L 88.51 1672.31 L 88.87 1669.52 L 89.24 1671.01 L 89.6 1670.45 L 89.97 1671.25 L 90.34 1670.83 L 90.7 1671.3 L 91.07 1670.81 L 91.43 1671.21 L 91.8 1671.22 L 92.89 1670.81 L 93.26 1671.08 L 93.62 1670.85 L 94.35 1670.81 L 94.72 1671.14 L 95.09 1671.08 L 95.45 1671.31 L 95.82 1671.12 L 96.55 1671.26 L 96.91 1670.89 L 97.28 1671.18 L 98.37 1671.31 L 98.74 1670.93 L 99.11 1672.06 L 99.47 1672.47 L 100.2 1669.47 L 100.57 1671.38 L 100.93 1669.28 L 101.3 1670.25 L 101.66 1672.96 L 102.03 1669.35 L 102.39 1672.59 L 102.76 1671.23 L 103.12 1670.83 L 103.49 1670.89 L 103.86 1671.15 L 104.22 1670.9 L 104.59 1670.82 L 105.32 1670.94 L 106.05 1670.86 L 106.41 1670.92 L 106.78 1671.28 L 107.14 1671.22 L 107.51 1671.26 L 107.87 1671.08 L 108.24 1671.29 L 108.97 1670.84 L 109.34 1670.81 L 109.7 1671.31 L 110.07 1670.97 L 110.43 1671.25 L 110.8 1670.87 L 111.16 1671.31 L 111.89 1671.16 L 112.26 1671.32 L 112.63 1670.98 L 112.99 1671.22 L 113.36 1672.16 L 114.09 1669.33 L 114.45 1672.5 L 114.82 1671.86 L 115.18 1672.85 L 115.55 1672.69 L 115.91 1671.34 L 116.28 1670.76 L 116.64 1671.02 L 117.01 1670.95 L 117.38 1671.3 L 117.74 1670.87 L 118.84 1670.9 L 119.2 1671.01 L 119.57 1670.9 L 119.93 1671.08 L 120.3 1671.11 L 120.66 1670.96 L 121.39 1671.16 L 121.76 1671.19 L 122.13 1671.1 L 122.49 1671.12 L 122.86 1670.93 L 123.95 1670.88 L 124.32 1671.14 L 124.68 1671.13 L 125.05 1670.89 L 125.41 1671.23 L 125.78 1670.96 L 126.15 1671.05 L 126.51 1672.85 L 126.88 1671.34 L 127.24 1671.28 L 127.61 1669.35 L 127.97 1671.74 L 128.34 1670.54 L 128.7 1671.11 L 129.07 1669.97 L 129.43 1670.65 L 129.8 1669.12 L 130.16 1671.08 L 130.9 1670.96 L 131.26 1671.21 L 131.63 1671.28 L 131.99 1670.82 L 132.36 1670.88 L 132.72 1671.23 L 133.09 1670.89 L 133.45 1670.9 L 133.82 1671.23 L 134.18 1670.9 L 134.55 1671.12 L 135.28 1671.24 L 135.65 1671.01 L 136.38 1671.06 L 136.74 1671.27 L 137.11 1670.91 L 137.47 1671.16 L 137.84 1671.19 L 138.2 1670.99 L 138.57 1671.23 L 139.3 1670.52 L 139.67 1671.69 L 140.03 1671.38 L 140.4 1669.66 L 140.76 1671.58 L 141.13 1669.38 L 141.49 1671.3 L 141.86 1669.32 L 142.22 1672.44 L 142.59 1669.94 L 142.95 1671.27 L 143.32 1671.17 L 143.68 1671.31 L 144.05 1670.85 L 144.42 1671.29 L 144.78 1671.04 L 145.15 1670.97 L 145.51 1671.22 L 145.88 1670.81 L 146.24 1670.81 L 146.61 1671.2 L 146.97 1671.25 L 147.34 1670.98 L 147.7 1671.06 L 149.17 1670.92 L 149.53 1671.16 L 149.9 1670.93 L 150.26 1671.09 L 150.63 1670.81 L 151.36 1671.32 L 151.72 1670.84 L 152.09 1671.18 L 152.45 1671.28 L 152.82 1672.14 L 153.19 1670.71 L 153.55 1672.8 L 153.92 1672.25 L 154.28 1669.69 L 154.65 1670.97 L 155.38 1672.46 L 155.74 1672.4 L 156.11 1671.15 L 156.84 1671.1 L 157.57 1671.17 L 158.3 1671.22 L 158.67 1671.02 L 159.03 1671.28 L 159.4 1671.19 L 159.76 1671.24 L 160.13 1670.95 L 160.86 1671.27 L 161.22 1670.89 L 161.59 1671.1 L 161.95 1670.9 L 162.32 1671.16 L 163.05 1671.03 L 163.42 1671.29 L 163.78 1670.81 L 164.15 1671.26 L 164.51 1670.85 L 164.88 1670.98 L 165.24 1670.92 L 165.61 1671.22 L 165.97 1670.86 L 166.71 1671.11 L 167.07 1672.13 L 167.44 1671.22 L 167.8 1672.95 L 168.53 1671.35 L 168.9 1669.56 L 169.26 1669.62 L 169.63 1669.35 L 169.99 1672.15 L 170.36 1672.54 L 170.72 1671.14 L 171.09 1670.93 L 171.46 1671.11 L 171.82 1671.06 L 172.19 1671.23 L 172.55 1670.81 L 172.92 1671.28 L 173.28 1670.95 L 173.65 1670.98 L 174.01 1671.14 L 174.38 1670.81 L 174.74 1671.31 L 175.84 1670.99 L 176.57 1670.95 L 176.94 1670.87 L 177.3 1671.32 L 177.67 1671.03 L 178.03 1671.11 L 178.4 1670.96 L 179.49 1671.32 L 180.23 1671.09 L 180.96 1671.13 L 181.32 1669.69 L 181.69 1670.28 L 182.05 1672.06 L 182.42 1671.33 L 182.78 1669.39 L 183.15 1669.81 L 183.51 1669.34 L 183.88 1671.09 L 184.24 1672.27 L 184.61 1670.91 L 184.98 1670.82 L 185.34 1671.22 L 185.71 1670.85 L 186.07 1671.3 L 186.44 1670.88 L 186.8 1670.99 L 187.17 1670.97 L 187.53 1671.12 L 187.9 1671.12 L 188.63 1671.25 L 188.99 1671 L 189.73 1671.31 L 190.46 1671.24 L 190.82 1671.22 L 191.55 1670.85 L 191.92 1671.02 L 192.28 1670.94 L 192.65 1671.27 L 193.01 1670.96 L 193.75 1670.8 L 194.48 1671.01 L 194.84 1670.82 L 195.21 1671.26 L 195.57 1670.91 L 196.3 1670.94 L 196.67 1672.59 L 197.03 1672.57 L 197.4 1672.67 L 197.76 1672.04 L 198.13 1672.39 L 198.5 1672.02 L 198.86 1670.29 L 199.23 1670.38 L 199.59 1672.93 L 199.96 1669.65 L 200.32 1671.19 L 201.05 1671.13 L 201.78 1671.21 L 202.15 1670.82 L 202.51 1671.1 L 203.25 1670.96 L 203.61 1671.15 L 203.98 1670.83 L 204.34 1671.17 L 205.07 1671.3 L 205.44 1671.19 L 205.8 1671.29 L 206.17 1671 L 206.53 1671.02 L 206.9 1671.31 L 207.26 1670.83 L 208 1671.04 L 208.36 1670.83 L 209.09 1671.23 L 209.46 1670.92 L 209.82 1670.82 L 210.19 1671.29 L 210.55 1671.06 L 210.92 1671.21 L 211.28 1670.85 L 211.65 1671.28 L 212.02 1670.9 L 212.38 1671.22 L 212.75 1670.99 L 213.11 1670.96 L 213.48 1669.8 L 213.84 1669.31 L 214.21 1672.17 L 214.57 1670.16 L 214.94 1670.84 L 215.67 1669.47 L 216.03 1672.71 L 216.4 1669.72 L 216.77 1669.65 L 217.13 1671.07 L 217.5 1671.3 L 217.86 1671.21 L 218.23 1671 L 220.05 1670.89 L 220.42 1671.08 L 220.78 1670.93 L 221.15 1671.19 L 221.52 1670.87 L 221.88 1671.2 L 222.25 1670.8 L 222.61 1671.32 L 222.98 1670.91 L 223.34 1671.06 L 223.71 1670.9 L 224.07 1671.05 L 224.44 1670.89 L 225.17 1670.99 L 225.54 1670.83 L 225.9 1671.26 L 226.27 1670.84 L 226.63 1671.05 L 227 1670.95 L 227.36 1670.97 L 227.73 1670.49 L 228.09 1671.45 L 228.46 1670.9 L 228.82 1672.48 L 229.19 1670.1 L 229.55 1670.86 L 229.92 1670.77 L 230.29 1670.24 L 230.65 1672.63 L 231.02 1672.85 L 231.38 1670.91 L 231.75 1670.93 L 232.48 1671.27 L 232.84 1670.88 L 233.94 1670.9 L 234.3 1671.19 L 234.67 1671 L 235.4 1671.12 L 235.77 1671.11 L 236.5 1670.8 L 236.86 1671.08 L 237.23 1671.13 L 237.59 1671 L 237.96 1670.99 L 238.32 1671.11 L 238.69 1670.99 L 239.42 1670.93 L 239.79 1671.24 L 240.15 1670.98 L 240.52 1671.11 L 240.88 1670.86 L 241.25 1671 L 241.98 1670.9 L 242.34 1671.21 L 242.71 1671.28 L 243.07 1670.93 L 243.44 1671.3 L 243.81 1670.83 L 244.54 1671.1 L 244.9 1670.97 L 245.27 1672.56 L 245.63 1672.72 L 246 1669.87 L 246.36 1672.51 L 247.09 1670.44 L 247.46 1672.02 L 247.82 1669.44 L 248.19 1669.43 L 248.56 1671.49 L 248.92 1670.81 L 249.29 1671.31 L 249.65 1670.98 L 250.02 1671.06 L 250.38 1670.86 L 250.75 1671.32 L 251.48 1671.07 L 251.84 1671.29 L 252.21 1670.99 L 252.94 1670.85 L 253.31 1671.25 L 254.04 1670.81 L 254.4 1671.29 L 254.77 1670.96 L 255.13 1671.18 L 255.5 1670.85 L 255.86 1671.01 L 256.23 1670.85 L 256.59 1671.3 L 256.96 1671.01 L 257.69 1671.27 L 258.42 1670.94 L 259.52 1671.18 L 259.88 1671.06 L 260.25 1671.09 L 260.61 1670.85 L 260.98 1670.86 L 261.34 1671.1 L 261.71 1671.06 L 262.08 1671.17 L 262.44 1671.03 L 262.81 1671.26 L 263.17 1670.72 L 263.9 1669.16 L 265 1672.86 L 265.36 1670.5 L 266.1 1670.3 L 266.46 1671.66 L 266.83 1671.24 L 267.19 1671.12 L 267.56 1671.13 L 267.92 1670.86 L 268.29 1671.04 L 268.65 1670.84 L 269.38 1670.87 L 269.75 1671.11 L 270.48 1671.04 L 271.58 1670.9 L 271.94 1671.16 L 272.31 1670.94 L 272.67 1671.13 L 273.04 1670.92 L 273.4 1671.32 L 273.77 1670.88 L 274.13 1670.96 L 274.5 1671.25 L 275.6 1671.06 L 275.96 1670.85 L 276.33 1670.82 L 277.06 1671.27 L 277.42 1670.81 L 277.79 1670.82 L 278.15 1671.28 L 278.52 1670.98 L 279.62 1670.94 L 279.98 1671.32 L 280.35 1671.16 L 280.71 1669.64 L 281.44 1671.53 L 281.81 1672.07 L 282.17 1672.91 L 282.54 1670.23 L 282.9 1671.79 L 283.27 1669.67 L 283.63 1671.76 L 284 1671.83 L 284.37 1670.91 L 284.73 1671.27 L 285.1 1670.92 L 285.46 1670.98 L 285.83 1671.24 L 286.56 1671.12 L 287.29 1670.97 L 287.65 1671.32 L 288.02 1671.24 L 288.38 1670.96 L 288.75 1671.28 L 289.12 1670.88 L 289.85 1671.31 L 290.21 1670.92 L 290.58 1671.2 L 290.94 1670.8 L 292.04 1670.86 L 292.4 1671.29 L 292.77 1671.31 L 293.14 1671.11 L 294.23 1671.01 L 294.96 1670.91 L 295.33 1670.84 L 295.69 1670.97 L 296.06 1670.86 L 296.42 1671.28 L 296.79 1671.31 L 297.52 1670.86 L 298.25 1671.27 L 298.62 1671.26 L 298.98 1669.94 L 299.35 1671.54 L 299.71 1669.15 L 300.08 1670.8 L 300.44 1669.34 L 300.81 1672.55 L 301.17 1672.85 L 301.54 1672.98 L 301.9 1669.58 L 302.27 1671.15 L 302.64 1671.32 L 303 1670.84 L 303.37 1671.22 L 303.73 1670.99 L 304.1 1671.18 L 304.46 1671.04 L 304.83 1671.1 L 305.19 1670.95 L 305.56 1671.22 L 305.92 1671.17 L 306.29 1671.25 L 306.66 1671.15 L 307.02 1670.89 L 307.39 1670.82 L 307.75 1671.32 L 308.12 1670.88 L 308.48 1670.14 L 308.85 1670.96 L 309.21 1669.22 L 309.58 1669.84 L 310.31 1672.32 L 310.67 1671.52 L 311.04 1671.49 L 311.41 1671.61 L 311.77 1670.22 L 312.14 1671.01 L 312.87 1671.29 L 313.23 1670.9 L 313.96 1670.82 L 314.33 1670.99 L 314.69 1671.02 L 315.06 1671.22 L 315.42 1670.82 L 315.79 1669.74 L 316.16 1669.76 L 316.52 1672.26 L 316.89 1672.37 L 317.25 1670.39 L 317.98 1669.94 L 318.35 1669.47 L 318.71 1671.71 L 319.08 1672.77 L 319.44 1671.3 L 319.81 1671.16 L 320.18 1670.87 L 321.27 1671.32 L 321.64 1671.1 L 322 1671.26 L 322.37 1671.12 L 322.73 1671.12 L 323.1 1671.58 L 323.46 1671.76 L 323.83 1672.6 L 324.19 1670.36 L 324.56 1671.02 L 324.93 1670.58 L 325.29 1669.61 L 325.66 1670.76 L 326.02 1669.54 L 326.39 1669.83 L 326.75 1670.89 L 327.12 1670.96 L 327.48 1671.19 L 328.21 1671.27 L 328.94 1670.96 L 329.31 1671.17 L 329.68 1670.82 L 330.04 1671.32 L 330.41 1670.91 L 330.77 1671.24 L 331.14 1670.8 L 331.5 1671.27 L 331.87 1670.84 L 332.23 1671.11 L 333.33 1671.21 L 333.7 1671.12 L 334.06 1670.83 L 334.43 1670.82 L 334.79 1671.28 L 335.16 1671.03 L 335.52 1671.31 L 335.89 1671.27 L 336.25 1671 L 336.62 1671.05 L 336.98 1670.85 L 337.35 1670.85 L 337.71 1671.24 L 338.08 1670.99 L 338.81 1670.92 L 339.54 1671.06 L 339.91 1671.03 L 340.27 1671.11 L 341 1670.86 L 341.37 1671.14 L 342.1 1671.1 L 342.46 1670.87 L 342.83 1671.2 L 343.56 1670.93 L 343.93 1671.12 L 344.29 1670.88 L 345.02 1671.27 L 345.39 1671.13 L 345.75 1671.25 L 346.12 1671.09 L 346.85 1671.15 L 347.22 1670.89 L 347.95 1670.93 L 349.04 1670.84 L 349.41 1671.23 L 349.77 1670.85 L 350.14 1671.24 L 350.5 1671.18 L 350.87 1670.91 L 351.23 1671.25 L 351.6 1670.82 L 351.97 1670.84 L 352.33 1671.33 L 352.7 1670.99 L 353.06 1670.84 L 353.43 1671.04 L 355.25 1670.97 L 355.62 1670.82 L 355.98 1671.28 L 356.35 1671.2 L 356.72 1671.32 L 357.45 1671.22 L 357.81 1670.85 L 358.18 1671.16 L 358.54 1671.01 L 358.91 1671.16 L 359.27 1670.81 L 359.64 1671.22 L 360 1671.12 L 360.74 1671.21 L 361.1 1671.29 L 361.47 1671.76 L 361.83 1669.54 L 362.2 1669.86 L 362.56 1670.54 L 362.93 1670.14 L 363.29 1670.61 L 363.66 1671.67 L 364.02 1670.86 L 364.39 1671.87 L 364.75 1672.33 L 365.12 1671.57 L 365.49 1670.09 L 365.85 1672.2 L 366.22 1672.5 L 366.58 1671.9 L 366.95 1670.17 L 367.31 1669.86 L 367.68 1671.78 L 368.04 1669.61 L 368.41 1671.13 L 368.77 1670.47 L 369.14 1670.53 L 369.5 1671.24 L 369.87 1669.99 L 370.24 1669.81 L 370.6 1671.15 L 370.97 1671.69 L 371.33 1669.69 L 371.7 1670.43 L 372.06 1671.49 L 372.43 1672.12 L 372.79 1671.39 L 373.16 1671.24 L 373.52 1670.07 L 373.89 1670.43 L 374.25 1671.03 L 374.62 1669.78 L 374.99 1670.79 L 375.35 1669.92 L 375.72 1672.44 L 376.08 1672.39 L 376.45 1669.93 L 376.81 1670.32 L 377.18 1671.82 L 377.18 1671.82" clip-path="url(#pb8f7d3a309)" style="fill: none; stroke: #1f77b4; stroke-width: 2.25; stroke-linecap: round"/></g><g id="line2d_563"><path d="M 377.178 1671.822 L 377.491 1546.284" clip-path="url(#pb8f7d3a309)" style="fill: none; stroke-dasharray: 5.55,2.4; stroke-dashoffset: 0; stroke: #1f77b4; stroke-width: 1.5"/></g><g id="line2d_564"><path d="M 377.491 1546.284 L 377.7 1672.259" clip-path="url(#pb8f7d3a309)" style="fill: none; stroke-dasharray: 5.55,2.4; stroke-dashoffset: 0; stroke: #1f77b4; stroke-width: 1.5"/></g><g id="line2d_565"><path d="M 377.54 1672.26 L 377.91 1672.41 L 378.27 1676.96 L 378.64 1680.04 L 379.01 1679.83 L 379.37 1675.08 L 379.74 1671.34 L 380.1 1672.06 L 380.47 1671.88 L 380.83 1670.29 L 381.2 1669.94 L 381.56 1669.67 L 381.93 1672.5 L 382.29 1671.6 L 382.66 1670.71 L 383.02 1671.59 L 383.39 1670.3 L 383.76 1671.93 L 384.12 1670.73 L 384.49 1672.13 L 384.85 1672.16 L 385.22 1670.12 L 385.58 1670.66 L 385.95 1670.85 L 386.31 1671.45 L 386.68 1670.52 L 387.04 1669.64 L 387.41 1671.46 L 387.77 1672.49 L 388.14 1671.83 L 388.51 1670.18 L 388.87 1671.7 L 389.24 1670.26 L 389.6 1672 L 389.97 1670.76 L 390.33 1672.41 L 390.7 1671.88 L 391.06 1672.38 L 391.43 1671.69 L 391.79 1671.23 L 392.16 1671.35 L 392.53 1672.2" clip-path="url(#pb8f7d3a309)" style="fill: none; stroke: #1f77b4; stroke-width: 2.25; stroke-linecap: round"/></g><g id="line2d_566"><path d="M 392.525 1672.202 L 392.891 1547.598" clip-path="url(#pb8f7d3a309)" style="fill: none; stroke-dasharray: 5.55,2.4; stroke-dashoffset: 0; stroke: #1f77b4; stroke-width: 1.5"/></g><g id="line2d_567"><path d="M 392.891 1547.598 L 393.099 1673.442" clip-path="url(#pb8f7d3a309)" style="fill: none; stroke-dasharray: 5.55,2.4; stroke-dashoffset: 0; stroke: #1f77b4; stroke-width: 1.5"/></g><g id="line2d_568"><path d="M 392.89 1673.44 L 393.26 1670.95 L 393.62 1677.06 L 393.99 1680.97 L 394.35 1679.88 L 394.72 1675.02 L 395.08 1672.2 L 395.45 1673.2 L 395.81 1670.52 L 396.18 1673.41 L 396.54 1673.44 L 396.91 1671.24 L 397.28 1670.66 L 397.64 1671.54 L 398.01 1670.8 L 398.37 1671.52 L 398.74 1673.29 L 399.1 1671.61 L 399.47 1671.14 L 399.83 1672 L 400.2 1671.32 L 400.56 1672.08 L 400.93 1673.23 L 401.29 1670.84 L 401.66 1672.91 L 402.03 1672.91 L 402.39 1673.15 L 402.76 1672.47 L 403.12 1672.29 L 403.49 1672.93 L 403.85 1673.04 L 404.22 1672.14 L 404.58 1673.52 L 404.95 1672.01 L 405.31 1673.22 L 405.68 1673.14 L 406.05 1673.18 L 406.41 1670.89 L 406.78 1670.99 L 407.14 1670.45 L 407.51 1671.02 L 407.87 1671.96 L 408.24 1672.32 L 408.6 1671.71" clip-path="url(#pb8f7d3a309)" style="fill: none; stroke: #1f77b4; stroke-width: 2.25; stroke-linecap: round"/></g><g id="line2d_569"><path d="M 408.603 1671.715 L 408.864 1531.179" clip-path="url(#pb8f7d3a309)" style="fill: none; stroke-dasharray: 5.55,2.4; stroke-dashoffset: 0; stroke: #1f77b4; stroke-width: 1.5"/></g><g id="line2d_570"><path d="M 408.864 1531.179 L 409.073 1671.572" clip-path="url(#pb8f7d3a309)" style="fill: none; stroke-dasharray: 5.55,2.4; stroke-dashoffset: 0; stroke: #1f77b4; stroke-width: 1.5"/></g><g id="line2d_571"><path d="M 408.97 1671.57 L 409.33 1670.44 L 409.7 1682.98 L 410.06 1688.23 L 410.43 1684.42 L 410.8 1676.21 L 411.16 1672.41 L 411.53 1671.62 L 411.89 1670.42 L 412.26 1672.25 L 412.62 1671.11 L 412.99 1673.31 L 413.35 1672.81 L 413.72 1671.97 L 414.08 1671.24 L 414.45 1672.99 L 414.81 1670.98 L 415.18 1671.75 L 415.55 1673.13 L 415.91 1673.44 L 416.28 1672.3 L 416.64 1670.97 L 417.01 1670.48 L 417.37 1671.16 L 417.74 1672.85 L 418.1 1670.73 L 418.47 1673.07 L 418.83 1672.31 L 419.2 1671.45 L 419.57 1672.49 L 419.93 1672.52 L 420.3 1672.19 L 420.66 1670.71 L 421.03 1672.08 L 421.39 1673.28 L 421.76 1672.44 L 422.12 1671.71 L 422.49 1671.85 L 422.85 1670.54 L 423.22 1671.96 L 423.58 1671.07 L 423.95 1671.19 L 424.32 1672.09 L 424.68 1672.24 L 425.05 1672.11 L 425.41 1673.18 L 425.78 1673.29 L 426.14 1673.2 L 426.51 1673.15 L 426.87 1673.3 L 427.24 1672.31 L 427.6 1673.09 L 427.97 1670.48 L 428.33 1672.28 L 428.7 1673.54 L 429.07 1671.48 L 429.43 1671.3 L 429.8 1670.57 L 430.16 1672.79 L 430.53 1672.56 L 430.89 1671.2 L 431.26 1671.59 L 431.62 1671.59 L 431.99 1670.61 L 432.35 1670.42 L 432.72 1673.53 L 433.09 1672.34 L 433.45 1670.58 L 433.82 1673.5 L 434.18 1672.49 L 434.55 1671.15" clip-path="url(#pb8f7d3a309)" style="fill: none; stroke: #1f77b4; stroke-width: 2.25; stroke-linecap: round"/></g><g id="line2d_572"><path d="M 434.547 1671.149 L 434.756 1531.836" clip-path="url(#pb8f7d3a309)" style="fill: none; stroke-dasharray: 5.55,2.4; stroke-dashoffset: 0; stroke: #1f77b4; stroke-width: 1.5"/></g><g id="line2d_573"><path d="M 434.756 1531.836 L 434.964 1673.322" clip-path="url(#pb8f7d3a309)" style="fill: none; stroke-dasharray: 5.55,2.4; stroke-dashoffset: 0; stroke: #1f77b4; stroke-width: 1.5"/></g><g id="line2d_574"><path d="M 434.91 1673.32 L 435.28 1671.71 L 435.64 1679.93 L 436.01 1684.21 L 436.37 1681.37 L 436.74 1675.4 L 437.1 1672.27 L 437.47 1673.52 L 437.84 1671.48 L 438.2 1672.71 L 438.57 1672.48 L 438.93 1671.09 L 439.3 1671.24 L 439.66 1671.04 L 440.03 1672.96 L 440.39 1672.48 L 440.76 1671.55 L 441.12 1671.98 L 441.49 1671.02 L 441.85 1672.26 L 442.22 1670.69 L 442.59 1672.86 L 442.95 1671.5 L 443.32 1671.04 L 443.68 1670.44 L 444.05 1672.37 L 444.41 1670.77 L 444.78 1671.66 L 445.14 1671.54 L 445.51 1672.75 L 445.87 1670.79 L 446.24 1673.35 L 446.61 1670.43 L 446.97 1671.77 L 447.34 1671.72 L 447.7 1673.01 L 448.07 1671.43 L 448.43 1673.07 L 448.8 1670.93 L 449.16 1671.2 L 449.53 1673.03 L 449.89 1671.07 L 450.26 1671.56 L 450.62 1672.62 L 450.99 1671.47 L 451.36 1671.37 L 451.72 1671.98 L 452.09 1671.37 L 452.45 1671.06 L 452.82 1670.75 L 453.18 1670.94 L 453.55 1673.22 L 453.91 1670.84 L 454.28 1670.56 L 454.64 1672.04 L 455.01 1670.7 L 455.37 1672.85 L 455.74 1673.43 L 456.11 1672.15 L 456.47 1673.18 L 456.84 1673.15 L 457.2 1672.16 L 457.57 1670.49 L 457.93 1671.92" clip-path="url(#pb8f7d3a309)" style="fill: none; stroke: #1f77b4; stroke-width: 2.25; stroke-linecap: round"/></g><g id="line2d_575"><path d="M 457.933 1671.919 L 458.246 1541.03" clip-path="url(#pb8f7d3a309)" style="fill: none; stroke-dasharray: 5.55,2.4; stroke-dashoffset: 0; stroke: #1f77b4; stroke-width: 1.5"/></g><g id="line2d_576"><path d="M 458.246 1541.03 L 458.455 1670.444" clip-path="url(#pb8f7d3a309)" style="fill: none; stroke-dasharray: 5.55,2.4; stroke-dashoffset: 0; stroke: #1f77b4; stroke-width: 1.5"/></g><g id="line2d_577"><path d="M 458.3 1670.44 L 458.66 1671.95 L 459.03 1677.72 L 459.39 1682.75 L 459.76 1681.23 L 460.13 1674.89 L 460.49 1672.11 L 460.86 1671.78 L 461.22 1670.75 L 461.59 1671.51 L 461.95 1672.67 L 462.32 1670.83 L 462.68 1671.26 L 463.05 1673.31 L 463.41 1670.94 L 463.78 1672.41 L 464.14 1670.89 L 464.51 1670.95 L 464.88 1670.7 L 465.24 1673.2 L 465.61 1671.24 L 465.97 1672.57 L 466.34 1670.85 L 466.7 1673.2 L 467.07 1670.8 L 467.43 1670.49 L 467.8 1671.93 L 468.16 1671.83 L 468.53 1671.63 L 468.89 1670.73 L 469.26 1673.28 L 469.63 1670.87 L 469.99 1672.46 L 470.36 1672.28 L 470.72 1670.81 L 471.09 1673.17 L 471.45 1673.11 L 471.82 1671.41 L 472.18 1671.26 L 472.55 1672.85 L 472.91 1671.37 L 473.28 1672.43 L 473.65 1673.47 L 474.01 1672.73 L 474.38 1673.05 L 474.74 1672.14 L 475.11 1672.13 L 475.47 1672.35 L 475.84 1670.69 L 476.2 1672.34 L 476.57 1672.96 L 476.93 1670.57 L 477.3 1671.54 L 477.66 1670.56 L 478.03 1672.14 L 478.4 1671.65 L 478.76 1672.52 L 479.13 1670.52" clip-path="url(#pb8f7d3a309)" style="fill: none; stroke: #1f77b4; stroke-width: 2.25; stroke-linecap: round"/></g><g id="line2d_578"><path d="M 479.126 1670.523 L 479.178 1534.463" clip-path="url(#pb8f7d3a309)" style="fill: none; stroke-dasharray: 5.55,2.4; stroke-dashoffset: 0; stroke: #1f77b4; stroke-width: 1.5"/></g><g id="line2d_579"><path d="M 479.178 1534.463 L 479.387 1672.688" clip-path="url(#pb8f7d3a309)" style="fill: none; stroke-dasharray: 5.55,2.4; stroke-dashoffset: 0; stroke: #1f77b4; stroke-width: 1.5"/></g><g id="line2d_580"><path d="M 479.49 1672.69 L 479.86 1676.34 L 480.22 1683.17 L 480.59 1683.07 L 480.95 1677.65 L 481.32 1672.8 L 481.68 1672.91 L 482.05 1670.41 L 482.41 1671.99 L 482.78 1673.32 L 483.15 1671.41 L 483.51 1673.31 L 483.88 1671.52 L 484.24 1671.3 L 484.61 1672.92 L 484.97 1673.19 L 485.34 1673.13 L 485.7 1671.49 L 486.07 1671.2 L 486.43 1670.66 L 486.8 1672.53 L 487.17 1673.25 L 487.53 1671.57 L 487.9 1670.92 L 488.26 1671.27 L 488.63 1672.01 L 488.99 1672.71 L 489.36 1671.26 L 489.72 1670.86 L 490.09 1672.87 L 490.45 1671.32 L 490.82 1671.13 L 491.18 1670.42 L 491.55 1672.37 L 491.92 1672.32 L 492.28 1673.42 L 492.65 1673.05 L 493.01 1671.21 L 493.38 1672.7 L 493.74 1670.68 L 494.11 1672.55 L 494.47 1671.05 L 494.84 1672.42 L 495.2 1671.17 L 495.57 1672.18 L 495.93 1672.89 L 496.3 1672.91 L 496.67 1672.66 L 497.03 1673.18 L 497.4 1670.82 L 497.76 1670.65 L 498.13 1671.05 L 498.49 1673.54 L 498.86 1670.78 L 499.22 1671.05 L 499.59 1670.9 L 499.95 1671.57" clip-path="url(#pb8f7d3a309)" style="fill: none; stroke: #1f77b4; stroke-width: 2.25; stroke-linecap: round"/></g><g id="line2d_581"><path d="M 499.954 1671.569 L 500.006 1529.209" clip-path="url(#pb8f7d3a309)" style="fill: none; stroke-dasharray: 5.55,2.4; stroke-dashoffset: 0; stroke: #1f77b4; stroke-width: 1.5"/></g><g id="line2d_582"><path d="M 500.006 1529.209 L 500.215 1672.903" clip-path="url(#pb8f7d3a309)" style="fill: none; stroke-dasharray: 5.55,2.4; stroke-dashoffset: 0; stroke: #1f77b4; stroke-width: 1.5"/></g><g id="line2d_583"><path d="M 500.32 1672.9 L 500.69 1676.94 L 501.05 1682.28 L 501.42 1683.12 L 501.78 1678.17 L 502.15 1672.4 L 502.51 1672.33 L 502.88 1671.64 L 503.24 1673.22 L 503.61 1670.86 L 503.97 1671.19 L 504.34 1673.43 L 504.7 1672.92 L 505.07 1671.21 L 505.44 1673.38 L 505.8 1673.48 L 506.17 1673.18 L 506.53 1673.11 L 506.9 1671.12 L 507.26 1671.09 L 507.63 1671.76 L 507.99 1672.6 L 508.36 1671.09 L 508.72 1671.56 L 509.09 1673.37 L 509.45 1672.96 L 509.82 1671.37 L 510.19 1671.77 L 510.55 1672.32 L 510.92 1671.89 L 511.28 1672.79 L 511.65 1671.71 L 512.01 1673.12 L 512.38 1670.45 L 512.74 1670.96 L 513.11 1671.99 L 513.47 1670.48 L 513.84 1671.42 L 514.21 1671.73 L 514.57 1671.52 L 514.94 1671.35 L 515.3 1670.44 L 515.67 1671.09 L 516.03 1672.81 L 516.4 1673.37 L 516.76 1670.66 L 517.13 1671.23 L 517.49 1671.72 L 517.86 1672.02 L 518.22 1670.57 L 518.59 1673.43 L 518.96 1673.07 L 519.32 1672.56 L 519.69 1670.41 L 520.05 1671.37 L 520.42 1671.66 L 520.78 1672.48" clip-path="url(#pb8f7d3a309)" style="fill: none; stroke: #1f77b4; stroke-width: 2.25; stroke-linecap: round"/></g><g id="line2d_584"><path d="M 520.782 1672.478 L 520.834 1533.149" clip-path="url(#pb8f7d3a309)" style="fill: none; stroke-dasharray: 5.55,2.4; stroke-dashoffset: 0; stroke: #1f77b4; stroke-width: 1.5"/></g><g id="line2d_585"><path d="M 520.834 1533.149 L 521.043 1673.061" clip-path="url(#pb8f7d3a309)" style="fill: none; stroke-dasharray: 5.55,2.4; stroke-dashoffset: 0; stroke: #1f77b4; stroke-width: 1.5"/></g><g id="line2d_586"><path d="M 521.15 1673.06 L 521.51 1677.78 L 521.88 1683.49 L 522.24 1684.01 L 522.61 1677.87 L 522.97 1673.45 L 523.34 1671 L 523.71 1670.65 L 524.07 1671.81 L 524.44 1673.03 L 524.8 1672.56 L 525.17 1673.47 L 525.53 1671.47 L 525.9 1672.34 L 526.26 1670.64 L 526.63 1672.56 L 526.99 1670.87 L 527.36 1672.32 L 527.72 1671.5 L 528.09 1672.44 L 528.46 1671.01 L 528.82 1672.85 L 529.19 1673.05 L 529.55 1673.4 L 529.92 1672.36 L 530.28 1671.24 L 530.65 1672.1 L 531.01 1670.9 L 531.38 1671.71 L 531.74 1671.88 L 532.11 1671.99 L 532.48 1673.43 L 532.84 1671.7 L 533.21 1672.96 L 533.57 1673.3 L 533.94 1673.24 L 534.3 1673.04 L 534.67 1671.6 L 535.03 1672.66 L 535.4 1672.63 L 535.76 1672.26 L 536.13 1670.54 L 536.49 1672.75 L 536.86 1672.61 L 537.23 1672.77 L 537.59 1672.57 L 537.96 1672.62 L 538.32 1670.94 L 538.69 1670.47 L 539.05 1672.32 L 539.42 1670.82 L 539.78 1673.22 L 540.15 1672.04 L 540.51 1670.97 L 540.88 1673.27 L 541.24 1670.41 L 541.61 1672.3 L 541.98 1671.98 L 542.34 1670.58 L 542.71 1670.66 L 543.07 1672.9 L 543.44 1672.12 L 543.8 1671.24 L 544.17 1672.11" clip-path="url(#pb8f7d3a309)" style="fill: none; stroke: #1f77b4; stroke-width: 2.25; stroke-linecap: round"/></g><g id="line2d_587"><path d="M 544.168 1672.108 L 544.377 1534.463" clip-path="url(#pb8f7d3a309)" style="fill: none; stroke-dasharray: 5.55,2.4; stroke-dashoffset: 0; stroke: #1f77b4; stroke-width: 1.5"/></g><g id="line2d_588"><path d="M 544.377 1534.463 L 544.586 1670.596" clip-path="url(#pb8f7d3a309)" style="fill: none; stroke-dasharray: 5.55,2.4; stroke-dashoffset: 0; stroke: #1f77b4; stroke-width: 1.5"/></g><g id="line2d_589"><path d="M 544.53 1670.6 L 544.9 1672.93 L 545.26 1683.86 L 545.63 1689.72 L 546 1684.43 L 546.36 1675.95 L 546.73 1672.75 L 547.09 1672.16 L 547.46 1672.87 L 547.82 1671.02 L 548.19 1672.51 L 548.55 1673.11 L 548.92 1670.75 L 549.28 1672.47 L 549.65 1670.56 L 550.01 1672.15 L 550.75 1671.08 L 551.11 1671.93 L 551.48 1670.58 L 551.84 1671.01 L 552.21 1670.75 L 552.94 1673.15 L 553.3 1673.01 L 553.67 1673.1 L 554.4 1670.56 L 554.76 1671.82 L 555.13 1672.2 L 555.5 1673.2 L 555.86 1672.38 L 556.23 1672.98 L 556.59 1672.12 L 556.96 1672.11 L 557.32 1670.61 L 557.69 1672.31 L 558.05 1670.77 L 558.42 1673.43 L 559.15 1671.28 L 559.52 1672.15 L 559.88 1673.31 L 560.98 1670.55 L 561.34 1672.81 L 561.71 1673.28 L 562.07 1671.17 L 562.44 1671.62 L 562.8 1672.46 L 563.17 1672.33 L 563.53 1672.52 L 563.9 1671.47 L 564.27 1670.83 L 564.63 1672.61 L 565 1670.69 L 565.36 1672.24 L 565.73 1672.01 L 566.46 1673.28 L 566.82 1672.92 L 567.19 1672.77 L 567.55 1672.18 L 567.92 1672 L 568.28 1670.9 L 568.65 1672.42 L 569.02 1671.14 L 569.38 1672.76 L 569.75 1672.05 L 570.11 1673.32 L 570.48 1670.75 L 570.84 1672.45 L 571.21 1671.54 L 571.94 1672.02 L 572.3 1672.8 L 572.67 1670.96 L 573.4 1673.14 L 573.77 1673.24 L 574.13 1671.97 L 574.5 1671.78 L 574.86 1672.69 L 575.23 1672.82 L 575.59 1670.94 L 575.96 1671.4 L 576.32 1673.11 L 576.69 1671.01 L 577.05 1673.38 L 577.42 1670.9 L 577.79 1670.92 L 578.15 1672.25 L 578.52 1669.51 L 578.88 1669.8 L 579.25 1672.08 L 579.61 1670.58 L 579.98 1671.17 L 580.34 1672.18 L 580.71 1671.99 L 581.07 1671.99 L 581.44 1670.52 L 581.8 1670.84 L 582.17 1669.58 L 582.54 1671.67 L 582.9 1671.12 L 583.27 1671.47 L 583.63 1671.43 L 584.36 1670.16 L 584.73 1670.48 L 585.09 1672.28 L 585.46 1671.77 L 585.82 1670.66 L 586.56 1669.9 L 586.92 1671.5 L 587.29 1671.19 L 587.65 1672.49 L 588.02 1671 L 588.38 1671.68 L 588.75 1670.98 L 589.11 1670.75 L 589.48 1672.1 L 589.84 1672.4 L 590.21 1670.39 L 590.57 1670.36 L 590.94 1669.53 L 591.31 1670.84 L 591.67 1670.92 L 592.04 1671.16 L 592.4 1670.83 L 593.13 1671.17 L 593.5 1670.95 L 593.86 1670.59 L 594.23 1671.18 L 594.59 1671.51 L 594.96 1670.15 L 595.32 1670.66 L 595.69 1671.58 L 596.06 1670.46 L 596.42 1670.92 L 596.79 1672.59 L 597.15 1670.81 L 597.52 1671.26 L 597.88 1671.04 L 598.25 1671.1 L 598.61 1670.1 L 598.98 1671.08 L 599.34 1669.37 L 599.71 1669.49 L 600.08 1672.58 L 600.44 1671.98 L 600.81 1670.29 L 601.17 1672.24 L 601.54 1669.79 L 602.27 1670.83 L 602.63 1670.89 L 603 1671.22 L 603.36 1671.01 L 603.73 1671.32 L 604.09 1670.85 L 604.46 1670.83 L 604.83 1671.21 L 605.56 1671.17 L 605.92 1671.23 L 606.29 1670.97 L 607.02 1671.32 L 607.38 1671.21 L 607.75 1670.98 L 608.11 1670.96 L 608.48 1671.32 L 608.84 1671.04 L 609.21 1670.99 L 609.58 1669.29 L 609.94 1671.65 L 610.31 1670.32 L 610.67 1670.66 L 611.04 1670.35 L 611.4 1669.3 L 611.77 1671.64 L 612.13 1672.12 L 612.5 1669.86 L 612.86 1672.44 L 613.23 1671.13 L 614.33 1670.95 L 614.69 1671.17 L 615.06 1670.97 L 615.42 1671.2 L 615.79 1670.91 L 616.15 1671.2 L 616.88 1671.31 L 617.25 1671.01 L 617.61 1671.16 L 617.98 1671.02 L 618.35 1671.16 L 618.71 1671.09 L 619.08 1670.87 L 619.44 1670.84 L 619.81 1671.3 L 620.17 1670.83 L 620.54 1671.06 L 621.27 1670.84 L 621.63 1671.23 L 622 1671.12 L 622.36 1670.86 L 622.73 1671.05 L 623.1 1670.85 L 623.46 1670.89 L 623.83 1670.8 L 624.19 1670.98 L 624.56 1671.29 L 624.92 1670.86 L 625.29 1669.38 L 625.65 1669.7 L 626.02 1670.31 L 626.38 1672.98 L 626.75 1669.17 L 627.12 1671.25 L 627.48 1671.89 L 627.85 1672.77 L 628.21 1672.46 L 628.58 1670.99 L 628.94 1671.17 L 629.31 1671.07 L 629.67 1670.85 L 630.04 1671.26 L 630.4 1671.04 L 630.77 1672.85 L 631.13 1670.83 L 631.5 1671.53 L 631.87 1671.87 L 632.23 1669.81 L 632.6 1672.72 L 633.33 1669.87 L 633.69 1669.76 L 634.06 1670.24 L 634.42 1671.11 L 634.79 1670.86 L 635.15 1671.02 L 635.88 1670.88 L 636.25 1671.28 L 636.98 1670.97 L 637.35 1672.41 L 637.71 1671.48 L 638.08 1670.16 L 638.44 1669.96 L 638.81 1670.63 L 639.17 1669.49 L 639.54 1670.81 L 639.9 1669.69 L 640.27 1669.47 L 640.64 1670.9 L 641.73 1671.03 L 642.1 1670.84 L 642.46 1672.37 L 642.83 1672.46 L 643.19 1669.14 L 643.56 1671.87 L 643.92 1671.27 L 644.29 1671.36 L 644.65 1669.69 L 645.02 1672.98 L 645.39 1671.1 L 646.12 1671.22 L 646.48 1671.01 L 646.85 1671.04 L 647.21 1670.85 L 647.58 1671.12 L 648.31 1671.16 L 648.67 1671.06 L 649.04 1670.81 L 649.4 1670.96 L 649.77 1672.64 L 650.5 1669.59 L 650.87 1672.83 L 651.23 1672.05 L 651.6 1670.64 L 651.96 1670.89 L 652.33 1670.04 L 652.69 1671.68 L 653.06 1672.55 L 653.42 1670.89 L 653.79 1671.32 L 654.16 1670.98 L 654.52 1671.25 L 654.89 1670.99 L 655.25 1671.01 L 655.62 1671.57 L 655.98 1669.76 L 656.35 1671.32 L 656.71 1671.47 L 657.08 1669.95 L 657.44 1670.73 L 657.81 1672.49 L 658.17 1671.53 L 658.54 1669.45 L 658.91 1672.92 L 659.27 1671.14 L 659.64 1670.83 L 660 1671.25 L 660.37 1670.98 L 661.1 1670.98 L 661.46 1670.91 L 661.83 1671.29 L 662.19 1670.94 L 662.56 1671.31 L 662.92 1670.03 L 663.29 1671.82 L 663.66 1670.08 L 664.02 1672.38 L 664.39 1670.45 L 664.75 1669.64 L 665.12 1672.77 L 665.48 1669.26 L 665.85 1672.61 L 666.21 1672.98 L 666.58 1670.9 L 666.94 1671.3 L 667.68 1670.89 L 668.41 1671.11 L 668.77 1670.83 L 669.14 1671.1 L 669.5 1671.16 L 669.87 1671.06 L 670.23 1669.79 L 670.6 1671.01 L 670.96 1672.89 L 671.33 1670.45 L 671.69 1671.03 L 672.06 1669.11 L 672.43 1669.19 L 672.79 1669.57 L 673.16 1670.97 L 673.52 1669.81 L 673.89 1671.13 L 674.25 1671.01 L 674.62 1671.18 L 676.08 1670.99 L 676.44 1671.2 L 676.81 1671.16 L 677.18 1670.13 L 677.54 1671.96 L 677.91 1670.09 L 678.27 1671.87 L 678.64 1671.38 L 679 1672.72 L 679.37 1672.49 L 680.1 1669.73 L 680.46 1669.9 L 680.83 1671.28 L 681.19 1671.13 L 681.56 1671.31 L 681.93 1671.01 L 682.29 1671.23 L 682.66 1670.83 L 683.02 1671.22 L 683.39 1670.82 L 683.75 1670.85 L 684.12 1671.05 L 684.48 1672.41 L 684.85 1670.9 L 685.21 1671.82 L 685.58 1672.23 L 685.95 1671.59 L 686.68 1669.39 L 687.04 1672.65 L 687.41 1671.88 L 687.77 1670.08 L 688.14 1671.21 L 688.87 1671.23 L 689.6 1671.3 L 689.96 1671.07 L 690.33 1671.5 L 690.7 1669.87 L 691.06 1672.96 L 691.43 1669.3 L 691.79 1671.96 L 692.16 1669.7 L 692.89 1669.73 L 693.25 1670.59 L 693.62 1671.01 L 693.98 1671 L 694.35 1671.23 L 694.71 1671.01 L 695.81 1670.88 L 696.18 1671.31 L 696.54 1670.93 L 696.91 1671.15 L 697.27 1670.92 L 697.64 1671.25 L 698 1670.48 L 698.37 1672.84 L 698.73 1671.35 L 699.1 1670.57 L 699.47 1671.96 L 699.83 1670.35 L 700.2 1670.86 L 700.56 1670.4 L 700.93 1669.66 L 701.29 1671.72 L 701.66 1671.16 L 702.02 1670.98 L 702.39 1671.3 L 702.75 1670.84 L 703.12 1671.27 L 703.48 1671.11 L 704.95 1671.05 L 705.31 1670.57 L 705.68 1672.84 L 706.04 1669.89 L 706.41 1669.82 L 706.77 1670.32 L 707.14 1670.31 L 707.5 1670.82 L 707.87 1671.75 L 708.23 1669.89 L 708.6 1672.51 L 708.97 1671.18 L 709.33 1671.12 L 709.7 1671.24 L 710.06 1671.15 L 710.43 1671.19 L 710.79 1671.11 L 711.52 1671.31 L 711.89 1670.85 L 712.99 1671.19 L 713.35 1670.83 L 713.72 1670.89 L 714.08 1670.74 L 714.45 1672.61 L 714.81 1670.1 L 715.18 1671.06 L 715.54 1670.54 L 715.91 1672.36 L 716.64 1670.43 L 717 1671.29 L 717.37 1670.18 L 717.74 1671.14 L 718.1 1671.18 L 719.2 1670.81 L 719.56 1671.16 L 719.93 1671.13 L 720.29 1671.28 L 720.66 1670.89 L 721.39 1671.2 L 721.75 1671.06 L 722.12 1671.07 L 722.49 1670.9 L 722.85 1671.2 L 723.22 1671.06 L 723.58 1671.09 L 723.95 1671.27 L 724.31 1671.25 L 724.68 1672.7 L 725.04 1671.62 L 725.41 1672.61 L 725.77 1670.12 L 726.14 1671.48 L 726.51 1670.09 L 726.87 1670.05 L 727.24 1672.88 L 727.6 1670.59 L 727.97 1669.86 L 728.33 1670.94 L 728.7 1670.97 L 729.06 1671.32 L 729.43 1670.87 L 729.79 1671.3 L 730.16 1671.07 L 730.52 1671.21 L 730.89 1671.01 L 731.26 1671.23 L 731.62 1671.01 L 731.99 1670.92 L 732.35 1671.01 L 732.72 1670.89 L 733.08 1671.13 L 733.45 1670.97 L 733.81 1669.43 L 734.18 1672.68 L 734.54 1672.67 L 735.27 1670.08 L 735.64 1672.59 L 736.01 1669.1 L 736.37 1670.23 L 736.74 1672.98 L 737.1 1670.1 L 737.47 1671.21 L 737.83 1671.29 L 738.2 1670.87 L 738.56 1671.02 L 738.93 1670.88 L 739.29 1670.91 L 739.66 1671.28 L 740.03 1671.27 L 740.39 1670.95 L 740.76 1670.88 L 741.12 1671.23 L 741.49 1670.86 L 741.85 1671.31 L 742.22 1670.92 L 743.68 1671.16 L 744.41 1671.06 L 744.78 1671.34 L 745.14 1672.34 L 745.51 1670.42 L 745.87 1670.22 L 746.24 1670.59 L 746.6 1672.04 L 746.97 1672.32 L 747.33 1672.8 L 747.7 1672.37 L 748.06 1671.61 L 749.16 1670.82 L 750.26 1671.11 L 750.62 1671.07 L 750.99 1670.85 L 751.35 1671.2 L 752.08 1670.94 L 752.45 1671.15 L 752.81 1671.08 L 753.18 1671.31 L 753.55 1670.97 L 753.91 1671.24 L 754.28 1671.7 L 754.64 1672.76 L 755.01 1669.71 L 755.37 1672.3 L 755.74 1672.72 L 756.1 1672.21 L 756.83 1670.57 L 757.2 1672.71 L 757.56 1672.44 L 757.93 1671.13 L 758.3 1671.22 L 759.03 1670.91 L 759.76 1671.24 L 760.12 1670.94 L 760.49 1670.82 L 761.22 1671.25 L 761.58 1670.94 L 761.95 1671.04 L 762.31 1670.9 L 762.68 1671.01 L 763.05 1670.87 L 763.41 1671.32 L 763.78 1670.98 L 764.14 1671.01 L 764.51 1670.92 L 764.87 1671.21 L 765.24 1672.93 L 765.6 1671.46 L 765.97 1669.1 L 766.33 1669.95 L 767.07 1669.43 L 767.43 1672.16 L 767.8 1670.48 L 768.16 1671.39 L 768.53 1671.6 L 768.89 1671.2 L 769.26 1671.25 L 769.62 1670.82 L 769.99 1671.21 L 770.35 1670.93 L 771.08 1670.94 L 771.45 1671.17 L 771.82 1671.21 L 772.55 1670.8 L 772.91 1671.12 L 773.28 1671.21 L 773.64 1671.06 L 774.01 1671.23 L 774.37 1671.14 L 774.74 1670.94 L 775.1 1671.2 L 775.47 1671.09 L 775.83 1670.04 L 776.2 1670.82 L 776.57 1670.58 L 776.93 1671.97 L 777.3 1669.33 L 777.66 1670.45 L 778.03 1670.55 L 778.76 1669.43 L 779.12 1672.34 L 779.49 1671.27 L 779.85 1671.05 L 780.95 1671.27 L 781.32 1671.02 L 781.68 1671.25 L 782.05 1671.32 L 782.41 1671.21 L 782.78 1670.9 L 783.87 1671.21 L 784.24 1671.08 L 784.6 1671.32 L 785.34 1671.07 L 785.7 1671.28 L 786.07 1671.02 L 786.43 1671.09 L 786.8 1671.99 L 787.16 1669.2 L 787.53 1670.38 L 787.89 1669.53 L 788.26 1671.73 L 788.62 1669.15 L 788.99 1671.33 L 789.35 1669.86 L 789.72 1669.44 L 790.09 1671 L 790.45 1671.18 L 790.82 1671.09 L 791.18 1670.81 L 791.55 1670.87 L 791.91 1671.1 L 792.64 1671.08 L 793.01 1671.25 L 793.37 1670.82 L 793.74 1671.21 L 794.47 1671.27 L 794.84 1670.83 L 795.2 1670.84 L 795.93 1671.05 L 796.3 1671.02 L 796.66 1671.13 L 797.03 1671.39 L 797.39 1671.07 L 797.76 1672.52 L 798.12 1672.75 L 798.49 1669.31 L 798.86 1670.46 L 799.22 1672.7 L 799.59 1670.71 L 799.95 1672.05 L 800.32 1669.72 L 800.68 1671.19 L 801.05 1671.22 L 801.41 1670.88 L 802.14 1671.33 L 802.51 1671.01 L 803.24 1670.84 L 803.97 1670.87 L 804.34 1671.23 L 805.07 1670.95 L 805.43 1670.99 L 806.16 1671.31 L 806.53 1670.86 L 807.26 1670.87 L 807.63 1671.62 L 807.99 1672.96 L 808.36 1670.41 L 808.72 1669.11 L 809.09 1670.13 L 809.45 1669.24 L 809.82 1672.63 L 810.18 1671.88 L 810.55 1669.98 L 810.91 1671.21 L 811.28 1670.87 L 811.64 1671.23 L 812.01 1671.02 L 812.38 1671.14 L 812.74 1671.04 L 813.11 1671.22 L 814.2 1671.02 L 814.57 1671.22 L 814.93 1671.01 L 815.3 1671.21 L 815.66 1670.81 L 816.03 1671.2 L 816.39 1671.27 L 817.86 1670.98 L 818.22 1671.27 L 819.32 1670.81 L 819.68 1670.86 L 820.05 1672.33 L 820.41 1671.68 L 820.78 1671.91 L 821.15 1670.26 L 821.51 1669.99 L 821.88 1670.13 L 822.24 1670.4 L 822.61 1670.09 L 822.97 1669.4 L 823.34 1671.99 L 823.7 1671.15 L 824.07 1670.85 L 824.43 1671.02 L 824.8 1670.82 L 825.16 1671.29 L 825.53 1670.84 L 825.9 1671.3 L 826.26 1670.93 L 826.63 1671.02 L 826.99 1671.26 L 828.09 1671.03 L 828.45 1671.07 L 828.45 1671.07" clip-path="url(#pb8f7d3a309)" style="fill: none; stroke: #1f77b4; stroke-width: 2.25; stroke-linecap: round"/></g><g id="line2d_590"><path d="M 376.56 1698.12 L 376.56 1521" clip-path="url(#pb8f7d3a309)" style="fill: none; stroke-dasharray: 5.55,2.4; stroke-dashoffset: 0; stroke: #ff0000; stroke-width: 1.5"/></g><g id="line2d_591"><path d="M 377.28 1698.12 L 377.28 1521" clip-path="url(#pb8f7d3a309)" style="fill: none; stroke-dasharray: 5.55,2.4; stroke-dashoffset: 0; stroke: #ff0000; stroke-width: 1.5"/></g><g id="line2d_592"><path d="M 392.4 1698.12 L 392.4 1521" clip-path="url(#pb8f7d3a309)" style="fill: none; stroke-dasharray: 5.55,2.4; stroke-dashoffset: 0; stroke: #ff0000; stroke-width: 1.5"/></g><g id="line2d_593"><path d="M 408.24 1698.12 L 408.24 1521" clip-path="url(#pb8f7d3a309)" style="fill: none; stroke-dasharray: 5.55,2.4; stroke-dashoffset: 0; stroke: #ff0000; stroke-width: 1.5"/></g><g id="line2d_594"><path d="M 434.16 1698.12 L 434.16 1521" clip-path="url(#pb8f7d3a309)" style="fill: none; stroke-dasharray: 5.55,2.4; stroke-dashoffset: 0; stroke: #ff0000; stroke-width: 1.5"/></g><g id="line2d_595"><path d="M 457.2 1698.12 L 457.2 1521" clip-path="url(#pb8f7d3a309)" style="fill: none; stroke-dasharray: 5.55,2.4; stroke-dashoffset: 0; stroke: #ff0000; stroke-width: 1.5"/></g><g id="line2d_596"><path d="M 457.92 1698.12 L 457.92 1521" clip-path="url(#pb8f7d3a309)" style="fill: none; stroke-dasharray: 5.55,2.4; stroke-dashoffset: 0; stroke: #ff0000; stroke-width: 1.5"/></g><g id="line2d_597"><path d="M 478.08 1698.12 L 478.08 1521" clip-path="url(#pb8f7d3a309)" style="fill: none; stroke-dasharray: 5.55,2.4; stroke-dashoffset: 0; stroke: #ff0000; stroke-width: 1.5"/></g><g id="line2d_598"><path d="M 478.8 1698.12 L 478.8 1521" clip-path="url(#pb8f7d3a309)" style="fill: none; stroke-dasharray: 5.55,2.4; stroke-dashoffset: 0; stroke: #ff0000; stroke-width: 1.5"/></g><g id="line2d_599"><path d="M 498.96 1698.12 L 498.96 1521" clip-path="url(#pb8f7d3a309)" style="fill: none; stroke-dasharray: 5.55,2.4; stroke-dashoffset: 0; stroke: #ff0000; stroke-width: 1.5"/></g><g id="line2d_600"><path d="M 499.68 1698.12 L 499.68 1521" clip-path="url(#pb8f7d3a309)" style="fill: none; stroke-dasharray: 5.55,2.4; stroke-dashoffset: 0; stroke: #ff0000; stroke-width: 1.5"/></g><g id="line2d_601"><path d="M 519.84 1698.12 L 519.84 1521" clip-path="url(#pb8f7d3a309)" style="fill: none; stroke-dasharray: 5.55,2.4; stroke-dashoffset: 0; stroke: #ff0000; stroke-width: 1.5"/></g><g id="line2d_602"><path d="M 520.56 1698.12 L 520.56 1521" clip-path="url(#pb8f7d3a309)" style="fill: none; stroke-dasharray: 5.55,2.4; stroke-dashoffset: 0; stroke: #ff0000; stroke-width: 1.5"/></g><g id="line2d_603"><path d="M 543.6 1698.12 L 543.6 1521" clip-path="url(#pb8f7d3a309)" style="fill: none; stroke-dasharray: 5.55,2.4; stroke-dashoffset: 0; stroke: #ff0000; stroke-width: 1.5"/></g><g id="patch_45"><path d="M 39.96 1698.12 L 39.96 1521" style="fill: none; stroke: #000000; stroke-width: 0.8; stroke-linejoin: miter; stroke-linecap: square"/></g><g id="patch_46"><path d="M 865.8 1698.12 L 865.8 1521" style="fill: none; stroke: #000000; stroke-width: 0.8; stroke-linejoin: miter; stroke-linecap: square"/></g><g id="patch_47"><path d="M 39.492 1698.12 L 865.202 1698.12" style="fill: none; stroke: #000000; stroke-width: 0.8; stroke-linejoin: miter; stroke-linecap: square"/></g><g id="patch_48"><path d="M 39.492 1521 L 865.202 1521" style="fill: none; stroke: #000000; stroke-width: 0.8; stroke-linejoin: miter; stroke-linecap: square"/></g><g id="legend_8"><g id="patch_49"><path d="M 746.86 1543.96 L 858.67 1543.96 Q 860.67 1543.96 860.67 1541.96 L 860.67 1528 Q 860.67 1526 858.67 1526 L 746.86 1526 Q 744.86 1526 744.86 1528 L 744.86 1541.96 Q 744.86 1543.96 746.86 1543.96 z" style="fill: #ffffff; opacity: 0.8; stroke: #cccccc; stroke-linejoin: miter"/></g><g id="line2d_604"><path d="M 748.863 1534.098 L 758.863 1534.098 L 768.863 1534.098" style="fill: none; stroke-dasharray: 5.55,2.4; stroke-dashoffset: 0; stroke: #1f77b4; stroke-width: 1.5"/><g><use href="#meb56f628bb" x="758.863" y="1534.898" style="fill: #1f77b4"/></g></g><g id="text_137"><text style="font-size: 10px; font-family: 'DejaVu Sans', 'Liberation Sans', sans-serif; text-anchor: start" x="780.063" y="1537.598" transform="rotate(-0 780.063 1537.598)">Ws_W68_dydt2</text></g></g></g><g id="text_138"><text style="font-size: 12px; font-family: 'DejaVu Sans', 'Liberation Sans', sans-serif; text-anchor: middle" x="436.032" y="15.696" transform="rotate(-0 436.032 15.696)">Day 73 Ws_W68 Sensor Analysis</text></g></g><defs><clipPath id="p0566f9b55a"><rect x="39.492" y="24.84" width="825.7104" height="176.4"/></clipPath><clipPath id="p34ffaf416b"><rect x="39.492" y="238.68" width="825.7104" height="176.4"/></clipPath><clipPath id="p0531d0f12c"><rect x="39.492" y="452.52" width="825.7104" height="176.4"/></clipPath><clipPath id="pa009b8046e"><rect x="39.492" y="666.36" width="825.7104" height="176.4"/></clipPath><clipPath id="p33d261107c"><rect x="39.492" y="880.2" width="825.7104" height="176.4"/></clipPath><clipPath id="pb57f27a89d"><rect x="39.492" y="1094.04" width="825.7104" height="176.4"/></clipPath><clipPath id="pe1ecdfb261"><rect x="39.492" y="1307.16" width="825.7104" height="177.12"/></clipPath><clipPath id="pb8f7d3a309"><rect x="39.492" y="1521" width="825.7104" height="177.12"/></clipPath></defs></svg></body></html>
